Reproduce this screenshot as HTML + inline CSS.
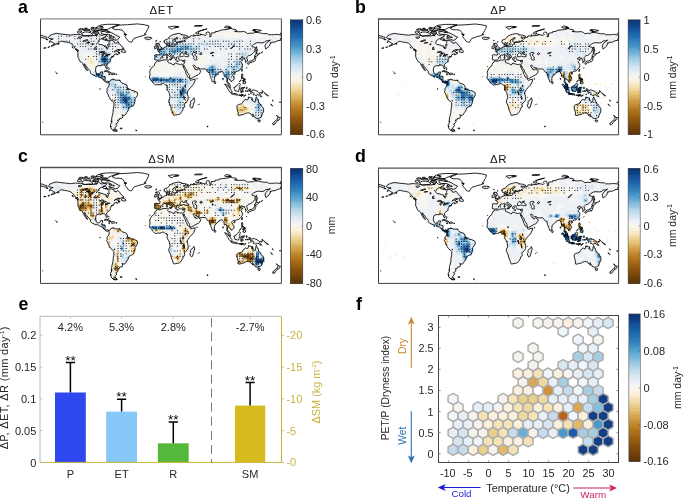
<!DOCTYPE html><html><head><meta charset="utf-8"><title>Figure</title><style>html,body{margin:0;padding:0;background:#fff}svg{display:block;will-change:transform}</style></head><body><svg width="685" height="498" viewBox="0 0 685 498" font-family='"Liberation Sans", Arial, sans-serif'>
<rect width="685" height="498" fill="#fff"/>
<g>
<path fill="#b47a1f" d="M239.9 108.5h1.5v1.7h-1.5z"/>
<path fill="#c0882d" d="M243.9 107.0h1.5v1.7h-1.5z"/>
<path fill="#cc983d" d="M171.7 111.6h1.5v1.7h-1.5z"/>
<path fill="#d6aa54" d="M245.3 107.0h1.5v1.7h-1.5zM238.6 108.5h1.5v1.7h-1.5zM241.2 108.5h1.5v1.7h-1.5zM243.9 108.5h2.8v1.7h-2.8zM239.9 110.1h1.5v1.7h-1.5zM173.0 111.6h1.5v1.7h-1.5z"/>
<path fill="#e1bd6f" d="M241.2 105.4h2.8v1.7h-2.8zM242.6 107.0h1.5v1.7h-1.5zM237.2 108.5h1.5v1.7h-1.5zM246.6 108.5h1.5v1.7h-1.5zM238.6 110.1h1.5v1.7h-1.5zM241.2 110.1h1.5v1.7h-1.5zM243.9 110.1h1.5v1.7h-1.5zM173.0 113.2h1.5v1.7h-1.5z"/>
<path fill="#eacd8b" d="M237.2 107.0h5.5v1.7h-5.5zM242.6 108.5h1.5v1.7h-1.5zM171.7 110.1h2.8v1.7h-2.8zM237.2 110.1h1.5v1.7h-1.5zM242.6 110.1h1.5v1.7h-1.5zM174.3 111.6h1.5v1.7h-1.5z"/>
<path fill="#f2dca8" d="M88.7 57.5h1.5v1.7h-1.5zM90.0 59.1h1.5v1.7h-1.5zM90.0 60.6h2.8v1.7h-2.8zM91.4 62.2h1.5v1.7h-1.5zM132.8 90.0h2.8v1.7h-2.8zM135.5 91.5h1.5v1.7h-1.5zM185.0 100.8h1.5v1.7h-1.5zM185.0 102.3h1.5v1.7h-1.5zM241.2 103.9h2.8v1.7h-2.8zM237.2 105.4h1.5v1.7h-1.5zM239.9 105.4h1.5v1.7h-1.5zM243.9 105.4h1.5v1.7h-1.5zM246.6 107.0h1.5v1.7h-1.5zM170.3 108.5h1.5v1.7h-1.5zM245.3 110.1h1.5v1.7h-1.5zM238.6 111.6h6.8v1.7h-6.8zM174.3 113.2h1.5v1.7h-1.5zM238.6 113.2h1.5v1.7h-1.5z"/>
<path fill="#f7e8c6" d="M88.7 56.0h1.5v1.7h-1.5zM87.3 57.5h1.5v1.7h-1.5zM90.0 57.5h1.5v1.7h-1.5zM87.3 59.1h2.8v1.7h-2.8zM91.4 59.1h1.5v1.7h-1.5zM90.0 62.2h1.5v1.7h-1.5zM92.7 62.2h1.5v1.7h-1.5zM134.2 91.5h1.5v1.7h-1.5zM135.5 93.1h1.5v1.7h-1.5zM185.0 99.3h2.8v1.7h-2.8zM186.4 100.8h1.5v1.7h-1.5zM239.9 103.9h1.5v1.7h-1.5zM238.6 105.4h1.5v1.7h-1.5zM245.3 105.4h1.5v1.7h-1.5zM170.3 107.0h1.5v1.7h-1.5zM247.9 107.0h1.5v1.7h-1.5zM171.7 108.5h1.5v1.7h-1.5zM247.9 108.5h1.5v1.7h-1.5zM246.6 110.1h4.2v1.7h-4.2zM237.2 111.6h1.5v1.7h-1.5zM237.2 113.2h1.5v1.7h-1.5zM239.9 113.2h4.2v1.7h-4.2zM238.6 114.7h1.5v1.7h-1.5z"/>
<path fill="#faf1e1" d="M227.9 29.7h1.5v1.7h-1.5zM207.8 31.3h1.5v1.7h-1.5zM214.5 31.3h5.5v1.7h-5.5zM221.2 31.3h9.5v1.7h-9.5zM233.2 31.3h4.2v1.7h-4.2zM214.5 32.8h5.5v1.7h-5.5zM222.5 32.8h5.5v1.7h-5.5zM229.2 32.8h1.5v1.7h-1.5zM233.2 32.8h5.5v1.7h-5.5zM249.3 32.8h2.8v1.7h-2.8zM86.0 56.0h2.8v1.7h-2.8zM90.0 56.0h2.8v1.7h-2.8zM86.0 57.5h1.5v1.7h-1.5zM91.4 57.5h2.8v1.7h-2.8zM202.4 57.5h1.5v1.7h-1.5zM86.0 59.1h1.5v1.7h-1.5zM92.7 59.1h1.5v1.7h-1.5zM86.0 60.6h4.2v1.7h-4.2zM92.7 60.6h1.5v1.7h-1.5zM87.3 62.2h2.8v1.7h-2.8zM94.0 62.2h1.5v1.7h-1.5zM87.3 63.7h8.2v1.7h-8.2zM87.3 65.3h6.8v1.7h-6.8zM88.7 66.8h2.8v1.7h-2.8zM156.9 66.8h1.5v1.7h-1.5zM187.7 66.8h1.5v1.7h-1.5zM191.7 66.8h1.5v1.7h-1.5zM156.9 68.4h1.5v1.7h-1.5zM187.7 68.4h6.8v1.7h-6.8zM190.4 69.9h2.8v1.7h-2.8zM191.7 71.4h1.5v1.7h-1.5zM191.7 73.0h1.5v1.7h-1.5zM190.4 74.5h2.8v1.7h-2.8zM194.4 74.5h1.5v1.7h-1.5zM131.5 90.0h1.5v1.7h-1.5zM131.5 91.5h2.8v1.7h-2.8zM136.9 91.5h1.5v1.7h-1.5zM134.2 94.6h2.8v1.7h-2.8zM111.4 96.2h2.8v1.7h-2.8zM111.4 97.7h2.8v1.7h-2.8zM185.0 97.7h2.8v1.7h-2.8zM183.7 100.8h1.5v1.7h-1.5zM183.7 102.3h1.5v1.7h-1.5zM241.2 102.3h2.8v1.7h-2.8zM237.2 103.9h2.8v1.7h-2.8zM170.3 105.4h1.5v1.7h-1.5zM235.9 105.4h1.5v1.7h-1.5zM246.6 105.4h1.5v1.7h-1.5zM171.7 107.0h1.5v1.7h-1.5zM235.9 107.0h1.5v1.7h-1.5zM249.3 107.0h1.5v1.7h-1.5zM173.0 108.5h1.5v1.7h-1.5zM249.3 108.5h2.8v1.7h-2.8zM174.3 110.1h1.5v1.7h-1.5zM250.6 110.1h1.5v1.7h-1.5zM118.1 111.6h1.5v1.7h-1.5zM175.7 111.6h1.5v1.7h-1.5zM245.3 111.6h1.5v1.7h-1.5zM249.3 111.6h2.8v1.7h-2.8zM118.1 113.2h1.5v1.7h-1.5zM175.7 113.2h1.5v1.7h-1.5zM243.9 113.2h1.5v1.7h-1.5zM173.0 114.7h1.5v1.7h-1.5zM237.2 114.7h1.5v1.7h-1.5zM239.9 114.7h1.5v1.7h-1.5z"/>
<path fill="#f8f6f1" d="M218.5 29.7h9.5v1.7h-9.5zM229.2 29.7h8.2v1.7h-8.2zM253.3 29.7h8.2v1.7h-8.2zM219.8 31.3h1.5v1.7h-1.5zM230.5 31.3h2.8v1.7h-2.8zM237.2 31.3h9.5v1.7h-9.5zM253.3 31.3h2.8v1.7h-2.8zM257.3 31.3h2.8v1.7h-2.8zM177.0 32.8h4.2v1.7h-4.2zM207.8 32.8h6.8v1.7h-6.8zM219.8 32.8h2.8v1.7h-2.8zM227.9 32.8h1.5v1.7h-1.5zM230.5 32.8h2.8v1.7h-2.8zM238.6 32.8h10.9v1.7h-10.9zM252.0 32.8h12.2v1.7h-12.2zM265.3 32.8h1.5v1.7h-1.5zM72.6 34.4h2.8v1.7h-2.8zM185.0 34.4h2.8v1.7h-2.8zM190.4 34.4h1.5v1.7h-1.5zM193.1 34.4h4.2v1.7h-4.2zM198.4 34.4h4.2v1.7h-4.2zM203.8 34.4h16.2v1.7h-16.2zM221.2 34.4h51.0v1.7h-51.0zM277.4 34.4h1.5v1.7h-1.5zM51.2 35.9h2.8v1.7h-2.8zM74.0 35.9h1.5v1.7h-1.5zM185.0 35.9h2.8v1.7h-2.8zM190.4 35.9h4.2v1.7h-4.2zM198.4 35.9h4.2v1.7h-4.2zM207.8 35.9h8.2v1.7h-8.2zM223.9 35.9h16.2v1.7h-16.2zM242.6 35.9h6.8v1.7h-6.8zM250.6 35.9h12.2v1.7h-12.2zM265.3 35.9h6.8v1.7h-6.8zM277.4 35.9h2.8v1.7h-2.8zM51.2 37.4h2.8v1.7h-2.8zM186.4 37.4h1.5v1.7h-1.5zM229.2 37.4h2.8v1.7h-2.8zM242.6 37.4h5.5v1.7h-5.5zM256.0 37.4h5.5v1.7h-5.5zM266.7 37.4h4.2v1.7h-4.2zM277.4 37.4h2.8v1.7h-2.8zM45.9 39.0h1.5v1.7h-1.5zM51.2 39.0h4.2v1.7h-4.2zM256.0 39.0h4.2v1.7h-4.2zM268.0 39.0h1.5v1.7h-1.5zM51.2 40.5h4.2v1.7h-4.2zM53.9 42.1h1.5v1.7h-1.5zM57.9 42.1h1.5v1.7h-1.5zM253.3 46.7h4.2v1.7h-4.2zM118.1 48.3h2.8v1.7h-2.8zM256.0 48.3h1.5v1.7h-1.5zM111.4 49.8h1.5v1.7h-1.5zM118.1 49.8h2.8v1.7h-2.8zM86.0 52.9h5.5v1.7h-5.5zM201.1 52.9h4.2v1.7h-4.2zM207.8 52.9h4.2v1.7h-4.2zM217.2 52.9h2.8v1.7h-2.8zM227.9 52.9h4.2v1.7h-4.2zM79.3 54.4h2.8v1.7h-2.8zM83.3 54.4h9.5v1.7h-9.5zM197.1 54.4h13.5v1.7h-13.5zM215.8 54.4h4.2v1.7h-4.2zM221.2 54.4h1.5v1.7h-1.5zM83.3 56.0h2.8v1.7h-2.8zM92.7 56.0h1.5v1.7h-1.5zM169.0 56.0h4.2v1.7h-4.2zM195.7 56.0h14.9v1.7h-14.9zM215.8 56.0h5.5v1.7h-5.5zM84.7 57.5h1.5v1.7h-1.5zM94.0 57.5h1.5v1.7h-1.5zM166.3 57.5h1.5v1.7h-1.5zM170.3 57.5h2.8v1.7h-2.8zM189.1 57.5h1.5v1.7h-1.5zM195.7 57.5h6.8v1.7h-6.8zM203.8 57.5h6.8v1.7h-6.8zM217.2 57.5h2.8v1.7h-2.8zM253.3 57.5h2.8v1.7h-2.8zM84.7 59.1h1.5v1.7h-1.5zM94.0 59.1h2.8v1.7h-2.8zM165.0 59.1h6.8v1.7h-6.8zM174.3 59.1h1.5v1.7h-1.5zM179.7 59.1h1.5v1.7h-1.5zM187.7 59.1h4.2v1.7h-4.2zM195.7 59.1h10.9v1.7h-10.9zM207.8 59.1h1.5v1.7h-1.5zM253.3 59.1h2.8v1.7h-2.8zM83.3 60.6h2.8v1.7h-2.8zM94.0 60.6h2.8v1.7h-2.8zM155.6 60.6h8.2v1.7h-8.2zM165.0 60.6h4.2v1.7h-4.2zM177.0 60.6h2.8v1.7h-2.8zM187.7 60.6h4.2v1.7h-4.2zM195.7 60.6h10.9v1.7h-10.9zM207.8 60.6h1.5v1.7h-1.5zM82.0 62.2h1.5v1.7h-1.5zM86.0 62.2h1.5v1.7h-1.5zM95.4 62.2h1.5v1.7h-1.5zM154.3 62.2h9.5v1.7h-9.5zM166.3 62.2h4.2v1.7h-4.2zM186.4 62.2h5.5v1.7h-5.5zM195.7 62.2h12.2v1.7h-12.2zM86.0 63.7h1.5v1.7h-1.5zM95.4 63.7h1.5v1.7h-1.5zM154.3 63.7h16.2v1.7h-16.2zM177.0 63.7h4.2v1.7h-4.2zM185.0 63.7h8.2v1.7h-8.2zM194.4 63.7h9.5v1.7h-9.5zM84.7 65.3h2.8v1.7h-2.8zM94.0 65.3h2.8v1.7h-2.8zM148.9 65.3h1.5v1.7h-1.5zM152.9 65.3h20.2v1.7h-20.2zM177.0 65.3h4.2v1.7h-4.2zM182.4 65.3h21.6v1.7h-21.6zM86.0 66.8h2.8v1.7h-2.8zM91.4 66.8h5.5v1.7h-5.5zM151.6 66.8h5.5v1.7h-5.5zM158.3 66.8h16.2v1.7h-16.2zM177.0 66.8h10.9v1.7h-10.9zM189.1 66.8h2.8v1.7h-2.8zM193.1 66.8h1.5v1.7h-1.5zM195.7 66.8h6.8v1.7h-6.8zM84.7 68.4h12.2v1.7h-12.2zM150.2 68.4h6.8v1.7h-6.8zM158.3 68.4h4.2v1.7h-4.2zM163.6 68.4h24.2v1.7h-24.2zM194.4 68.4h1.5v1.7h-1.5zM201.1 68.4h1.5v1.7h-1.5zM88.7 69.9h4.2v1.7h-4.2zM104.7 69.9h4.2v1.7h-4.2zM148.9 69.9h41.6v1.7h-41.6zM193.1 69.9h1.5v1.7h-1.5zM106.1 71.4h5.5v1.7h-5.5zM148.9 71.4h25.6v1.7h-25.6zM175.7 71.4h4.2v1.7h-4.2zM181.0 71.4h10.9v1.7h-10.9zM193.1 71.4h1.5v1.7h-1.5zM195.7 71.4h5.5v1.7h-5.5zM148.9 73.0h25.6v1.7h-25.6zM182.4 73.0h4.2v1.7h-4.2zM187.7 73.0h4.2v1.7h-4.2zM193.1 73.0h6.8v1.7h-6.8zM151.6 74.5h5.5v1.7h-5.5zM158.3 74.5h16.2v1.7h-16.2zM182.4 74.5h2.8v1.7h-2.8zM186.4 74.5h1.5v1.7h-1.5zM189.1 74.5h1.5v1.7h-1.5zM193.1 74.5h1.5v1.7h-1.5zM195.7 74.5h2.8v1.7h-2.8zM189.1 76.1h6.8v1.7h-6.8zM241.2 76.1h1.5v1.7h-1.5zM195.7 77.6h2.8v1.7h-2.8zM241.2 77.6h2.8v1.7h-2.8zM239.9 79.2h1.5v1.7h-1.5zM242.6 79.2h1.5v1.7h-1.5zM211.8 80.7h1.5v1.7h-1.5zM238.6 80.7h2.8v1.7h-2.8zM242.6 80.7h1.5v1.7h-1.5zM242.6 82.3h1.5v1.7h-1.5zM160.9 83.8h1.5v1.7h-1.5zM229.2 85.3h1.5v1.7h-1.5zM237.2 85.3h2.8v1.7h-2.8zM226.5 86.9h1.5v1.7h-1.5zM229.2 86.9h2.8v1.7h-2.8zM237.2 86.9h1.5v1.7h-1.5zM245.3 86.9h1.5v1.7h-1.5zM229.2 88.4h2.8v1.7h-2.8zM247.9 88.4h2.8v1.7h-2.8zM239.9 90.0h2.8v1.7h-2.8zM249.3 90.0h1.5v1.7h-1.5zM239.9 91.5h4.2v1.7h-4.2zM110.1 93.1h4.2v1.7h-4.2zM134.2 93.1h1.5v1.7h-1.5zM136.9 93.1h1.5v1.7h-1.5zM110.1 94.6h4.2v1.7h-4.2zM136.9 94.6h1.5v1.7h-1.5zM110.1 96.2h1.5v1.7h-1.5zM186.4 96.2h1.5v1.7h-1.5zM110.1 97.7h1.5v1.7h-1.5zM110.1 99.3h4.2v1.7h-4.2zM183.7 99.3h1.5v1.7h-1.5zM187.7 99.3h1.5v1.7h-1.5zM111.4 100.8h2.8v1.7h-2.8zM242.6 100.8h2.8v1.7h-2.8zM112.8 102.3h1.5v1.7h-1.5zM243.9 102.3h4.2v1.7h-4.2zM112.8 103.9h2.8v1.7h-2.8zM170.3 103.9h2.8v1.7h-2.8zM183.7 103.9h1.5v1.7h-1.5zM243.9 103.9h5.5v1.7h-5.5zM270.7 103.9h1.5v1.7h-1.5zM112.8 105.4h1.5v1.7h-1.5zM171.7 105.4h2.8v1.7h-2.8zM183.7 105.4h1.5v1.7h-1.5zM247.9 105.4h4.2v1.7h-4.2zM112.8 107.0h1.5v1.7h-1.5zM173.0 107.0h1.5v1.7h-1.5zM183.7 107.0h1.5v1.7h-1.5zM250.6 107.0h1.5v1.7h-1.5zM112.8 108.5h1.5v1.7h-1.5zM116.8 108.5h2.8v1.7h-2.8zM252.0 108.5h1.5v1.7h-1.5zM116.8 110.1h5.5v1.7h-5.5zM252.0 110.1h1.5v1.7h-1.5zM115.4 111.6h2.8v1.7h-2.8zM119.5 111.6h2.8v1.7h-2.8zM246.6 111.6h2.8v1.7h-2.8zM252.0 111.6h1.5v1.7h-1.5zM114.1 113.2h4.2v1.7h-4.2zM119.5 113.2h5.5v1.7h-5.5zM177.0 113.2h1.5v1.7h-1.5zM249.3 113.2h4.2v1.7h-4.2zM114.1 114.7h10.9v1.7h-10.9zM174.3 114.7h2.8v1.7h-2.8zM250.6 114.7h2.8v1.7h-2.8zM276.0 114.7h1.5v1.7h-1.5zM114.1 116.3h9.5v1.7h-9.5zM112.8 117.8h9.5v1.7h-9.5zM276.0 117.8h1.5v1.7h-1.5zM112.8 119.3h6.8v1.7h-6.8zM274.7 119.3h2.8v1.7h-2.8zM112.8 120.9h4.2v1.7h-4.2zM118.1 120.9h1.5v1.7h-1.5zM274.7 120.9h2.8v1.7h-2.8zM274.7 122.4h1.5v1.7h-1.5zM110.1 125.5h4.2v1.7h-4.2zM111.4 127.1h4.2v1.7h-4.2zM112.8 128.6h1.5v1.7h-1.5zM112.8 130.2h1.5v1.7h-1.5z"/>
<path fill="#edf1f5" d="M252.0 29.7h1.5v1.7h-1.5zM256.0 31.3h1.5v1.7h-1.5zM52.5 32.8h10.9v1.7h-10.9zM174.3 32.8h2.8v1.7h-2.8zM264.0 32.8h1.5v1.7h-1.5zM266.7 32.8h1.5v1.7h-1.5zM280.1 32.8h1.5v1.7h-1.5zM40.5 34.4h2.8v1.7h-2.8zM49.9 34.4h22.9v1.7h-22.9zM75.3 34.4h32.3v1.7h-32.3zM108.8 34.4h8.2v1.7h-8.2zM123.5 34.4h1.5v1.7h-1.5zM170.3 34.4h14.9v1.7h-14.9zM197.1 34.4h1.5v1.7h-1.5zM202.4 34.4h1.5v1.7h-1.5zM219.8 34.4h1.5v1.7h-1.5zM272.0 34.4h5.5v1.7h-5.5zM278.7 34.4h2.8v1.7h-2.8zM40.5 35.9h6.8v1.7h-6.8zM48.5 35.9h2.8v1.7h-2.8zM53.9 35.9h20.2v1.7h-20.2zM75.3 35.9h32.3v1.7h-32.3zM108.8 35.9h12.2v1.7h-12.2zM146.2 35.9h4.2v1.7h-4.2zM169.0 35.9h4.2v1.7h-4.2zM174.3 35.9h10.9v1.7h-10.9zM187.7 35.9h2.8v1.7h-2.8zM194.4 35.9h4.2v1.7h-4.2zM202.4 35.9h5.5v1.7h-5.5zM215.8 35.9h8.2v1.7h-8.2zM239.9 35.9h2.8v1.7h-2.8zM249.3 35.9h1.5v1.7h-1.5zM262.7 35.9h2.8v1.7h-2.8zM272.0 35.9h5.5v1.7h-5.5zM280.1 35.9h1.5v1.7h-1.5zM40.5 37.4h6.8v1.7h-6.8zM48.5 37.4h2.8v1.7h-2.8zM53.9 37.4h53.7v1.7h-53.7zM108.8 37.4h10.9v1.7h-10.9zM143.6 37.4h9.5v1.7h-9.5zM167.6 37.4h4.2v1.7h-4.2zM177.0 37.4h2.8v1.7h-2.8zM181.0 37.4h4.2v1.7h-4.2zM187.7 37.4h41.6v1.7h-41.6zM231.9 37.4h10.9v1.7h-10.9zM247.9 37.4h8.2v1.7h-8.2zM261.3 37.4h5.5v1.7h-5.5zM270.7 37.4h6.8v1.7h-6.8zM280.1 37.4h1.5v1.7h-1.5zM47.2 39.0h1.5v1.7h-1.5zM49.9 39.0h1.5v1.7h-1.5zM55.2 39.0h45.7v1.7h-45.7zM102.1 39.0h1.5v1.7h-1.5zM104.7 39.0h9.5v1.7h-9.5zM115.4 39.0h2.8v1.7h-2.8zM146.2 39.0h4.2v1.7h-4.2zM155.6 39.0h1.5v1.7h-1.5zM163.6 39.0h8.2v1.7h-8.2zM181.0 39.0h1.5v1.7h-1.5zM185.0 39.0h28.3v1.7h-28.3zM223.9 39.0h14.9v1.7h-14.9zM241.2 39.0h14.9v1.7h-14.9zM260.0 39.0h8.2v1.7h-8.2zM269.4 39.0h12.2v1.7h-12.2zM48.5 40.5h2.8v1.7h-2.8zM55.2 40.5h25.6v1.7h-25.6zM83.3 40.5h5.5v1.7h-5.5zM90.0 40.5h1.5v1.7h-1.5zM95.4 40.5h4.2v1.7h-4.2zM106.1 40.5h8.2v1.7h-8.2zM116.8 40.5h1.5v1.7h-1.5zM155.6 40.5h1.5v1.7h-1.5zM159.6 40.5h1.5v1.7h-1.5zM163.6 40.5h8.2v1.7h-8.2zM186.4 40.5h4.2v1.7h-4.2zM194.4 40.5h4.2v1.7h-4.2zM210.5 40.5h1.5v1.7h-1.5zM225.2 40.5h2.8v1.7h-2.8zM234.6 40.5h1.5v1.7h-1.5zM242.6 40.5h36.3v1.7h-36.3zM52.5 42.1h1.5v1.7h-1.5zM55.2 42.1h2.8v1.7h-2.8zM67.3 42.1h13.5v1.7h-13.5zM83.3 42.1h4.2v1.7h-4.2zM90.0 42.1h1.5v1.7h-1.5zM94.0 42.1h4.2v1.7h-4.2zM111.4 42.1h8.2v1.7h-8.2zM155.6 42.1h4.2v1.7h-4.2zM163.6 42.1h6.8v1.7h-6.8zM186.4 42.1h1.5v1.7h-1.5zM194.4 42.1h2.8v1.7h-2.8zM219.8 42.1h4.2v1.7h-4.2zM225.2 42.1h2.8v1.7h-2.8zM241.2 42.1h4.2v1.7h-4.2zM246.6 42.1h26.9v1.7h-26.9zM52.5 43.6h6.8v1.7h-6.8zM71.3 43.6h9.5v1.7h-9.5zM82.0 43.6h5.5v1.7h-5.5zM90.0 43.6h6.8v1.7h-6.8zM99.4 43.6h4.2v1.7h-4.2zM107.4 43.6h1.5v1.7h-1.5zM112.8 43.6h8.2v1.7h-8.2zM155.6 43.6h4.2v1.7h-4.2zM166.3 43.6h2.8v1.7h-2.8zM195.7 43.6h1.5v1.7h-1.5zM199.8 43.6h2.8v1.7h-2.8zM215.8 43.6h1.5v1.7h-1.5zM219.8 43.6h4.2v1.7h-4.2zM239.9 43.6h4.2v1.7h-4.2zM247.9 43.6h6.8v1.7h-6.8zM265.3 43.6h5.5v1.7h-5.5zM49.9 45.2h4.2v1.7h-4.2zM72.6 45.2h14.9v1.7h-14.9zM90.0 45.2h6.8v1.7h-6.8zM107.4 45.2h2.8v1.7h-2.8zM112.8 45.2h9.5v1.7h-9.5zM156.9 45.2h2.8v1.7h-2.8zM199.8 45.2h2.8v1.7h-2.8zM209.1 45.2h4.2v1.7h-4.2zM214.5 45.2h2.8v1.7h-2.8zM219.8 45.2h2.8v1.7h-2.8zM234.6 45.2h2.8v1.7h-2.8zM238.6 45.2h6.8v1.7h-6.8zM247.9 45.2h5.5v1.7h-5.5zM264.0 45.2h5.5v1.7h-5.5zM43.2 46.7h2.8v1.7h-2.8zM47.2 46.7h2.8v1.7h-2.8zM71.3 46.7h12.2v1.7h-12.2zM86.0 46.7h1.5v1.7h-1.5zM90.0 46.7h5.5v1.7h-5.5zM107.4 46.7h16.2v1.7h-16.2zM199.8 46.7h2.8v1.7h-2.8zM206.5 46.7h12.2v1.7h-12.2zM219.8 46.7h4.2v1.7h-4.2zM227.9 46.7h4.2v1.7h-4.2zM234.6 46.7h5.5v1.7h-5.5zM241.2 46.7h5.5v1.7h-5.5zM247.9 46.7h5.5v1.7h-5.5zM265.3 46.7h4.2v1.7h-4.2zM75.3 48.3h21.6v1.7h-21.6zM107.4 48.3h10.9v1.7h-10.9zM120.8 48.3h4.2v1.7h-4.2zM202.4 48.3h1.5v1.7h-1.5zM206.5 48.3h32.3v1.7h-32.3zM241.2 48.3h5.5v1.7h-5.5zM250.6 48.3h5.5v1.7h-5.5zM265.3 48.3h1.5v1.7h-1.5zM75.3 49.8h17.5v1.7h-17.5zM94.0 49.8h1.5v1.7h-1.5zM98.0 49.8h1.5v1.7h-1.5zM108.8 49.8h2.8v1.7h-2.8zM112.8 49.8h5.5v1.7h-5.5zM120.8 49.8h5.5v1.7h-5.5zM197.1 49.8h1.5v1.7h-1.5zM201.1 49.8h36.3v1.7h-36.3zM250.6 49.8h8.2v1.7h-8.2zM76.6 51.4h16.2v1.7h-16.2zM110.1 51.4h9.5v1.7h-9.5zM120.8 51.4h5.5v1.7h-5.5zM183.7 51.4h1.5v1.7h-1.5zM197.1 51.4h40.3v1.7h-40.3zM249.3 51.4h5.5v1.7h-5.5zM256.0 51.4h1.5v1.7h-1.5zM261.3 51.4h1.5v1.7h-1.5zM78.0 52.9h8.2v1.7h-8.2zM91.4 52.9h2.8v1.7h-2.8zM111.4 52.9h9.5v1.7h-9.5zM195.7 52.9h5.5v1.7h-5.5zM205.1 52.9h2.8v1.7h-2.8zM211.8 52.9h5.5v1.7h-5.5zM219.8 52.9h8.2v1.7h-8.2zM231.9 52.9h5.5v1.7h-5.5zM249.3 52.9h4.2v1.7h-4.2zM254.6 52.9h6.8v1.7h-6.8zM76.6 54.4h2.8v1.7h-2.8zM82.0 54.4h1.5v1.7h-1.5zM92.7 54.4h2.8v1.7h-2.8zM112.8 54.4h1.5v1.7h-1.5zM116.8 54.4h1.5v1.7h-1.5zM167.6 54.4h5.5v1.7h-5.5zM175.7 54.4h1.5v1.7h-1.5zM178.3 54.4h1.5v1.7h-1.5zM190.4 54.4h2.8v1.7h-2.8zM194.4 54.4h2.8v1.7h-2.8zM210.5 54.4h5.5v1.7h-5.5zM219.8 54.4h1.5v1.7h-1.5zM222.5 54.4h14.9v1.7h-14.9zM249.3 54.4h2.8v1.7h-2.8zM254.6 54.4h4.2v1.7h-4.2zM78.0 56.0h5.5v1.7h-5.5zM94.0 56.0h5.5v1.7h-5.5zM108.8 56.0h1.5v1.7h-1.5zM112.8 56.0h1.5v1.7h-1.5zM166.3 56.0h1.5v1.7h-1.5zM173.0 56.0h21.6v1.7h-21.6zM210.5 56.0h5.5v1.7h-5.5zM221.2 56.0h16.2v1.7h-16.2zM254.6 56.0h2.8v1.7h-2.8zM78.0 57.5h6.8v1.7h-6.8zM95.4 57.5h1.5v1.7h-1.5zM162.3 57.5h1.5v1.7h-1.5zM174.3 57.5h2.8v1.7h-2.8zM178.3 57.5h10.9v1.7h-10.9zM190.4 57.5h4.2v1.7h-4.2zM210.5 57.5h6.8v1.7h-6.8zM219.8 57.5h13.5v1.7h-13.5zM78.0 59.1h6.8v1.7h-6.8zM154.3 59.1h10.9v1.7h-10.9zM175.7 59.1h1.5v1.7h-1.5zM178.3 59.1h1.5v1.7h-1.5zM181.0 59.1h6.8v1.7h-6.8zM191.7 59.1h4.2v1.7h-4.2zM206.5 59.1h1.5v1.7h-1.5zM209.1 59.1h24.2v1.7h-24.2zM241.2 59.1h1.5v1.7h-1.5zM246.6 59.1h1.5v1.7h-1.5zM252.0 59.1h1.5v1.7h-1.5zM79.3 60.6h4.2v1.7h-4.2zM96.7 60.6h1.5v1.7h-1.5zM163.6 60.6h1.5v1.7h-1.5zM175.7 60.6h1.5v1.7h-1.5zM182.4 60.6h5.5v1.7h-5.5zM191.7 60.6h4.2v1.7h-4.2zM206.5 60.6h1.5v1.7h-1.5zM209.1 60.6h24.2v1.7h-24.2zM245.3 60.6h10.9v1.7h-10.9zM83.3 62.2h2.8v1.7h-2.8zM96.7 62.2h1.5v1.7h-1.5zM163.6 62.2h2.8v1.7h-2.8zM170.3 62.2h1.5v1.7h-1.5zM174.3 62.2h2.8v1.7h-2.8zM183.7 62.2h2.8v1.7h-2.8zM191.7 62.2h4.2v1.7h-4.2zM207.8 62.2h25.6v1.7h-25.6zM245.3 62.2h6.8v1.7h-6.8zM82.0 63.7h4.2v1.7h-4.2zM96.7 63.7h2.8v1.7h-2.8zM170.3 63.7h6.8v1.7h-6.8zM181.0 63.7h4.2v1.7h-4.2zM193.1 63.7h1.5v1.7h-1.5zM203.8 63.7h6.8v1.7h-6.8zM217.2 63.7h9.5v1.7h-9.5zM230.5 63.7h2.8v1.7h-2.8zM247.9 63.7h1.5v1.7h-1.5zM83.3 65.3h1.5v1.7h-1.5zM96.7 65.3h2.8v1.7h-2.8zM173.0 65.3h4.2v1.7h-4.2zM181.0 65.3h1.5v1.7h-1.5zM203.8 65.3h1.5v1.7h-1.5zM221.2 65.3h4.2v1.7h-4.2zM84.7 66.8h1.5v1.7h-1.5zM106.1 66.8h4.2v1.7h-4.2zM174.3 66.8h2.8v1.7h-2.8zM202.4 66.8h2.8v1.7h-2.8zM221.2 66.8h2.8v1.7h-2.8zM246.6 66.8h1.5v1.7h-1.5zM106.1 68.4h1.5v1.7h-1.5zM162.3 68.4h1.5v1.7h-1.5zM195.7 68.4h5.5v1.7h-5.5zM202.4 68.4h2.8v1.7h-2.8zM229.2 68.4h1.5v1.7h-1.5zM86.0 69.9h2.8v1.7h-2.8zM92.7 69.9h2.8v1.7h-2.8zM194.4 69.9h6.8v1.7h-6.8zM55.2 71.4h1.5v1.7h-1.5zM90.0 71.4h2.8v1.7h-2.8zM174.3 71.4h1.5v1.7h-1.5zM179.7 71.4h1.5v1.7h-1.5zM194.4 71.4h1.5v1.7h-1.5zM56.6 73.0h1.5v1.7h-1.5zM90.0 73.0h2.8v1.7h-2.8zM108.8 73.0h8.2v1.7h-8.2zM174.3 73.0h8.2v1.7h-8.2zM241.2 73.0h1.5v1.7h-1.5zM108.8 74.5h1.5v1.7h-1.5zM148.9 74.5h2.8v1.7h-2.8zM156.9 74.5h1.5v1.7h-1.5zM174.3 74.5h8.2v1.7h-8.2zM185.0 74.5h1.5v1.7h-1.5zM241.2 74.5h2.8v1.7h-2.8zM144.9 76.1h1.5v1.7h-1.5zM148.9 76.1h2.8v1.7h-2.8zM159.6 76.1h9.5v1.7h-9.5zM179.7 76.1h9.5v1.7h-9.5zM210.5 76.1h1.5v1.7h-1.5zM233.2 76.1h1.5v1.7h-1.5zM189.1 77.6h4.2v1.7h-4.2zM210.5 77.6h2.8v1.7h-2.8zM231.9 77.6h2.8v1.7h-2.8zM243.9 77.6h1.5v1.7h-1.5zM116.8 79.2h4.2v1.7h-4.2zM190.4 79.2h5.5v1.7h-5.5zM211.8 79.2h2.8v1.7h-2.8zM230.5 79.2h4.2v1.7h-4.2zM243.9 79.2h1.5v1.7h-1.5zM103.4 80.7h4.2v1.7h-4.2zM116.8 80.7h4.2v1.7h-4.2zM190.4 80.7h5.5v1.7h-5.5zM213.1 80.7h2.8v1.7h-2.8zM230.5 80.7h2.8v1.7h-2.8zM243.9 80.7h2.8v1.7h-2.8zM116.8 82.3h2.8v1.7h-2.8zM120.8 82.3h2.8v1.7h-2.8zM152.9 82.3h1.5v1.7h-1.5zM158.3 82.3h8.2v1.7h-8.2zM190.4 82.3h4.2v1.7h-4.2zM214.5 82.3h1.5v1.7h-1.5zM226.5 82.3h1.5v1.7h-1.5zM238.6 82.3h1.5v1.7h-1.5zM243.9 82.3h2.8v1.7h-2.8zM118.1 83.8h1.5v1.7h-1.5zM120.8 83.8h2.8v1.7h-2.8zM124.8 83.8h2.8v1.7h-2.8zM154.3 83.8h6.8v1.7h-6.8zM163.6 83.8h4.2v1.7h-4.2zM179.7 83.8h1.5v1.7h-1.5zM190.4 83.8h4.2v1.7h-4.2zM223.9 83.8h2.8v1.7h-2.8zM227.9 83.8h2.8v1.7h-2.8zM237.2 83.8h4.2v1.7h-4.2zM243.9 83.8h1.5v1.7h-1.5zM166.3 85.3h1.5v1.7h-1.5zM169.0 85.3h1.5v1.7h-1.5zM189.1 85.3h4.2v1.7h-4.2zM225.2 85.3h4.2v1.7h-4.2zM234.6 85.3h2.8v1.7h-2.8zM166.3 86.9h5.5v1.7h-5.5zM187.7 86.9h4.2v1.7h-4.2zM227.9 86.9h1.5v1.7h-1.5zM233.2 86.9h4.2v1.7h-4.2zM238.6 86.9h1.5v1.7h-1.5zM241.2 86.9h4.2v1.7h-4.2zM246.6 86.9h1.5v1.7h-1.5zM99.4 88.4h1.5v1.7h-1.5zM128.8 88.4h2.8v1.7h-2.8zM166.3 88.4h8.2v1.7h-8.2zM187.7 88.4h2.8v1.7h-2.8zM227.9 88.4h1.5v1.7h-1.5zM233.2 88.4h10.9v1.7h-10.9zM252.0 88.4h1.5v1.7h-1.5zM106.1 90.0h1.5v1.7h-1.5zM130.2 90.0h1.5v1.7h-1.5zM167.6 90.0h6.8v1.7h-6.8zM187.7 90.0h1.5v1.7h-1.5zM227.9 90.0h4.2v1.7h-4.2zM234.6 90.0h5.5v1.7h-5.5zM242.6 90.0h1.5v1.7h-1.5zM245.3 90.0h4.2v1.7h-4.2zM250.6 90.0h6.8v1.7h-6.8zM261.3 90.0h1.5v1.7h-1.5zM106.1 91.5h8.2v1.7h-8.2zM167.6 91.5h5.5v1.7h-5.5zM229.2 91.5h2.8v1.7h-2.8zM250.6 91.5h14.9v1.7h-14.9zM107.4 93.1h2.8v1.7h-2.8zM131.5 93.1h2.8v1.7h-2.8zM169.0 93.1h4.2v1.7h-4.2zM230.5 93.1h6.8v1.7h-6.8zM247.9 93.1h1.5v1.7h-1.5zM250.6 93.1h1.5v1.7h-1.5zM253.3 93.1h9.5v1.7h-9.5zM264.0 93.1h2.8v1.7h-2.8zM107.4 94.6h2.8v1.7h-2.8zM114.1 94.6h1.5v1.7h-1.5zM132.8 94.6h1.5v1.7h-1.5zM169.0 94.6h2.8v1.7h-2.8zM186.4 94.6h1.5v1.7h-1.5zM234.6 94.6h12.2v1.7h-12.2zM253.3 94.6h8.2v1.7h-8.2zM265.3 94.6h4.2v1.7h-4.2zM108.8 96.2h1.5v1.7h-1.5zM114.1 96.2h1.5v1.7h-1.5zM134.2 96.2h2.8v1.7h-2.8zM169.0 96.2h2.8v1.7h-2.8zM185.0 96.2h1.5v1.7h-1.5zM187.7 96.2h2.8v1.7h-2.8zM242.6 96.2h1.5v1.7h-1.5zM247.9 96.2h2.8v1.7h-2.8zM260.0 96.2h2.8v1.7h-2.8zM108.8 97.7h1.5v1.7h-1.5zM114.1 97.7h1.5v1.7h-1.5zM169.0 97.7h2.8v1.7h-2.8zM183.7 97.7h1.5v1.7h-1.5zM187.7 97.7h1.5v1.7h-1.5zM193.1 97.7h1.5v1.7h-1.5zM247.9 97.7h2.8v1.7h-2.8zM114.1 99.3h1.5v1.7h-1.5zM169.0 99.3h5.5v1.7h-5.5zM190.4 99.3h5.5v1.7h-5.5zM243.9 99.3h5.5v1.7h-5.5zM272.0 99.3h1.5v1.7h-1.5zM114.1 100.8h1.5v1.7h-1.5zM167.6 100.8h6.8v1.7h-6.8zM190.4 100.8h4.2v1.7h-4.2zM245.3 100.8h4.2v1.7h-4.2zM272.0 100.8h1.5v1.7h-1.5zM278.7 100.8h2.8v1.7h-2.8zM114.1 102.3h2.8v1.7h-2.8zM169.0 102.3h6.8v1.7h-6.8zM190.4 102.3h4.2v1.7h-4.2zM247.9 102.3h6.8v1.7h-6.8zM115.4 103.9h2.8v1.7h-2.8zM169.0 103.9h1.5v1.7h-1.5zM173.0 103.9h2.8v1.7h-2.8zM189.1 103.9h5.5v1.7h-5.5zM197.1 103.9h2.8v1.7h-2.8zM249.3 103.9h5.5v1.7h-5.5zM114.1 105.4h5.5v1.7h-5.5zM189.1 105.4h4.2v1.7h-4.2zM252.0 105.4h2.8v1.7h-2.8zM272.0 105.4h1.5v1.7h-1.5zM114.1 107.0h5.5v1.7h-5.5zM174.3 107.0h1.5v1.7h-1.5zM182.4 107.0h1.5v1.7h-1.5zM190.4 107.0h2.8v1.7h-2.8zM252.0 107.0h1.5v1.7h-1.5zM261.3 107.0h1.5v1.7h-1.5zM114.1 108.5h2.8v1.7h-2.8zM119.5 108.5h1.5v1.7h-1.5zM174.3 108.5h1.5v1.7h-1.5zM182.4 108.5h1.5v1.7h-1.5zM112.8 110.1h4.2v1.7h-4.2zM122.1 110.1h1.5v1.7h-1.5zM175.7 110.1h1.5v1.7h-1.5zM181.0 110.1h1.5v1.7h-1.5zM253.3 110.1h1.5v1.7h-1.5zM112.8 111.6h2.8v1.7h-2.8zM122.1 111.6h4.2v1.7h-4.2zM177.0 111.6h5.5v1.7h-5.5zM253.3 111.6h1.5v1.7h-1.5zM112.8 113.2h1.5v1.7h-1.5zM124.8 113.2h1.5v1.7h-1.5zM178.3 113.2h2.8v1.7h-2.8zM253.3 113.2h1.5v1.7h-1.5zM111.4 114.7h2.8v1.7h-2.8zM253.3 114.7h2.8v1.7h-2.8zM111.4 116.3h2.8v1.7h-2.8zM277.4 116.3h2.8v1.7h-2.8zM111.4 117.8h1.5v1.7h-1.5zM254.6 117.8h1.5v1.7h-1.5zM277.4 117.8h2.8v1.7h-2.8zM111.4 119.3h1.5v1.7h-1.5zM257.3 119.3h4.2v1.7h-4.2zM277.4 119.3h2.8v1.7h-2.8zM41.8 120.9h1.5v1.7h-1.5zM110.1 120.9h2.8v1.7h-2.8zM116.8 120.9h1.5v1.7h-1.5zM257.3 120.9h2.8v1.7h-2.8zM273.4 120.9h1.5v1.7h-1.5zM110.1 122.4h8.2v1.7h-8.2zM272.0 122.4h2.8v1.7h-2.8zM110.1 124.0h6.8v1.7h-6.8zM272.0 124.0h2.8v1.7h-2.8zM114.1 125.5h2.8v1.7h-2.8zM206.5 125.5h2.8v1.7h-2.8zM110.1 127.1h1.5v1.7h-1.5zM119.5 127.1h2.8v1.7h-2.8zM111.4 128.6h1.5v1.7h-1.5zM114.1 128.6h2.8v1.7h-2.8zM120.8 128.6h1.5v1.7h-1.5zM114.1 130.2h4.2v1.7h-4.2zM135.5 130.2h1.5v1.7h-1.5z"/>
<path fill="#e0eaf3" d="M173.0 35.9h1.5v1.7h-1.5zM171.7 37.4h5.5v1.7h-5.5zM179.7 37.4h1.5v1.7h-1.5zM103.4 39.0h1.5v1.7h-1.5zM114.1 39.0h1.5v1.7h-1.5zM171.7 39.0h9.5v1.7h-9.5zM182.4 39.0h2.8v1.7h-2.8zM213.1 39.0h10.9v1.7h-10.9zM238.6 39.0h2.8v1.7h-2.8zM80.7 40.5h2.8v1.7h-2.8zM88.7 40.5h1.5v1.7h-1.5zM91.4 40.5h4.2v1.7h-4.2zM171.7 40.5h1.5v1.7h-1.5zM174.3 40.5h12.2v1.7h-12.2zM190.4 40.5h4.2v1.7h-4.2zM198.4 40.5h12.2v1.7h-12.2zM211.8 40.5h2.8v1.7h-2.8zM215.8 40.5h9.5v1.7h-9.5zM227.9 40.5h6.8v1.7h-6.8zM235.9 40.5h6.8v1.7h-6.8zM80.7 42.1h2.8v1.7h-2.8zM87.3 42.1h2.8v1.7h-2.8zM91.4 42.1h2.8v1.7h-2.8zM108.8 42.1h2.8v1.7h-2.8zM170.3 42.1h2.8v1.7h-2.8zM175.7 42.1h6.8v1.7h-6.8zM183.7 42.1h2.8v1.7h-2.8zM187.7 42.1h6.8v1.7h-6.8zM197.1 42.1h5.5v1.7h-5.5zM205.1 42.1h8.2v1.7h-8.2zM214.5 42.1h5.5v1.7h-5.5zM223.9 42.1h1.5v1.7h-1.5zM227.9 42.1h4.2v1.7h-4.2zM233.2 42.1h8.2v1.7h-8.2zM245.3 42.1h1.5v1.7h-1.5zM80.7 43.6h1.5v1.7h-1.5zM87.3 43.6h2.8v1.7h-2.8zM96.7 43.6h2.8v1.7h-2.8zM108.8 43.6h4.2v1.7h-4.2zM169.0 43.6h1.5v1.7h-1.5zM186.4 43.6h2.8v1.7h-2.8zM190.4 43.6h5.5v1.7h-5.5zM197.1 43.6h2.8v1.7h-2.8zM206.5 43.6h9.5v1.7h-9.5zM217.2 43.6h2.8v1.7h-2.8zM223.9 43.6h8.2v1.7h-8.2zM233.2 43.6h6.8v1.7h-6.8zM243.9 43.6h4.2v1.7h-4.2zM87.3 45.2h2.8v1.7h-2.8zM96.7 45.2h9.5v1.7h-9.5zM110.1 45.2h2.8v1.7h-2.8zM154.3 45.2h2.8v1.7h-2.8zM159.6 45.2h1.5v1.7h-1.5zM166.3 45.2h4.2v1.7h-4.2zM198.4 45.2h1.5v1.7h-1.5zM202.4 45.2h1.5v1.7h-1.5zM205.1 45.2h4.2v1.7h-4.2zM213.1 45.2h1.5v1.7h-1.5zM217.2 45.2h2.8v1.7h-2.8zM222.5 45.2h9.5v1.7h-9.5zM233.2 45.2h1.5v1.7h-1.5zM237.2 45.2h1.5v1.7h-1.5zM245.3 45.2h2.8v1.7h-2.8zM83.3 46.7h2.8v1.7h-2.8zM87.3 46.7h2.8v1.7h-2.8zM95.4 46.7h12.2v1.7h-12.2zM155.6 46.7h4.2v1.7h-4.2zM202.4 46.7h4.2v1.7h-4.2zM218.5 46.7h1.5v1.7h-1.5zM223.9 46.7h4.2v1.7h-4.2zM231.9 46.7h2.8v1.7h-2.8zM239.9 46.7h1.5v1.7h-1.5zM246.6 46.7h1.5v1.7h-1.5zM96.7 48.3h10.9v1.7h-10.9zM197.1 48.3h5.5v1.7h-5.5zM203.8 48.3h2.8v1.7h-2.8zM238.6 48.3h2.8v1.7h-2.8zM246.6 48.3h4.2v1.7h-4.2zM92.7 49.8h1.5v1.7h-1.5zM95.4 49.8h2.8v1.7h-2.8zM99.4 49.8h2.8v1.7h-2.8zM107.4 49.8h1.5v1.7h-1.5zM198.4 49.8h2.8v1.7h-2.8zM237.2 49.8h13.5v1.7h-13.5zM92.7 51.4h6.8v1.7h-6.8zM104.7 51.4h1.5v1.7h-1.5zM108.8 51.4h1.5v1.7h-1.5zM182.4 51.4h1.5v1.7h-1.5zM237.2 51.4h2.8v1.7h-2.8zM241.2 51.4h2.8v1.7h-2.8zM247.9 51.4h1.5v1.7h-1.5zM94.0 52.9h4.2v1.7h-4.2zM108.8 52.9h2.8v1.7h-2.8zM169.0 52.9h2.8v1.7h-2.8zM182.4 52.9h2.8v1.7h-2.8zM190.4 52.9h2.8v1.7h-2.8zM194.4 52.9h1.5v1.7h-1.5zM237.2 52.9h5.5v1.7h-5.5zM247.9 52.9h1.5v1.7h-1.5zM95.4 54.4h2.8v1.7h-2.8zM108.8 54.4h4.2v1.7h-4.2zM166.3 54.4h1.5v1.7h-1.5zM173.0 54.4h2.8v1.7h-2.8zM177.0 54.4h1.5v1.7h-1.5zM179.7 54.4h1.5v1.7h-1.5zM187.7 54.4h2.8v1.7h-2.8zM237.2 54.4h4.2v1.7h-4.2zM247.9 54.4h1.5v1.7h-1.5zM110.1 56.0h2.8v1.7h-2.8zM237.2 56.0h1.5v1.7h-1.5zM96.7 57.5h2.8v1.7h-2.8zM154.3 57.5h1.5v1.7h-1.5zM159.6 57.5h1.5v1.7h-1.5zM233.2 57.5h6.8v1.7h-6.8zM245.3 57.5h2.8v1.7h-2.8zM96.7 59.1h2.8v1.7h-2.8zM233.2 59.1h4.2v1.7h-4.2zM238.6 59.1h2.8v1.7h-2.8zM245.3 59.1h1.5v1.7h-1.5zM98.0 60.6h1.5v1.7h-1.5zM110.1 60.6h1.5v1.7h-1.5zM233.2 60.6h1.5v1.7h-1.5zM239.9 60.6h1.5v1.7h-1.5zM98.0 62.2h1.5v1.7h-1.5zM233.2 62.2h1.5v1.7h-1.5zM241.2 62.2h1.5v1.7h-1.5zM99.4 63.7h4.2v1.7h-4.2zM210.5 63.7h1.5v1.7h-1.5zM215.8 63.7h1.5v1.7h-1.5zM226.5 63.7h4.2v1.7h-4.2zM233.2 63.7h1.5v1.7h-1.5zM99.4 65.3h2.8v1.7h-2.8zM106.1 65.3h1.5v1.7h-1.5zM205.1 65.3h2.8v1.7h-2.8zM215.8 65.3h1.5v1.7h-1.5zM218.5 65.3h2.8v1.7h-2.8zM225.2 65.3h1.5v1.7h-1.5zM104.7 66.8h1.5v1.7h-1.5zM205.1 66.8h1.5v1.7h-1.5zM218.5 66.8h2.8v1.7h-2.8zM223.9 66.8h1.5v1.7h-1.5zM229.2 66.8h1.5v1.7h-1.5zM205.1 68.4h1.5v1.7h-1.5zM219.8 68.4h5.5v1.7h-5.5zM95.4 69.9h1.5v1.7h-1.5zM219.8 69.9h2.8v1.7h-2.8zM229.2 69.9h1.5v1.7h-1.5zM241.2 69.9h1.5v1.7h-1.5zM92.7 71.4h1.5v1.7h-1.5zM103.4 71.4h1.5v1.7h-1.5zM218.5 71.4h2.8v1.7h-2.8zM230.5 71.4h1.5v1.7h-1.5zM92.7 73.0h1.5v1.7h-1.5zM209.1 73.0h1.5v1.7h-1.5zM222.5 73.0h1.5v1.7h-1.5zM233.2 73.0h2.8v1.7h-2.8zM209.1 74.5h1.5v1.7h-1.5zM231.9 74.5h1.5v1.7h-1.5zM151.6 76.1h1.5v1.7h-1.5zM155.6 76.1h4.2v1.7h-4.2zM169.0 76.1h10.9v1.7h-10.9zM211.8 76.1h1.5v1.7h-1.5zM231.9 76.1h1.5v1.7h-1.5zM112.8 77.6h1.5v1.7h-1.5zM187.7 77.6h1.5v1.7h-1.5zM213.1 77.6h1.5v1.7h-1.5zM222.5 77.6h1.5v1.7h-1.5zM230.5 77.6h1.5v1.7h-1.5zM104.7 79.2h1.5v1.7h-1.5zM114.1 79.2h2.8v1.7h-2.8zM189.1 79.2h1.5v1.7h-1.5zM222.5 79.2h1.5v1.7h-1.5zM107.4 80.7h1.5v1.7h-1.5zM115.4 80.7h1.5v1.7h-1.5zM189.1 80.7h1.5v1.7h-1.5zM226.5 80.7h1.5v1.7h-1.5zM106.1 82.3h1.5v1.7h-1.5zM115.4 82.3h1.5v1.7h-1.5zM119.5 82.3h1.5v1.7h-1.5zM154.3 82.3h4.2v1.7h-4.2zM166.3 82.3h2.8v1.7h-2.8zM178.3 82.3h4.2v1.7h-4.2zM189.1 82.3h1.5v1.7h-1.5zM227.9 82.3h1.5v1.7h-1.5zM116.8 83.8h1.5v1.7h-1.5zM119.5 83.8h1.5v1.7h-1.5zM123.5 83.8h1.5v1.7h-1.5zM167.6 83.8h5.5v1.7h-5.5zM178.3 83.8h1.5v1.7h-1.5zM181.0 83.8h1.5v1.7h-1.5zM187.7 83.8h2.8v1.7h-2.8zM108.8 85.3h1.5v1.7h-1.5zM120.8 85.3h6.8v1.7h-6.8zM167.6 85.3h1.5v1.7h-1.5zM170.3 85.3h2.8v1.7h-2.8zM178.3 85.3h2.8v1.7h-2.8zM186.4 85.3h2.8v1.7h-2.8zM107.4 86.9h5.5v1.7h-5.5zM122.1 86.9h4.2v1.7h-4.2zM171.7 86.9h8.2v1.7h-8.2zM185.0 86.9h2.8v1.7h-2.8zM106.1 88.4h6.8v1.7h-6.8zM123.5 88.4h1.5v1.7h-1.5zM127.5 88.4h1.5v1.7h-1.5zM174.3 88.4h2.8v1.7h-2.8zM178.3 88.4h1.5v1.7h-1.5zM186.4 88.4h1.5v1.7h-1.5zM107.4 90.0h5.5v1.7h-5.5zM123.5 90.0h1.5v1.7h-1.5zM128.8 90.0h1.5v1.7h-1.5zM174.3 90.0h2.8v1.7h-2.8zM114.1 91.5h1.5v1.7h-1.5zM130.2 91.5h1.5v1.7h-1.5zM173.0 91.5h4.2v1.7h-4.2zM186.4 91.5h1.5v1.7h-1.5zM114.1 93.1h1.5v1.7h-1.5zM173.0 93.1h1.5v1.7h-1.5zM186.4 93.1h1.5v1.7h-1.5zM115.4 94.6h1.5v1.7h-1.5zM131.5 94.6h1.5v1.7h-1.5zM171.7 94.6h2.8v1.7h-2.8zM115.4 96.2h2.8v1.7h-2.8zM132.8 96.2h1.5v1.7h-1.5zM171.7 96.2h1.5v1.7h-1.5zM183.7 96.2h1.5v1.7h-1.5zM256.0 96.2h1.5v1.7h-1.5zM115.4 97.7h1.5v1.7h-1.5zM171.7 97.7h5.5v1.7h-5.5zM250.6 97.7h2.8v1.7h-2.8zM254.6 97.7h2.8v1.7h-2.8zM115.4 99.3h1.5v1.7h-1.5zM174.3 99.3h2.8v1.7h-2.8zM249.3 99.3h2.8v1.7h-2.8zM254.6 99.3h1.5v1.7h-1.5zM115.4 100.8h1.5v1.7h-1.5zM134.2 100.8h1.5v1.7h-1.5zM174.3 100.8h1.5v1.7h-1.5zM182.4 100.8h1.5v1.7h-1.5zM249.3 100.8h6.8v1.7h-6.8zM116.8 102.3h1.5v1.7h-1.5zM134.2 102.3h1.5v1.7h-1.5zM175.7 102.3h1.5v1.7h-1.5zM182.4 102.3h1.5v1.7h-1.5zM254.6 102.3h2.8v1.7h-2.8zM118.1 103.9h2.8v1.7h-2.8zM175.7 103.9h1.5v1.7h-1.5zM254.6 103.9h1.5v1.7h-1.5zM119.5 105.4h1.5v1.7h-1.5zM174.3 105.4h1.5v1.7h-1.5zM182.4 105.4h1.5v1.7h-1.5zM254.6 105.4h1.5v1.7h-1.5zM119.5 107.0h1.5v1.7h-1.5zM181.0 107.0h1.5v1.7h-1.5zM253.3 107.0h2.8v1.7h-2.8zM262.7 107.0h1.5v1.7h-1.5zM120.8 108.5h1.5v1.7h-1.5zM175.7 108.5h1.5v1.7h-1.5zM181.0 108.5h1.5v1.7h-1.5zM253.3 108.5h1.5v1.7h-1.5zM262.7 108.5h1.5v1.7h-1.5zM123.5 110.1h2.8v1.7h-2.8zM127.5 110.1h1.5v1.7h-1.5zM177.0 110.1h4.2v1.7h-4.2zM262.7 110.1h1.5v1.7h-1.5zM126.2 111.6h1.5v1.7h-1.5zM254.6 111.6h1.5v1.7h-1.5zM261.3 111.6h2.8v1.7h-2.8zM254.6 113.2h5.5v1.7h-5.5zM261.3 113.2h1.5v1.7h-1.5zM256.0 114.7h6.8v1.7h-6.8zM254.6 116.3h6.8v1.7h-6.8zM256.0 117.8h4.2v1.7h-4.2z"/>
<path fill="#d0e2ef" d="M214.5 40.5h1.5v1.7h-1.5zM182.4 42.1h1.5v1.7h-1.5zM202.4 42.1h2.8v1.7h-2.8zM213.1 42.1h1.5v1.7h-1.5zM231.9 42.1h1.5v1.7h-1.5zM170.3 43.6h5.5v1.7h-5.5zM177.0 43.6h5.5v1.7h-5.5zM189.1 43.6h1.5v1.7h-1.5zM202.4 43.6h1.5v1.7h-1.5zM205.1 43.6h1.5v1.7h-1.5zM231.9 43.6h1.5v1.7h-1.5zM170.3 45.2h1.5v1.7h-1.5zM191.7 45.2h6.8v1.7h-6.8zM203.8 45.2h1.5v1.7h-1.5zM231.9 45.2h1.5v1.7h-1.5zM154.3 46.7h1.5v1.7h-1.5zM165.0 46.7h1.5v1.7h-1.5zM167.6 46.7h4.2v1.7h-4.2zM198.4 46.7h1.5v1.7h-1.5zM154.3 48.3h1.5v1.7h-1.5zM156.9 48.3h1.5v1.7h-1.5zM102.1 49.8h5.5v1.7h-5.5zM99.4 51.4h2.8v1.7h-2.8zM106.1 51.4h2.8v1.7h-2.8zM167.6 51.4h1.5v1.7h-1.5zM185.0 51.4h2.8v1.7h-2.8zM190.4 51.4h2.8v1.7h-2.8zM195.7 51.4h1.5v1.7h-1.5zM239.9 51.4h1.5v1.7h-1.5zM243.9 51.4h1.5v1.7h-1.5zM246.6 51.4h1.5v1.7h-1.5zM98.0 52.9h1.5v1.7h-1.5zM103.4 52.9h2.8v1.7h-2.8zM166.3 52.9h2.8v1.7h-2.8zM175.7 52.9h5.5v1.7h-5.5zM185.0 52.9h2.8v1.7h-2.8zM189.1 52.9h1.5v1.7h-1.5zM242.6 52.9h1.5v1.7h-1.5zM246.6 52.9h1.5v1.7h-1.5zM98.0 54.4h1.5v1.7h-1.5zM104.7 54.4h1.5v1.7h-1.5zM165.0 54.4h1.5v1.7h-1.5zM241.2 54.4h1.5v1.7h-1.5zM246.6 54.4h1.5v1.7h-1.5zM99.4 56.0h1.5v1.7h-1.5zM107.4 56.0h1.5v1.7h-1.5zM159.6 56.0h4.2v1.7h-4.2zM238.6 56.0h2.8v1.7h-2.8zM243.9 56.0h4.2v1.7h-4.2zM108.8 57.5h2.8v1.7h-2.8zM156.9 57.5h2.8v1.7h-2.8zM239.9 57.5h1.5v1.7h-1.5zM242.6 57.5h2.8v1.7h-2.8zM110.1 59.1h1.5v1.7h-1.5zM237.2 59.1h1.5v1.7h-1.5zM242.6 59.1h2.8v1.7h-2.8zM108.8 60.6h1.5v1.7h-1.5zM234.6 60.6h2.8v1.7h-2.8zM238.6 60.6h1.5v1.7h-1.5zM99.4 62.2h2.8v1.7h-2.8zM239.9 62.2h1.5v1.7h-1.5zM211.8 63.7h4.2v1.7h-4.2zM239.9 63.7h2.8v1.7h-2.8zM104.7 65.3h1.5v1.7h-1.5zM207.8 65.3h1.5v1.7h-1.5zM217.2 65.3h1.5v1.7h-1.5zM226.5 65.3h2.8v1.7h-2.8zM230.5 65.3h1.5v1.7h-1.5zM206.5 66.8h1.5v1.7h-1.5zM215.8 66.8h2.8v1.7h-2.8zM225.2 66.8h1.5v1.7h-1.5zM227.9 66.8h1.5v1.7h-1.5zM215.8 68.4h1.5v1.7h-1.5zM218.5 68.4h1.5v1.7h-1.5zM227.9 68.4h1.5v1.7h-1.5zM241.2 68.4h1.5v1.7h-1.5zM214.5 69.9h2.8v1.7h-2.8zM222.5 69.9h2.8v1.7h-2.8zM230.5 69.9h1.5v1.7h-1.5zM237.2 69.9h2.8v1.7h-2.8zM94.0 71.4h2.8v1.7h-2.8zM99.4 71.4h1.5v1.7h-1.5zM102.1 71.4h1.5v1.7h-1.5zM217.2 71.4h1.5v1.7h-1.5zM222.5 71.4h1.5v1.7h-1.5zM229.2 71.4h1.5v1.7h-1.5zM234.6 71.4h1.5v1.7h-1.5zM217.2 73.0h1.5v1.7h-1.5zM230.5 73.0h1.5v1.7h-1.5zM92.7 74.5h1.5v1.7h-1.5zM210.5 74.5h1.5v1.7h-1.5zM230.5 74.5h1.5v1.7h-1.5zM104.7 76.1h1.5v1.7h-1.5zM152.9 76.1h2.8v1.7h-2.8zM230.5 76.1h1.5v1.7h-1.5zM104.7 77.6h1.5v1.7h-1.5zM182.4 77.6h2.8v1.7h-2.8zM229.2 77.6h1.5v1.7h-1.5zM103.4 79.2h1.5v1.7h-1.5zM110.1 79.2h4.2v1.7h-4.2zM226.5 79.2h1.5v1.7h-1.5zM229.2 79.2h1.5v1.7h-1.5zM108.8 80.7h6.8v1.7h-6.8zM107.4 82.3h1.5v1.7h-1.5zM112.8 82.3h2.8v1.7h-2.8zM169.0 82.3h4.2v1.7h-4.2zM182.4 82.3h2.8v1.7h-2.8zM187.7 82.3h1.5v1.7h-1.5zM115.4 83.8h1.5v1.7h-1.5zM173.0 83.8h1.5v1.7h-1.5zM175.7 83.8h2.8v1.7h-2.8zM182.4 83.8h2.8v1.7h-2.8zM116.8 85.3h4.2v1.7h-4.2zM173.0 85.3h5.5v1.7h-5.5zM181.0 85.3h1.5v1.7h-1.5zM185.0 85.3h1.5v1.7h-1.5zM116.8 86.9h1.5v1.7h-1.5zM120.8 86.9h1.5v1.7h-1.5zM126.2 86.9h1.5v1.7h-1.5zM179.7 86.9h1.5v1.7h-1.5zM112.8 88.4h1.5v1.7h-1.5zM122.1 88.4h1.5v1.7h-1.5zM124.8 88.4h2.8v1.7h-2.8zM177.0 88.4h1.5v1.7h-1.5zM185.0 88.4h1.5v1.7h-1.5zM112.8 90.0h2.8v1.7h-2.8zM124.8 90.0h1.5v1.7h-1.5zM127.5 90.0h1.5v1.7h-1.5zM177.0 90.0h1.5v1.7h-1.5zM186.4 90.0h1.5v1.7h-1.5zM123.5 91.5h2.8v1.7h-2.8zM177.0 91.5h1.5v1.7h-1.5zM130.2 93.1h1.5v1.7h-1.5zM174.3 93.1h4.2v1.7h-4.2zM116.8 94.6h1.5v1.7h-1.5zM174.3 94.6h4.2v1.7h-4.2zM185.0 94.6h1.5v1.7h-1.5zM131.5 96.2h1.5v1.7h-1.5zM173.0 96.2h5.5v1.7h-5.5zM116.8 97.7h1.5v1.7h-1.5zM131.5 97.7h1.5v1.7h-1.5zM134.2 97.7h1.5v1.7h-1.5zM177.0 97.7h1.5v1.7h-1.5zM182.4 97.7h1.5v1.7h-1.5zM116.8 99.3h1.5v1.7h-1.5zM177.0 99.3h1.5v1.7h-1.5zM179.7 99.3h4.2v1.7h-4.2zM252.0 99.3h1.5v1.7h-1.5zM256.0 99.3h1.5v1.7h-1.5zM116.8 100.8h1.5v1.7h-1.5zM128.8 100.8h1.5v1.7h-1.5zM175.7 100.8h2.8v1.7h-2.8zM181.0 100.8h1.5v1.7h-1.5zM256.0 100.8h1.5v1.7h-1.5zM118.1 102.3h1.5v1.7h-1.5zM132.8 102.3h1.5v1.7h-1.5zM177.0 102.3h2.8v1.7h-2.8zM181.0 102.3h1.5v1.7h-1.5zM120.8 103.9h1.5v1.7h-1.5zM132.8 103.9h1.5v1.7h-1.5zM182.4 103.9h1.5v1.7h-1.5zM120.8 105.4h1.5v1.7h-1.5zM132.8 105.4h1.5v1.7h-1.5zM175.7 105.4h1.5v1.7h-1.5zM181.0 105.4h1.5v1.7h-1.5zM261.3 105.4h1.5v1.7h-1.5zM120.8 107.0h1.5v1.7h-1.5zM175.7 107.0h1.5v1.7h-1.5zM179.7 107.0h1.5v1.7h-1.5zM260.0 107.0h1.5v1.7h-1.5zM122.1 108.5h4.2v1.7h-4.2zM177.0 108.5h1.5v1.7h-1.5zM179.7 108.5h1.5v1.7h-1.5zM254.6 108.5h1.5v1.7h-1.5zM261.3 108.5h1.5v1.7h-1.5zM126.2 110.1h1.5v1.7h-1.5zM254.6 110.1h1.5v1.7h-1.5zM261.3 110.1h1.5v1.7h-1.5zM257.3 111.6h2.8v1.7h-2.8zM260.0 113.2h1.5v1.7h-1.5z"/>
<path fill="#bad7ea" d="M175.7 43.6h1.5v1.7h-1.5zM182.4 43.6h4.2v1.7h-4.2zM203.8 43.6h1.5v1.7h-1.5zM178.3 45.2h1.5v1.7h-1.5zM189.1 45.2h2.8v1.7h-2.8zM159.6 46.7h1.5v1.7h-1.5zM163.6 46.7h1.5v1.7h-1.5zM166.3 46.7h1.5v1.7h-1.5zM174.3 46.7h1.5v1.7h-1.5zM178.3 46.7h1.5v1.7h-1.5zM191.7 46.7h4.2v1.7h-4.2zM197.1 46.7h1.5v1.7h-1.5zM158.3 48.3h1.5v1.7h-1.5zM165.0 48.3h1.5v1.7h-1.5zM167.6 48.3h2.8v1.7h-2.8zM193.1 48.3h1.5v1.7h-1.5zM195.7 48.3h1.5v1.7h-1.5zM156.9 49.8h1.5v1.7h-1.5zM167.6 49.8h1.5v1.7h-1.5zM182.4 49.8h2.8v1.7h-2.8zM186.4 49.8h4.2v1.7h-4.2zM195.7 49.8h1.5v1.7h-1.5zM103.4 51.4h1.5v1.7h-1.5zM158.3 51.4h1.5v1.7h-1.5zM166.3 51.4h1.5v1.7h-1.5zM181.0 51.4h1.5v1.7h-1.5zM187.7 51.4h2.8v1.7h-2.8zM193.1 51.4h1.5v1.7h-1.5zM245.3 51.4h1.5v1.7h-1.5zM102.1 52.9h1.5v1.7h-1.5zM106.1 52.9h2.8v1.7h-2.8zM187.7 52.9h1.5v1.7h-1.5zM243.9 52.9h2.8v1.7h-2.8zM99.4 54.4h5.5v1.7h-5.5zM106.1 54.4h2.8v1.7h-2.8zM158.3 54.4h1.5v1.7h-1.5zM242.6 54.4h4.2v1.7h-4.2zM158.3 56.0h1.5v1.7h-1.5zM241.2 56.0h2.8v1.7h-2.8zM155.6 57.5h1.5v1.7h-1.5zM108.8 59.1h1.5v1.7h-1.5zM237.2 60.6h1.5v1.7h-1.5zM234.6 62.2h1.5v1.7h-1.5zM234.6 63.7h1.5v1.7h-1.5zM209.1 65.3h1.5v1.7h-1.5zM213.1 65.3h2.8v1.7h-2.8zM229.2 65.3h1.5v1.7h-1.5zM231.9 65.3h1.5v1.7h-1.5zM234.6 65.3h1.5v1.7h-1.5zM237.2 65.3h5.5v1.7h-5.5zM207.8 66.8h1.5v1.7h-1.5zM226.5 66.8h1.5v1.7h-1.5zM230.5 66.8h1.5v1.7h-1.5zM237.2 66.8h5.5v1.7h-5.5zM217.2 68.4h1.5v1.7h-1.5zM225.2 68.4h1.5v1.7h-1.5zM230.5 68.4h1.5v1.7h-1.5zM234.6 68.4h1.5v1.7h-1.5zM237.2 68.4h4.2v1.7h-4.2zM217.2 69.9h2.8v1.7h-2.8zM225.2 69.9h1.5v1.7h-1.5zM235.9 69.9h1.5v1.7h-1.5zM100.7 71.4h1.5v1.7h-1.5zM209.1 71.4h1.5v1.7h-1.5zM223.9 71.4h1.5v1.7h-1.5zM231.9 71.4h2.8v1.7h-2.8zM94.0 73.0h1.5v1.7h-1.5zM223.9 73.0h1.5v1.7h-1.5zM94.0 74.5h1.5v1.7h-1.5zM211.8 74.5h1.5v1.7h-1.5zM223.9 74.5h1.5v1.7h-1.5zM95.4 76.1h1.5v1.7h-1.5zM213.1 76.1h2.8v1.7h-2.8zM229.2 76.1h1.5v1.7h-1.5zM148.9 77.6h1.5v1.7h-1.5zM185.0 77.6h2.8v1.7h-2.8zM227.9 77.6h1.5v1.7h-1.5zM182.4 79.2h2.8v1.7h-2.8zM187.7 79.2h1.5v1.7h-1.5zM151.6 80.7h1.5v1.7h-1.5zM155.6 80.7h2.8v1.7h-2.8zM175.7 80.7h1.5v1.7h-1.5zM183.7 80.7h1.5v1.7h-1.5zM108.8 82.3h4.2v1.7h-4.2zM173.0 82.3h5.5v1.7h-5.5zM185.0 82.3h1.5v1.7h-1.5zM108.8 83.8h1.5v1.7h-1.5zM111.4 83.8h2.8v1.7h-2.8zM174.3 83.8h1.5v1.7h-1.5zM185.0 83.8h2.8v1.7h-2.8zM110.1 85.3h4.2v1.7h-4.2zM115.4 85.3h1.5v1.7h-1.5zM112.8 86.9h1.5v1.7h-1.5zM115.4 86.9h1.5v1.7h-1.5zM118.1 86.9h2.8v1.7h-2.8zM114.1 88.4h4.2v1.7h-4.2zM120.8 88.4h1.5v1.7h-1.5zM179.7 88.4h1.5v1.7h-1.5zM115.4 90.0h1.5v1.7h-1.5zM122.1 90.0h1.5v1.7h-1.5zM126.2 90.0h1.5v1.7h-1.5zM178.3 90.0h1.5v1.7h-1.5zM115.4 91.5h1.5v1.7h-1.5zM128.8 91.5h1.5v1.7h-1.5zM178.3 91.5h1.5v1.7h-1.5zM115.4 93.1h1.5v1.7h-1.5zM123.5 93.1h2.8v1.7h-2.8zM128.8 93.1h1.5v1.7h-1.5zM178.3 93.1h1.5v1.7h-1.5zM185.0 93.1h1.5v1.7h-1.5zM118.1 94.6h1.5v1.7h-1.5zM127.5 94.6h4.2v1.7h-4.2zM178.3 94.6h1.5v1.7h-1.5zM183.7 94.6h1.5v1.7h-1.5zM118.1 96.2h1.5v1.7h-1.5zM178.3 96.2h1.5v1.7h-1.5zM182.4 96.2h1.5v1.7h-1.5zM132.8 97.7h1.5v1.7h-1.5zM178.3 97.7h4.2v1.7h-4.2zM118.1 99.3h1.5v1.7h-1.5zM134.2 99.3h1.5v1.7h-1.5zM257.3 99.3h1.5v1.7h-1.5zM118.1 100.8h1.5v1.7h-1.5zM132.8 100.8h1.5v1.7h-1.5zM257.3 100.8h1.5v1.7h-1.5zM119.5 102.3h1.5v1.7h-1.5zM179.7 102.3h1.5v1.7h-1.5zM257.3 102.3h1.5v1.7h-1.5zM123.5 103.9h1.5v1.7h-1.5zM177.0 103.9h5.5v1.7h-5.5zM260.0 103.9h1.5v1.7h-1.5zM178.3 105.4h2.8v1.7h-2.8zM256.0 105.4h1.5v1.7h-1.5zM260.0 105.4h1.5v1.7h-1.5zM122.1 107.0h4.2v1.7h-4.2zM177.0 107.0h2.8v1.7h-2.8zM256.0 107.0h1.5v1.7h-1.5zM126.2 108.5h2.8v1.7h-2.8zM178.3 108.5h1.5v1.7h-1.5zM256.0 108.5h1.5v1.7h-1.5zM260.0 108.5h1.5v1.7h-1.5zM257.3 110.1h4.2v1.7h-4.2zM256.0 111.6h1.5v1.7h-1.5zM260.0 111.6h1.5v1.7h-1.5z"/>
<path fill="#a3cce4" d="M171.7 45.2h4.2v1.7h-4.2zM179.7 45.2h2.8v1.7h-2.8zM187.7 45.2h1.5v1.7h-1.5zM160.9 46.7h1.5v1.7h-1.5zM173.0 46.7h1.5v1.7h-1.5zM189.1 46.7h2.8v1.7h-2.8zM195.7 46.7h1.5v1.7h-1.5zM163.6 48.3h1.5v1.7h-1.5zM173.0 48.3h2.8v1.7h-2.8zM187.7 48.3h2.8v1.7h-2.8zM191.7 48.3h1.5v1.7h-1.5zM194.4 48.3h1.5v1.7h-1.5zM158.3 49.8h4.2v1.7h-4.2zM163.6 49.8h1.5v1.7h-1.5zM166.3 49.8h1.5v1.7h-1.5zM181.0 49.8h1.5v1.7h-1.5zM185.0 49.8h1.5v1.7h-1.5zM190.4 49.8h4.2v1.7h-4.2zM102.1 51.4h1.5v1.7h-1.5zM159.6 51.4h1.5v1.7h-1.5zM169.0 51.4h2.8v1.7h-2.8zM177.0 51.4h1.5v1.7h-1.5zM179.7 51.4h1.5v1.7h-1.5zM194.4 51.4h1.5v1.7h-1.5zM99.4 52.9h2.8v1.7h-2.8zM165.0 52.9h1.5v1.7h-1.5zM171.7 52.9h1.5v1.7h-1.5zM174.3 52.9h1.5v1.7h-1.5zM154.3 54.4h1.5v1.7h-1.5zM156.9 54.4h1.5v1.7h-1.5zM163.6 54.4h1.5v1.7h-1.5zM100.7 56.0h1.5v1.7h-1.5zM106.1 56.0h1.5v1.7h-1.5zM154.3 56.0h1.5v1.7h-1.5zM99.4 57.5h1.5v1.7h-1.5zM107.4 57.5h1.5v1.7h-1.5zM99.4 59.1h1.5v1.7h-1.5zM99.4 60.6h1.5v1.7h-1.5zM102.1 62.2h1.5v1.7h-1.5zM235.9 62.2h1.5v1.7h-1.5zM238.6 62.2h1.5v1.7h-1.5zM103.4 63.7h1.5v1.7h-1.5zM237.2 63.7h2.8v1.7h-2.8zM233.2 65.3h1.5v1.7h-1.5zM235.9 65.3h1.5v1.7h-1.5zM234.6 66.8h2.8v1.7h-2.8zM206.5 68.4h1.5v1.7h-1.5zM214.5 68.4h1.5v1.7h-1.5zM226.5 68.4h1.5v1.7h-1.5zM235.9 68.4h1.5v1.7h-1.5zM227.9 69.9h1.5v1.7h-1.5zM231.9 69.9h1.5v1.7h-1.5zM234.6 69.9h1.5v1.7h-1.5zM207.8 71.4h1.5v1.7h-1.5zM225.2 71.4h1.5v1.7h-1.5zM100.7 73.0h1.5v1.7h-1.5zM229.2 73.0h1.5v1.7h-1.5zM229.2 74.5h1.5v1.7h-1.5zM223.9 76.1h1.5v1.7h-1.5zM227.9 76.1h1.5v1.7h-1.5zM103.4 77.6h1.5v1.7h-1.5zM166.3 77.6h2.8v1.7h-2.8zM177.0 77.6h1.5v1.7h-1.5zM226.5 77.6h1.5v1.7h-1.5zM177.0 79.2h1.5v1.7h-1.5zM186.4 79.2h1.5v1.7h-1.5zM152.9 80.7h2.8v1.7h-2.8zM158.3 80.7h1.5v1.7h-1.5zM162.3 80.7h2.8v1.7h-2.8zM185.0 80.7h4.2v1.7h-4.2zM186.4 82.3h1.5v1.7h-1.5zM110.1 83.8h1.5v1.7h-1.5zM114.1 83.8h1.5v1.7h-1.5zM182.4 85.3h2.8v1.7h-2.8zM114.1 86.9h1.5v1.7h-1.5zM181.0 86.9h1.5v1.7h-1.5zM118.1 88.4h1.5v1.7h-1.5zM116.8 90.0h5.5v1.7h-5.5zM118.1 91.5h2.8v1.7h-2.8zM122.1 91.5h1.5v1.7h-1.5zM185.0 91.5h1.5v1.7h-1.5zM116.8 93.1h2.8v1.7h-2.8zM182.4 94.6h1.5v1.7h-1.5zM118.1 97.7h1.5v1.7h-1.5zM131.5 99.3h1.5v1.7h-1.5zM178.3 99.3h1.5v1.7h-1.5zM119.5 100.8h1.5v1.7h-1.5zM127.5 100.8h1.5v1.7h-1.5zM178.3 100.8h2.8v1.7h-2.8zM131.5 102.3h1.5v1.7h-1.5zM258.6 102.3h1.5v1.7h-1.5zM122.1 103.9h1.5v1.7h-1.5zM131.5 103.9h1.5v1.7h-1.5zM256.0 103.9h1.5v1.7h-1.5zM131.5 105.4h1.5v1.7h-1.5zM177.0 105.4h1.5v1.7h-1.5zM256.0 110.1h1.5v1.7h-1.5z"/>
<path fill="#88bedd" d="M177.0 45.2h1.5v1.7h-1.5zM182.4 45.2h2.8v1.7h-2.8zM186.4 45.2h1.5v1.7h-1.5zM171.7 46.7h1.5v1.7h-1.5zM179.7 46.7h1.5v1.7h-1.5zM159.6 48.3h1.5v1.7h-1.5zM166.3 48.3h1.5v1.7h-1.5zM170.3 48.3h1.5v1.7h-1.5zM183.7 48.3h1.5v1.7h-1.5zM162.3 49.8h1.5v1.7h-1.5zM165.0 49.8h1.5v1.7h-1.5zM194.4 49.8h1.5v1.7h-1.5zM165.0 51.4h1.5v1.7h-1.5zM175.7 51.4h1.5v1.7h-1.5zM178.3 51.4h1.5v1.7h-1.5zM159.6 52.9h1.5v1.7h-1.5zM173.0 52.9h1.5v1.7h-1.5zM159.6 54.4h1.5v1.7h-1.5zM162.3 54.4h1.5v1.7h-1.5zM156.9 56.0h1.5v1.7h-1.5zM237.2 62.2h1.5v1.7h-1.5zM104.7 63.7h2.8v1.7h-2.8zM235.9 63.7h1.5v1.7h-1.5zM210.5 65.3h2.8v1.7h-2.8zM213.1 66.8h2.8v1.7h-2.8zM231.9 66.8h1.5v1.7h-1.5zM231.9 68.4h2.8v1.7h-2.8zM206.5 69.9h1.5v1.7h-1.5zM226.5 69.9h1.5v1.7h-1.5zM233.2 69.9h1.5v1.7h-1.5zM214.5 71.4h1.5v1.7h-1.5zM95.4 73.0h1.5v1.7h-1.5zM102.1 73.0h1.5v1.7h-1.5zM210.5 73.0h1.5v1.7h-1.5zM95.4 74.5h1.5v1.7h-1.5zM213.1 74.5h1.5v1.7h-1.5zM215.8 74.5h1.5v1.7h-1.5zM225.2 74.5h1.5v1.7h-1.5zM99.4 76.1h1.5v1.7h-1.5zM103.4 76.1h1.5v1.7h-1.5zM225.2 76.1h1.5v1.7h-1.5zM100.7 77.6h2.8v1.7h-2.8zM150.2 77.6h1.5v1.7h-1.5zM163.6 77.6h2.8v1.7h-2.8zM178.3 77.6h1.5v1.7h-1.5zM181.0 77.6h1.5v1.7h-1.5zM175.7 79.2h1.5v1.7h-1.5zM185.0 79.2h1.5v1.7h-1.5zM174.3 80.7h1.5v1.7h-1.5zM182.4 80.7h1.5v1.7h-1.5zM114.1 85.3h1.5v1.7h-1.5zM183.7 86.9h1.5v1.7h-1.5zM119.5 88.4h1.5v1.7h-1.5zM183.7 88.4h1.5v1.7h-1.5zM185.0 90.0h1.5v1.7h-1.5zM116.8 91.5h1.5v1.7h-1.5zM120.8 91.5h1.5v1.7h-1.5zM126.2 91.5h2.8v1.7h-2.8zM127.5 93.1h1.5v1.7h-1.5zM126.2 94.6h1.5v1.7h-1.5zM130.2 96.2h1.5v1.7h-1.5zM119.5 99.3h1.5v1.7h-1.5zM128.8 99.3h1.5v1.7h-1.5zM132.8 99.3h1.5v1.7h-1.5zM131.5 100.8h1.5v1.7h-1.5zM120.8 102.3h1.5v1.7h-1.5zM124.8 103.9h1.5v1.7h-1.5zM130.2 103.9h1.5v1.7h-1.5zM122.1 105.4h4.2v1.7h-4.2zM130.2 105.4h1.5v1.7h-1.5zM126.2 107.0h1.5v1.7h-1.5zM128.8 107.0h1.5v1.7h-1.5zM257.3 108.5h2.8v1.7h-2.8z"/>
<path fill="#6dafd6" d="M175.7 45.2h1.5v1.7h-1.5zM185.0 45.2h1.5v1.7h-1.5zM175.7 46.7h2.8v1.7h-2.8zM182.4 46.7h2.8v1.7h-2.8zM187.7 46.7h1.5v1.7h-1.5zM160.9 48.3h1.5v1.7h-1.5zM171.7 48.3h1.5v1.7h-1.5zM175.7 48.3h1.5v1.7h-1.5zM190.4 48.3h1.5v1.7h-1.5zM169.0 49.8h1.5v1.7h-1.5zM179.7 49.8h1.5v1.7h-1.5zM160.9 51.4h1.5v1.7h-1.5zM163.6 51.4h1.5v1.7h-1.5zM163.6 52.9h1.5v1.7h-1.5zM160.9 54.4h1.5v1.7h-1.5zM104.7 56.0h1.5v1.7h-1.5zM100.7 60.6h1.5v1.7h-1.5zM107.4 60.6h1.5v1.7h-1.5zM107.4 62.2h1.5v1.7h-1.5zM233.2 66.8h1.5v1.7h-1.5zM215.8 71.4h1.5v1.7h-1.5zM99.4 73.0h1.5v1.7h-1.5zM211.8 73.0h1.5v1.7h-1.5zM225.2 73.0h1.5v1.7h-1.5zM100.7 74.5h1.5v1.7h-1.5zM98.0 76.1h1.5v1.7h-1.5zM226.5 76.1h1.5v1.7h-1.5zM158.3 77.6h1.5v1.7h-1.5zM169.0 77.6h8.2v1.7h-8.2zM179.7 77.6h1.5v1.7h-1.5zM150.2 79.2h1.5v1.7h-1.5zM159.6 80.7h2.8v1.7h-2.8zM167.6 80.7h1.5v1.7h-1.5zM182.4 86.9h1.5v1.7h-1.5zM181.0 88.4h1.5v1.7h-1.5zM119.5 93.1h1.5v1.7h-1.5zM179.7 93.1h1.5v1.7h-1.5zM183.7 93.1h1.5v1.7h-1.5zM119.5 94.6h1.5v1.7h-1.5zM119.5 97.7h2.8v1.7h-2.8zM127.5 99.3h1.5v1.7h-1.5zM122.1 102.3h2.8v1.7h-2.8zM130.2 102.3h1.5v1.7h-1.5zM257.3 103.9h2.8v1.7h-2.8zM257.3 105.4h2.8v1.7h-2.8zM127.5 107.0h1.5v1.7h-1.5zM257.3 107.0h2.8v1.7h-2.8z"/>
<path fill="#559fcd" d="M162.3 48.3h1.5v1.7h-1.5zM182.4 48.3h1.5v1.7h-1.5zM185.0 48.3h2.8v1.7h-2.8zM171.7 49.8h2.8v1.7h-2.8zM175.7 49.8h1.5v1.7h-1.5zM162.3 51.4h1.5v1.7h-1.5zM171.7 51.4h1.5v1.7h-1.5zM160.9 52.9h1.5v1.7h-1.5zM107.4 59.1h1.5v1.7h-1.5zM106.1 62.2h1.5v1.7h-1.5zM209.1 66.8h1.5v1.7h-1.5zM211.8 66.8h1.5v1.7h-1.5zM207.8 68.4h1.5v1.7h-1.5zM210.5 71.4h1.5v1.7h-1.5zM226.5 71.4h1.5v1.7h-1.5zM213.1 73.0h1.5v1.7h-1.5zM215.8 73.0h1.5v1.7h-1.5zM214.5 74.5h1.5v1.7h-1.5zM226.5 74.5h2.8v1.7h-2.8zM100.7 76.1h2.8v1.7h-2.8zM159.6 77.6h1.5v1.7h-1.5zM162.3 77.6h1.5v1.7h-1.5zM170.3 79.2h1.5v1.7h-1.5zM165.0 80.7h2.8v1.7h-2.8zM169.0 80.7h2.8v1.7h-2.8zM177.0 80.7h1.5v1.7h-1.5zM181.0 80.7h1.5v1.7h-1.5zM179.7 90.0h1.5v1.7h-1.5zM126.2 93.1h1.5v1.7h-1.5zM123.5 94.6h1.5v1.7h-1.5zM179.7 94.6h1.5v1.7h-1.5zM119.5 96.2h2.8v1.7h-2.8zM127.5 96.2h2.8v1.7h-2.8zM179.7 96.2h2.8v1.7h-2.8zM130.2 99.3h1.5v1.7h-1.5zM120.8 100.8h1.5v1.7h-1.5zM130.2 100.8h1.5v1.7h-1.5zM128.8 102.3h1.5v1.7h-1.5zM128.8 105.4h1.5v1.7h-1.5z"/>
<path fill="#3f8fc4" d="M181.0 46.7h1.5v1.7h-1.5zM178.3 48.3h1.5v1.7h-1.5zM170.3 49.8h1.5v1.7h-1.5zM177.0 49.8h1.5v1.7h-1.5zM162.3 52.9h1.5v1.7h-1.5zM155.6 54.4h1.5v1.7h-1.5zM102.1 56.0h1.5v1.7h-1.5zM155.6 56.0h1.5v1.7h-1.5zM106.1 60.6h1.5v1.7h-1.5zM210.5 66.8h1.5v1.7h-1.5zM210.5 68.4h1.5v1.7h-1.5zM213.1 71.4h1.5v1.7h-1.5zM227.9 71.4h1.5v1.7h-1.5zM214.5 73.0h1.5v1.7h-1.5zM226.5 73.0h1.5v1.7h-1.5zM151.6 77.6h1.5v1.7h-1.5zM158.3 79.2h1.5v1.7h-1.5zM169.0 79.2h1.5v1.7h-1.5zM171.7 80.7h1.5v1.7h-1.5zM179.7 91.5h1.5v1.7h-1.5zM122.1 93.1h1.5v1.7h-1.5zM124.8 94.6h1.5v1.7h-1.5zM181.0 94.6h1.5v1.7h-1.5zM122.1 96.2h1.5v1.7h-1.5zM130.2 97.7h1.5v1.7h-1.5zM120.8 99.3h1.5v1.7h-1.5zM126.2 105.4h2.8v1.7h-2.8z"/>
<path fill="#3281bd" d="M185.0 46.7h1.5v1.7h-1.5zM177.0 48.3h1.5v1.7h-1.5zM179.7 48.3h2.8v1.7h-2.8zM178.3 49.8h1.5v1.7h-1.5zM173.0 51.4h2.8v1.7h-2.8zM103.4 56.0h1.5v1.7h-1.5zM100.7 57.5h1.5v1.7h-1.5zM100.7 59.1h1.5v1.7h-1.5zM103.4 62.2h1.5v1.7h-1.5zM209.1 68.4h1.5v1.7h-1.5zM207.8 69.9h2.8v1.7h-2.8zM96.7 73.0h1.5v1.7h-1.5zM227.9 73.0h1.5v1.7h-1.5zM99.4 74.5h1.5v1.7h-1.5zM160.9 77.6h1.5v1.7h-1.5zM151.6 79.2h1.5v1.7h-1.5zM163.6 79.2h1.5v1.7h-1.5zM174.3 79.2h1.5v1.7h-1.5zM181.0 79.2h1.5v1.7h-1.5zM173.0 80.7h1.5v1.7h-1.5zM178.3 80.7h1.5v1.7h-1.5zM183.7 90.0h1.5v1.7h-1.5zM183.7 91.5h1.5v1.7h-1.5zM120.8 93.1h1.5v1.7h-1.5zM182.4 93.1h1.5v1.7h-1.5zM126.2 96.2h1.5v1.7h-1.5zM122.1 100.8h1.5v1.7h-1.5zM127.5 102.3h1.5v1.7h-1.5zM128.8 103.9h1.5v1.7h-1.5z"/>
<path fill="#2673b6" d="M186.4 46.7h1.5v1.7h-1.5zM174.3 49.8h1.5v1.7h-1.5zM104.7 62.2h1.5v1.7h-1.5zM213.1 68.4h1.5v1.7h-1.5zM210.5 69.9h1.5v1.7h-1.5zM213.1 69.9h1.5v1.7h-1.5zM211.8 71.4h1.5v1.7h-1.5zM98.0 73.0h1.5v1.7h-1.5zM179.7 80.7h1.5v1.7h-1.5zM181.0 90.0h2.8v1.7h-2.8zM181.0 93.1h1.5v1.7h-1.5zM122.1 94.6h1.5v1.7h-1.5zM124.8 102.3h1.5v1.7h-1.5zM126.2 103.9h1.5v1.7h-1.5z"/>
<path fill="#1e65ab" d="M106.1 57.5h1.5v1.7h-1.5zM96.7 74.5h1.5v1.7h-1.5zM171.7 79.2h1.5v1.7h-1.5zM178.3 79.2h1.5v1.7h-1.5zM120.8 94.6h1.5v1.7h-1.5zM123.5 96.2h1.5v1.7h-1.5zM122.1 97.7h1.5v1.7h-1.5zM127.5 97.7h2.8v1.7h-2.8zM122.1 99.3h1.5v1.7h-1.5zM123.5 100.8h1.5v1.7h-1.5zM127.5 103.9h1.5v1.7h-1.5z"/>
<path fill="#1858a0" d="M106.1 59.1h1.5v1.7h-1.5zM211.8 68.4h1.5v1.7h-1.5zM152.9 77.6h5.5v1.7h-5.5zM156.9 79.2h1.5v1.7h-1.5zM165.0 79.2h1.5v1.7h-1.5zM124.8 96.2h1.5v1.7h-1.5zM126.2 102.3h1.5v1.7h-1.5z"/>
<path fill="#124b92" d="M102.1 60.6h1.5v1.7h-1.5zM166.3 79.2h2.8v1.7h-2.8zM179.7 79.2h1.5v1.7h-1.5zM181.0 91.5h2.8v1.7h-2.8zM124.8 97.7h1.5v1.7h-1.5z"/>
<path fill="#0d3d7f" d="M104.7 60.6h1.5v1.7h-1.5zM98.0 74.5h1.5v1.7h-1.5zM154.3 79.2h1.5v1.7h-1.5zM162.3 79.2h1.5v1.7h-1.5zM126.2 97.7h1.5v1.7h-1.5zM123.5 99.3h4.2v1.7h-4.2z"/>
<path fill="#08306b" d="M102.1 57.5h4.2v1.7h-4.2zM102.1 59.1h4.2v1.7h-4.2zM103.4 60.6h1.5v1.7h-1.5zM211.8 69.9h1.5v1.7h-1.5zM152.9 79.2h1.5v1.7h-1.5zM155.6 79.2h1.5v1.7h-1.5zM159.6 79.2h2.8v1.7h-2.8zM173.0 79.2h1.5v1.7h-1.5zM123.5 97.7h1.5v1.7h-1.5zM124.8 100.8h2.8v1.7h-2.8z"/>
</g>
<path d="M48.5 37.8L49.9 35.5L52.5 34.4L56.2 33.3L60.6 34.0L66.6 34.6L70.6 35.1L75.3 34.4L77.3 34.7L80.7 34.7L84.0 35.9L88.7 35.9L92.0 35.9L95.4 35.5L97.4 35.1L98.0 32.8L100.1 34.7L102.1 35.5L104.1 34.7L106.1 34.7L106.7 35.9L104.1 37.4L102.7 38.2L100.7 39.0L98.7 40.5L97.7 42.9L99.1 44.4L102.1 44.8L104.1 45.7L105.9 45.9L106.1 47.9L107.4 48.9L108.1 48.3L108.1 46.3L109.4 45.2L108.8 43.2L109.1 41.7L108.8 40.3L111.4 40.3L114.1 41.3L114.4 42.9L116.8 43.2L117.8 41.8L119.5 43.6L120.8 45.6L122.8 47.1L123.7 48.3L122.1 49.0L120.8 49.7L117.5 49.7L116.1 50.6L114.1 52.1L115.4 51.0L117.5 51.0L117.8 52.1L120.1 52.9L118.8 53.9L116.8 54.8L116.8 53.7L116.1 53.7L114.1 54.7L113.6 56.0L114.1 56.2L112.1 56.8L111.4 57.1L110.8 58.7L110.1 59.9L110.4 61.2L109.1 62.2L107.4 63.5L106.5 64.9L107.3 67.6L107.2 68.9L106.4 68.7L105.6 66.8L104.7 65.3L103.4 65.0L101.4 65.1L101.1 65.9L99.7 65.6L98.0 65.6L96.0 66.8L95.7 68.7L95.5 71.1L96.7 73.8L97.7 74.4L99.4 74.1L100.3 73.4L100.5 72.2L102.7 71.8L102.4 73.8L101.9 74.9L101.5 76.2L103.4 76.2L105.1 76.6L105.1 78.8L104.9 80.1L105.7 81.3L106.7 81.6L107.8 81.1L109.1 81.9L110.1 81.3L110.8 80.1L112.4 79.3L113.1 78.9L113.1 80.1L114.1 79.3L115.2 80.2L116.8 80.2L118.1 80.3L119.5 80.2L120.1 81.1L120.8 81.9L122.1 83.2L124.1 83.8L126.2 84.6L126.8 85.3L127.5 87.3L127.5 88.4L128.8 89.0L130.8 89.6L131.5 90.5L133.5 90.7L135.2 91.4L137.3 92.5L137.6 94.2L137.2 95.8L136.2 97.3L135.0 98.9L134.9 101.2L134.4 103.1L133.5 105.4L132.2 106.2L130.5 106.8L128.8 108.1L128.4 109.7L127.8 111.1L126.8 112.4L125.8 113.9L124.8 115.3L123.1 115.4L121.9 114.7L122.8 116.5L122.3 118.0L119.5 118.6L119.3 120.0L117.5 120.1L118.3 121.4L117.3 123.2L115.8 124.0L116.9 125.4L115.4 127.1L114.8 128.6L115.2 129.0L117.3 130.8L115.4 131.3L113.4 130.6L111.8 129.4L110.8 127.5L110.4 124.8L111.8 122.4L111.6 120.5L111.8 117.8L112.4 115.5L113.1 112.4L113.2 109.7L113.9 106.6L114.0 102.7L112.8 101.6L110.4 99.6L109.4 97.7L108.2 95.0L107.4 93.1L106.5 91.9L107.4 90.8L106.9 89.2L107.4 88.1L108.2 87.3L109.1 85.5L109.1 83.2L108.6 82.1L107.4 82.8L106.4 82.5L105.4 82.0L104.1 80.9L103.5 79.9L102.4 78.4L100.7 77.8L99.3 77.2L97.7 75.9L96.0 76.2L94.0 75.3L91.7 74.3L90.4 72.8L90.5 71.6L89.7 70.3L88.0 68.5L87.0 67.2L85.7 65.6L85.2 64.3L84.1 63.9L84.3 65.3L85.7 67.2L86.7 69.1L87.7 70.5L87.1 70.7L86.0 69.3L84.5 67.2L83.5 65.3L82.6 63.3L81.7 62.2L80.3 61.8L79.4 60.2L79.0 59.2L78.1 57.5L77.8 56.0L78.0 52.9L77.5 51.0L78.6 50.6L77.3 49.4L75.4 48.6L73.8 46.3L72.6 44.8L70.6 43.2L68.6 42.5L66.6 42.1L64.6 41.9L62.6 41.3L60.6 41.3L59.2 42.5L57.9 43.2L55.6 44.4L53.2 45.6L50.9 46.2L52.5 45.2L54.9 43.6L53.2 43.0L52.5 42.1L50.5 41.5L49.9 40.5L50.9 39.6L53.2 39.0L51.5 38.6L49.5 38.4L48.5 37.8ZM112.1 28.0L115.4 26.6L119.5 25.1L127.5 24.7L137.5 23.9L144.2 24.7L148.9 25.9L148.2 28.2L146.9 30.5L146.2 32.4L144.2 34.0L146.2 34.4L142.9 35.7L138.9 36.7L136.2 37.7L134.2 38.2L132.8 40.1L131.8 42.1L130.5 42.1L128.5 41.3L127.2 39.4L125.8 37.8L124.9 36.3L126.5 34.7L124.5 34.0L124.1 32.4L122.1 30.1L118.8 29.6L115.4 29.7L113.4 28.8L112.1 28.0ZM154.9 59.9L154.6 58.5L155.1 56.8L154.7 55.2L155.6 54.7L158.3 54.9L159.7 54.9L160.1 53.3L159.3 51.9L157.8 51.1L159.9 50.8L159.7 50.0L161.1 50.2L162.0 49.2L163.3 48.7L164.1 47.5L165.6 47.0L166.8 46.7L166.5 45.6L166.4 44.4L168.0 43.9L167.8 45.2L167.5 45.9L168.3 46.7L169.3 46.4L170.5 46.8L172.0 46.3L173.3 46.2L174.2 46.4L175.0 45.7L175.0 44.4L176.0 43.9L177.2 44.2L176.7 42.7L178.3 42.5L179.7 42.4L181.0 42.1L179.7 41.7L177.7 41.9L176.0 42.1L175.2 41.3L175.2 39.8L177.3 38.4L177.9 37.8L176.0 37.6L175.3 38.6L173.0 40.1L172.5 41.3L173.5 42.1L172.1 43.1L172.0 44.8L170.7 45.2L169.6 45.6L169.5 44.8L168.4 42.9L168.0 42.5L166.3 43.5L164.8 43.2L164.3 41.7L164.3 40.5L165.6 39.8L167.6 39.0L169.0 37.8L169.6 36.7L171.3 35.5L173.0 34.7L175.0 34.2L178.1 33.5L180.0 33.7L181.7 34.4L181.0 34.7L183.0 34.9L185.0 35.1L187.7 36.1L188.4 36.8L186.4 37.3L183.4 36.9L184.0 38.2L185.7 39.0L187.5 38.4L188.1 37.4L190.1 37.2L190.4 35.9L191.7 35.7L193.4 36.1L196.4 35.5L199.8 35.3L201.4 34.5L203.8 34.9L205.8 35.4L206.8 34.4L205.8 33.2L207.1 32.0L209.1 32.2L209.5 33.6L210.1 35.5L209.5 36.9L211.1 36.3L211.1 33.2L213.1 32.8L215.2 32.7L215.2 31.6L218.8 31.3L219.2 30.5L222.5 29.9L227.2 29.5L230.7 28.4L232.6 29.1L235.9 29.5L236.9 31.3L234.6 31.3L236.6 31.6L239.9 31.8L243.9 31.5L245.9 32.4L247.6 33.6L249.9 33.2L253.3 33.2L254.6 32.4L258.6 32.6L261.3 33.2L263.3 33.6L267.3 33.7L268.4 34.7L271.4 34.7L274.7 34.6L275.4 34.4L278.7 34.6L281.4 35.1L281.4 38.1L280.4 38.6L281.1 40.1L277.7 40.7L275.0 42.1L272.0 42.2L270.2 43.6L269.7 45.2L269.2 46.2L268.0 47.3L266.9 48.0L265.8 49.0L265.3 47.5L265.1 45.2L266.0 43.8L268.0 41.7L270.4 40.1L268.0 40.8L265.8 40.9L264.3 42.4L262.0 42.9L258.6 42.6L256.3 42.9L253.6 44.4L251.6 46.2L253.0 46.9L255.3 47.5L255.0 49.0L254.8 51.0L253.6 52.5L252.0 54.2L249.9 55.4L248.6 55.6L247.7 56.4L246.6 57.7L247.5 59.9L247.5 61.0L246.3 61.6L245.5 61.6L245.6 59.9L244.6 59.3L244.6 57.9L242.6 58.3L242.1 56.9L240.6 58.2L239.9 58.9L241.6 59.3L242.9 59.9L241.6 60.6L240.8 61.4L241.7 63.3L242.5 64.5L242.3 65.6L242.3 66.8L241.1 68.5L239.9 69.7L238.6 70.8L236.9 71.2L235.2 72.0L234.6 72.8L234.4 71.8L233.2 71.8L232.2 73.0L231.7 73.9L232.8 75.7L233.9 77.2L234.1 79.2L232.8 80.3L232.2 81.1L231.2 81.7L231.1 80.5L229.9 79.9L229.4 79.0L228.5 78.5L228.0 78.0L227.7 79.2L227.4 80.7L228.1 82.3L228.5 83.3L229.4 83.6L230.1 85.0L230.2 86.3L230.7 87.4L230.1 87.4L228.9 86.4L228.2 85.0L228.1 83.8L227.2 82.5L226.7 81.9L226.9 79.9L227.0 78.0L226.3 76.5L226.0 75.5L224.9 76.2L224.1 76.1L224.1 74.1L223.5 73.1L222.5 71.8L222.2 71.0L221.5 71.3L220.5 71.6L219.2 72.0L219.0 72.8L217.8 73.4L216.0 75.5L214.7 76.5L214.5 78.2L214.3 80.5L213.8 81.3L213.1 82.0L212.8 82.3L212.1 81.5L211.7 79.6L211.0 78.4L210.7 76.8L210.0 75.3L209.7 73.5L209.6 72.2L208.1 72.4L207.1 71.2L206.0 69.5L205.3 68.8L202.4 69.0L200.4 68.9L199.2 68.5L198.8 67.6L197.4 67.9L196.1 67.2L194.9 66.0L194.4 65.1L193.6 65.0L193.1 65.6L193.6 66.8L194.5 68.0L194.7 68.9L195.4 68.5L195.5 69.6L197.1 69.9L198.4 68.6L198.8 69.5L200.2 70.3L201.0 71.1L200.1 72.6L199.6 73.8L198.4 74.7L195.9 75.8L193.7 77.2L191.1 78.5L190.1 78.6L189.6 77.0L189.5 75.7L188.4 73.8L187.0 71.8L186.7 70.1L185.7 68.7L184.4 66.8L184.2 65.6L183.9 66.8L183.4 66.7L182.8 65.3L183.4 67.2L184.7 69.9L185.7 71.8L186.0 73.9L186.7 74.5L187.5 76.7L188.5 77.2L189.9 78.8L189.9 79.6L190.7 80.3L192.4 79.8L195.2 79.2L194.9 81.1L193.7 83.8L192.7 85.3L190.4 87.7L189.1 89.2L188.1 90.6L187.2 92.1L187.0 93.5L187.5 94.6L188.1 96.6L188.1 99.6L187.0 101.6L185.4 103.1L184.2 103.9L184.7 105.8L184.7 107.0L183.0 108.1L182.9 109.7L182.0 111.2L181.0 112.8L179.4 114.3L177.7 114.7L175.7 114.9L174.3 115.3L173.3 114.9L173.0 113.6L172.3 111.6L171.3 109.3L170.7 106.2L169.6 103.9L168.8 102.0L169.0 100.0L170.0 98.1L170.0 96.2L169.3 93.5L169.0 92.3L167.6 90.4L167.0 89.1L167.3 87.7L167.4 86.1L166.8 85.0L165.6 85.0L164.6 84.4L163.8 83.6L162.6 83.6L161.6 83.9L159.9 84.6L158.9 84.5L157.6 84.5L155.9 85.0L154.9 84.6L153.6 83.3L152.4 82.3L151.9 80.9L150.9 79.9L149.8 78.8L149.7 78.0L149.2 77.1L149.9 75.7L150.1 73.8L149.6 72.2L150.2 70.3L151.0 68.7L152.3 67.0L153.6 66.2L154.4 65.4L154.5 64.1L155.3 62.7L156.4 62.2L157.0 60.8L157.4 60.7L158.9 61.2L159.6 61.3L160.9 60.8L163.0 60.0L165.0 59.9L166.6 59.9L167.6 59.6L168.3 59.9L168.0 61.0L167.6 62.0L168.3 62.6L169.6 63.0L171.2 63.5L172.7 64.5L174.0 64.9L174.3 63.7L175.7 63.1L177.7 63.9L179.4 64.3L180.7 64.6L181.7 64.1L182.6 64.3L183.8 64.3L184.2 63.3L184.8 61.8L185.0 60.6L185.0 60.0L183.7 60.4L182.4 60.5L181.4 60.2L180.4 60.2L179.2 59.9L178.7 58.7L178.9 57.9L178.5 57.4L178.3 56.9L177.0 56.8L176.5 57.3L176.2 57.1L176.3 58.1L177.0 58.9L176.3 59.5L176.2 60.2L175.5 60.0L175.1 58.8L174.3 57.8L173.9 56.5L173.7 55.8L172.3 55.1L171.2 54.1L170.2 53.2L169.2 53.4L169.2 54.3L170.1 54.8L170.7 55.8L171.7 56.1L173.3 57.4L173.2 57.7L172.3 57.1L172.0 57.8L172.4 58.3L171.8 59.1L171.4 59.1L171.7 58.3L171.2 57.5L170.3 56.9L169.3 56.4L168.3 55.6L167.8 54.8L167.0 54.2L166.0 54.6L165.0 55.1L163.6 54.8L163.0 55.2L163.1 56.1L161.5 56.8L160.7 57.9L160.9 58.5L160.5 59.2L159.6 60.0L157.9 60.1L157.3 60.5L156.7 60.0L156.1 59.7L154.9 59.9ZM40.5 35.1L42.5 35.7L45.2 36.7L47.2 37.4L45.5 38.7L43.2 37.8L41.2 37.6L40.5 38.1ZM119.8 37.1L117.5 39.8L115.4 40.3L112.8 39.1L109.4 38.8L108.8 37.8L111.4 37.4L112.1 35.9L108.8 34.4L104.1 34.4L101.4 33.6L101.1 31.6L104.1 31.5L107.4 32.3L110.1 32.4L113.4 33.6L115.8 35.1L118.1 36.3ZM82.7 35.1L84.7 35.9L88.7 35.4L91.4 35.4L93.0 34.6L90.7 32.8L88.0 32.0L84.7 32.0L81.7 33.2ZM77.3 32.8L79.0 33.3L81.7 32.0L81.3 31.1L78.0 31.0ZM100.7 29.3L107.4 29.5L108.8 28.6L111.4 27.4L115.4 25.9L119.5 24.7L114.1 24.3L107.4 24.3L100.7 25.1L99.4 25.9L103.4 27.4ZM97.4 30.5L102.1 30.8L107.4 30.6L107.4 29.9L100.7 29.3ZM83.3 30.5L87.3 30.6L90.0 30.3L90.0 29.5L86.0 29.3L82.7 29.7ZM92.7 32.8L96.0 33.2L98.7 32.8L98.0 31.3L94.0 31.5ZM96.7 28.2L100.7 28.0L102.7 26.6L98.7 25.9L96.7 27.0ZM91.4 30.1L95.4 30.5L96.0 29.3L92.7 28.9L91.4 29.5ZM94.7 35.1L96.7 35.5L97.0 34.7L95.4 34.4ZM102.7 39.4L105.4 40.1L107.1 39.4L105.4 37.8L103.4 37.8ZM121.3 51.6L123.5 52.3L125.5 52.4L125.7 51.6L124.9 50.2L123.5 49.8L123.7 48.6L122.6 49.4L121.8 50.6ZM75.3 49.4L77.3 50.8L78.3 51.0L77.3 49.7ZM72.0 46.7L73.0 47.5L73.3 48.3L72.3 47.3ZM57.6 44.0L58.9 44.2L59.0 43.6L58.2 43.6ZM47.9 47.5L49.5 47.0L49.5 46.7L48.2 47.1ZM43.8 48.3L45.9 48.0L45.9 47.8L43.8 48.0ZM104.1 71.4L106.1 70.5L108.1 71.1L110.1 72.2L111.3 72.8L109.0 73.1L108.4 72.2L106.1 71.2L104.4 71.7ZM111.1 74.2L112.2 73.1L114.1 73.1L115.2 74.1L113.8 74.4L113.0 74.8ZM108.6 74.2L109.9 74.3L109.8 74.6L108.8 74.7ZM116.0 74.1L117.0 74.2L116.9 74.5L116.0 74.5ZM119.6 80.2L120.1 80.1L120.1 80.6L119.6 80.6ZM144.6 37.8L146.2 37.1L148.9 37.3L151.2 37.4L151.9 38.2L150.9 38.8L148.6 39.5L145.9 39.1L144.9 38.4ZM157.3 49.7L158.6 49.6L160.3 49.3L161.8 48.9L161.5 48.6L162.1 47.7L161.2 47.5L160.8 46.7L159.9 45.9L159.6 45.2L159.3 44.0L158.6 43.2L157.6 43.2L156.9 44.0L157.3 45.2L157.7 45.9L158.7 46.1L158.9 47.1L157.9 47.3L158.1 48.1L157.5 48.4L158.6 48.6L157.9 49.0ZM154.3 48.3L154.6 48.6L156.7 48.1L156.9 47.1L157.3 46.3L156.6 45.8L155.5 45.8L154.3 46.6L154.6 47.3ZM168.3 27.0L170.3 28.6L172.3 29.2L173.7 27.8L175.7 27.9L177.7 26.6L174.3 26.2L170.3 26.6ZM175.0 27.4L178.3 27.6L179.0 26.6L175.7 26.6ZM195.4 33.2L196.4 33.8L199.1 33.9L198.4 32.0L201.1 30.5L205.1 29.3L207.1 28.9L204.4 29.7L199.8 30.9L197.1 32.0ZM224.5 27.4L227.9 28.2L231.2 27.8L229.9 26.6L225.9 25.9ZM252.6 30.5L256.6 31.6L261.3 30.5L258.0 29.7L253.3 29.7ZM194.4 26.2L201.1 26.2L202.4 25.5L195.7 25.5ZM280.4 33.6L281.4 33.7L281.4 33.2L280.4 33.2ZM256.0 52.9L257.0 52.3L256.6 50.6L257.6 50.4L256.8 48.3L256.6 46.7L256.0 47.1L256.0 49.8ZM254.6 56.4L255.4 56.5L256.8 56.0L258.3 55.0L258.0 54.2L256.0 53.3L255.6 54.8L254.8 55.2ZM247.9 64.3L248.6 64.3L249.3 62.9L249.9 62.8L251.0 62.3L251.8 62.6L252.6 61.7L254.0 61.6L254.6 61.2L255.2 60.6L255.3 59.1L256.0 57.9L255.6 56.5L254.6 56.9L254.5 58.3L253.6 59.6L252.6 59.9L252.0 60.9L249.9 61.0L248.6 61.8L247.9 62.6L247.6 63.1ZM241.4 70.7L241.8 71.4L242.3 70.3L242.5 69.1L241.9 69.1ZM233.7 73.6L234.2 74.4L234.9 73.9L235.2 73.2L234.6 72.9ZM214.3 82.3L214.5 83.6L215.2 83.8L215.8 82.8L215.2 81.6L214.5 80.9ZM241.5 76.1L241.6 74.2L242.6 74.1L242.8 75.7L242.4 77.5L243.9 78.4L243.9 78.8L242.9 78.0L241.9 77.9L241.5 77.1ZM242.6 83.0L243.6 82.6L243.9 81.9L244.9 80.9L245.6 81.9L245.5 83.4L244.9 84.0L244.1 83.6ZM242.6 80.3L243.3 79.6L244.3 79.7L244.9 78.9L245.1 79.9L244.6 80.7L243.6 81.3L242.9 80.9ZM239.4 81.9L240.9 80.3L241.0 79.8L240.2 80.7ZM233.9 87.3L234.2 88.4L234.6 89.6L234.9 90.8L236.6 91.0L237.6 91.5L238.6 91.4L238.9 90.0L239.6 88.1L239.9 86.7L239.7 85.2L240.6 84.4L239.2 83.0L238.6 83.6L237.6 84.7L236.6 86.0L235.4 86.5L235.2 87.3ZM224.7 84.1L226.2 84.4L227.2 85.6L228.2 86.7L229.2 87.7L230.2 88.4L230.9 89.8L231.9 90.8L231.9 92.9L231.0 92.9L229.9 92.1L228.9 90.8L228.1 89.2L227.2 88.1L226.9 86.9L225.9 85.9ZM231.4 93.7L232.2 93.1L233.6 93.5L235.1 93.5L236.4 93.8L237.6 94.5L237.6 95.1L236.2 94.9L234.6 94.6L233.2 94.4L232.2 94.2ZM238.6 94.9L239.6 94.9L240.6 95.0L241.9 95.0L243.3 94.9L243.3 95.2L241.2 95.5L239.2 95.4L238.6 95.3ZM243.6 96.4L244.6 95.2L245.9 94.9L245.6 95.4L244.3 96.3ZM240.9 92.7L240.9 91.1L240.6 89.2L241.2 87.8L242.6 87.7L244.6 87.2L244.3 88.1L242.3 88.1L241.4 88.4L241.9 89.2L243.5 89.1L242.5 89.9L242.9 91.1L243.3 91.9L242.8 92.3L242.3 92.0L241.9 90.6L241.6 90.8L241.5 92.8ZM246.3 87.7L246.6 86.9L247.1 87.7L246.6 89.1L246.4 88.4ZM246.6 90.9L248.5 90.8L248.3 91.2L246.8 91.1ZM248.6 89.1L249.6 88.7L250.6 89.1L250.8 90.4L251.6 91.0L253.0 89.7L254.3 90.1L255.6 90.5L257.6 91.4L258.6 92.5L259.7 93.1L259.5 93.8L260.7 95.4L261.7 96.6L260.0 96.3L259.0 95.2L257.6 94.4L257.0 95.2L255.6 95.5L254.3 94.6L253.3 94.9L253.3 93.8L253.8 93.5L253.0 92.5L251.3 91.8L249.9 91.5L249.8 90.9L248.9 90.5L250.3 90.3L249.3 90.0ZM260.3 92.8L261.7 92.7L262.7 91.7L262.9 92.3L261.9 93.2L260.7 93.2ZM261.9 90.5L263.0 91.4L263.3 92.0L262.9 91.5ZM265.3 93.8L266.7 94.6L268.4 95.8L268.0 96.0L266.3 94.9ZM272.4 100.0L272.9 100.4L273.2 101.2L272.7 100.8ZM270.7 104.0L271.7 104.7L272.7 105.7L272.2 105.7L271.0 104.7ZM279.6 102.0L280.5 102.0L280.4 102.5L279.6 102.4ZM236.9 105.8L237.1 108.9L237.9 111.6L238.4 113.2L237.9 114.9L239.9 115.5L241.2 114.7L243.6 114.6L245.3 113.4L247.3 112.9L248.7 112.8L250.6 113.7L251.6 115.3L252.0 114.7L253.0 113.9L253.2 115.9L254.3 116.2L255.0 117.8L257.0 118.4L258.8 118.6L260.0 117.6L261.3 117.3L261.7 115.5L262.3 113.9L263.3 112.0L263.7 110.1L263.3 108.1L262.0 106.8L261.0 105.6L260.2 103.9L258.8 103.1L258.6 102.0L258.2 100.0L257.2 99.5L256.8 97.7L256.3 96.8L255.8 98.5L255.6 100.4L255.2 102.0L254.3 102.0L253.0 100.8L251.6 100.0L252.4 97.9L251.3 97.9L249.6 97.3L248.6 97.9L247.7 99.9L246.8 99.9L245.9 99.3L244.9 99.6L243.9 101.0L242.8 101.7L242.7 102.7L241.6 103.7L239.9 104.2L238.6 104.7L237.4 105.3ZM257.8 119.9L259.0 120.2L260.2 120.0L260.0 121.7L259.0 122.1L258.2 121.3ZM276.5 115.1L277.6 116.3L278.4 116.8L278.7 117.5L280.3 117.6L279.9 118.7L279.3 119.6L278.3 120.6L277.9 120.3L278.1 119.3L277.3 118.8L277.9 117.8L277.7 116.9L276.7 115.6ZM276.5 119.8L277.6 120.5L276.7 121.9L275.6 122.7L275.2 123.9L274.0 124.4L273.0 124.1L272.4 123.8L273.6 122.4L275.0 121.5L276.0 120.1ZM193.9 97.7L194.7 100.4L194.1 102.0L193.4 104.7L192.4 107.8L191.3 108.1L190.2 106.6L189.9 105.1L190.7 103.7L190.4 102.0L191.1 100.8L192.4 100.0L193.1 98.9ZM120.1 128.2L122.1 128.2L121.8 128.8L120.5 128.8ZM135.5 130.2L136.9 130.4L136.9 130.8L135.9 130.5ZM207.0 126.3L208.0 126.3L208.0 126.8L207.1 126.8ZM56.6 72.8L57.2 73.1L56.9 73.8L56.6 73.4ZM55.1 71.8L55.4 72.0L55.2 72.1ZM99.7 88.7L100.2 88.8L100.1 89.2L99.7 89.1ZM169.3 59.1L171.4 58.9L171.1 60.1L169.3 59.4ZM166.4 58.3L167.4 58.2L167.4 56.8L166.5 56.9ZM166.8 56.4L167.3 56.0L167.2 55.2L166.8 55.6ZM176.7 61.0L178.5 61.2L178.3 61.4L176.7 61.2ZM182.6 61.4L184.0 60.9L183.4 61.6ZM196.6 78.7L197.4 78.8L197.1 78.9ZM168.3 45.4L169.4 45.2L169.2 45.9L168.4 45.8ZM173.1 44.4L173.7 43.7L173.5 44.2ZM258.6 54.1L260.3 53.3L260.0 53.1L258.6 53.7ZM261.3 52.9L262.7 52.0L262.5 51.8L261.3 52.6ZM189.9 97.3L190.1 97.5L189.9 97.7ZM198.0 104.7L198.3 104.7L198.1 105.0ZM199.4 103.9L199.6 104.0L199.4 104.3ZM149.7 66.5L150.1 66.4L149.9 66.8ZM145.1 76.7L145.3 76.8L145.2 76.9ZM166.6 85.6L166.9 85.7L166.8 86.0ZM223.0 78.0L223.2 79.2L223.0 79.6L222.8 78.8ZM113.8 129.2L115.1 129.2L117.1 130.6L116.1 131.1L114.1 130.8L113.1 130.2ZM111.3 120.9L111.8 120.9L111.7 122.0L111.2 121.8ZM111.4 57.1L112.8 56.8L112.8 56.9ZM118.1 52.3L119.5 52.6L119.1 52.9L118.1 52.7ZM117.8 49.9L119.6 50.4L119.1 50.5ZM108.4 67.8L109.1 68.0L109.3 68.4L108.8 68.0ZM108.8 69.4L109.0 69.9L108.8 70.1ZM78.6 29.7L81.3 29.9L83.3 28.9L81.3 28.6L79.3 28.9ZM90.7 28.2L94.0 28.3L94.7 27.6L92.0 27.2ZM95.4 28.3L97.0 28.3L97.0 27.6L95.7 27.6ZM96.4 30.6L98.4 30.7L98.4 30.1L96.7 30.0ZM106.7 32.0L109.4 32.2L109.8 31.6L107.4 31.4ZM109.1 36.4L110.4 36.4L110.4 35.7L109.2 35.7ZM105.1 40.1L106.4 40.3L107.4 39.9L105.7 39.7ZM107.1 40.8L107.9 40.8L107.8 40.2L107.2 40.2ZM106.1 47.5L107.1 47.6L107.1 47.3L106.2 47.3ZM92.7 32.7L95.4 33.2L96.4 32.2L94.7 31.3L92.7 31.9ZM84.7 28.7L87.3 28.7L87.3 28.2L84.7 28.2ZM89.7 31.9L91.0 32.0L91.0 31.4L90.0 31.4ZM107.4 45.2L108.1 45.3L108.1 44.7L107.4 44.7ZM193.3 35.1L194.3 35.4L194.4 34.9L193.6 34.7ZM200.1 34.4L201.4 34.6L201.1 34.0L200.3 34.0ZM227.9 28.0L230.9 28.3L231.2 27.6L228.5 27.2ZM253.0 30.3L255.3 30.6L255.3 29.7L253.3 29.7ZM254.6 31.8L256.6 31.9L256.6 31.4L255.0 31.4ZM270.2 43.2L271.0 42.9L270.7 42.6L270.2 42.9ZM46.0 39.5L47.9 39.8L48.0 39.5L46.2 39.1ZM49.0 42.1L50.1 42.2L50.1 41.8L49.2 41.8ZM124.1 34.7L126.2 34.9L126.2 34.1L124.5 34.1ZM155.9 40.7L156.6 40.7L156.6 40.3L156.1 40.3ZM159.9 42.1L160.3 42.1L160.3 41.5L159.9 41.6ZM155.9 44.4L156.7 44.0L156.8 43.3L156.1 43.5ZM162.6 58.0L163.2 58.0L163.2 57.6L162.6 57.7ZM245.4 62.7L245.9 62.7L245.9 62.5L245.4 62.6ZM246.3 68.3L246.8 67.8L246.6 67.7ZM241.5 78.1L242.3 78.2L242.1 78.9L241.7 78.8ZM244.1 78.8L244.9 78.8L245.1 79.8L244.5 79.7ZM242.9 80.7L243.5 80.0L243.5 81.3L243.0 81.3ZM241.1 94.9L243.1 94.7L243.1 95.2L241.1 95.2ZM240.6 95.7L241.8 95.9L241.6 96.3L240.7 96.0ZM245.3 90.8L246.1 90.9L245.9 91.4L245.3 91.3ZM250.8 92.7L251.2 92.8L251.1 93.7L250.8 93.5ZM248.6 94.1L249.1 94.0L249.0 94.6L248.7 94.5ZM264.4 92.7L265.3 93.3L265.1 93.7L264.5 93.1ZM252.4 116.0L253.3 116.0L253.3 116.3L252.4 116.3ZM248.1 97.2L248.9 97.2L248.9 97.6L248.2 97.6ZM252.2 99.1L252.6 99.1L252.6 99.5L252.2 99.5ZM187.2 92.9L187.4 92.9L187.4 93.4L187.2 93.4ZM273.0 124.6L273.5 124.6L273.4 124.9L273.1 124.9ZM42.6 122.3L43.0 122.3L43.0 122.5ZM127.0 88.6L128.5 88.7L128.4 89.5L127.2 89.6ZM110.6 126.1L111.1 126.1L111.1 126.9L110.6 126.8ZM179.7 56.4L180.2 54.4L180.8 53.5L181.4 52.7L182.4 52.5L183.0 52.9L183.4 54.1L184.4 53.9L185.4 53.4L184.6 52.7L186.0 52.1L187.0 52.0L186.6 52.7L186.0 53.9L187.4 54.6L188.7 55.4L188.7 56.4L187.4 56.7L185.7 56.6L184.5 56.0L183.4 56.0L181.7 56.6L180.4 56.6ZM192.4 53.3L193.7 52.5L195.4 52.3L196.4 52.7L196.4 53.7L195.1 54.1L194.7 55.2L196.1 56.4L197.0 56.9L196.4 58.3L197.1 59.5L195.7 60.1L194.4 59.6L193.7 58.7L194.1 57.3L193.1 56.0L192.6 54.8ZM99.4 52.4L101.4 51.4L103.4 51.4L104.3 52.4L102.7 52.5L100.7 52.4ZM102.2 56.0L103.2 56.0L103.4 54.1L104.2 53.1L103.1 53.2L102.3 54.4ZM104.4 53.0L106.4 53.1L107.4 53.9L106.3 55.0L105.7 55.2L105.1 54.4ZM105.2 56.2L108.1 55.4L107.8 55.2L105.7 55.8ZM107.6 55.0L109.9 54.8L109.8 54.4L107.9 54.6ZM94.7 49.4L96.4 49.4L95.7 46.9L94.7 47.5ZM82.7 41.3L85.3 41.3L88.0 40.0L86.7 39.8L84.3 40.5ZM78.6 38.2L80.7 38.2L82.0 37.1L80.3 36.7L78.0 37.4ZM86.3 43.1L90.0 42.6L89.7 42.4L86.7 42.7ZM182.4 88.7L183.7 88.3L183.8 90.4L182.4 90.5L182.2 89.6ZM180.5 91.1L181.6 95.1L181.2 95.1L180.4 92.3ZM183.7 95.9L184.4 97.7L184.4 99.5L184.0 99.3L183.9 97.3ZM230.5 48.6L231.9 48.3L234.2 45.9L234.4 45.3L233.6 45.9L231.5 47.7ZM200.1 54.4L201.4 54.6L202.1 53.3L201.1 52.4L200.2 53.1ZM210.1 53.3L211.8 52.5L213.8 52.3L213.5 52.7L211.1 53.7ZM181.4 42.1L182.9 41.8L182.7 40.9L181.4 41.1ZM184.0 41.3L185.0 41.3L184.7 40.1L184.0 40.3ZM169.3 43.2L170.3 43.1L170.2 42.6L169.5 42.7ZM170.0 78.6L170.8 78.6L170.8 77.9L170.1 77.9ZM114.1 100.3L114.8 100.6L114.8 101.1L114.1 100.8ZM103.4 79.8L104.1 79.7L104.1 79.2L103.5 79.2ZM184.9 86.5L185.4 86.5L185.3 85.0L185.0 85.0ZM212.0 55.8L213.3 55.8L213.3 55.4L212.1 55.4ZM92.0 44.8L93.0 44.8L93.0 43.6L92.2 43.6ZM112.8 37.4L114.4 37.4L114.1 36.7L112.8 36.8Z" fill="none" stroke="#000" stroke-width="0.85" stroke-linejoin="round"/>
<path d="M58.2 35.7h1v1h-1zM60.9 35.7h1v1h-1zM66.3 35.7h1v1h-1zM69.0 35.7h1v1h-1zM74.4 35.7h1v1h-1zM82.5 35.7h1v1h-1zM87.9 35.7h1v1h-1zM96.0 35.7h1v1h-1zM98.7 35.7h1v1h-1zM106.8 35.7h1v1h-1zM58.2 38.2h1v1h-1zM74.4 38.2h1v1h-1zM77.1 38.2h1v1h-1zM79.8 38.2h1v1h-1zM90.6 38.2h1v1h-1zM96.0 38.2h1v1h-1zM98.7 38.2h1v1h-1zM101.4 38.2h1v1h-1zM112.2 38.2h1v1h-1zM114.9 38.2h1v1h-1zM168.9 38.2h1v1h-1zM171.6 38.2h1v1h-1zM174.3 38.2h1v1h-1zM177.0 38.2h1v1h-1zM179.7 38.2h1v1h-1zM182.4 38.2h1v1h-1zM193.2 38.2h1v1h-1zM198.6 38.2h1v1h-1zM58.2 40.8h1v1h-1zM63.6 40.8h1v1h-1zM66.3 40.8h1v1h-1zM69.0 40.8h1v1h-1zM79.8 40.8h1v1h-1zM87.9 40.8h1v1h-1zM90.6 40.8h1v1h-1zM93.3 40.8h1v1h-1zM98.7 40.8h1v1h-1zM109.5 40.8h1v1h-1zM117.6 40.8h1v1h-1zM155.4 40.8h1v1h-1zM163.5 40.8h1v1h-1zM166.2 40.8h1v1h-1zM168.9 40.8h1v1h-1zM174.3 40.8h1v1h-1zM179.7 40.8h1v1h-1zM182.4 40.8h1v1h-1zM185.1 40.8h1v1h-1zM193.2 40.8h1v1h-1zM204.0 40.8h1v1h-1zM209.4 40.8h1v1h-1zM212.1 40.8h1v1h-1zM214.8 40.8h1v1h-1zM217.5 40.8h1v1h-1zM222.9 40.8h1v1h-1zM225.6 40.8h1v1h-1zM228.3 40.8h1v1h-1zM233.7 40.8h1v1h-1zM236.4 40.8h1v1h-1zM239.1 40.8h1v1h-1zM241.8 40.8h1v1h-1zM249.9 40.8h1v1h-1zM55.5 43.4h1v1h-1zM58.2 43.4h1v1h-1zM71.7 43.4h1v1h-1zM77.1 43.4h1v1h-1zM79.8 43.4h1v1h-1zM82.5 43.4h1v1h-1zM85.2 43.4h1v1h-1zM87.9 43.4h1v1h-1zM90.6 43.4h1v1h-1zM93.3 43.4h1v1h-1zM96.0 43.4h1v1h-1zM109.5 43.4h1v1h-1zM112.2 43.4h1v1h-1zM117.6 43.4h1v1h-1zM155.4 43.4h1v1h-1zM158.1 43.4h1v1h-1zM166.2 43.4h1v1h-1zM168.9 43.4h1v1h-1zM171.6 43.4h1v1h-1zM174.3 43.4h1v1h-1zM177.0 43.4h1v1h-1zM179.7 43.4h1v1h-1zM182.4 43.4h1v1h-1zM185.1 43.4h1v1h-1zM187.8 43.4h1v1h-1zM190.5 43.4h1v1h-1zM193.2 43.4h1v1h-1zM198.6 43.4h1v1h-1zM201.3 43.4h1v1h-1zM206.7 43.4h1v1h-1zM209.4 43.4h1v1h-1zM212.1 43.4h1v1h-1zM214.8 43.4h1v1h-1zM217.5 43.4h1v1h-1zM220.2 43.4h1v1h-1zM228.3 43.4h1v1h-1zM231.0 43.4h1v1h-1zM233.7 43.4h1v1h-1zM239.1 43.4h1v1h-1zM249.9 43.4h1v1h-1zM74.4 45.9h1v1h-1zM79.8 45.9h1v1h-1zM82.5 45.9h1v1h-1zM85.2 45.9h1v1h-1zM90.6 45.9h1v1h-1zM96.0 45.9h1v1h-1zM104.1 45.9h1v1h-1zM109.5 45.9h1v1h-1zM112.2 45.9h1v1h-1zM114.9 45.9h1v1h-1zM155.4 45.9h1v1h-1zM168.9 45.9h1v1h-1zM171.6 45.9h1v1h-1zM174.3 45.9h1v1h-1zM177.0 45.9h1v1h-1zM179.7 45.9h1v1h-1zM182.4 45.9h1v1h-1zM185.1 45.9h1v1h-1zM187.8 45.9h1v1h-1zM190.5 45.9h1v1h-1zM195.9 45.9h1v1h-1zM198.6 45.9h1v1h-1zM209.4 45.9h1v1h-1zM214.8 45.9h1v1h-1zM217.5 45.9h1v1h-1zM220.2 45.9h1v1h-1zM222.9 45.9h1v1h-1zM228.3 45.9h1v1h-1zM233.7 45.9h1v1h-1zM236.4 45.9h1v1h-1zM239.1 45.9h1v1h-1zM241.8 45.9h1v1h-1zM247.2 45.9h1v1h-1zM87.9 48.5h1v1h-1zM90.6 48.5h1v1h-1zM93.3 48.5h1v1h-1zM96.0 48.5h1v1h-1zM98.7 48.5h1v1h-1zM101.4 48.5h1v1h-1zM106.8 48.5h1v1h-1zM112.2 48.5h1v1h-1zM158.1 48.5h1v1h-1zM160.8 48.5h1v1h-1zM163.5 48.5h1v1h-1zM166.2 48.5h1v1h-1zM168.9 48.5h1v1h-1zM171.6 48.5h1v1h-1zM174.3 48.5h1v1h-1zM177.0 48.5h1v1h-1zM179.7 48.5h1v1h-1zM182.4 48.5h1v1h-1zM185.1 48.5h1v1h-1zM187.8 48.5h1v1h-1zM190.5 48.5h1v1h-1zM193.2 48.5h1v1h-1zM195.9 48.5h1v1h-1zM198.6 48.5h1v1h-1zM204.0 48.5h1v1h-1zM206.7 48.5h1v1h-1zM220.2 48.5h1v1h-1zM225.6 48.5h1v1h-1zM239.1 48.5h1v1h-1zM244.5 48.5h1v1h-1zM247.2 48.5h1v1h-1zM249.9 48.5h1v1h-1zM96.0 51.0h1v1h-1zM98.7 51.0h1v1h-1zM101.4 51.0h1v1h-1zM104.1 51.0h1v1h-1zM112.2 51.0h1v1h-1zM158.1 51.0h1v1h-1zM160.8 51.0h1v1h-1zM163.5 51.0h1v1h-1zM168.9 51.0h1v1h-1zM171.6 51.0h1v1h-1zM174.3 51.0h1v1h-1zM177.0 51.0h1v1h-1zM179.7 51.0h1v1h-1zM182.4 51.0h1v1h-1zM185.1 51.0h1v1h-1zM190.5 51.0h1v1h-1zM193.2 51.0h1v1h-1zM195.9 51.0h1v1h-1zM198.6 51.0h1v1h-1zM96.0 53.6h1v1h-1zM98.7 53.6h1v1h-1zM101.4 53.6h1v1h-1zM109.5 53.6h1v1h-1zM160.8 53.6h1v1h-1zM163.5 53.6h1v1h-1zM166.2 53.6h1v1h-1zM168.9 53.6h1v1h-1zM174.3 53.6h1v1h-1zM177.0 53.6h1v1h-1zM179.7 53.6h1v1h-1zM185.1 53.6h1v1h-1zM187.8 53.6h1v1h-1zM190.5 53.6h1v1h-1zM198.6 53.6h1v1h-1zM228.3 53.6h1v1h-1zM231.0 53.6h1v1h-1zM236.4 53.6h1v1h-1zM239.1 53.6h1v1h-1zM241.8 53.6h1v1h-1zM87.9 56.1h1v1h-1zM93.3 56.1h1v1h-1zM96.0 56.1h1v1h-1zM101.4 56.1h1v1h-1zM104.1 56.1h1v1h-1zM106.8 56.1h1v1h-1zM112.2 56.1h1v1h-1zM155.4 56.1h1v1h-1zM231.0 56.1h1v1h-1zM236.4 56.1h1v1h-1zM241.8 56.1h1v1h-1zM85.2 58.7h1v1h-1zM96.0 58.7h1v1h-1zM101.4 58.7h1v1h-1zM104.1 58.7h1v1h-1zM106.8 58.7h1v1h-1zM109.5 58.7h1v1h-1zM228.3 58.7h1v1h-1zM231.0 58.7h1v1h-1zM236.4 58.7h1v1h-1zM239.1 58.7h1v1h-1zM98.7 61.2h1v1h-1zM101.4 61.2h1v1h-1zM104.1 61.2h1v1h-1zM106.8 61.2h1v1h-1zM109.5 61.2h1v1h-1zM228.3 61.2h1v1h-1zM233.7 61.2h1v1h-1zM236.4 61.2h1v1h-1zM239.1 61.2h1v1h-1zM101.4 63.8h1v1h-1zM104.1 63.8h1v1h-1zM106.8 63.8h1v1h-1zM228.3 63.8h1v1h-1zM231.0 63.8h1v1h-1zM236.4 63.8h1v1h-1zM239.1 63.8h1v1h-1zM241.8 63.8h1v1h-1zM212.1 66.3h1v1h-1zM228.3 66.3h1v1h-1zM231.0 66.3h1v1h-1zM233.7 66.3h1v1h-1zM236.4 66.3h1v1h-1zM241.8 66.3h1v1h-1zM206.7 68.9h1v1h-1zM209.4 68.9h1v1h-1zM212.1 68.9h1v1h-1zM214.8 68.9h1v1h-1zM217.5 68.9h1v1h-1zM220.2 68.9h1v1h-1zM225.6 68.9h1v1h-1zM233.7 68.9h1v1h-1zM209.4 71.4h1v1h-1zM212.1 71.4h1v1h-1zM214.8 71.4h1v1h-1zM217.5 71.4h1v1h-1zM220.2 71.4h1v1h-1zM225.6 71.4h1v1h-1zM228.3 71.4h1v1h-1zM231.0 71.4h1v1h-1zM96.0 74.0h1v1h-1zM98.7 74.0h1v1h-1zM212.1 74.0h1v1h-1zM214.8 74.0h1v1h-1zM217.5 74.0h1v1h-1zM225.6 74.0h1v1h-1zM228.3 74.0h1v1h-1zM233.7 74.0h1v1h-1zM98.7 76.5h1v1h-1zM101.4 76.5h1v1h-1zM104.1 76.5h1v1h-1zM212.1 76.5h1v1h-1zM225.6 76.5h1v1h-1zM228.3 76.5h1v1h-1zM231.0 76.5h1v1h-1zM233.7 76.5h1v1h-1zM150.0 79.1h1v1h-1zM152.7 79.1h1v1h-1zM155.4 79.1h1v1h-1zM158.1 79.1h1v1h-1zM160.8 79.1h1v1h-1zM163.5 79.1h1v1h-1zM166.2 79.1h1v1h-1zM168.9 79.1h1v1h-1zM171.6 79.1h1v1h-1zM174.3 79.1h1v1h-1zM177.0 79.1h1v1h-1zM179.7 79.1h1v1h-1zM182.4 79.1h1v1h-1zM185.1 79.1h1v1h-1zM152.7 81.6h1v1h-1zM155.4 81.6h1v1h-1zM158.1 81.6h1v1h-1zM160.8 81.6h1v1h-1zM163.5 81.6h1v1h-1zM166.2 81.6h1v1h-1zM168.9 81.6h1v1h-1zM171.6 81.6h1v1h-1zM174.3 81.6h1v1h-1zM177.0 81.6h1v1h-1zM179.7 81.6h1v1h-1zM182.4 81.6h1v1h-1zM185.1 81.6h1v1h-1zM114.9 84.2h1v1h-1zM125.7 84.2h1v1h-1zM158.1 84.2h1v1h-1zM160.8 84.2h1v1h-1zM168.9 84.2h1v1h-1zM171.6 84.2h1v1h-1zM174.3 84.2h1v1h-1zM177.0 84.2h1v1h-1zM179.7 84.2h1v1h-1zM185.1 84.2h1v1h-1zM114.9 86.7h1v1h-1zM117.6 86.7h1v1h-1zM120.3 86.7h1v1h-1zM123.0 86.7h1v1h-1zM125.7 86.7h1v1h-1zM166.2 86.7h1v1h-1zM168.9 86.7h1v1h-1zM177.0 86.7h1v1h-1zM179.7 86.7h1v1h-1zM182.4 86.7h1v1h-1zM185.1 86.7h1v1h-1zM112.2 89.3h1v1h-1zM117.6 89.3h1v1h-1zM123.0 89.3h1v1h-1zM125.7 89.3h1v1h-1zM128.4 89.3h1v1h-1zM166.2 89.3h1v1h-1zM168.9 89.3h1v1h-1zM171.6 89.3h1v1h-1zM177.0 89.3h1v1h-1zM179.7 89.3h1v1h-1zM185.1 89.3h1v1h-1zM117.6 91.8h1v1h-1zM120.3 91.8h1v1h-1zM123.0 91.8h1v1h-1zM125.7 91.8h1v1h-1zM128.4 91.8h1v1h-1zM133.8 91.8h1v1h-1zM171.6 91.8h1v1h-1zM174.3 91.8h1v1h-1zM179.7 91.8h1v1h-1zM182.4 91.8h1v1h-1zM185.1 91.8h1v1h-1zM112.2 94.4h1v1h-1zM114.9 94.4h1v1h-1zM117.6 94.4h1v1h-1zM120.3 94.4h1v1h-1zM123.0 94.4h1v1h-1zM125.7 94.4h1v1h-1zM174.3 94.4h1v1h-1zM177.0 94.4h1v1h-1zM179.7 94.4h1v1h-1zM182.4 94.4h1v1h-1zM114.9 96.9h1v1h-1zM117.6 96.9h1v1h-1zM120.3 96.9h1v1h-1zM123.0 96.9h1v1h-1zM125.7 96.9h1v1h-1zM128.4 96.9h1v1h-1zM133.8 96.9h1v1h-1zM171.6 96.9h1v1h-1zM174.3 96.9h1v1h-1zM177.0 96.9h1v1h-1zM179.7 96.9h1v1h-1zM182.4 96.9h1v1h-1zM185.1 96.9h1v1h-1zM112.2 99.5h1v1h-1zM114.9 99.5h1v1h-1zM117.6 99.5h1v1h-1zM120.3 99.5h1v1h-1zM123.0 99.5h1v1h-1zM125.7 99.5h1v1h-1zM128.4 99.5h1v1h-1zM168.9 99.5h1v1h-1zM185.1 99.5h1v1h-1zM255.3 99.5h1v1h-1zM258.0 99.5h1v1h-1zM114.9 102.0h1v1h-1zM117.6 102.0h1v1h-1zM120.3 102.0h1v1h-1zM123.0 102.0h1v1h-1zM125.7 102.0h1v1h-1zM128.4 102.0h1v1h-1zM131.1 102.0h1v1h-1zM133.8 102.0h1v1h-1zM168.9 102.0h1v1h-1zM179.7 102.0h1v1h-1zM182.4 102.0h1v1h-1zM185.1 102.0h1v1h-1zM258.0 102.0h1v1h-1zM114.9 104.6h1v1h-1zM117.6 104.6h1v1h-1zM125.7 104.6h1v1h-1zM128.4 104.6h1v1h-1zM131.1 104.6h1v1h-1zM168.9 104.6h1v1h-1zM171.6 104.6h1v1h-1zM174.3 104.6h1v1h-1zM177.0 104.6h1v1h-1zM179.7 104.6h1v1h-1zM182.4 104.6h1v1h-1zM258.0 104.6h1v1h-1zM260.7 104.6h1v1h-1zM114.9 107.1h1v1h-1zM117.6 107.1h1v1h-1zM123.0 107.1h1v1h-1zM125.7 107.1h1v1h-1zM128.4 107.1h1v1h-1zM171.6 107.1h1v1h-1zM174.3 107.1h1v1h-1zM179.7 107.1h1v1h-1zM182.4 107.1h1v1h-1zM244.5 107.1h1v1h-1zM255.3 107.1h1v1h-1zM258.0 107.1h1v1h-1zM241.8 109.7h1v1h-1zM258.0 109.7h1v1h-1zM260.7 109.7h1v1h-1zM171.6 112.2h1v1h-1zM255.3 112.2h1v1h-1zM258.0 112.2h1v1h-1zM260.7 112.2h1v1h-1zM255.3 114.8h1v1h-1zM258.0 114.8h1v1h-1zM260.7 114.8h1v1h-1z" fill="#1a1a1a"/>
<path d="M40.5 18.9V134.8H281.4V18.9" fill="none" stroke="#2a2a2a" stroke-width="0.9"/>
<path d="M40.0 18.9H281.9" fill="none" stroke="#8f8f8f" stroke-width="1.4"/>
<g>
<path fill="#5a3306" d="M569.2 76.1h1.5v1.7h-1.5zM579.9 79.2h1.5v1.7h-1.5z"/>
<path fill="#673c08" d="M569.2 77.7h1.5v1.7h-1.5z"/>
<path fill="#75440a" d="M569.2 74.6h1.5v1.7h-1.5zM579.9 77.7h1.5v1.7h-1.5zM569.2 79.2h1.5v1.7h-1.5z"/>
<path fill="#8e570e" d="M562.6 74.6h1.5v1.7h-1.5zM505.2 86.9h1.5v1.7h-1.5zM505.2 88.5h1.5v1.7h-1.5z"/>
<path fill="#9a6011" d="M562.6 73.0h1.5v1.7h-1.5zM503.9 86.9h1.5v1.7h-1.5zM503.9 88.5h1.5v1.7h-1.5zM506.6 88.5h1.5v1.7h-1.5z"/>
<path fill="#a76d18" d="M562.6 76.1h1.5v1.7h-1.5zM567.9 76.1h1.5v1.7h-1.5z"/>
<path fill="#b47a1f" d="M563.9 73.0h1.5v1.7h-1.5zM567.9 77.7h1.5v1.7h-1.5zM578.6 77.7h1.5v1.7h-1.5zM570.6 79.2h1.5v1.7h-1.5zM505.2 85.4h1.5v1.7h-1.5zM506.6 86.9h1.5v1.7h-1.5z"/>
<path fill="#c0882d" d="M570.6 76.1h1.5v1.7h-1.5zM503.9 85.4h1.5v1.7h-1.5zM506.6 85.4h1.5v1.7h-1.5z"/>
<path fill="#cc983d" d="M570.6 73.0h1.5v1.7h-1.5zM561.2 74.6h1.5v1.7h-1.5zM563.9 74.6h1.5v1.7h-1.5zM567.9 74.6h1.5v1.7h-1.5zM567.9 79.2h1.5v1.7h-1.5zM581.3 79.2h1.5v1.7h-1.5zM569.2 80.8h1.5v1.7h-1.5zM505.2 83.8h2.8v1.7h-2.8zM446.5 94.7h1.5v1.7h-1.5zM446.5 96.2h1.5v1.7h-1.5zM582.6 105.5h1.5v1.7h-1.5zM582.6 107.0h1.5v1.7h-1.5z"/>
<path fill="#d6aa54" d="M562.6 71.5h2.8v1.7h-2.8zM570.6 77.7h1.5v1.7h-1.5zM579.9 80.8h1.5v1.7h-1.5zM593.3 93.1h1.5v1.7h-1.5zM581.3 105.5h1.5v1.7h-1.5zM575.9 110.1h1.5v1.7h-1.5z"/>
<path fill="#e1bd6f" d="M561.2 76.1h1.5v1.7h-1.5zM563.9 76.1h1.5v1.7h-1.5zM507.9 85.4h1.5v1.7h-1.5zM507.9 86.9h1.5v1.7h-1.5zM446.5 93.1h1.5v1.7h-1.5zM594.6 93.1h1.5v1.7h-1.5zM577.2 103.9h1.5v1.7h-1.5zM577.2 105.5h1.5v1.7h-1.5zM581.3 107.0h1.5v1.7h-1.5zM582.6 108.6h1.5v1.7h-1.5zM577.2 110.1h1.5v1.7h-1.5zM578.6 111.6h1.5v1.7h-1.5z"/>
<path fill="#eacd8b" d="M578.6 70.0h1.5v1.7h-1.5zM569.2 71.5h2.8v1.7h-2.8zM561.2 73.0h1.5v1.7h-1.5zM581.3 77.7h1.5v1.7h-1.5zM507.9 83.8h1.5v1.7h-1.5zM507.9 88.5h1.5v1.7h-1.5zM446.5 97.7h1.5v1.7h-1.5zM581.3 103.9h2.8v1.7h-2.8zM575.9 105.5h1.5v1.7h-1.5zM583.9 105.5h2.8v1.7h-2.8zM585.3 107.0h2.8v1.7h-2.8zM575.9 108.6h1.5v1.7h-1.5zM581.3 108.6h1.5v1.7h-1.5zM574.6 110.1h1.5v1.7h-1.5zM582.6 110.1h1.5v1.7h-1.5zM577.2 111.6h1.5v1.7h-1.5zM578.6 113.2h1.5v1.7h-1.5z"/>
<path fill="#f2dca8" d="M507.9 39.1h2.8v1.7h-2.8zM511.9 39.1h1.5v1.7h-1.5zM507.9 40.6h1.5v1.7h-1.5zM529.2 40.6h1.5v1.7h-1.5zM563.9 70.0h1.5v1.7h-1.5zM578.6 76.1h1.5v1.7h-1.5zM579.9 82.3h1.5v1.7h-1.5zM505.2 90.0h2.8v1.7h-2.8zM447.9 94.7h1.5v1.7h-1.5zM447.9 96.2h1.5v1.7h-1.5zM511.9 103.9h1.5v1.7h-1.5zM575.9 103.9h1.5v1.7h-1.5zM578.6 103.9h1.5v1.7h-1.5zM507.9 105.5h1.5v1.7h-1.5zM511.9 105.5h1.5v1.7h-1.5zM586.6 105.5h1.5v1.7h-1.5zM507.9 107.0h2.8v1.7h-2.8zM583.9 107.0h1.5v1.7h-1.5zM507.9 108.6h2.8v1.7h-2.8zM574.6 108.6h1.5v1.7h-1.5zM577.2 108.6h1.5v1.7h-1.5zM586.6 108.6h2.8v1.7h-2.8zM509.2 110.1h1.5v1.7h-1.5zM578.6 110.1h4.2v1.7h-4.2zM587.9 110.1h1.5v1.7h-1.5zM579.9 111.6h1.5v1.7h-1.5zM585.3 111.6h2.8v1.7h-2.8zM577.2 113.2h1.5v1.7h-1.5zM579.9 113.2h1.5v1.7h-1.5z"/>
<path fill="#f7e8c6" d="M510.6 37.5h2.8v1.7h-2.8zM510.6 39.1h1.5v1.7h-1.5zM513.2 39.1h1.5v1.7h-1.5zM529.2 39.1h2.8v1.7h-2.8zM509.2 40.6h1.5v1.7h-1.5zM511.9 40.6h1.5v1.7h-1.5zM530.6 40.6h1.5v1.7h-1.5zM541.2 40.6h2.8v1.7h-2.8zM529.2 42.2h5.5v1.7h-5.5zM535.9 42.2h1.5v1.7h-1.5zM541.2 42.2h2.8v1.7h-2.8zM542.6 43.7h1.5v1.7h-1.5zM429.2 57.6h1.5v1.7h-1.5zM562.6 70.0h1.5v1.7h-1.5zM571.9 73.0h1.5v1.7h-1.5zM578.6 73.0h1.5v1.7h-1.5zM578.6 74.6h1.5v1.7h-1.5zM454.5 80.8h2.8v1.7h-2.8zM567.9 80.8h1.5v1.7h-1.5zM503.9 83.8h1.5v1.7h-1.5zM446.5 91.6h1.5v1.7h-1.5zM593.3 91.6h2.8v1.7h-2.8zM447.9 93.1h1.5v1.7h-1.5zM595.9 93.1h1.5v1.7h-1.5zM447.9 97.7h1.5v1.7h-1.5zM513.2 100.8h1.5v1.7h-1.5zM511.9 102.4h2.8v1.7h-2.8zM578.6 102.4h2.8v1.7h-2.8zM507.9 103.9h4.2v1.7h-4.2zM513.2 103.9h1.5v1.7h-1.5zM579.9 103.9h1.5v1.7h-1.5zM509.2 105.5h2.8v1.7h-2.8zM513.2 105.5h1.5v1.7h-1.5zM515.9 105.5h2.8v1.7h-2.8zM578.6 105.5h1.5v1.7h-1.5zM510.6 107.0h2.8v1.7h-2.8zM517.2 107.0h1.5v1.7h-1.5zM573.2 107.0h1.5v1.7h-1.5zM587.9 107.0h1.5v1.7h-1.5zM579.9 108.6h1.5v1.7h-1.5zM589.3 108.6h1.5v1.7h-1.5zM583.9 110.1h1.5v1.7h-1.5zM586.6 110.1h1.5v1.7h-1.5zM589.3 110.1h1.5v1.7h-1.5zM575.9 111.6h1.5v1.7h-1.5zM582.6 111.6h2.8v1.7h-2.8zM587.9 111.6h2.8v1.7h-2.8zM586.6 113.2h1.5v1.7h-1.5z"/>
<path fill="#faf1e1" d="M506.6 36.0h5.5v1.7h-5.5zM518.6 36.0h2.8v1.7h-2.8zM505.2 37.5h5.5v1.7h-5.5zM513.2 37.5h1.5v1.7h-1.5zM515.9 37.5h5.5v1.7h-5.5zM543.9 37.5h1.5v1.7h-1.5zM501.2 39.1h4.2v1.7h-4.2zM506.6 39.1h1.5v1.7h-1.5zM514.6 39.1h1.5v1.7h-1.5zM517.2 39.1h6.8v1.7h-6.8zM531.9 39.1h5.5v1.7h-5.5zM541.2 39.1h6.8v1.7h-6.8zM503.9 40.6h1.5v1.7h-1.5zM506.6 40.6h1.5v1.7h-1.5zM513.2 40.6h1.5v1.7h-1.5zM522.6 40.6h2.8v1.7h-2.8zM527.9 40.6h1.5v1.7h-1.5zM531.9 40.6h9.5v1.7h-9.5zM543.9 40.6h2.8v1.7h-2.8zM414.5 42.2h2.8v1.7h-2.8zM418.5 42.2h1.5v1.7h-1.5zM507.9 42.2h2.8v1.7h-2.8zM513.2 42.2h1.5v1.7h-1.5zM522.6 42.2h6.8v1.7h-6.8zM534.6 42.2h1.5v1.7h-1.5zM537.2 42.2h4.2v1.7h-4.2zM543.9 42.2h8.2v1.7h-8.2zM414.5 43.7h1.5v1.7h-1.5zM418.5 43.7h4.2v1.7h-4.2zM527.9 43.7h2.8v1.7h-2.8zM531.9 43.7h5.5v1.7h-5.5zM539.9 43.7h2.8v1.7h-2.8zM543.9 43.7h1.5v1.7h-1.5zM547.9 43.7h4.2v1.7h-4.2zM553.2 43.7h1.5v1.7h-1.5zM419.9 45.2h1.5v1.7h-1.5zM418.5 46.8h2.8v1.7h-2.8zM429.2 46.8h1.5v1.7h-1.5zM417.2 48.3h2.8v1.7h-2.8zM429.2 48.3h1.5v1.7h-1.5zM418.5 49.9h1.5v1.7h-1.5zM426.5 49.9h4.2v1.7h-4.2zM426.5 51.4h4.2v1.7h-4.2zM427.9 53.0h2.8v1.7h-2.8zM427.9 54.5h5.5v1.7h-5.5zM429.2 56.1h5.5v1.7h-5.5zM426.5 57.6h2.8v1.7h-2.8zM430.5 57.6h4.2v1.7h-4.2zM425.2 59.1h6.8v1.7h-6.8zM433.2 59.1h1.5v1.7h-1.5zM426.5 60.7h2.8v1.7h-2.8zM499.9 68.4h1.5v1.7h-1.5zM578.6 68.4h1.5v1.7h-1.5zM569.2 70.0h1.5v1.7h-1.5zM567.9 73.0h1.5v1.7h-1.5zM579.9 74.6h1.5v1.7h-1.5zM563.9 77.7h1.5v1.7h-1.5zM577.2 79.2h1.5v1.7h-1.5zM451.9 80.8h2.8v1.7h-2.8zM457.2 80.8h1.5v1.7h-1.5zM502.6 83.8h1.5v1.7h-1.5zM509.2 83.8h1.5v1.7h-1.5zM509.2 85.4h1.5v1.7h-1.5zM509.2 86.9h1.5v1.7h-1.5zM445.2 91.6h1.5v1.7h-1.5zM445.2 93.1h1.5v1.7h-1.5zM591.9 93.1h1.5v1.7h-1.5zM445.2 94.7h1.5v1.7h-1.5zM593.3 94.7h2.8v1.7h-2.8zM447.9 99.3h1.5v1.7h-1.5zM513.2 99.3h4.2v1.7h-4.2zM510.6 100.8h2.8v1.7h-2.8zM514.6 100.8h2.8v1.7h-2.8zM507.9 102.4h4.2v1.7h-4.2zM514.6 102.4h1.5v1.7h-1.5zM581.3 102.4h2.8v1.7h-2.8zM506.6 103.9h1.5v1.7h-1.5zM514.6 103.9h4.2v1.7h-4.2zM574.6 103.9h1.5v1.7h-1.5zM583.9 103.9h4.2v1.7h-4.2zM514.6 105.5h1.5v1.7h-1.5zM518.6 105.5h1.5v1.7h-1.5zM573.2 105.5h2.8v1.7h-2.8zM579.9 105.5h1.5v1.7h-1.5zM515.9 107.0h1.5v1.7h-1.5zM518.6 107.0h1.5v1.7h-1.5zM574.6 107.0h4.2v1.7h-4.2zM589.3 107.0h1.5v1.7h-1.5zM510.6 108.6h2.8v1.7h-2.8zM578.6 108.6h1.5v1.7h-1.5zM510.6 110.1h1.5v1.7h-1.5zM585.3 110.1h1.5v1.7h-1.5zM457.2 111.6h2.8v1.7h-2.8zM509.2 111.6h1.5v1.7h-1.5zM515.9 111.6h1.5v1.7h-1.5zM574.6 111.6h1.5v1.7h-1.5zM581.3 111.6h1.5v1.7h-1.5zM587.9 113.2h1.5v1.7h-1.5zM575.9 114.7h2.8v1.7h-2.8z"/>
<path fill="#f8f6f1" d="M566.6 29.8h6.8v1.7h-6.8zM591.9 29.8h4.2v1.7h-4.2zM545.2 31.4h1.5v1.7h-1.5zM551.9 31.4h1.5v1.7h-1.5zM567.9 31.4h5.5v1.7h-5.5zM582.6 31.4h1.5v1.7h-1.5zM591.9 31.4h4.2v1.7h-4.2zM398.5 32.9h2.8v1.7h-2.8zM511.9 32.9h5.5v1.7h-5.5zM545.2 32.9h8.2v1.7h-8.2zM569.2 32.9h4.2v1.7h-4.2zM583.9 32.9h1.5v1.7h-1.5zM593.3 32.9h2.8v1.7h-2.8zM398.5 34.4h5.5v1.7h-5.5zM414.5 34.4h5.5v1.7h-5.5zM422.5 34.4h5.5v1.7h-5.5zM507.9 34.4h17.5v1.7h-17.5zM527.9 34.4h1.5v1.7h-1.5zM534.6 34.4h4.2v1.7h-4.2zM543.9 34.4h9.5v1.7h-9.5zM561.2 34.4h4.2v1.7h-4.2zM569.2 34.4h2.8v1.7h-2.8zM583.9 34.4h5.5v1.7h-5.5zM591.9 34.4h5.5v1.7h-5.5zM609.3 34.4h6.8v1.7h-6.8zM398.5 36.0h4.2v1.7h-4.2zM415.8 36.0h5.5v1.7h-5.5zM422.5 36.0h5.5v1.7h-5.5zM437.2 36.0h2.8v1.7h-2.8zM453.2 36.0h1.5v1.7h-1.5zM483.9 36.0h2.8v1.7h-2.8zM511.9 36.0h1.5v1.7h-1.5zM514.6 36.0h4.2v1.7h-4.2zM521.2 36.0h12.2v1.7h-12.2zM535.9 36.0h20.2v1.7h-20.2zM559.9 36.0h5.5v1.7h-5.5zM567.9 36.0h5.5v1.7h-5.5zM583.9 36.0h6.8v1.7h-6.8zM591.9 36.0h5.5v1.7h-5.5zM598.6 36.0h6.8v1.7h-6.8zM607.9 36.0h6.8v1.7h-6.8zM617.3 36.0h1.5v1.7h-1.5zM398.5 37.5h4.2v1.7h-4.2zM415.8 37.5h12.2v1.7h-12.2zM435.9 37.5h4.2v1.7h-4.2zM453.2 37.5h2.8v1.7h-2.8zM482.5 37.5h4.2v1.7h-4.2zM514.6 37.5h1.5v1.7h-1.5zM521.2 37.5h1.5v1.7h-1.5zM523.9 37.5h20.2v1.7h-20.2zM545.2 37.5h10.8v1.7h-10.8zM558.6 37.5h16.2v1.7h-16.2zM583.9 37.5h5.5v1.7h-5.5zM591.9 37.5h4.2v1.7h-4.2zM599.9 37.5h8.2v1.7h-8.2zM615.9 37.5h2.8v1.7h-2.8zM398.5 39.1h4.2v1.7h-4.2zM410.5 39.1h2.8v1.7h-2.8zM415.8 39.1h13.5v1.7h-13.5zM437.2 39.1h1.5v1.7h-1.5zM454.5 39.1h1.5v1.7h-1.5zM483.9 39.1h2.8v1.7h-2.8zM493.2 39.1h1.5v1.7h-1.5zM505.2 39.1h1.5v1.7h-1.5zM515.9 39.1h1.5v1.7h-1.5zM523.9 39.1h1.5v1.7h-1.5zM526.6 39.1h2.8v1.7h-2.8zM537.2 39.1h4.2v1.7h-4.2zM547.9 39.1h9.5v1.7h-9.5zM558.6 39.1h14.8v1.7h-14.8zM575.9 39.1h1.5v1.7h-1.5zM583.9 39.1h1.5v1.7h-1.5zM593.3 39.1h4.2v1.7h-4.2zM599.9 39.1h4.2v1.7h-4.2zM606.6 39.1h1.5v1.7h-1.5zM614.6 39.1h4.2v1.7h-4.2zM390.5 40.6h1.5v1.7h-1.5zM398.5 40.6h4.2v1.7h-4.2zM411.8 40.6h17.5v1.7h-17.5zM493.2 40.6h1.5v1.7h-1.5zM497.2 40.6h1.5v1.7h-1.5zM501.2 40.6h2.8v1.7h-2.8zM505.2 40.6h1.5v1.7h-1.5zM514.6 40.6h8.2v1.7h-8.2zM525.2 40.6h2.8v1.7h-2.8zM546.6 40.6h9.5v1.7h-9.5zM558.6 40.6h9.5v1.7h-9.5zM570.6 40.6h1.5v1.7h-1.5zM593.3 40.6h5.5v1.7h-5.5zM394.5 42.2h2.8v1.7h-2.8zM411.8 42.2h2.8v1.7h-2.8zM417.2 42.2h1.5v1.7h-1.5zM419.9 42.2h9.5v1.7h-9.5zM430.5 42.2h1.5v1.7h-1.5zM446.5 42.2h1.5v1.7h-1.5zM501.2 42.2h6.8v1.7h-6.8zM514.6 42.2h8.2v1.7h-8.2zM551.9 42.2h6.8v1.7h-6.8zM559.9 42.2h8.2v1.7h-8.2zM590.6 42.2h6.8v1.7h-6.8zM607.9 42.2h1.5v1.7h-1.5zM393.2 43.7h4.2v1.7h-4.2zM410.5 43.7h4.2v1.7h-4.2zM415.8 43.7h2.8v1.7h-2.8zM422.5 43.7h10.8v1.7h-10.8zM438.5 43.7h1.5v1.7h-1.5zM445.2 43.7h2.8v1.7h-2.8zM506.6 43.7h2.8v1.7h-2.8zM522.6 43.7h5.5v1.7h-5.5zM530.6 43.7h1.5v1.7h-1.5zM537.2 43.7h2.8v1.7h-2.8zM545.2 43.7h2.8v1.7h-2.8zM551.9 43.7h1.5v1.7h-1.5zM554.6 43.7h13.5v1.7h-13.5zM590.6 43.7h1.5v1.7h-1.5zM606.6 43.7h1.5v1.7h-1.5zM410.5 45.2h9.5v1.7h-9.5zM421.2 45.2h17.5v1.7h-17.5zM527.9 45.2h4.2v1.7h-4.2zM533.2 45.2h22.8v1.7h-22.8zM559.9 45.2h5.5v1.7h-5.5zM605.3 45.2h1.5v1.7h-1.5zM409.2 46.8h9.5v1.7h-9.5zM421.2 46.8h8.2v1.7h-8.2zM430.5 46.8h8.2v1.7h-8.2zM453.2 46.8h1.5v1.7h-1.5zM535.9 46.8h4.2v1.7h-4.2zM550.6 46.8h4.2v1.7h-4.2zM605.3 46.8h1.5v1.7h-1.5zM413.2 48.3h4.2v1.7h-4.2zM419.9 48.3h9.5v1.7h-9.5zM430.5 48.3h8.2v1.7h-8.2zM445.2 48.3h2.8v1.7h-2.8zM453.2 48.3h2.8v1.7h-2.8zM459.9 48.3h2.8v1.7h-2.8zM551.9 48.3h2.8v1.7h-2.8zM589.3 48.3h1.5v1.7h-1.5zM413.2 49.9h5.5v1.7h-5.5zM419.9 49.9h6.8v1.7h-6.8zM430.5 49.9h5.5v1.7h-5.5zM445.2 49.9h4.2v1.7h-4.2zM454.5 49.9h9.5v1.7h-9.5zM590.6 49.9h5.5v1.7h-5.5zM414.5 51.4h12.2v1.7h-12.2zM430.5 51.4h4.2v1.7h-4.2zM446.5 51.4h4.2v1.7h-4.2zM459.9 51.4h2.8v1.7h-2.8zM598.6 51.4h1.5v1.7h-1.5zM415.8 53.0h4.2v1.7h-4.2zM421.2 53.0h6.8v1.7h-6.8zM430.5 53.0h6.8v1.7h-6.8zM449.2 53.0h2.8v1.7h-2.8zM595.9 53.0h2.8v1.7h-2.8zM414.5 54.5h13.5v1.7h-13.5zM433.2 54.5h4.2v1.7h-4.2zM450.5 54.5h1.5v1.7h-1.5zM494.5 54.5h1.5v1.7h-1.5zM546.6 54.5h2.8v1.7h-2.8zM591.9 54.5h1.5v1.7h-1.5zM417.2 56.1h1.5v1.7h-1.5zM421.2 56.1h8.2v1.7h-8.2zM434.5 56.1h1.5v1.7h-1.5zM493.2 56.1h2.8v1.7h-2.8zM534.6 56.1h1.5v1.7h-1.5zM559.9 56.1h2.8v1.7h-2.8zM591.9 56.1h2.8v1.7h-2.8zM422.5 57.6h4.2v1.7h-4.2zM434.5 57.6h1.5v1.7h-1.5zM491.9 57.6h4.2v1.7h-4.2zM511.9 57.6h2.8v1.7h-2.8zM521.2 57.6h1.5v1.7h-1.5zM529.2 57.6h1.5v1.7h-1.5zM534.6 57.6h1.5v1.7h-1.5zM537.2 57.6h2.8v1.7h-2.8zM546.6 57.6h1.5v1.7h-1.5zM559.9 57.6h4.2v1.7h-4.2zM569.2 57.6h1.5v1.7h-1.5zM574.6 57.6h2.8v1.7h-2.8zM590.6 57.6h2.8v1.7h-2.8zM422.5 59.1h2.8v1.7h-2.8zM431.9 59.1h1.5v1.7h-1.5zM511.9 59.1h2.8v1.7h-2.8zM521.2 59.1h4.2v1.7h-4.2zM527.9 59.1h2.8v1.7h-2.8zM537.2 59.1h4.2v1.7h-4.2zM545.2 59.1h2.8v1.7h-2.8zM562.6 59.1h1.5v1.7h-1.5zM575.9 59.1h5.5v1.7h-5.5zM589.3 59.1h4.2v1.7h-4.2zM423.9 60.7h2.8v1.7h-2.8zM429.2 60.7h5.5v1.7h-5.5zM493.2 60.7h4.2v1.7h-4.2zM502.6 60.7h1.5v1.7h-1.5zM513.2 60.7h2.8v1.7h-2.8zM521.2 60.7h2.8v1.7h-2.8zM526.6 60.7h4.2v1.7h-4.2zM534.6 60.7h6.8v1.7h-6.8zM545.2 60.7h2.8v1.7h-2.8zM587.9 60.7h4.2v1.7h-4.2zM423.9 62.2h10.8v1.7h-10.8zM491.9 62.2h6.8v1.7h-6.8zM506.6 62.2h2.8v1.7h-2.8zM521.2 62.2h1.5v1.7h-1.5zM527.9 62.2h4.2v1.7h-4.2zM534.6 62.2h6.8v1.7h-6.8zM545.2 62.2h1.5v1.7h-1.5zM550.6 62.2h1.5v1.7h-1.5zM425.2 63.8h9.5v1.7h-9.5zM491.9 63.8h8.2v1.7h-8.2zM506.6 63.8h5.5v1.7h-5.5zM517.2 63.8h4.2v1.7h-4.2zM522.6 63.8h1.5v1.7h-1.5zM530.6 63.8h1.5v1.7h-1.5zM535.9 63.8h1.5v1.7h-1.5zM543.9 63.8h1.5v1.7h-1.5zM429.2 65.3h5.5v1.7h-5.5zM486.5 65.3h1.5v1.7h-1.5zM490.5 65.3h21.5v1.7h-21.5zM514.6 65.3h12.2v1.7h-12.2zM530.6 65.3h1.5v1.7h-1.5zM541.2 65.3h4.2v1.7h-4.2zM575.9 65.3h2.8v1.7h-2.8zM429.2 66.9h5.5v1.7h-5.5zM489.2 66.9h21.5v1.7h-21.5zM511.9 66.9h6.8v1.7h-6.8zM519.9 66.9h8.2v1.7h-8.2zM530.6 66.9h1.5v1.7h-1.5zM539.9 66.9h4.2v1.7h-4.2zM429.2 68.4h5.5v1.7h-5.5zM487.9 68.4h12.2v1.7h-12.2zM501.2 68.4h6.8v1.7h-6.8zM509.2 68.4h1.5v1.7h-1.5zM511.9 68.4h5.5v1.7h-5.5zM519.9 68.4h13.5v1.7h-13.5zM538.6 68.4h2.8v1.7h-2.8zM426.5 70.0h4.2v1.7h-4.2zM486.5 70.0h20.2v1.7h-20.2zM513.2 70.0h22.8v1.7h-22.8zM570.6 70.0h1.5v1.7h-1.5zM427.9 71.5h1.5v1.7h-1.5zM489.2 71.5h5.5v1.7h-5.5zM497.2 71.5h8.2v1.7h-8.2zM514.6 71.5h22.8v1.7h-22.8zM567.9 71.5h1.5v1.7h-1.5zM571.9 71.5h1.5v1.7h-1.5zM486.5 73.0h2.8v1.7h-2.8zM490.5 73.0h5.5v1.7h-5.5zM498.6 73.0h5.5v1.7h-5.5zM506.6 73.0h1.5v1.7h-1.5zM515.9 73.0h1.5v1.7h-1.5zM518.6 73.0h5.5v1.7h-5.5zM525.2 73.0h12.2v1.7h-12.2zM446.5 74.6h1.5v1.7h-1.5zM486.5 74.6h10.8v1.7h-10.8zM501.2 74.6h2.8v1.7h-2.8zM510.6 74.6h1.5v1.7h-1.5zM518.6 74.6h6.8v1.7h-6.8zM526.6 74.6h1.5v1.7h-1.5zM530.6 74.6h5.5v1.7h-5.5zM482.5 76.1h1.5v1.7h-1.5zM518.6 76.1h6.8v1.7h-6.8zM526.6 76.1h1.5v1.7h-1.5zM529.2 76.1h4.2v1.7h-4.2zM526.6 77.7h4.2v1.7h-4.2zM559.9 77.7h1.5v1.7h-1.5zM450.5 79.2h8.2v1.7h-8.2zM526.6 79.2h6.8v1.7h-6.8zM559.9 79.2h1.5v1.7h-1.5zM563.9 79.2h1.5v1.7h-1.5zM450.5 80.8h1.5v1.7h-1.5zM525.2 80.8h8.2v1.7h-8.2zM550.6 80.8h2.8v1.7h-2.8zM577.2 80.8h1.5v1.7h-1.5zM453.2 82.3h5.5v1.7h-5.5zM502.6 82.3h5.5v1.7h-5.5zM525.2 82.3h1.5v1.7h-1.5zM529.2 82.3h2.8v1.7h-2.8zM551.9 82.3h1.5v1.7h-1.5zM501.2 83.8h1.5v1.7h-1.5zM525.2 83.8h1.5v1.7h-1.5zM530.6 83.8h1.5v1.7h-1.5zM581.3 83.8h1.5v1.7h-1.5zM589.3 88.5h1.5v1.7h-1.5zM443.9 90.0h4.2v1.7h-4.2zM507.9 90.0h1.5v1.7h-1.5zM598.6 90.0h1.5v1.7h-1.5zM443.9 91.6h1.5v1.7h-1.5zM447.9 91.6h1.5v1.7h-1.5zM505.2 91.6h1.5v1.7h-1.5zM595.9 91.6h4.2v1.7h-4.2zM597.3 93.1h2.8v1.7h-2.8zM591.9 94.7h1.5v1.7h-1.5zM595.9 94.7h2.8v1.7h-2.8zM449.2 96.2h1.5v1.7h-1.5zM506.6 96.2h2.8v1.7h-2.8zM526.6 96.2h1.5v1.7h-1.5zM449.2 97.7h1.5v1.7h-1.5zM506.6 97.7h4.2v1.7h-4.2zM513.2 97.7h5.5v1.7h-5.5zM525.2 97.7h1.5v1.7h-1.5zM449.2 99.3h1.5v1.7h-1.5zM506.6 99.3h6.8v1.7h-6.8zM517.2 99.3h1.5v1.7h-1.5zM525.2 99.3h1.5v1.7h-1.5zM449.2 100.8h1.5v1.7h-1.5zM505.2 100.8h5.5v1.7h-5.5zM517.2 100.8h2.8v1.7h-2.8zM530.6 100.8h1.5v1.7h-1.5zM579.9 100.8h1.5v1.7h-1.5zM450.5 102.4h1.5v1.7h-1.5zM466.5 102.4h1.5v1.7h-1.5zM506.6 102.4h1.5v1.7h-1.5zM515.9 102.4h4.2v1.7h-4.2zM530.6 102.4h1.5v1.7h-1.5zM583.9 102.4h1.5v1.7h-1.5zM450.5 103.9h1.5v1.7h-1.5zM518.6 103.9h1.5v1.7h-1.5zM526.6 103.9h1.5v1.7h-1.5zM534.6 103.9h2.8v1.7h-2.8zM587.9 103.9h2.8v1.7h-2.8zM450.5 105.5h1.5v1.7h-1.5zM519.9 105.5h1.5v1.7h-1.5zM526.6 105.5h2.8v1.7h-2.8zM587.9 105.5h4.2v1.7h-4.2zM451.9 107.0h1.5v1.7h-1.5zM513.2 107.0h2.8v1.7h-2.8zM519.9 107.0h1.5v1.7h-1.5zM527.9 107.0h1.5v1.7h-1.5zM578.6 107.0h2.8v1.7h-2.8zM590.6 107.0h1.5v1.7h-1.5zM453.2 108.6h2.8v1.7h-2.8zM457.2 108.6h4.2v1.7h-4.2zM513.2 108.6h8.2v1.7h-8.2zM583.9 108.6h2.8v1.7h-2.8zM590.6 108.6h1.5v1.7h-1.5zM451.9 110.1h12.2v1.7h-12.2zM511.9 110.1h8.2v1.7h-8.2zM590.6 110.1h1.5v1.7h-1.5zM450.5 111.6h6.8v1.7h-6.8zM459.9 111.6h2.8v1.7h-2.8zM510.6 111.6h5.5v1.7h-5.5zM517.2 111.6h2.8v1.7h-2.8zM590.6 111.6h1.5v1.7h-1.5zM450.5 113.2h13.5v1.7h-13.5zM510.6 113.2h8.2v1.7h-8.2zM574.6 113.2h2.8v1.7h-2.8zM581.3 113.2h1.5v1.7h-1.5zM589.3 113.2h2.8v1.7h-2.8zM450.5 114.7h12.2v1.7h-12.2zM510.6 114.7h2.8v1.7h-2.8zM574.6 114.7h1.5v1.7h-1.5zM587.9 114.7h4.2v1.7h-4.2zM613.3 114.7h1.5v1.7h-1.5zM451.9 116.3h9.5v1.7h-9.5zM453.2 117.8h1.5v1.7h-1.5zM455.9 117.8h4.2v1.7h-4.2zM613.3 117.8h4.2v1.7h-4.2zM453.2 119.4h4.2v1.7h-4.2zM613.3 119.4h4.2v1.7h-4.2zM451.9 120.9h5.5v1.7h-5.5zM610.6 120.9h1.5v1.7h-1.5zM613.3 120.9h1.5v1.7h-1.5zM451.9 122.4h4.2v1.7h-4.2zM611.9 122.4h1.5v1.7h-1.5zM453.2 124.0h1.5v1.7h-1.5zM447.9 125.5h5.5v1.7h-5.5zM447.9 127.1h5.5v1.7h-5.5zM449.2 128.6h4.2v1.7h-4.2z"/>
<path fill="#edf1f5" d="M555.9 29.8h10.8v1.7h-10.8zM573.2 29.8h1.5v1.7h-1.5zM589.3 29.8h2.8v1.7h-2.8zM595.9 29.8h2.8v1.7h-2.8zM553.2 31.4h14.8v1.7h-14.8zM573.2 31.4h9.5v1.7h-9.5zM590.6 31.4h1.5v1.7h-1.5zM595.9 31.4h1.5v1.7h-1.5zM390.5 32.9h8.2v1.7h-8.2zM517.2 32.9h1.5v1.7h-1.5zM553.2 32.9h16.2v1.7h-16.2zM573.2 32.9h10.8v1.7h-10.8zM585.3 32.9h8.2v1.7h-8.2zM595.9 32.9h9.5v1.7h-9.5zM617.3 32.9h1.5v1.7h-1.5zM378.5 34.4h2.8v1.7h-2.8zM387.8 34.4h10.8v1.7h-10.8zM403.8 34.4h10.8v1.7h-10.8zM419.9 34.4h2.8v1.7h-2.8zM427.9 34.4h17.5v1.7h-17.5zM446.5 34.4h8.2v1.7h-8.2zM461.2 34.4h1.5v1.7h-1.5zM530.6 34.4h4.2v1.7h-4.2zM538.6 34.4h5.5v1.7h-5.5zM553.2 34.4h8.2v1.7h-8.2zM565.2 34.4h4.2v1.7h-4.2zM571.9 34.4h12.2v1.7h-12.2zM589.3 34.4h2.8v1.7h-2.8zM597.3 34.4h12.2v1.7h-12.2zM615.9 34.4h2.8v1.7h-2.8zM378.5 36.0h6.8v1.7h-6.8zM386.5 36.0h12.2v1.7h-12.2zM402.5 36.0h13.5v1.7h-13.5zM421.2 36.0h1.5v1.7h-1.5zM427.9 36.0h9.5v1.7h-9.5zM439.9 36.0h5.5v1.7h-5.5zM446.5 36.0h6.8v1.7h-6.8zM454.5 36.0h4.2v1.7h-4.2zM486.5 36.0h1.5v1.7h-1.5zM513.2 36.0h1.5v1.7h-1.5zM533.2 36.0h2.8v1.7h-2.8zM555.9 36.0h4.2v1.7h-4.2zM565.2 36.0h2.8v1.7h-2.8zM573.2 36.0h10.8v1.7h-10.8zM590.6 36.0h1.5v1.7h-1.5zM597.3 36.0h1.5v1.7h-1.5zM605.3 36.0h2.8v1.7h-2.8zM614.6 36.0h2.8v1.7h-2.8zM378.5 37.5h6.8v1.7h-6.8zM386.5 37.5h12.2v1.7h-12.2zM402.5 37.5h13.5v1.7h-13.5zM427.9 37.5h8.2v1.7h-8.2zM439.9 37.5h5.5v1.7h-5.5zM446.5 37.5h6.8v1.7h-6.8zM455.9 37.5h1.5v1.7h-1.5zM481.2 37.5h1.5v1.7h-1.5zM486.5 37.5h4.2v1.7h-4.2zM555.9 37.5h2.8v1.7h-2.8zM574.6 37.5h9.5v1.7h-9.5zM589.3 37.5h2.8v1.7h-2.8zM595.9 37.5h4.2v1.7h-4.2zM607.9 37.5h8.2v1.7h-8.2zM383.8 39.1h2.8v1.7h-2.8zM387.8 39.1h10.8v1.7h-10.8zM402.5 39.1h8.2v1.7h-8.2zM413.2 39.1h2.8v1.7h-2.8zM429.2 39.1h8.2v1.7h-8.2zM439.9 39.1h14.8v1.7h-14.8zM486.5 39.1h1.5v1.7h-1.5zM525.2 39.1h1.5v1.7h-1.5zM557.2 39.1h1.5v1.7h-1.5zM573.2 39.1h2.8v1.7h-2.8zM577.2 39.1h6.8v1.7h-6.8zM585.3 39.1h8.2v1.7h-8.2zM597.3 39.1h2.8v1.7h-2.8zM603.9 39.1h2.8v1.7h-2.8zM607.9 39.1h6.8v1.7h-6.8zM386.5 40.6h4.2v1.7h-4.2zM391.8 40.6h6.8v1.7h-6.8zM402.5 40.6h9.5v1.7h-9.5zM429.2 40.6h8.2v1.7h-8.2zM443.9 40.6h8.2v1.7h-8.2zM454.5 40.6h1.5v1.7h-1.5zM555.9 40.6h2.8v1.7h-2.8zM567.9 40.6h2.8v1.7h-2.8zM571.9 40.6h21.5v1.7h-21.5zM598.6 40.6h17.5v1.7h-17.5zM390.5 42.2h4.2v1.7h-4.2zM405.2 42.2h6.8v1.7h-6.8zM429.2 42.2h1.5v1.7h-1.5zM431.9 42.2h4.2v1.7h-4.2zM447.9 42.2h9.5v1.7h-9.5zM493.2 42.2h4.2v1.7h-4.2zM558.6 42.2h1.5v1.7h-1.5zM567.9 42.2h22.8v1.7h-22.8zM597.3 42.2h10.8v1.7h-10.8zM609.3 42.2h1.5v1.7h-1.5zM390.5 43.7h2.8v1.7h-2.8zM409.2 43.7h1.5v1.7h-1.5zM433.2 43.7h5.5v1.7h-5.5zM439.9 43.7h1.5v1.7h-1.5zM447.9 43.7h10.8v1.7h-10.8zM493.2 43.7h4.2v1.7h-4.2zM503.9 43.7h2.8v1.7h-2.8zM509.2 43.7h13.5v1.7h-13.5zM567.9 43.7h5.5v1.7h-5.5zM581.3 43.7h2.8v1.7h-2.8zM586.6 43.7h4.2v1.7h-4.2zM602.6 43.7h4.2v1.7h-4.2zM387.8 45.2h4.2v1.7h-4.2zM438.5 45.2h5.5v1.7h-5.5zM445.2 45.2h14.8v1.7h-14.8zM505.2 45.2h1.5v1.7h-1.5zM515.9 45.2h5.5v1.7h-5.5zM525.2 45.2h2.8v1.7h-2.8zM531.9 45.2h1.5v1.7h-1.5zM555.9 45.2h4.2v1.7h-4.2zM565.2 45.2h6.8v1.7h-6.8zM578.6 45.2h5.5v1.7h-5.5zM586.6 45.2h4.2v1.7h-4.2zM601.3 45.2h4.2v1.7h-4.2zM381.2 46.8h2.8v1.7h-2.8zM385.2 46.8h2.8v1.7h-2.8zM438.5 46.8h14.8v1.7h-14.8zM454.5 46.8h6.8v1.7h-6.8zM515.9 46.8h2.8v1.7h-2.8zM529.2 46.8h2.8v1.7h-2.8zM534.6 46.8h1.5v1.7h-1.5zM539.9 46.8h10.8v1.7h-10.8zM554.6 46.8h13.5v1.7h-13.5zM570.6 46.8h1.5v1.7h-1.5zM578.6 46.8h5.5v1.7h-5.5zM585.3 46.8h9.5v1.7h-9.5zM602.6 46.8h2.8v1.7h-2.8zM438.5 48.3h6.8v1.7h-6.8zM447.9 48.3h5.5v1.7h-5.5zM455.9 48.3h4.2v1.7h-4.2zM491.9 48.3h1.5v1.7h-1.5zM535.9 48.3h16.2v1.7h-16.2zM554.6 48.3h13.5v1.7h-13.5zM570.6 48.3h1.5v1.7h-1.5zM579.9 48.3h2.8v1.7h-2.8zM585.3 48.3h4.2v1.7h-4.2zM590.6 48.3h4.2v1.7h-4.2zM602.6 48.3h1.5v1.7h-1.5zM435.9 49.9h9.5v1.7h-9.5zM449.2 49.9h5.5v1.7h-5.5zM534.6 49.9h36.2v1.7h-36.2zM573.2 49.9h1.5v1.7h-1.5zM578.6 49.9h1.5v1.7h-1.5zM581.3 49.9h1.5v1.7h-1.5zM586.6 49.9h4.2v1.7h-4.2zM434.5 51.4h12.2v1.7h-12.2zM450.5 51.4h6.8v1.7h-6.8zM458.5 51.4h1.5v1.7h-1.5zM462.5 51.4h1.5v1.7h-1.5zM533.2 51.4h38.8v1.7h-38.8zM578.6 51.4h4.2v1.7h-4.2zM586.6 51.4h5.5v1.7h-5.5zM593.3 51.4h1.5v1.7h-1.5zM419.9 53.0h1.5v1.7h-1.5zM437.2 53.0h4.2v1.7h-4.2zM443.9 53.0h5.5v1.7h-5.5zM451.9 53.0h6.8v1.7h-6.8zM514.6 53.0h1.5v1.7h-1.5zM517.2 53.0h1.5v1.7h-1.5zM522.6 53.0h5.5v1.7h-5.5zM531.9 53.0h42.8v1.7h-42.8zM579.9 53.0h1.5v1.7h-1.5zM586.6 53.0h4.2v1.7h-4.2zM591.9 53.0h4.2v1.7h-4.2zM437.2 54.5h5.5v1.7h-5.5zM447.9 54.5h2.8v1.7h-2.8zM454.5 54.5h1.5v1.7h-1.5zM491.9 54.5h2.8v1.7h-2.8zM495.9 54.5h5.5v1.7h-5.5zM511.9 54.5h6.8v1.7h-6.8zM525.2 54.5h5.5v1.7h-5.5zM531.9 54.5h14.8v1.7h-14.8zM549.2 54.5h25.5v1.7h-25.5zM578.6 54.5h4.2v1.7h-4.2zM585.3 54.5h4.2v1.7h-4.2zM593.3 54.5h2.8v1.7h-2.8zM415.8 56.1h1.5v1.7h-1.5zM418.5 56.1h2.8v1.7h-2.8zM435.9 56.1h2.8v1.7h-2.8zM447.9 56.1h4.2v1.7h-4.2zM491.9 56.1h1.5v1.7h-1.5zM495.9 56.1h5.5v1.7h-5.5zM503.9 56.1h1.5v1.7h-1.5zM506.6 56.1h25.5v1.7h-25.5zM533.2 56.1h1.5v1.7h-1.5zM535.9 56.1h24.2v1.7h-24.2zM562.6 56.1h22.8v1.7h-22.8zM415.8 57.6h6.8v1.7h-6.8zM435.9 57.6h1.5v1.7h-1.5zM495.9 57.6h2.8v1.7h-2.8zM499.9 57.6h1.5v1.7h-1.5zM503.9 57.6h1.5v1.7h-1.5zM507.9 57.6h2.8v1.7h-2.8zM515.9 57.6h5.5v1.7h-5.5zM522.6 57.6h6.8v1.7h-6.8zM530.6 57.6h1.5v1.7h-1.5zM533.2 57.6h1.5v1.7h-1.5zM535.9 57.6h1.5v1.7h-1.5zM539.9 57.6h6.8v1.7h-6.8zM547.9 57.6h12.2v1.7h-12.2zM563.9 57.6h5.5v1.7h-5.5zM570.6 57.6h4.2v1.7h-4.2zM577.2 57.6h1.5v1.7h-1.5zM579.9 57.6h5.5v1.7h-5.5zM415.8 59.1h6.8v1.7h-6.8zM434.5 59.1h1.5v1.7h-1.5zM491.9 59.1h17.5v1.7h-17.5zM515.9 59.1h5.5v1.7h-5.5zM525.2 59.1h2.8v1.7h-2.8zM530.6 59.1h6.8v1.7h-6.8zM541.2 59.1h4.2v1.7h-4.2zM547.9 59.1h14.8v1.7h-14.8zM563.9 59.1h12.2v1.7h-12.2zM581.3 59.1h4.2v1.7h-4.2zM417.2 60.7h6.8v1.7h-6.8zM434.5 60.7h1.5v1.7h-1.5zM497.2 60.7h5.5v1.7h-5.5zM503.9 60.7h2.8v1.7h-2.8zM515.9 60.7h1.5v1.7h-1.5zM519.9 60.7h1.5v1.7h-1.5zM523.9 60.7h2.8v1.7h-2.8zM530.6 60.7h4.2v1.7h-4.2zM541.2 60.7h4.2v1.7h-4.2zM547.9 60.7h24.2v1.7h-24.2zM573.2 60.7h5.5v1.7h-5.5zM582.6 60.7h5.5v1.7h-5.5zM591.9 60.7h1.5v1.7h-1.5zM419.9 62.2h4.2v1.7h-4.2zM434.5 62.2h1.5v1.7h-1.5zM445.2 62.2h1.5v1.7h-1.5zM498.6 62.2h8.2v1.7h-8.2zM511.9 62.2h2.8v1.7h-2.8zM522.6 62.2h5.5v1.7h-5.5zM531.9 62.2h2.8v1.7h-2.8zM541.2 62.2h4.2v1.7h-4.2zM546.6 62.2h4.2v1.7h-4.2zM551.9 62.2h18.8v1.7h-18.8zM574.6 62.2h5.5v1.7h-5.5zM582.6 62.2h6.8v1.7h-6.8zM419.9 63.8h5.5v1.7h-5.5zM434.5 63.8h1.5v1.7h-1.5zM499.9 63.8h6.8v1.7h-6.8zM511.9 63.8h5.5v1.7h-5.5zM521.2 63.8h1.5v1.7h-1.5zM523.9 63.8h6.8v1.7h-6.8zM531.9 63.8h4.2v1.7h-4.2zM537.2 63.8h6.8v1.7h-6.8zM545.2 63.8h21.5v1.7h-21.5zM575.9 63.8h1.5v1.7h-1.5zM578.6 63.8h1.5v1.7h-1.5zM585.3 63.8h1.5v1.7h-1.5zM421.2 65.3h8.2v1.7h-8.2zM434.5 65.3h2.8v1.7h-2.8zM443.9 65.3h1.5v1.7h-1.5zM511.9 65.3h2.8v1.7h-2.8zM526.6 65.3h4.2v1.7h-4.2zM531.9 65.3h9.5v1.7h-9.5zM545.2 65.3h2.8v1.7h-2.8zM550.6 65.3h6.8v1.7h-6.8zM562.6 65.3h2.8v1.7h-2.8zM569.2 65.3h1.5v1.7h-1.5zM578.6 65.3h1.5v1.7h-1.5zM422.5 66.9h6.8v1.7h-6.8zM442.5 66.9h5.5v1.7h-5.5zM510.6 66.9h1.5v1.7h-1.5zM518.6 66.9h1.5v1.7h-1.5zM527.9 66.9h2.8v1.7h-2.8zM533.2 66.9h6.8v1.7h-6.8zM543.9 66.9h1.5v1.7h-1.5zM563.9 66.9h1.5v1.7h-1.5zM577.2 66.9h2.8v1.7h-2.8zM583.9 66.9h1.5v1.7h-1.5zM422.5 68.4h6.8v1.7h-6.8zM443.9 68.4h1.5v1.7h-1.5zM507.9 68.4h1.5v1.7h-1.5zM510.6 68.4h1.5v1.7h-1.5zM517.2 68.4h2.8v1.7h-2.8zM533.2 68.4h5.5v1.7h-5.5zM541.2 68.4h2.8v1.7h-2.8zM563.9 68.4h1.5v1.7h-1.5zM566.6 68.4h1.5v1.7h-1.5zM577.2 68.4h1.5v1.7h-1.5zM423.9 70.0h2.8v1.7h-2.8zM430.5 70.0h4.2v1.7h-4.2zM442.5 70.0h4.2v1.7h-4.2zM506.6 70.0h6.8v1.7h-6.8zM535.9 70.0h2.8v1.7h-2.8zM567.9 70.0h1.5v1.7h-1.5zM393.2 71.5h1.5v1.7h-1.5zM429.2 71.5h2.8v1.7h-2.8zM437.2 71.5h5.5v1.7h-5.5zM443.9 71.5h5.5v1.7h-5.5zM486.5 71.5h2.8v1.7h-2.8zM494.5 71.5h2.8v1.7h-2.8zM505.2 71.5h9.5v1.7h-9.5zM537.2 71.5h1.5v1.7h-1.5zM561.2 71.5h1.5v1.7h-1.5zM394.5 73.0h1.5v1.7h-1.5zM427.9 73.0h1.5v1.7h-1.5zM446.5 73.0h8.2v1.7h-8.2zM489.2 73.0h1.5v1.7h-1.5zM495.9 73.0h2.8v1.7h-2.8zM503.9 73.0h2.8v1.7h-2.8zM507.9 73.0h8.2v1.7h-8.2zM517.2 73.0h1.5v1.7h-1.5zM497.2 74.6h4.2v1.7h-4.2zM503.9 74.6h6.8v1.7h-6.8zM511.9 74.6h6.8v1.7h-6.8zM527.9 74.6h2.8v1.7h-2.8zM486.5 76.1h5.5v1.7h-5.5zM501.2 76.1h5.5v1.7h-5.5zM509.2 76.1h9.5v1.7h-9.5zM525.2 76.1h1.5v1.7h-1.5zM527.9 76.1h1.5v1.7h-1.5zM450.5 77.7h1.5v1.7h-1.5zM486.5 77.7h1.5v1.7h-1.5zM517.2 77.7h9.5v1.7h-9.5zM533.2 77.7h2.8v1.7h-2.8zM521.2 79.2h1.5v1.7h-1.5zM523.9 79.2h2.8v1.7h-2.8zM550.6 79.2h1.5v1.7h-1.5zM523.9 80.8h1.5v1.7h-1.5zM549.2 80.8h1.5v1.7h-1.5zM575.9 80.8h1.5v1.7h-1.5zM581.3 80.8h1.5v1.7h-1.5zM450.5 82.3h2.8v1.7h-2.8zM458.5 82.3h2.8v1.7h-2.8zM490.5 82.3h1.5v1.7h-1.5zM507.9 82.3h1.5v1.7h-1.5zM523.9 82.3h1.5v1.7h-1.5zM526.6 82.3h2.8v1.7h-2.8zM454.5 83.8h2.8v1.7h-2.8zM462.5 83.8h2.8v1.7h-2.8zM510.6 83.8h1.5v1.7h-1.5zM522.6 83.8h2.8v1.7h-2.8zM526.6 83.8h4.2v1.7h-4.2zM561.2 83.8h1.5v1.7h-1.5zM454.5 85.4h1.5v1.7h-1.5zM463.9 85.4h1.5v1.7h-1.5zM510.6 85.4h1.5v1.7h-1.5zM514.6 85.4h1.5v1.7h-1.5zM523.9 85.4h6.8v1.7h-6.8zM463.9 86.9h1.5v1.7h-1.5zM514.6 86.9h1.5v1.7h-1.5zM525.2 86.9h4.2v1.7h-4.2zM582.6 86.9h2.8v1.7h-2.8zM437.2 88.5h1.5v1.7h-1.5zM443.9 88.5h1.5v1.7h-1.5zM451.9 88.5h1.5v1.7h-1.5zM525.2 88.5h2.8v1.7h-2.8zM585.3 88.5h2.8v1.7h-2.8zM447.9 90.0h1.5v1.7h-1.5zM470.5 90.0h2.8v1.7h-2.8zM525.2 90.0h1.5v1.7h-1.5zM574.6 90.0h1.5v1.7h-1.5zM582.6 90.0h4.2v1.7h-4.2zM593.3 90.0h1.5v1.7h-1.5zM470.5 91.6h2.8v1.7h-2.8zM506.6 91.6h1.5v1.7h-1.5zM599.9 91.6h2.8v1.7h-2.8zM449.2 93.1h1.5v1.7h-1.5zM506.6 93.1h1.5v1.7h-1.5zM585.3 93.1h1.5v1.7h-1.5zM601.3 93.1h2.8v1.7h-2.8zM449.2 94.7h1.5v1.7h-1.5zM506.6 94.7h4.2v1.7h-4.2zM523.9 94.7h1.5v1.7h-1.5zM571.9 94.7h6.8v1.7h-6.8zM581.3 94.7h2.8v1.7h-2.8zM590.6 94.7h1.5v1.7h-1.5zM602.6 94.7h4.2v1.7h-4.2zM450.5 96.2h1.5v1.7h-1.5zM509.2 96.2h17.5v1.7h-17.5zM579.9 96.2h1.5v1.7h-1.5zM593.3 96.2h1.5v1.7h-1.5zM597.3 96.2h2.8v1.7h-2.8zM450.5 97.7h1.5v1.7h-1.5zM510.6 97.7h2.8v1.7h-2.8zM518.6 97.7h6.8v1.7h-6.8zM530.6 97.7h1.5v1.7h-1.5zM589.3 97.7h1.5v1.7h-1.5zM450.5 99.3h4.2v1.7h-4.2zM518.6 99.3h2.8v1.7h-2.8zM522.6 99.3h2.8v1.7h-2.8zM527.9 99.3h5.5v1.7h-5.5zM581.3 99.3h1.5v1.7h-1.5zM589.3 99.3h1.5v1.7h-1.5zM609.3 99.3h1.5v1.7h-1.5zM450.5 100.8h5.5v1.7h-5.5zM519.9 100.8h1.5v1.7h-1.5zM523.9 100.8h1.5v1.7h-1.5zM527.9 100.8h2.8v1.7h-2.8zM581.3 100.8h2.8v1.7h-2.8zM609.3 100.8h1.5v1.7h-1.5zM615.9 100.8h2.8v1.7h-2.8zM451.9 102.4h4.2v1.7h-4.2zM465.2 102.4h1.5v1.7h-1.5zM519.9 102.4h1.5v1.7h-1.5zM527.9 102.4h2.8v1.7h-2.8zM585.3 102.4h5.5v1.7h-5.5zM591.9 102.4h2.8v1.7h-2.8zM451.9 103.9h8.2v1.7h-8.2zM519.9 103.9h2.8v1.7h-2.8zM527.9 103.9h4.2v1.7h-4.2zM590.6 103.9h2.8v1.7h-2.8zM607.9 103.9h1.5v1.7h-1.5zM451.9 105.5h9.5v1.7h-9.5zM521.2 105.5h1.5v1.7h-1.5zM529.2 105.5h1.5v1.7h-1.5zM609.3 105.5h1.5v1.7h-1.5zM450.5 107.0h1.5v1.7h-1.5zM453.2 107.0h9.5v1.7h-9.5zM521.2 107.0h1.5v1.7h-1.5zM529.2 107.0h1.5v1.7h-1.5zM450.5 108.6h2.8v1.7h-2.8zM455.9 108.6h1.5v1.7h-1.5zM461.2 108.6h4.2v1.7h-4.2zM450.5 110.1h1.5v1.7h-1.5zM463.9 110.1h2.8v1.7h-2.8zM462.5 111.6h2.8v1.7h-2.8zM591.9 111.6h1.5v1.7h-1.5zM591.9 113.2h1.5v1.7h-1.5zM449.2 114.7h1.5v1.7h-1.5zM513.2 114.7h1.5v1.7h-1.5zM591.9 114.7h1.5v1.7h-1.5zM598.6 114.7h1.5v1.7h-1.5zM449.2 116.3h2.8v1.7h-2.8zM591.9 116.3h2.8v1.7h-2.8zM614.6 116.3h2.8v1.7h-2.8zM449.2 117.8h4.2v1.7h-4.2zM454.5 117.8h1.5v1.7h-1.5zM591.9 117.8h5.5v1.7h-5.5zM449.2 119.4h4.2v1.7h-4.2zM594.6 119.4h4.2v1.7h-4.2zM611.9 119.4h1.5v1.7h-1.5zM379.8 120.9h1.5v1.7h-1.5zM447.9 120.9h4.2v1.7h-4.2zM594.6 120.9h2.8v1.7h-2.8zM611.9 120.9h1.5v1.7h-1.5zM447.9 122.4h4.2v1.7h-4.2zM609.3 122.4h2.8v1.7h-2.8zM447.9 124.0h5.5v1.7h-5.5zM609.3 124.0h2.8v1.7h-2.8zM453.2 125.5h1.5v1.7h-1.5zM543.9 125.5h2.8v1.7h-2.8zM457.2 127.1h2.8v1.7h-2.8zM453.2 128.6h1.5v1.7h-1.5zM458.5 128.6h1.5v1.7h-1.5zM450.5 130.2h5.5v1.7h-5.5zM473.2 130.2h1.5v1.7h-1.5z"/>
<path fill="#e0eaf3" d="M573.2 43.7h8.2v1.7h-8.2zM583.9 43.7h2.8v1.7h-2.8zM491.9 45.2h6.8v1.7h-6.8zM503.9 45.2h1.5v1.7h-1.5zM506.6 45.2h5.5v1.7h-5.5zM514.6 45.2h1.5v1.7h-1.5zM521.2 45.2h4.2v1.7h-4.2zM571.9 45.2h6.8v1.7h-6.8zM583.9 45.2h2.8v1.7h-2.8zM494.5 46.8h5.5v1.7h-5.5zM505.2 46.8h1.5v1.7h-1.5zM518.6 46.8h1.5v1.7h-1.5zM526.6 46.8h2.8v1.7h-2.8zM531.9 46.8h2.8v1.7h-2.8zM567.9 46.8h2.8v1.7h-2.8zM571.9 46.8h2.8v1.7h-2.8zM575.9 46.8h2.8v1.7h-2.8zM583.9 46.8h1.5v1.7h-1.5zM494.5 48.3h2.8v1.7h-2.8zM515.9 48.3h1.5v1.7h-1.5zM529.2 48.3h2.8v1.7h-2.8zM534.6 48.3h1.5v1.7h-1.5zM567.9 48.3h2.8v1.7h-2.8zM571.9 48.3h2.8v1.7h-2.8zM578.6 48.3h1.5v1.7h-1.5zM582.6 48.3h2.8v1.7h-2.8zM529.2 49.9h2.8v1.7h-2.8zM533.2 49.9h1.5v1.7h-1.5zM570.6 49.9h2.8v1.7h-2.8zM574.6 49.9h1.5v1.7h-1.5zM577.2 49.9h1.5v1.7h-1.5zM579.9 49.9h1.5v1.7h-1.5zM582.6 49.9h4.2v1.7h-4.2zM514.6 51.4h1.5v1.7h-1.5zM519.9 51.4h1.5v1.7h-1.5zM526.6 51.4h6.8v1.7h-6.8zM571.9 51.4h4.2v1.7h-4.2zM577.2 51.4h1.5v1.7h-1.5zM582.6 51.4h1.5v1.7h-1.5zM585.3 51.4h1.5v1.7h-1.5zM441.2 53.0h2.8v1.7h-2.8zM497.2 53.0h1.5v1.7h-1.5zM499.9 53.0h2.8v1.7h-2.8zM511.9 53.0h2.8v1.7h-2.8zM515.9 53.0h1.5v1.7h-1.5zM519.9 53.0h2.8v1.7h-2.8zM527.9 53.0h2.8v1.7h-2.8zM574.6 53.0h5.5v1.7h-5.5zM581.3 53.0h1.5v1.7h-1.5zM585.3 53.0h1.5v1.7h-1.5zM442.5 54.5h5.5v1.7h-5.5zM501.2 54.5h10.8v1.7h-10.8zM574.6 54.5h4.2v1.7h-4.2zM582.6 54.5h2.8v1.7h-2.8zM438.5 56.1h1.5v1.7h-1.5zM441.2 56.1h1.5v1.7h-1.5zM446.5 56.1h1.5v1.7h-1.5zM437.2 57.6h1.5v1.7h-1.5zM442.5 57.6h1.5v1.7h-1.5zM447.9 57.6h1.5v1.7h-1.5zM435.9 59.1h2.8v1.7h-2.8zM447.9 59.1h1.5v1.7h-1.5zM435.9 60.7h1.5v1.7h-1.5zM445.2 60.7h4.2v1.7h-4.2zM571.9 60.7h1.5v1.7h-1.5zM435.9 62.2h1.5v1.7h-1.5zM570.6 62.2h1.5v1.7h-1.5zM573.2 62.2h1.5v1.7h-1.5zM435.9 63.8h2.8v1.7h-2.8zM443.9 63.8h1.5v1.7h-1.5zM566.6 63.8h4.2v1.7h-4.2zM577.2 63.8h1.5v1.7h-1.5zM437.2 65.3h2.8v1.7h-2.8zM442.5 65.3h1.5v1.7h-1.5zM547.9 65.3h2.8v1.7h-2.8zM557.2 65.3h1.5v1.7h-1.5zM561.2 65.3h1.5v1.7h-1.5zM565.2 65.3h4.2v1.7h-4.2zM545.2 66.9h1.5v1.7h-1.5zM553.2 66.9h2.8v1.7h-2.8zM562.6 66.9h1.5v1.7h-1.5zM565.2 66.9h2.8v1.7h-2.8zM569.2 66.9h1.5v1.7h-1.5zM543.9 68.4h1.5v1.7h-1.5zM565.2 68.4h1.5v1.7h-1.5zM567.9 68.4h1.5v1.7h-1.5zM543.9 70.0h1.5v1.7h-1.5zM565.2 70.0h2.8v1.7h-2.8zM571.9 70.0h1.5v1.7h-1.5zM575.9 70.0h1.5v1.7h-1.5zM431.9 71.5h2.8v1.7h-2.8zM554.6 71.5h1.5v1.7h-1.5zM429.2 73.0h1.5v1.7h-1.5zM439.9 73.0h1.5v1.7h-1.5zM491.9 76.1h6.8v1.7h-6.8zM499.9 76.1h1.5v1.7h-1.5zM506.6 76.1h2.8v1.7h-2.8zM442.5 77.7h1.5v1.7h-1.5zM550.6 77.7h1.5v1.7h-1.5zM566.6 77.7h1.5v1.7h-1.5zM449.2 79.2h1.5v1.7h-1.5zM519.9 79.2h1.5v1.7h-1.5zM522.6 79.2h1.5v1.7h-1.5zM549.2 79.2h1.5v1.7h-1.5zM563.9 80.8h1.5v1.7h-1.5zM582.6 80.8h1.5v1.7h-1.5zM501.2 82.3h1.5v1.7h-1.5zM522.6 82.3h1.5v1.7h-1.5zM575.9 82.3h1.5v1.7h-1.5zM450.5 83.8h1.5v1.7h-1.5zM453.2 83.8h1.5v1.7h-1.5zM457.2 83.8h2.8v1.7h-2.8zM461.2 83.8h1.5v1.7h-1.5zM491.9 83.8h1.5v1.7h-1.5zM495.9 83.8h4.2v1.7h-4.2zM511.9 83.8h4.2v1.7h-4.2zM518.6 83.8h4.2v1.7h-4.2zM455.9 85.4h1.5v1.7h-1.5zM511.9 85.4h2.8v1.7h-2.8zM518.6 85.4h5.5v1.7h-5.5zM449.2 86.9h2.8v1.7h-2.8zM515.9 86.9h2.8v1.7h-2.8zM523.9 86.9h1.5v1.7h-1.5zM581.3 86.9h1.5v1.7h-1.5zM445.2 88.5h2.8v1.7h-2.8zM463.9 88.5h1.5v1.7h-1.5zM509.2 88.5h1.5v1.7h-1.5zM523.9 88.5h1.5v1.7h-1.5zM451.9 90.0h1.5v1.7h-1.5zM586.6 90.0h4.2v1.7h-4.2zM591.9 90.0h1.5v1.7h-1.5zM449.2 91.6h1.5v1.7h-1.5zM473.2 91.6h2.8v1.7h-2.8zM507.9 91.6h2.8v1.7h-2.8zM523.9 91.6h1.5v1.7h-1.5zM591.9 91.6h1.5v1.7h-1.5zM454.5 93.1h1.5v1.7h-1.5zM473.2 93.1h2.8v1.7h-2.8zM507.9 93.1h2.8v1.7h-2.8zM523.9 93.1h1.5v1.7h-1.5zM587.9 93.1h1.5v1.7h-1.5zM590.6 93.1h1.5v1.7h-1.5zM450.5 94.7h1.5v1.7h-1.5zM454.5 94.7h1.5v1.7h-1.5zM474.5 94.7h1.5v1.7h-1.5zM510.6 94.7h1.5v1.7h-1.5zM515.9 94.7h8.2v1.7h-8.2zM578.6 94.7h2.8v1.7h-2.8zM585.3 96.2h2.8v1.7h-2.8zM451.9 97.7h2.8v1.7h-2.8zM587.9 97.7h1.5v1.7h-1.5zM591.9 97.7h1.5v1.7h-1.5zM454.5 99.3h1.5v1.7h-1.5zM521.2 99.3h1.5v1.7h-1.5zM582.6 99.3h1.5v1.7h-1.5zM586.6 99.3h2.8v1.7h-2.8zM455.9 100.8h1.5v1.7h-1.5zM459.9 100.8h1.5v1.7h-1.5zM521.2 100.8h2.8v1.7h-2.8zM583.9 100.8h12.2v1.7h-12.2zM455.9 102.4h1.5v1.7h-1.5zM458.5 102.4h2.8v1.7h-2.8zM521.2 102.4h2.8v1.7h-2.8zM590.6 102.4h1.5v1.7h-1.5zM459.9 103.9h1.5v1.7h-1.5zM593.3 103.9h1.5v1.7h-1.5zM461.2 105.5h1.5v1.7h-1.5zM591.9 105.5h2.8v1.7h-2.8zM462.5 107.0h2.8v1.7h-2.8zM591.9 107.0h1.5v1.7h-1.5zM599.9 107.0h1.5v1.7h-1.5zM465.2 108.6h1.5v1.7h-1.5zM591.9 108.6h1.5v1.7h-1.5zM599.9 108.6h1.5v1.7h-1.5zM591.9 110.1h1.5v1.7h-1.5zM599.9 110.1h1.5v1.7h-1.5zM599.9 111.6h1.5v1.7h-1.5zM594.6 113.2h5.5v1.7h-5.5zM593.3 114.7h1.5v1.7h-1.5zM595.9 114.7h2.8v1.7h-2.8zM594.6 116.3h4.2v1.7h-4.2z"/>
<path fill="#d0e2ef" d="M511.9 45.2h2.8v1.7h-2.8zM491.9 46.8h2.8v1.7h-2.8zM501.2 46.8h1.5v1.7h-1.5zM503.9 46.8h1.5v1.7h-1.5zM509.2 46.8h2.8v1.7h-2.8zM514.6 46.8h1.5v1.7h-1.5zM519.9 46.8h2.8v1.7h-2.8zM525.2 46.8h1.5v1.7h-1.5zM574.6 46.8h1.5v1.7h-1.5zM497.2 48.3h2.8v1.7h-2.8zM503.9 48.3h1.5v1.7h-1.5zM514.6 48.3h1.5v1.7h-1.5zM517.2 48.3h4.2v1.7h-4.2zM526.6 48.3h2.8v1.7h-2.8zM531.9 48.3h2.8v1.7h-2.8zM574.6 48.3h4.2v1.7h-4.2zM494.5 49.9h1.5v1.7h-1.5zM519.9 49.9h1.5v1.7h-1.5zM526.6 49.9h2.8v1.7h-2.8zM531.9 49.9h1.5v1.7h-1.5zM575.9 49.9h1.5v1.7h-1.5zM515.9 51.4h4.2v1.7h-4.2zM523.9 51.4h2.8v1.7h-2.8zM575.9 51.4h1.5v1.7h-1.5zM583.9 51.4h1.5v1.7h-1.5zM498.6 53.0h1.5v1.7h-1.5zM502.6 53.0h4.2v1.7h-4.2zM507.9 53.0h4.2v1.7h-4.2zM582.6 53.0h2.8v1.7h-2.8zM439.9 56.1h1.5v1.7h-1.5zM442.5 56.1h4.2v1.7h-4.2zM438.5 57.6h4.2v1.7h-4.2zM446.5 57.6h1.5v1.7h-1.5zM439.9 59.1h1.5v1.7h-1.5zM442.5 59.1h1.5v1.7h-1.5zM446.5 59.1h1.5v1.7h-1.5zM439.9 60.7h1.5v1.7h-1.5zM439.9 62.2h2.8v1.7h-2.8zM443.9 62.2h1.5v1.7h-1.5zM571.9 62.2h1.5v1.7h-1.5zM439.9 63.8h4.2v1.7h-4.2zM570.6 63.8h1.5v1.7h-1.5zM574.6 63.8h1.5v1.7h-1.5zM559.9 65.3h1.5v1.7h-1.5zM574.6 65.3h1.5v1.7h-1.5zM546.6 66.9h1.5v1.7h-1.5zM551.9 66.9h1.5v1.7h-1.5zM555.9 66.9h1.5v1.7h-1.5zM567.9 66.9h1.5v1.7h-1.5zM570.6 66.9h1.5v1.7h-1.5zM575.9 66.9h1.5v1.7h-1.5zM562.6 68.4h1.5v1.7h-1.5zM569.2 68.4h2.8v1.7h-2.8zM575.9 68.4h1.5v1.7h-1.5zM545.2 70.0h1.5v1.7h-1.5zM573.2 70.0h2.8v1.7h-2.8zM545.2 71.5h2.8v1.7h-2.8zM555.9 71.5h1.5v1.7h-1.5zM565.2 71.5h1.5v1.7h-1.5zM430.5 73.0h1.5v1.7h-1.5zM559.9 73.0h1.5v1.7h-1.5zM550.6 74.6h1.5v1.7h-1.5zM566.6 74.6h1.5v1.7h-1.5zM442.5 76.1h1.5v1.7h-1.5zM498.6 76.1h1.5v1.7h-1.5zM550.6 76.1h2.8v1.7h-2.8zM566.6 76.1h1.5v1.7h-1.5zM487.9 77.7h1.5v1.7h-1.5zM511.9 77.7h5.5v1.7h-5.5zM549.2 77.7h1.5v1.7h-1.5zM442.5 79.2h1.5v1.7h-1.5zM566.6 79.2h1.5v1.7h-1.5zM449.2 80.8h1.5v1.7h-1.5zM522.6 80.8h1.5v1.7h-1.5zM449.2 82.3h1.5v1.7h-1.5zM497.2 82.3h1.5v1.7h-1.5zM509.2 82.3h1.5v1.7h-1.5zM521.2 82.3h1.5v1.7h-1.5zM582.6 82.3h1.5v1.7h-1.5zM451.9 83.8h1.5v1.7h-1.5zM459.9 83.8h1.5v1.7h-1.5zM493.2 83.8h2.8v1.7h-2.8zM515.9 83.8h2.8v1.7h-2.8zM562.6 83.8h1.5v1.7h-1.5zM449.2 85.4h2.8v1.7h-2.8zM453.2 85.4h1.5v1.7h-1.5zM462.5 85.4h1.5v1.7h-1.5zM515.9 85.4h2.8v1.7h-2.8zM446.5 86.9h2.8v1.7h-2.8zM451.9 86.9h1.5v1.7h-1.5zM454.5 86.9h1.5v1.7h-1.5zM510.6 86.9h1.5v1.7h-1.5zM518.6 86.9h1.5v1.7h-1.5zM447.9 88.5h4.2v1.7h-4.2zM453.2 88.5h1.5v1.7h-1.5zM462.5 88.5h1.5v1.7h-1.5zM515.9 88.5h4.2v1.7h-4.2zM449.2 90.0h1.5v1.7h-1.5zM469.2 90.0h1.5v1.7h-1.5zM509.2 90.0h1.5v1.7h-1.5zM523.9 90.0h1.5v1.7h-1.5zM566.6 90.0h1.5v1.7h-1.5zM590.6 90.0h1.5v1.7h-1.5zM451.9 91.6h1.5v1.7h-1.5zM587.9 91.6h1.5v1.7h-1.5zM450.5 93.1h1.5v1.7h-1.5zM455.9 93.1h4.2v1.7h-4.2zM471.9 93.1h1.5v1.7h-1.5zM517.2 93.1h1.5v1.7h-1.5zM522.6 93.1h1.5v1.7h-1.5zM458.5 94.7h1.5v1.7h-1.5zM473.2 94.7h1.5v1.7h-1.5zM511.9 94.7h4.2v1.7h-4.2zM451.9 96.2h4.2v1.7h-4.2zM473.2 96.2h1.5v1.7h-1.5zM454.5 97.7h1.5v1.7h-1.5zM585.3 97.7h2.8v1.7h-2.8zM593.3 97.7h1.5v1.7h-1.5zM455.9 99.3h1.5v1.7h-1.5zM583.9 99.3h2.8v1.7h-2.8zM591.9 99.3h4.2v1.7h-4.2zM457.2 100.8h1.5v1.7h-1.5zM466.5 100.8h1.5v1.7h-1.5zM457.2 102.4h1.5v1.7h-1.5zM461.2 102.4h1.5v1.7h-1.5zM467.9 102.4h1.5v1.7h-1.5zM470.5 102.4h2.8v1.7h-2.8zM594.6 102.4h2.8v1.7h-2.8zM465.2 103.9h2.8v1.7h-2.8zM470.5 103.9h1.5v1.7h-1.5zM594.6 103.9h1.5v1.7h-1.5zM462.5 105.5h1.5v1.7h-1.5zM470.5 105.5h1.5v1.7h-1.5zM465.2 107.0h2.8v1.7h-2.8zM593.3 107.0h1.5v1.7h-1.5zM597.3 107.0h2.8v1.7h-2.8zM597.3 108.6h2.8v1.7h-2.8zM598.6 110.1h1.5v1.7h-1.5zM593.3 111.6h1.5v1.7h-1.5zM598.6 111.6h1.5v1.7h-1.5zM593.3 113.2h1.5v1.7h-1.5zM594.6 114.7h1.5v1.7h-1.5z"/>
<path fill="#bad7ea" d="M502.6 46.8h1.5v1.7h-1.5zM506.6 46.8h2.8v1.7h-2.8zM522.6 46.8h2.8v1.7h-2.8zM499.9 48.3h1.5v1.7h-1.5zM505.2 48.3h1.5v1.7h-1.5zM507.9 48.3h4.2v1.7h-4.2zM521.2 48.3h1.5v1.7h-1.5zM525.2 48.3h1.5v1.7h-1.5zM495.9 49.9h2.8v1.7h-2.8zM503.9 49.9h1.5v1.7h-1.5zM514.6 49.9h2.8v1.7h-2.8zM518.6 49.9h1.5v1.7h-1.5zM525.2 49.9h1.5v1.7h-1.5zM495.9 51.4h2.8v1.7h-2.8zM501.2 51.4h5.5v1.7h-5.5zM513.2 51.4h1.5v1.7h-1.5zM521.2 51.4h2.8v1.7h-2.8zM506.6 53.0h1.5v1.7h-1.5zM443.9 57.6h2.8v1.7h-2.8zM438.5 59.1h1.5v1.7h-1.5zM441.2 59.1h1.5v1.7h-1.5zM437.2 60.7h2.8v1.7h-2.8zM441.2 60.7h1.5v1.7h-1.5zM443.9 60.7h1.5v1.7h-1.5zM437.2 62.2h2.8v1.7h-2.8zM438.5 63.8h1.5v1.7h-1.5zM571.9 63.8h2.8v1.7h-2.8zM558.6 65.3h1.5v1.7h-1.5zM570.6 65.3h1.5v1.7h-1.5zM550.6 66.9h1.5v1.7h-1.5zM571.9 66.9h1.5v1.7h-1.5zM545.2 68.4h1.5v1.7h-1.5zM571.9 68.4h1.5v1.7h-1.5zM546.6 70.0h1.5v1.7h-1.5zM554.6 70.0h1.5v1.7h-1.5zM553.2 71.5h1.5v1.7h-1.5zM566.6 71.5h1.5v1.7h-1.5zM433.2 73.0h1.5v1.7h-1.5zM550.6 73.0h2.8v1.7h-2.8zM554.6 73.0h1.5v1.7h-1.5zM565.2 73.0h2.8v1.7h-2.8zM549.2 74.6h1.5v1.7h-1.5zM551.9 74.6h2.8v1.7h-2.8zM565.2 74.6h1.5v1.7h-1.5zM549.2 76.1h1.5v1.7h-1.5zM510.6 77.7h1.5v1.7h-1.5zM565.2 77.7h1.5v1.7h-1.5zM518.6 79.2h1.5v1.7h-1.5zM507.9 80.8h1.5v1.7h-1.5zM519.9 80.8h2.8v1.7h-2.8zM510.6 82.3h1.5v1.7h-1.5zM518.6 82.3h2.8v1.7h-2.8zM563.9 82.3h1.5v1.7h-1.5zM581.3 82.3h1.5v1.7h-1.5zM449.2 83.8h1.5v1.7h-1.5zM574.6 83.8h4.2v1.7h-4.2zM451.9 85.4h1.5v1.7h-1.5zM445.2 86.9h1.5v1.7h-1.5zM453.2 86.9h1.5v1.7h-1.5zM462.5 86.9h1.5v1.7h-1.5zM513.2 86.9h1.5v1.7h-1.5zM519.9 86.9h1.5v1.7h-1.5zM522.6 86.9h1.5v1.7h-1.5zM461.2 88.5h1.5v1.7h-1.5zM465.2 88.5h1.5v1.7h-1.5zM467.9 88.5h1.5v1.7h-1.5zM463.9 90.0h1.5v1.7h-1.5zM567.9 90.0h1.5v1.7h-1.5zM575.9 90.0h1.5v1.7h-1.5zM450.5 91.6h1.5v1.7h-1.5zM454.5 91.6h1.5v1.7h-1.5zM469.2 91.6h1.5v1.7h-1.5zM510.6 91.6h1.5v1.7h-1.5zM517.2 91.6h1.5v1.7h-1.5zM522.6 91.6h1.5v1.7h-1.5zM589.3 91.6h2.8v1.7h-2.8zM451.9 93.1h1.5v1.7h-1.5zM470.5 93.1h1.5v1.7h-1.5zM510.6 93.1h1.5v1.7h-1.5zM515.9 93.1h1.5v1.7h-1.5zM518.6 93.1h1.5v1.7h-1.5zM521.2 93.1h1.5v1.7h-1.5zM451.9 94.7h2.8v1.7h-2.8zM458.5 99.3h2.8v1.7h-2.8zM458.5 100.8h1.5v1.7h-1.5zM471.9 100.8h1.5v1.7h-1.5zM469.2 102.4h1.5v1.7h-1.5zM461.2 103.9h1.5v1.7h-1.5zM467.9 103.9h2.8v1.7h-2.8zM595.9 103.9h2.8v1.7h-2.8zM463.9 105.5h4.2v1.7h-4.2zM469.2 105.5h1.5v1.7h-1.5zM594.6 105.5h5.5v1.7h-5.5zM595.9 107.0h1.5v1.7h-1.5zM593.3 108.6h4.2v1.7h-4.2zM595.9 110.1h2.8v1.7h-2.8zM594.6 111.6h4.2v1.7h-4.2z"/>
<path fill="#a3cce4" d="M511.9 46.8h1.5v1.7h-1.5zM501.2 48.3h2.8v1.7h-2.8zM506.6 48.3h1.5v1.7h-1.5zM511.9 48.3h1.5v1.7h-1.5zM522.6 48.3h1.5v1.7h-1.5zM498.6 49.9h1.5v1.7h-1.5zM502.6 49.9h1.5v1.7h-1.5zM505.2 49.9h1.5v1.7h-1.5zM507.9 49.9h1.5v1.7h-1.5zM513.2 49.9h1.5v1.7h-1.5zM521.2 49.9h4.2v1.7h-4.2zM498.6 51.4h2.8v1.7h-2.8zM506.6 51.4h2.8v1.7h-2.8zM511.9 51.4h1.5v1.7h-1.5zM443.9 59.1h2.8v1.7h-2.8zM442.5 60.7h1.5v1.7h-1.5zM442.5 62.2h1.5v1.7h-1.5zM571.9 65.3h1.5v1.7h-1.5zM547.9 66.9h2.8v1.7h-2.8zM557.2 66.9h1.5v1.7h-1.5zM561.2 66.9h1.5v1.7h-1.5zM573.2 66.9h2.8v1.7h-2.8zM553.2 68.4h2.8v1.7h-2.8zM573.2 68.4h1.5v1.7h-1.5zM547.9 70.0h1.5v1.7h-1.5zM553.2 70.0h1.5v1.7h-1.5zM561.2 70.0h1.5v1.7h-1.5zM547.9 71.5h1.5v1.7h-1.5zM431.9 73.0h1.5v1.7h-1.5zM434.5 73.0h1.5v1.7h-1.5zM549.2 73.0h1.5v1.7h-1.5zM553.2 73.0h1.5v1.7h-1.5zM430.5 74.6h1.5v1.7h-1.5zM503.9 77.7h1.5v1.7h-1.5zM547.9 77.7h1.5v1.7h-1.5zM441.2 79.2h1.5v1.7h-1.5zM441.2 80.8h1.5v1.7h-1.5zM497.2 80.8h1.5v1.7h-1.5zM501.2 80.8h4.2v1.7h-4.2zM506.6 80.8h1.5v1.7h-1.5zM518.6 80.8h1.5v1.7h-1.5zM498.6 82.3h2.8v1.7h-2.8zM511.9 82.3h4.2v1.7h-4.2zM457.2 85.4h1.5v1.7h-1.5zM562.6 85.4h1.5v1.7h-1.5zM455.9 86.9h1.5v1.7h-1.5zM511.9 86.9h1.5v1.7h-1.5zM521.2 86.9h1.5v1.7h-1.5zM514.6 88.5h1.5v1.7h-1.5zM574.6 88.5h1.5v1.7h-1.5zM450.5 90.0h1.5v1.7h-1.5zM453.2 90.0h1.5v1.7h-1.5zM462.5 90.0h1.5v1.7h-1.5zM453.2 91.6h1.5v1.7h-1.5zM579.9 91.6h1.5v1.7h-1.5zM453.2 93.1h1.5v1.7h-1.5zM511.9 93.1h4.2v1.7h-4.2zM519.9 93.1h1.5v1.7h-1.5zM455.9 94.7h1.5v1.7h-1.5zM459.9 94.7h1.5v1.7h-1.5zM455.9 97.7h1.5v1.7h-1.5zM465.2 97.7h2.8v1.7h-2.8zM457.2 99.3h1.5v1.7h-1.5zM462.5 99.3h5.5v1.7h-5.5zM461.2 100.8h1.5v1.7h-1.5zM463.9 100.8h2.8v1.7h-2.8zM467.9 100.8h1.5v1.7h-1.5zM470.5 100.8h1.5v1.7h-1.5zM463.9 102.4h1.5v1.7h-1.5zM462.5 103.9h2.8v1.7h-2.8zM467.9 105.5h1.5v1.7h-1.5zM594.6 107.0h1.5v1.7h-1.5zM593.3 110.1h2.8v1.7h-2.8z"/>
<path fill="#88bedd" d="M513.2 46.8h1.5v1.7h-1.5zM513.2 48.3h1.5v1.7h-1.5zM523.9 48.3h1.5v1.7h-1.5zM499.9 49.9h2.8v1.7h-2.8zM506.6 49.9h1.5v1.7h-1.5zM509.2 49.9h1.5v1.7h-1.5zM511.9 49.9h1.5v1.7h-1.5zM517.2 49.9h1.5v1.7h-1.5zM509.2 51.4h2.8v1.7h-2.8zM573.2 65.3h1.5v1.7h-1.5zM546.6 68.4h1.5v1.7h-1.5zM574.6 68.4h1.5v1.7h-1.5zM551.9 71.5h1.5v1.7h-1.5zM435.9 73.0h1.5v1.7h-1.5zM438.5 73.0h1.5v1.7h-1.5zM546.6 73.0h1.5v1.7h-1.5zM546.6 74.6h1.5v1.7h-1.5zM565.2 76.1h1.5v1.7h-1.5zM441.2 77.7h1.5v1.7h-1.5zM489.2 77.7h2.8v1.7h-2.8zM505.2 77.7h1.5v1.7h-1.5zM509.2 77.7h1.5v1.7h-1.5zM447.9 79.2h1.5v1.7h-1.5zM517.2 79.2h1.5v1.7h-1.5zM505.2 80.8h1.5v1.7h-1.5zM509.2 80.8h1.5v1.7h-1.5zM491.9 82.3h1.5v1.7h-1.5zM495.9 82.3h1.5v1.7h-1.5zM515.9 82.3h2.8v1.7h-2.8zM565.2 82.3h1.5v1.7h-1.5zM447.9 85.4h1.5v1.7h-1.5zM461.2 85.4h1.5v1.7h-1.5zM570.6 86.9h1.5v1.7h-1.5zM579.9 86.9h1.5v1.7h-1.5zM454.5 88.5h1.5v1.7h-1.5zM466.5 88.5h1.5v1.7h-1.5zM510.6 88.5h1.5v1.7h-1.5zM522.6 88.5h1.5v1.7h-1.5zM465.2 90.0h1.5v1.7h-1.5zM467.9 90.0h1.5v1.7h-1.5zM510.6 90.0h1.5v1.7h-1.5zM515.9 90.0h4.2v1.7h-4.2zM522.6 90.0h1.5v1.7h-1.5zM511.9 91.6h1.5v1.7h-1.5zM515.9 91.6h1.5v1.7h-1.5zM518.6 91.6h1.5v1.7h-1.5zM521.2 91.6h1.5v1.7h-1.5zM566.6 91.6h1.5v1.7h-1.5zM577.2 91.6h1.5v1.7h-1.5zM469.2 93.1h1.5v1.7h-1.5zM573.2 93.1h1.5v1.7h-1.5zM457.2 94.7h1.5v1.7h-1.5zM471.9 94.7h1.5v1.7h-1.5zM455.9 96.2h1.5v1.7h-1.5zM459.9 97.7h1.5v1.7h-1.5zM471.9 99.3h1.5v1.7h-1.5zM462.5 100.8h1.5v1.7h-1.5zM469.2 100.8h1.5v1.7h-1.5z"/>
<path fill="#6dafd6" d="M510.6 49.9h1.5v1.7h-1.5zM547.9 68.4h2.8v1.7h-2.8zM555.9 68.4h1.5v1.7h-1.5zM549.2 70.0h1.5v1.7h-1.5zM555.9 70.0h1.5v1.7h-1.5zM549.2 71.5h2.8v1.7h-2.8zM557.2 71.5h1.5v1.7h-1.5zM437.2 73.0h1.5v1.7h-1.5zM431.9 74.6h1.5v1.7h-1.5zM441.2 76.1h1.5v1.7h-1.5zM502.6 77.7h1.5v1.7h-1.5zM506.6 77.7h2.8v1.7h-2.8zM487.9 79.2h1.5v1.7h-1.5zM513.2 79.2h4.2v1.7h-4.2zM490.5 80.8h1.5v1.7h-1.5zM446.5 85.4h1.5v1.7h-1.5zM458.5 85.4h2.8v1.7h-2.8zM461.2 86.9h1.5v1.7h-1.5zM511.9 88.5h2.8v1.7h-2.8zM570.6 88.5h1.5v1.7h-1.5zM511.9 90.0h1.5v1.7h-1.5zM519.9 91.6h1.5v1.7h-1.5zM459.9 93.1h1.5v1.7h-1.5zM458.5 96.2h2.8v1.7h-2.8zM458.5 97.7h1.5v1.7h-1.5zM461.2 99.3h1.5v1.7h-1.5zM462.5 102.4h1.5v1.7h-1.5z"/>
<path fill="#559fcd" d="M550.6 68.4h2.8v1.7h-2.8zM550.6 70.0h2.8v1.7h-2.8zM559.9 71.5h1.5v1.7h-1.5zM433.2 74.6h1.5v1.7h-1.5zM435.9 74.6h1.5v1.7h-1.5zM438.5 77.7h1.5v1.7h-1.5zM491.9 77.7h1.5v1.7h-1.5zM498.6 77.7h1.5v1.7h-1.5zM489.2 79.2h1.5v1.7h-1.5zM503.9 79.2h1.5v1.7h-1.5zM507.9 79.2h1.5v1.7h-1.5zM489.2 80.8h1.5v1.7h-1.5zM498.6 80.8h2.8v1.7h-2.8zM513.2 80.8h1.5v1.7h-1.5zM517.2 80.8h1.5v1.7h-1.5zM571.9 85.4h2.8v1.7h-2.8zM459.9 86.9h1.5v1.7h-1.5zM459.9 88.5h1.5v1.7h-1.5zM521.2 88.5h1.5v1.7h-1.5zM573.2 88.5h1.5v1.7h-1.5zM454.5 90.0h1.5v1.7h-1.5zM513.2 90.0h2.8v1.7h-2.8zM565.2 90.0h1.5v1.7h-1.5zM573.2 90.0h1.5v1.7h-1.5zM455.9 91.6h1.5v1.7h-1.5zM465.2 91.6h4.2v1.7h-4.2zM513.2 91.6h2.8v1.7h-2.8zM466.5 93.1h2.8v1.7h-2.8zM465.2 96.2h2.8v1.7h-2.8zM471.9 96.2h1.5v1.7h-1.5zM457.2 97.7h1.5v1.7h-1.5zM467.9 99.3h1.5v1.7h-1.5z"/>
<path fill="#3f8fc4" d="M561.2 68.4h1.5v1.7h-1.5zM547.9 73.0h1.5v1.7h-1.5zM433.2 76.1h1.5v1.7h-1.5zM435.9 76.1h1.5v1.7h-1.5zM439.9 76.1h1.5v1.7h-1.5zM547.9 76.1h1.5v1.7h-1.5zM497.2 77.7h1.5v1.7h-1.5zM501.2 77.7h1.5v1.7h-1.5zM490.5 79.2h1.5v1.7h-1.5zM498.6 79.2h1.5v1.7h-1.5zM509.2 79.2h1.5v1.7h-1.5zM511.9 79.2h1.5v1.7h-1.5zM514.6 80.8h1.5v1.7h-1.5zM443.9 82.3h1.5v1.7h-1.5zM571.9 88.5h1.5v1.7h-1.5zM575.9 88.5h1.5v1.7h-1.5zM466.5 90.0h1.5v1.7h-1.5zM519.9 90.0h1.5v1.7h-1.5zM457.2 91.6h2.8v1.7h-2.8zM571.9 93.1h1.5v1.7h-1.5zM463.9 94.7h1.5v1.7h-1.5zM466.5 94.7h2.8v1.7h-2.8zM470.5 94.7h1.5v1.7h-1.5zM457.2 96.2h1.5v1.7h-1.5zM467.9 97.7h1.5v1.7h-1.5zM470.5 99.3h1.5v1.7h-1.5z"/>
<path fill="#3281bd" d="M558.6 66.9h2.8v1.7h-2.8zM557.2 68.4h1.5v1.7h-1.5zM434.5 74.6h1.5v1.7h-1.5zM437.2 74.6h1.5v1.7h-1.5zM437.2 76.1h1.5v1.7h-1.5zM439.9 77.7h1.5v1.7h-1.5zM494.5 77.7h2.8v1.7h-2.8zM499.9 77.7h1.5v1.7h-1.5zM499.9 79.2h1.5v1.7h-1.5zM505.2 79.2h2.8v1.7h-2.8zM511.9 80.8h1.5v1.7h-1.5zM515.9 80.8h1.5v1.7h-1.5zM457.2 86.9h1.5v1.7h-1.5zM571.9 86.9h1.5v1.7h-1.5zM455.9 88.5h1.5v1.7h-1.5zM461.2 90.0h1.5v1.7h-1.5zM521.2 90.0h1.5v1.7h-1.5zM579.9 90.0h1.5v1.7h-1.5zM463.9 91.6h1.5v1.7h-1.5zM465.2 94.7h1.5v1.7h-1.5zM469.2 94.7h1.5v1.7h-1.5zM467.9 96.2h1.5v1.7h-1.5zM463.9 97.7h1.5v1.7h-1.5zM471.9 97.7h1.5v1.7h-1.5zM469.2 99.3h1.5v1.7h-1.5z"/>
<path fill="#2673b6" d="M438.5 76.1h1.5v1.7h-1.5zM493.2 77.7h1.5v1.7h-1.5zM501.2 79.2h2.8v1.7h-2.8zM510.6 79.2h1.5v1.7h-1.5zM447.9 80.8h1.5v1.7h-1.5zM510.6 80.8h1.5v1.7h-1.5zM494.5 82.3h1.5v1.7h-1.5zM575.9 85.4h1.5v1.7h-1.5zM458.5 86.9h1.5v1.7h-1.5zM578.6 86.9h1.5v1.7h-1.5zM567.9 91.6h1.5v1.7h-1.5zM578.6 91.6h1.5v1.7h-1.5zM463.9 93.1h1.5v1.7h-1.5zM461.2 94.7h2.8v1.7h-2.8zM463.9 96.2h1.5v1.7h-1.5zM461.2 97.7h2.8v1.7h-2.8z"/>
<path fill="#1e65ab" d="M557.2 70.0h1.5v1.7h-1.5zM438.5 74.6h1.5v1.7h-1.5zM547.9 74.6h1.5v1.7h-1.5zM442.5 80.8h1.5v1.7h-1.5zM574.6 85.4h1.5v1.7h-1.5zM579.9 88.5h1.5v1.7h-1.5zM455.9 90.0h1.5v1.7h-1.5zM458.5 90.0h1.5v1.7h-1.5zM571.9 90.0h1.5v1.7h-1.5zM459.9 91.6h1.5v1.7h-1.5zM462.5 91.6h1.5v1.7h-1.5zM461.2 93.1h2.8v1.7h-2.8zM465.2 93.1h1.5v1.7h-1.5zM469.2 97.7h1.5v1.7h-1.5z"/>
<path fill="#1858a0" d="M559.9 70.0h1.5v1.7h-1.5zM443.9 80.8h2.8v1.7h-2.8zM495.9 80.8h1.5v1.7h-1.5zM445.2 82.3h1.5v1.7h-1.5zM493.2 82.3h1.5v1.7h-1.5zM447.9 83.8h1.5v1.7h-1.5zM567.9 88.5h1.5v1.7h-1.5zM459.9 90.0h1.5v1.7h-1.5z"/>
<path fill="#124b92" d="M559.9 68.4h1.5v1.7h-1.5zM447.9 82.3h1.5v1.7h-1.5zM565.2 83.8h1.5v1.7h-1.5zM575.9 86.9h1.5v1.7h-1.5zM457.2 90.0h1.5v1.7h-1.5zM577.2 90.0h1.5v1.7h-1.5zM462.5 96.2h1.5v1.7h-1.5zM469.2 96.2h2.8v1.7h-2.8zM470.5 97.7h1.5v1.7h-1.5z"/>
<path fill="#0d3d7f" d="M497.2 79.2h1.5v1.7h-1.5zM566.6 83.8h1.5v1.7h-1.5zM567.9 86.9h1.5v1.7h-1.5zM573.2 86.9h1.5v1.7h-1.5zM458.5 88.5h1.5v1.7h-1.5zM461.2 91.6h1.5v1.7h-1.5zM461.2 96.2h1.5v1.7h-1.5z"/>
<path fill="#08306b" d="M558.6 68.4h1.5v1.7h-1.5zM558.6 70.0h1.5v1.7h-1.5zM491.9 79.2h5.5v1.7h-5.5zM446.5 80.8h1.5v1.7h-1.5zM491.9 80.8h4.2v1.7h-4.2zM446.5 82.3h1.5v1.7h-1.5zM446.5 83.8h1.5v1.7h-1.5zM563.9 85.4h4.2v1.7h-4.2zM563.9 86.9h4.2v1.7h-4.2zM574.6 86.9h1.5v1.7h-1.5zM457.2 88.5h1.5v1.7h-1.5zM565.2 88.5h2.8v1.7h-2.8zM577.2 88.5h2.8v1.7h-2.8zM578.6 90.0h1.5v1.7h-1.5zM567.9 93.1h4.2v1.7h-4.2z"/>
</g>
<rect x="607.1" y="92.0" width="1.4" height="1.5" fill="#faf2e3"/>
<rect x="609.2" y="87.5" width="1.4" height="1.5" fill="#faeed6"/>
<rect x="600.2" y="83.0" width="1.4" height="1.5" fill="#f8e9ca"/>
<rect x="603.1" y="96.8" width="1.4" height="1.5" fill="#f7e7c4"/>
<rect x="612.4" y="91.6" width="1.4" height="1.5" fill="#f7e8c5"/>
<rect x="604.3" y="98.8" width="1.4" height="1.5" fill="#fbf1df"/>
<rect x="604.2" y="84.9" width="1.4" height="1.5" fill="#f7e7c2"/>
<rect x="606.1" y="87.3" width="1.4" height="1.5" fill="#fbf1df"/>
<rect x="611.1" y="83.6" width="1.4" height="1.5" fill="#f7e6c1"/>
<rect x="613.5" y="79.4" width="1.4" height="1.5" fill="#d4e3f0"/>
<rect x="599.3" y="97.4" width="1.4" height="1.5" fill="#dce8f2"/>
<rect x="600.8" y="102.0" width="1.4" height="1.5" fill="#dae7f2"/>
<rect x="407.7" y="84.8" width="1.4" height="1.5" fill="#fbf0dd"/>
<rect x="390.0" y="102.8" width="1.4" height="1.5" fill="#faf2e3"/>
<rect x="397.6" y="94.0" width="1.4" height="1.5" fill="#f6e5bf"/>
<rect x="400.0" y="89.4" width="1.4" height="1.5" fill="#fbf0dd"/>
<rect x="401.8" y="85.1" width="1.4" height="1.5" fill="#faedd3"/>
<rect x="386.5" y="86.8" width="1.4" height="1.5" fill="#faeed8"/>
<rect x="595.9" y="83.9" width="1.4" height="1.5" fill="#f7e7c2"/>
<rect x="594.6" y="82.6" width="1.4" height="1.5" fill="#f3deac"/>
<rect x="598.5" y="83.6" width="1.4" height="1.5" fill="#f9ecd1"/>
<rect x="583.2" y="79.5" width="1.4" height="1.5" fill="#f6e4bb"/>
<rect x="586.0" y="75.1" width="1.4" height="1.5" fill="#f7e7c2"/>
<rect x="538.5" y="96.8" width="1.4" height="1.5" fill="#e7eef5"/>
<rect x="532.3" y="100.3" width="1.4" height="1.5" fill="#ecf1f5"/>
<rect x="531.3" y="101.5" width="1.4" height="1.5" fill="#ecf1f5"/>
<rect x="489.6" y="130.9" width="1.4" height="1.5" fill="#e2ebf4"/>
<rect x="472.4" y="123.7" width="1.4" height="1.5" fill="#e5edf5"/>
<path d="M386.5 37.9L387.8 35.6L390.5 34.4L394.2 33.4L398.5 34.1L404.5 34.7L408.5 35.2L413.2 34.4L415.2 34.8L418.5 34.8L421.9 36.0L426.5 36.0L429.9 36.0L433.2 35.6L435.2 35.2L435.9 32.9L437.9 34.8L439.9 35.6L441.9 34.8L443.9 34.8L444.5 36.0L441.9 37.5L440.5 38.3L438.5 39.1L436.5 40.6L435.5 42.9L436.9 44.5L439.9 44.9L441.9 45.8L443.7 46.0L443.9 48.0L445.2 49.0L445.9 48.3L445.9 46.4L447.2 45.2L446.5 43.3L446.9 41.8L446.5 40.4L449.2 40.4L451.9 41.4L452.2 42.9L454.5 43.3L455.5 41.9L457.2 43.7L458.5 45.6L460.5 47.2L461.4 48.3L459.9 49.1L458.5 49.7L455.2 49.7L453.9 50.7L451.9 52.2L453.2 51.0L455.2 51.0L455.5 52.2L457.9 53.0L456.5 54.0L454.5 54.9L454.5 53.7L453.9 53.7L451.9 54.7L451.4 56.1L451.9 56.3L449.9 56.8L449.2 57.2L448.5 58.8L447.9 59.9L448.2 61.2L446.9 62.2L445.2 63.5L444.3 64.9L445.1 67.6L445.0 68.9L444.2 68.8L443.4 66.9L442.5 65.3L441.2 65.1L439.2 65.2L438.9 65.9L437.5 65.7L435.9 65.7L433.9 66.9L433.5 68.8L433.3 71.1L434.5 73.8L435.5 74.4L437.2 74.1L438.1 73.4L438.3 72.3L440.5 71.9L440.2 73.8L439.7 75.0L439.3 76.2L441.2 76.2L442.9 76.7L442.9 78.8L442.7 80.1L443.5 81.3L444.5 81.7L445.5 81.1L446.9 81.9L447.9 81.3L448.5 80.1L450.2 79.4L450.9 78.9L450.9 80.1L451.9 79.4L453.0 80.2L454.5 80.3L455.9 80.4L457.2 80.2L457.9 81.1L458.5 81.9L459.9 83.2L461.9 83.8L463.9 84.6L464.5 85.4L465.2 87.3L465.2 88.5L466.5 89.0L468.5 89.6L469.2 90.6L471.2 90.7L472.9 91.4L475.0 92.6L475.3 94.3L474.9 95.8L473.9 97.4L472.7 98.9L472.5 101.2L472.1 103.1L471.2 105.5L469.9 106.2L468.2 106.9L466.5 108.2L466.1 109.7L465.5 111.1L464.5 112.4L463.5 114.0L462.5 115.3L460.9 115.4L459.7 114.7L460.5 116.5L460.1 118.0L457.2 118.6L457.0 120.0L455.2 120.1L456.0 121.4L455.0 123.2L453.5 124.0L454.7 125.4L453.2 127.1L452.5 128.6L452.9 129.0L455.1 130.8L453.2 131.3L451.2 130.6L449.5 129.4L448.5 127.5L448.2 124.8L449.5 122.4L449.3 120.5L449.5 117.8L450.2 115.5L450.9 112.4L451.0 109.7L451.7 106.6L451.7 102.8L450.5 101.6L448.2 99.7L447.2 97.7L446.0 95.0L445.2 93.1L444.3 92.0L445.2 90.8L444.7 89.3L445.2 88.1L446.0 87.3L446.9 85.5L446.9 83.2L446.3 82.1L445.2 82.8L444.2 82.5L443.2 82.1L441.9 80.9L441.3 80.0L440.2 78.4L438.5 77.8L437.1 77.3L435.5 76.0L433.9 76.3L431.9 75.4L429.5 74.4L428.2 72.8L428.3 71.7L427.5 70.3L425.9 68.6L424.9 67.2L423.5 65.7L423.1 64.4L422.0 64.0L422.2 65.3L423.5 67.2L424.5 69.2L425.5 70.6L425.0 70.7L423.9 69.3L422.4 67.2L421.3 65.3L420.5 63.4L419.5 62.2L418.2 61.8L417.3 60.3L416.8 59.3L416.0 57.6L415.6 56.1L415.8 53.0L415.4 51.1L416.5 50.7L415.2 49.5L413.3 48.7L411.6 46.4L410.5 44.9L408.5 43.3L406.5 42.5L404.5 42.2L402.5 42.0L400.5 41.4L398.5 41.4L397.2 42.5L395.8 43.3L393.5 44.5L391.2 45.6L388.8 46.3L390.5 45.2L392.8 43.7L391.2 43.1L390.5 42.2L388.5 41.5L387.8 40.6L388.8 39.7L391.2 39.1L389.5 38.7L387.5 38.5L386.5 37.9ZM449.9 28.1L453.2 26.7L457.2 25.2L465.2 24.8L475.2 24.0L481.9 24.8L486.5 25.9L485.9 28.3L484.5 30.6L483.9 32.5L481.9 34.1L483.9 34.4L480.5 35.8L476.5 36.8L473.9 37.8L471.9 38.3L470.5 40.2L469.5 42.2L468.2 42.2L466.2 41.4L464.9 39.5L463.5 37.9L462.7 36.4L464.2 34.8L462.2 34.1L461.9 32.5L459.9 30.2L456.5 29.7L453.2 29.8L451.2 28.9L449.9 28.1ZM492.5 59.9L492.2 58.6L492.7 56.8L492.3 55.3L493.2 54.7L495.9 55.0L497.3 55.0L497.7 53.4L496.9 52.0L495.4 51.2L497.5 50.9L497.3 50.1L498.7 50.3L499.6 49.3L500.9 48.8L501.7 47.6L503.2 47.1L504.4 46.8L504.1 45.6L504.0 44.5L505.6 43.9L505.4 45.2L505.1 46.0L505.9 46.8L506.9 46.5L508.0 46.9L509.6 46.4L510.9 46.3L511.8 46.5L512.6 45.8L512.6 44.5L513.6 43.9L514.8 44.3L514.2 42.8L515.9 42.5L517.2 42.5L518.6 42.2L517.2 41.8L515.2 42.0L513.6 42.2L512.8 41.4L512.8 39.8L514.9 38.5L515.4 37.9L513.6 37.7L512.9 38.7L510.6 40.2L510.1 41.4L511.1 42.2L509.7 43.2L509.6 44.9L508.2 45.2L507.2 45.7L507.1 44.9L506.0 42.9L505.6 42.5L503.9 43.6L502.4 43.2L501.9 41.8L501.9 40.6L503.2 39.8L505.2 39.1L506.6 37.9L507.2 36.8L508.9 35.6L510.6 34.8L512.6 34.3L515.7 33.6L517.6 33.8L519.2 34.4L518.6 34.8L520.6 35.0L522.6 35.2L525.2 36.1L525.9 36.9L523.9 37.4L520.9 37.0L521.6 38.3L523.2 39.1L525.0 38.5L525.6 37.5L527.6 37.3L527.9 36.0L529.2 35.8L530.9 36.2L533.9 35.6L537.2 35.4L538.9 34.6L541.2 35.0L543.2 35.4L544.2 34.4L543.2 33.3L544.6 32.1L546.6 32.3L546.9 33.7L547.6 35.6L546.9 37.0L548.6 36.4L548.6 33.3L550.6 32.9L552.6 32.7L552.6 31.7L556.2 31.4L556.6 30.6L559.9 30.0L564.6 29.6L568.1 28.5L569.9 29.2L573.2 29.6L574.2 31.4L571.9 31.4L573.9 31.7L577.2 31.9L581.3 31.6L583.3 32.5L584.9 33.7L587.3 33.3L590.6 33.3L591.9 32.5L595.9 32.7L598.6 33.3L600.6 33.7L604.6 33.8L605.6 34.7L608.6 34.8L611.9 34.7L612.6 34.4L615.9 34.7L618.6 35.2L618.6 38.1L617.6 38.7L618.3 40.2L614.9 40.8L612.3 42.2L609.3 42.3L607.5 43.7L606.9 45.2L606.5 46.3L605.3 47.4L604.1 48.1L603.1 49.1L602.6 47.6L602.4 45.2L603.3 43.9L605.3 41.8L607.6 40.2L605.3 40.8L603.1 41.0L601.6 42.5L599.3 42.9L595.9 42.7L593.6 42.9L590.9 44.5L588.9 46.3L590.3 46.9L592.6 47.6L592.3 49.1L592.1 51.0L590.9 52.6L589.3 54.3L587.3 55.5L585.9 55.7L585.1 56.4L583.9 57.8L584.8 59.9L584.8 61.1L583.6 61.7L582.8 61.7L582.9 59.9L581.9 59.4L581.9 58.0L579.9 58.4L579.5 57.0L577.9 58.2L577.2 59.0L578.9 59.4L580.3 59.9L578.9 60.7L578.1 61.5L579.1 63.4L579.8 64.5L579.6 65.7L579.6 66.9L578.4 68.6L577.2 69.7L575.9 70.9L574.2 71.3L572.6 72.0L571.9 72.8L571.7 71.9L570.6 71.9L569.6 73.0L569.1 74.0L570.1 75.7L571.2 77.3L571.4 79.2L570.1 80.4L569.6 81.1L568.6 81.8L568.4 80.5L567.2 80.0L566.8 79.1L565.8 78.6L565.4 78.1L565.1 79.2L564.8 80.8L565.4 82.3L565.9 83.3L566.8 83.7L567.5 85.0L567.6 86.3L568.0 87.4L567.4 87.4L566.2 86.4L565.6 85.0L565.4 83.8L564.6 82.5L564.1 81.9L564.3 80.0L564.4 78.1L563.7 76.5L563.4 75.5L562.2 76.3L561.4 76.1L561.4 74.2L560.9 73.2L559.9 71.9L559.6 71.0L558.9 71.3L557.9 71.7L556.6 72.0L556.4 72.9L555.2 73.4L553.4 75.5L552.1 76.5L551.9 78.2L551.8 80.5L551.2 81.3L550.6 82.1L550.2 82.3L549.6 81.5L549.1 79.6L548.4 78.4L548.1 76.9L547.4 75.4L547.1 73.6L547.0 72.3L545.6 72.4L544.6 71.3L543.4 69.6L542.8 68.9L539.9 69.0L537.9 68.9L536.7 68.6L536.3 67.6L534.9 67.9L533.6 67.2L532.4 66.1L531.9 65.2L531.1 65.1L530.6 65.7L531.1 66.9L532.0 68.0L532.2 68.9L532.9 68.6L533.0 69.6L534.6 70.0L535.9 68.6L536.2 69.6L537.7 70.3L538.4 71.1L537.6 72.7L537.0 73.8L535.9 74.7L533.4 75.9L531.2 77.3L528.6 78.6L527.6 78.7L527.1 77.1L527.0 75.7L525.9 73.8L524.6 71.9L524.2 70.1L523.2 68.8L521.9 66.9L521.7 65.7L521.4 66.9L520.9 66.7L520.3 65.4L520.9 67.2L522.2 70.0L523.2 71.9L523.5 74.0L524.2 74.6L525.0 76.7L526.0 77.3L527.4 78.8L527.4 79.6L528.2 80.4L529.9 79.8L532.7 79.3L532.4 81.1L531.2 83.8L530.2 85.4L527.9 87.7L526.6 89.3L525.6 90.6L524.8 92.1L524.6 93.5L525.0 94.7L525.6 96.6L525.6 99.7L524.6 101.6L522.9 103.1L521.8 103.9L522.2 105.9L522.2 107.0L520.6 108.2L520.4 109.7L519.6 111.3L518.6 112.8L516.9 114.3L515.2 114.7L513.2 114.9L511.9 115.3L510.8 114.9L510.6 113.6L509.9 111.6L508.9 109.3L508.2 106.2L507.2 103.9L506.4 102.0L506.6 100.1L507.6 98.1L507.6 96.2L506.9 93.5L506.6 92.3L505.2 90.4L504.6 89.1L504.9 87.7L505.0 86.2L504.4 85.0L503.2 85.1L502.2 84.5L501.4 83.6L500.2 83.6L499.2 83.9L497.5 84.6L496.5 84.5L495.2 84.5L493.5 85.1L492.5 84.6L491.2 83.3L490.0 82.3L489.5 80.9L488.5 80.0L487.4 78.8L487.3 78.1L486.9 77.1L487.5 75.7L487.7 73.8L487.2 72.3L487.9 70.3L488.7 68.8L489.9 67.1L491.2 66.2L492.0 65.5L492.1 64.2L492.9 62.8L494.0 62.2L494.6 60.8L495.0 60.8L496.5 61.2L497.2 61.4L498.6 60.8L500.6 60.1L502.6 60.0L504.2 60.0L505.2 59.7L505.9 59.9L505.6 61.1L505.2 62.1L505.9 62.6L507.2 63.1L508.8 63.5L510.2 64.5L511.6 64.9L511.9 63.8L513.2 63.2L515.2 63.9L516.9 64.4L518.2 64.6L519.2 64.2L520.1 64.4L521.4 64.3L521.8 63.4L522.3 61.8L522.5 60.7L522.6 60.1L521.2 60.5L519.9 60.5L518.9 60.3L517.9 60.2L516.8 59.9L516.2 58.8L516.4 58.0L516.0 57.4L515.9 57.0L514.6 56.8L514.1 57.4L513.8 57.2L513.9 58.1L514.6 59.0L513.9 59.5L513.8 60.3L513.0 60.1L512.7 58.9L511.9 57.8L511.5 56.6L511.2 55.8L509.9 55.1L508.8 54.1L507.8 53.3L506.8 53.5L506.8 54.4L507.7 54.9L508.2 55.8L509.2 56.2L510.9 57.4L510.8 57.8L509.9 57.2L509.6 57.8L510.0 58.4L509.4 59.1L509.0 59.1L509.2 58.4L508.8 57.5L507.9 57.0L506.9 56.4L505.9 55.7L505.4 54.9L504.6 54.3L503.6 54.7L502.6 55.2L501.2 54.9L500.6 55.3L500.7 56.2L499.1 56.8L498.3 58.0L498.6 58.6L498.1 59.3L497.2 60.1L495.5 60.1L494.9 60.6L494.3 60.1L493.7 59.8L492.5 59.9ZM378.5 35.2L380.5 35.8L383.2 36.8L385.2 37.5L383.5 38.8L381.2 37.9L379.2 37.7L378.5 38.1ZM457.5 37.1L455.2 39.8L453.2 40.4L450.5 39.2L447.2 38.8L446.5 37.9L449.2 37.5L449.9 36.0L446.5 34.4L441.9 34.4L439.2 33.7L438.9 31.7L441.9 31.6L445.2 32.4L447.9 32.5L451.2 33.7L453.5 35.2L455.9 36.4ZM420.5 35.2L422.5 36.0L426.5 35.4L429.2 35.4L430.9 34.7L428.5 32.9L425.9 32.1L422.5 32.1L419.5 33.3ZM415.2 32.9L416.8 33.4L419.5 32.1L419.2 31.2L415.8 31.1ZM438.5 29.4L445.2 29.6L446.5 28.6L449.2 27.5L453.2 25.9L457.2 24.8L451.9 24.4L445.2 24.4L438.5 25.2L437.2 25.9L441.2 27.5ZM435.2 30.6L439.9 30.9L445.2 30.7L445.2 30.0L438.5 29.4ZM421.2 30.6L425.2 30.7L427.9 30.4L427.9 29.6L423.9 29.4L420.5 29.8ZM430.5 32.9L433.9 33.3L436.5 32.9L435.9 31.4L431.9 31.6ZM434.5 28.3L438.5 28.1L440.5 26.7L436.5 25.9L434.5 27.1ZM429.2 30.2L433.2 30.6L433.9 29.4L430.5 29.0L429.2 29.6ZM432.5 35.2L434.5 35.6L434.9 34.8L433.2 34.4ZM440.5 39.5L443.2 40.2L444.9 39.5L443.2 37.9L441.2 37.9ZM459.0 51.7L461.2 52.4L463.2 52.4L463.4 51.7L462.7 50.3L461.2 49.9L461.5 48.7L460.3 49.5L459.5 50.7ZM413.2 49.5L415.2 50.9L416.2 51.1L415.2 49.7ZM409.8 46.8L410.8 47.6L411.2 48.3L410.2 47.4ZM395.5 44.1L396.8 44.2L397.0 43.7L396.2 43.7ZM385.8 47.6L387.5 47.1L387.5 46.8L386.2 47.2ZM381.8 48.3L383.8 48.1L383.8 47.9L381.8 48.1ZM441.9 71.5L443.9 70.6L445.9 71.1L447.9 72.3L449.1 72.9L446.7 73.2L446.2 72.3L443.9 71.3L442.2 71.7ZM448.9 74.3L450.0 73.1L451.9 73.2L452.9 74.1L451.5 74.4L450.7 74.8ZM446.3 74.3L447.7 74.4L447.5 74.7L446.5 74.7ZM453.7 74.2L454.7 74.3L454.7 74.6L453.7 74.6ZM457.3 80.2L457.9 80.1L457.9 80.7L457.3 80.7ZM482.2 37.9L483.9 37.2L486.5 37.4L488.9 37.5L489.5 38.3L488.5 38.8L486.2 39.5L483.5 39.1L482.5 38.5ZM494.9 49.8L496.2 49.6L497.9 49.3L499.4 49.0L499.1 48.7L499.7 47.8L498.8 47.6L498.4 46.8L497.5 46.0L497.2 45.2L496.9 44.1L496.2 43.2L495.2 43.2L494.5 44.1L494.9 45.2L495.3 46.0L496.3 46.2L496.5 47.2L495.5 47.4L495.7 48.2L495.1 48.5L496.2 48.7L495.5 49.1ZM491.9 48.3L492.2 48.7L494.3 48.2L494.5 47.2L494.9 46.4L494.2 45.9L493.1 45.9L491.9 46.6L492.2 47.4ZM505.9 27.1L507.9 28.6L509.9 29.3L511.2 27.9L513.2 28.0L515.2 26.7L511.9 26.3L507.9 26.7ZM512.6 27.5L515.9 27.6L516.6 26.7L513.2 26.7ZM532.9 33.3L533.9 33.9L536.6 34.0L535.9 32.1L538.6 30.6L542.6 29.4L544.6 29.0L541.9 29.8L537.2 31.0L534.6 32.1ZM561.9 27.5L565.2 28.3L568.6 27.9L567.2 26.7L563.2 25.9ZM589.9 30.6L593.9 31.7L598.6 30.6L595.3 29.8L590.6 29.8ZM531.9 26.3L538.6 26.3L539.9 25.6L533.2 25.6ZM617.6 33.7L618.6 33.8L618.6 33.3L617.6 33.3ZM593.3 53.0L594.3 52.4L593.9 50.7L594.9 50.5L594.1 48.3L593.9 46.8L593.3 47.2L593.3 49.9ZM591.9 56.4L592.7 56.5L594.1 56.1L595.6 55.1L595.3 54.3L593.3 53.4L592.9 54.9L592.1 55.3ZM585.3 64.4L585.9 64.3L586.6 63.0L587.3 62.8L588.3 62.4L589.1 62.6L589.9 61.8L591.3 61.7L591.9 61.3L592.5 60.7L592.6 59.1L593.3 58.0L592.9 56.6L591.9 57.0L591.8 58.4L590.9 59.7L589.9 59.9L589.3 60.9L587.3 61.1L585.9 61.8L585.3 62.6L584.9 63.2ZM578.7 70.7L579.1 71.5L579.6 70.3L579.8 69.2L579.3 69.2ZM571.0 73.7L571.6 74.4L572.2 74.0L572.6 73.3L571.9 73.0ZM551.8 82.3L551.9 83.7L552.6 83.8L553.2 82.8L552.6 81.7L551.9 81.0ZM578.8 76.1L578.9 74.3L579.9 74.2L580.1 75.7L579.7 77.5L581.3 78.4L581.3 78.8L580.3 78.1L579.3 77.9L578.8 77.1ZM579.9 83.1L580.9 82.7L581.3 81.9L582.3 81.0L582.9 81.9L582.8 83.5L582.3 84.1L581.4 83.7ZM579.9 80.4L580.6 79.6L581.6 79.8L582.3 78.9L582.4 80.0L581.9 80.8L580.9 81.3L580.3 81.0ZM576.8 81.9L578.2 80.4L578.4 79.8L577.6 80.8ZM571.2 87.3L571.6 88.5L571.9 89.6L572.2 90.8L573.9 91.0L574.9 91.6L575.9 91.4L576.2 90.0L576.9 88.1L577.2 86.8L577.0 85.2L577.9 84.5L576.6 83.1L575.9 83.6L574.9 84.8L573.9 86.0L572.8 86.5L572.6 87.3ZM562.1 84.2L563.6 84.5L564.6 85.6L565.6 86.8L566.6 87.7L567.6 88.5L568.2 89.9L569.2 90.8L569.2 93.0L568.4 93.0L567.2 92.2L566.2 90.8L565.4 89.3L564.6 88.1L564.2 86.9L563.2 85.9ZM568.8 93.7L569.6 93.1L570.9 93.6L572.4 93.5L573.7 93.9L574.9 94.5L574.9 95.1L573.6 94.9L571.9 94.7L570.6 94.4L569.6 94.2ZM575.9 95.0L576.9 94.9L577.9 95.0L579.3 95.0L580.6 94.9L580.6 95.3L578.6 95.6L576.6 95.4L575.9 95.4ZM580.9 96.4L581.9 95.2L583.3 95.0L582.9 95.4L581.6 96.4ZM578.2 92.7L578.2 91.2L577.9 89.3L578.6 87.9L579.9 87.7L581.9 87.2L581.6 88.2L579.6 88.1L578.7 88.5L579.3 89.3L580.8 89.2L579.8 89.9L580.3 91.2L580.6 92.0L580.1 92.3L579.6 92.0L579.3 90.6L578.9 90.8L578.9 92.8ZM583.6 87.7L583.9 86.9L584.4 87.7L583.9 89.1L583.7 88.5ZM583.9 91.0L585.8 90.8L585.6 91.3L584.1 91.2ZM585.9 89.1L586.9 88.8L587.9 89.1L588.1 90.4L588.9 91.0L590.3 89.7L591.6 90.2L592.9 90.6L594.9 91.4L595.9 92.6L596.9 93.1L596.8 93.9L597.9 95.4L598.9 96.6L597.3 96.4L596.3 95.3L594.9 94.4L594.3 95.3L592.9 95.6L591.6 94.7L590.6 94.9L590.6 93.9L591.1 93.5L590.3 92.5L588.6 91.9L587.3 91.6L587.1 91.0L586.3 90.6L587.6 90.3L586.6 90.0ZM597.6 92.9L598.9 92.7L599.9 91.7L600.1 92.3L599.1 93.3L597.9 93.3ZM599.1 90.6L600.3 91.4L600.6 92.0L600.1 91.5ZM602.6 93.9L603.9 94.7L605.6 95.8L605.3 96.0L603.6 94.9ZM609.6 100.1L610.1 100.4L610.5 101.2L609.9 100.8ZM607.9 104.1L608.9 104.7L609.9 105.7L609.4 105.7L608.3 104.7ZM616.8 102.0L617.7 102.1L617.6 102.5L616.8 102.5ZM574.2 105.9L574.4 108.9L575.2 111.6L575.7 113.2L575.2 115.0L577.2 115.5L578.6 114.7L580.9 114.7L582.6 113.4L584.6 112.9L586.1 112.8L587.9 113.7L588.9 115.3L589.3 114.7L590.3 114.0L590.5 115.9L591.6 116.2L592.3 117.8L594.3 118.4L596.1 118.6L597.3 117.7L598.6 117.3L598.9 115.5L599.6 114.0L600.6 112.0L600.9 110.1L600.6 108.2L599.3 106.9L598.3 105.6L597.5 103.9L596.1 103.1L595.9 102.0L595.5 100.1L594.5 99.5L594.1 97.7L593.6 96.8L593.1 98.5L592.9 100.4L592.5 102.0L591.6 102.0L590.3 100.8L588.9 100.1L589.7 98.0L588.6 97.9L586.9 97.4L585.9 98.0L585.1 99.9L584.1 99.9L583.3 99.3L582.3 99.7L581.3 101.1L580.1 101.8L580.1 102.8L578.9 103.8L577.2 104.2L575.9 104.7L574.8 105.3ZM595.1 119.9L596.3 120.2L597.5 120.1L597.3 121.7L596.3 122.1L595.5 121.3ZM613.7 115.1L614.8 116.3L615.6 116.8L615.9 117.5L617.5 117.6L617.1 118.7L616.5 119.6L615.5 120.6L615.1 120.3L615.3 119.4L614.5 118.8L615.1 117.8L614.9 116.9L613.9 115.7ZM613.7 119.8L614.8 120.5L613.9 121.9L612.8 122.7L612.4 123.9L611.3 124.5L610.3 124.1L609.6 123.8L610.8 122.4L612.3 121.5L613.3 120.1ZM531.4 97.7L532.2 100.4L531.6 102.0L530.9 104.7L529.9 107.8L528.8 108.2L527.7 106.6L527.4 105.1L528.2 103.8L527.9 102.0L528.6 100.8L529.9 100.1L530.6 98.9ZM457.9 128.2L459.9 128.2L459.5 128.8L458.2 128.8ZM473.2 130.2L474.5 130.4L474.5 130.8L473.5 130.5ZM544.4 126.3L545.4 126.3L545.4 126.8L544.6 126.8ZM394.5 72.9L395.2 73.2L394.8 73.8L394.5 73.4ZM393.0 71.8L393.4 72.0L393.2 72.1ZM437.5 88.7L438.0 88.9L437.9 89.3L437.5 89.2ZM506.9 59.1L509.0 59.0L508.6 60.1L506.9 59.5ZM504.0 58.4L505.0 58.2L505.0 56.8L504.1 57.0ZM504.4 56.4L504.9 56.1L504.8 55.3L504.4 55.7ZM514.3 61.1L516.0 61.2L515.9 61.5L514.3 61.3ZM520.1 61.5L521.6 61.0L520.9 61.7ZM534.1 78.8L534.9 78.8L534.6 79.0ZM505.9 45.5L507.0 45.2L506.8 46.0L506.0 45.9ZM510.7 44.5L511.2 43.8L511.1 44.3ZM595.9 54.1L597.6 53.4L597.3 53.1L595.9 53.7ZM598.6 53.0L599.9 52.0L599.7 51.9L598.6 52.7ZM527.4 97.4L527.6 97.5L527.4 97.7ZM535.4 104.7L535.8 104.8L535.6 105.0ZM536.8 103.9L537.1 104.1L536.9 104.3ZM487.3 66.6L487.7 66.5L487.5 66.9ZM482.7 76.7L482.9 76.9L482.8 77.0ZM504.2 85.6L504.5 85.7L504.4 86.0ZM560.4 78.1L560.6 79.2L560.4 79.6L560.2 78.8ZM451.5 129.2L452.9 129.2L454.9 130.6L453.9 131.1L451.9 130.8L450.9 130.2ZM449.1 120.9L449.5 120.9L449.5 122.0L449.0 121.8ZM449.2 57.1L450.5 56.8L450.5 57.0ZM455.9 52.4L457.2 52.7L456.9 53.0L455.9 52.7ZM455.5 50.0L457.3 50.5L456.9 50.6ZM446.2 67.9L446.9 68.0L447.1 68.4L446.5 68.1ZM446.5 69.4L446.7 70.0L446.5 70.1ZM416.5 29.8L419.2 30.0L421.2 29.0L419.2 28.6L417.2 29.0ZM428.5 28.3L431.9 28.4L432.5 27.6L429.9 27.3ZM433.2 28.4L434.9 28.4L434.9 27.7L433.5 27.7ZM434.2 30.7L436.2 30.8L436.2 30.2L434.5 30.1ZM444.5 32.1L447.2 32.3L447.5 31.7L445.2 31.5ZM446.9 36.5L448.2 36.5L448.2 35.8L447.0 35.8ZM442.9 40.2L444.2 40.4L445.2 40.0L443.5 39.8ZM444.9 40.8L445.7 40.8L445.5 40.3L445.0 40.3ZM443.9 47.6L444.9 47.7L444.9 47.4L444.0 47.3ZM430.5 32.7L433.2 33.3L434.2 32.3L432.5 31.4L430.5 32.0ZM422.5 28.8L425.2 28.8L425.2 28.3L422.5 28.3ZM427.5 32.0L428.9 32.1L428.9 31.5L427.9 31.5ZM445.2 45.2L445.9 45.4L445.9 44.8L445.2 44.8ZM530.8 35.2L531.8 35.4L531.9 35.0L531.1 34.8ZM537.6 34.4L538.9 34.7L538.6 34.1L537.8 34.1ZM565.2 28.1L568.2 28.4L568.6 27.6L565.9 27.3ZM590.3 30.3L592.6 30.7L592.6 29.8L590.6 29.8ZM591.9 31.9L593.9 32.0L593.9 31.5L592.3 31.5ZM607.5 43.3L608.3 42.9L607.9 42.7L607.5 42.9ZM384.0 39.6L385.8 39.8L386.0 39.5L384.2 39.2ZM387.0 42.2L388.0 42.3L388.0 41.9L387.2 41.9ZM461.9 34.8L463.9 35.0L463.9 34.2L462.2 34.2ZM493.5 40.8L494.2 40.8L494.2 40.4L493.7 40.4ZM497.5 42.2L497.9 42.2L497.9 41.5L497.5 41.7ZM493.5 44.5L494.3 44.1L494.4 43.4L493.7 43.5ZM500.2 58.1L500.8 58.1L500.8 57.7L500.2 57.8ZM582.7 62.8L583.2 62.8L583.2 62.5L582.7 62.6ZM583.7 68.3L584.1 67.9L583.9 67.7ZM578.9 78.1L579.6 78.2L579.5 79.0L579.1 78.8ZM581.5 78.8L582.3 78.8L582.4 79.8L581.8 79.8ZM580.2 80.8L580.8 80.1L580.8 81.4L580.3 81.3ZM578.4 94.9L580.5 94.7L580.5 95.3L578.4 95.3ZM577.9 95.7L579.1 96.0L578.9 96.4L578.0 96.0ZM582.6 90.9L583.4 91.0L583.3 91.4L582.7 91.3ZM588.1 92.7L588.5 92.8L588.4 93.7L588.1 93.6ZM585.9 94.1L586.4 94.0L586.3 94.7L586.0 94.6ZM601.7 92.7L602.5 93.3L602.4 93.7L601.8 93.1ZM589.7 116.0L590.6 116.0L590.6 116.3L589.7 116.3ZM585.5 97.3L586.3 97.2L586.3 97.6L585.5 97.6ZM589.5 99.1L589.9 99.1L589.9 99.5L589.5 99.5ZM524.7 93.0L524.9 93.0L524.9 93.4L524.7 93.4ZM610.3 124.6L610.7 124.6L610.7 124.9L610.3 124.9ZM380.6 122.3L381.0 122.3L381.0 122.5ZM464.7 88.6L466.2 88.7L466.1 89.6L464.9 89.6ZM448.3 126.2L448.9 126.1L448.9 126.9L448.3 126.8ZM517.2 56.4L517.7 54.5L518.4 53.6L518.9 52.8L519.9 52.6L520.6 53.0L520.9 54.1L521.9 54.0L522.9 53.5L522.1 52.7L523.6 52.2L524.6 52.0L524.1 52.8L523.6 54.0L524.9 54.7L526.2 55.5L526.2 56.4L524.9 56.8L523.2 56.7L522.0 56.1L520.9 56.1L519.2 56.7L517.9 56.7ZM529.9 53.4L531.2 52.6L532.9 52.4L533.9 52.7L533.9 53.7L532.6 54.1L532.2 55.3L533.6 56.4L534.4 57.0L533.9 58.4L534.6 59.5L533.2 60.1L531.9 59.7L531.2 58.8L531.6 57.4L530.6 56.1L530.1 54.9ZM437.2 52.4L439.2 51.4L441.2 51.4L442.1 52.4L440.5 52.6L438.5 52.4ZM440.0 56.1L441.0 56.1L441.2 54.1L442.0 53.1L440.9 53.3L440.1 54.5ZM442.2 53.0L444.2 53.1L445.2 54.0L444.1 55.1L443.5 55.3L442.9 54.5ZM443.0 56.3L445.9 55.5L445.5 55.3L443.5 55.8ZM445.4 55.1L447.7 54.9L447.5 54.4L445.7 54.7ZM432.5 49.5L434.2 49.5L433.5 46.9L432.5 47.6ZM420.5 41.4L423.2 41.4L425.9 40.1L424.5 39.9L422.2 40.6ZM416.5 38.3L418.5 38.3L419.9 37.1L418.2 36.8L415.8 37.5ZM424.2 43.2L427.9 42.7L427.5 42.5L424.5 42.8ZM519.9 88.7L521.2 88.3L521.4 90.4L519.9 90.6L519.7 89.6ZM518.0 91.2L519.1 95.1L518.8 95.1L517.9 92.3ZM521.2 95.9L521.9 97.7L521.9 99.5L521.6 99.3L521.4 97.4ZM567.9 48.7L569.2 48.3L571.6 46.0L571.8 45.4L570.9 46.0L568.9 47.8ZM537.6 54.5L538.9 54.7L539.6 53.4L538.6 52.4L537.7 53.2ZM547.6 53.4L549.2 52.6L551.2 52.4L550.9 52.8L548.6 53.7ZM518.9 42.2L520.4 41.9L520.2 41.0L518.9 41.2ZM521.6 41.4L522.6 41.4L522.2 40.2L521.6 40.4ZM506.9 43.3L507.9 43.2L507.8 42.7L507.1 42.8ZM507.6 78.7L508.4 78.7L508.4 77.9L507.7 77.9ZM451.9 100.3L452.5 100.6L452.5 101.1L451.9 100.8ZM441.2 79.8L441.9 79.8L441.9 79.2L441.3 79.2ZM522.4 86.5L523.0 86.5L522.8 85.0L522.5 85.0ZM549.4 55.8L550.8 55.9L550.8 55.4L549.6 55.5ZM429.9 44.9L430.9 44.9L430.9 43.7L430.0 43.7ZM450.5 37.5L452.2 37.5L451.9 36.8L450.5 36.9Z" fill="none" stroke="#000" stroke-width="0.85" stroke-linejoin="round"/>
<path d="M431.3 40.9h1v1h-1zM520.4 40.9h1v1h-1zM523.1 40.9h1v1h-1zM525.8 40.9h1v1h-1zM536.6 40.9h1v1h-1zM544.7 40.9h1v1h-1zM550.1 40.9h1v1h-1zM560.9 40.9h1v1h-1zM520.4 43.5h1v1h-1zM523.1 43.5h1v1h-1zM528.5 43.5h1v1h-1zM533.9 43.5h1v1h-1zM542.0 43.5h1v1h-1zM544.7 43.5h1v1h-1zM560.9 43.5h1v1h-1zM563.6 43.5h1v1h-1zM569.0 43.5h1v1h-1zM574.4 43.5h1v1h-1zM577.1 43.5h1v1h-1zM579.8 43.5h1v1h-1zM585.2 43.5h1v1h-1zM587.9 43.5h1v1h-1zM496.1 46.0h1v1h-1zM504.2 46.0h1v1h-1zM506.9 46.0h1v1h-1zM509.6 46.0h1v1h-1zM515.0 46.0h1v1h-1zM517.7 46.0h1v1h-1zM523.1 46.0h1v1h-1zM569.0 46.0h1v1h-1zM571.7 46.0h1v1h-1zM574.4 46.0h1v1h-1zM577.1 46.0h1v1h-1zM579.8 46.0h1v1h-1zM582.5 46.0h1v1h-1zM585.2 46.0h1v1h-1zM587.9 46.0h1v1h-1zM496.1 48.6h1v1h-1zM498.8 48.6h1v1h-1zM501.5 48.6h1v1h-1zM504.2 48.6h1v1h-1zM506.9 48.6h1v1h-1zM509.6 48.6h1v1h-1zM512.3 48.6h1v1h-1zM515.0 48.6h1v1h-1zM517.7 48.6h1v1h-1zM520.4 48.6h1v1h-1zM523.1 48.6h1v1h-1zM525.8 48.6h1v1h-1zM569.0 48.6h1v1h-1zM571.7 48.6h1v1h-1zM574.4 48.6h1v1h-1zM579.8 48.6h1v1h-1zM585.2 48.6h1v1h-1zM587.9 48.6h1v1h-1zM496.1 51.1h1v1h-1zM501.5 51.1h1v1h-1zM504.2 51.1h1v1h-1zM506.9 51.1h1v1h-1zM509.6 51.1h1v1h-1zM512.3 51.1h1v1h-1zM515.0 51.1h1v1h-1zM517.7 51.1h1v1h-1zM520.4 51.1h1v1h-1zM523.1 51.1h1v1h-1zM525.8 51.1h1v1h-1zM569.0 51.1h1v1h-1zM571.7 51.1h1v1h-1zM579.8 51.1h1v1h-1zM582.5 51.1h1v1h-1zM585.2 51.1h1v1h-1zM498.8 53.7h1v1h-1zM504.2 53.7h1v1h-1zM506.9 53.7h1v1h-1zM509.6 53.7h1v1h-1zM512.3 53.7h1v1h-1zM515.0 53.7h1v1h-1zM523.1 53.7h1v1h-1zM525.8 53.7h1v1h-1zM436.7 56.2h1v1h-1zM439.4 56.2h1v1h-1zM444.8 56.2h1v1h-1zM447.5 56.2h1v1h-1zM428.6 58.8h1v1h-1zM436.7 58.8h1v1h-1zM439.4 58.8h1v1h-1zM442.1 58.8h1v1h-1zM444.8 58.8h1v1h-1zM447.5 58.8h1v1h-1zM428.6 61.3h1v1h-1zM431.3 61.3h1v1h-1zM436.7 61.3h1v1h-1zM439.4 61.3h1v1h-1zM442.1 61.3h1v1h-1zM447.5 61.3h1v1h-1zM428.6 63.9h1v1h-1zM439.4 63.9h1v1h-1zM552.8 66.4h1v1h-1zM558.2 66.4h1v1h-1zM560.9 66.4h1v1h-1zM574.4 66.4h1v1h-1zM547.4 69.0h1v1h-1zM550.1 69.0h1v1h-1zM552.8 69.0h1v1h-1zM555.5 69.0h1v1h-1zM558.2 69.0h1v1h-1zM560.9 69.0h1v1h-1zM574.4 69.0h1v1h-1zM547.4 71.5h1v1h-1zM550.1 71.5h1v1h-1zM555.5 71.5h1v1h-1zM563.6 71.5h1v1h-1zM436.7 74.1h1v1h-1zM490.7 74.1h1v1h-1zM493.4 74.1h1v1h-1zM498.8 74.1h1v1h-1zM501.5 74.1h1v1h-1zM504.2 74.1h1v1h-1zM506.9 74.1h1v1h-1zM509.6 74.1h1v1h-1zM512.3 74.1h1v1h-1zM517.7 74.1h1v1h-1zM520.4 74.1h1v1h-1zM547.4 74.1h1v1h-1zM552.8 74.1h1v1h-1zM563.6 74.1h1v1h-1zM434.0 76.6h1v1h-1zM436.7 76.6h1v1h-1zM439.4 76.6h1v1h-1zM490.7 76.6h1v1h-1zM498.8 76.6h1v1h-1zM506.9 76.6h1v1h-1zM515.0 76.6h1v1h-1zM517.7 76.6h1v1h-1zM520.4 76.6h1v1h-1zM563.6 76.6h1v1h-1zM569.0 76.6h1v1h-1zM447.5 79.2h1v1h-1zM488.0 79.2h1v1h-1zM490.7 79.2h1v1h-1zM493.4 79.2h1v1h-1zM496.1 79.2h1v1h-1zM498.8 79.2h1v1h-1zM501.5 79.2h1v1h-1zM504.2 79.2h1v1h-1zM506.9 79.2h1v1h-1zM509.6 79.2h1v1h-1zM512.3 79.2h1v1h-1zM515.0 79.2h1v1h-1zM517.7 79.2h1v1h-1zM569.0 79.2h1v1h-1zM579.8 79.2h1v1h-1zM442.1 81.7h1v1h-1zM444.8 81.7h1v1h-1zM447.5 81.7h1v1h-1zM490.7 81.7h1v1h-1zM493.4 81.7h1v1h-1zM496.1 81.7h1v1h-1zM498.8 81.7h1v1h-1zM504.2 81.7h1v1h-1zM506.9 81.7h1v1h-1zM509.6 81.7h1v1h-1zM512.3 81.7h1v1h-1zM515.0 81.7h1v1h-1zM517.7 81.7h1v1h-1zM520.4 81.7h1v1h-1zM569.0 81.7h1v1h-1zM579.8 81.7h1v1h-1zM447.5 84.3h1v1h-1zM506.9 84.3h1v1h-1zM509.6 84.3h1v1h-1zM517.7 84.3h1v1h-1zM566.3 84.3h1v1h-1zM458.3 86.8h1v1h-1zM461.0 86.8h1v1h-1zM504.2 86.8h1v1h-1zM506.9 86.8h1v1h-1zM509.6 86.8h1v1h-1zM512.3 86.8h1v1h-1zM515.0 86.8h1v1h-1zM517.7 86.8h1v1h-1zM520.4 86.8h1v1h-1zM563.6 86.8h1v1h-1zM566.3 86.8h1v1h-1zM571.7 86.8h1v1h-1zM574.4 86.8h1v1h-1zM579.8 86.8h1v1h-1zM455.6 89.4h1v1h-1zM458.3 89.4h1v1h-1zM463.7 89.4h1v1h-1zM466.4 89.4h1v1h-1zM504.2 89.4h1v1h-1zM506.9 89.4h1v1h-1zM512.3 89.4h1v1h-1zM517.7 89.4h1v1h-1zM523.1 89.4h1v1h-1zM566.3 89.4h1v1h-1zM571.7 89.4h1v1h-1zM574.4 89.4h1v1h-1zM577.1 89.4h1v1h-1zM579.8 89.4h1v1h-1zM452.9 91.9h1v1h-1zM455.6 91.9h1v1h-1zM458.3 91.9h1v1h-1zM461.0 91.9h1v1h-1zM463.7 91.9h1v1h-1zM466.4 91.9h1v1h-1zM469.1 91.9h1v1h-1zM512.3 91.9h1v1h-1zM515.0 91.9h1v1h-1zM517.7 91.9h1v1h-1zM520.4 91.9h1v1h-1zM566.3 91.9h1v1h-1zM577.1 91.9h1v1h-1zM579.8 91.9h1v1h-1zM455.6 94.5h1v1h-1zM458.3 94.5h1v1h-1zM461.0 94.5h1v1h-1zM463.7 94.5h1v1h-1zM466.4 94.5h1v1h-1zM469.1 94.5h1v1h-1zM471.8 94.5h1v1h-1zM509.6 94.5h1v1h-1zM520.4 94.5h1v1h-1zM455.6 97.0h1v1h-1zM458.3 97.0h1v1h-1zM461.0 97.0h1v1h-1zM463.7 97.0h1v1h-1zM466.4 97.0h1v1h-1zM469.1 97.0h1v1h-1zM471.8 97.0h1v1h-1zM509.6 97.0h1v1h-1zM512.3 97.0h1v1h-1zM515.0 97.0h1v1h-1zM517.7 97.0h1v1h-1zM520.4 97.0h1v1h-1zM455.6 99.6h1v1h-1zM458.3 99.6h1v1h-1zM461.0 99.6h1v1h-1zM463.7 99.6h1v1h-1zM469.1 99.6h1v1h-1zM471.8 99.6h1v1h-1zM512.3 99.6h1v1h-1zM517.7 99.6h1v1h-1zM455.6 102.1h1v1h-1zM461.0 102.1h1v1h-1zM463.7 102.1h1v1h-1zM466.4 102.1h1v1h-1zM469.1 102.1h1v1h-1zM509.6 102.1h1v1h-1zM512.3 102.1h1v1h-1zM515.0 102.1h1v1h-1zM520.4 102.1h1v1h-1zM579.8 102.1h1v1h-1zM585.2 102.1h1v1h-1zM590.6 102.1h1v1h-1zM593.3 102.1h1v1h-1zM596.0 102.1h1v1h-1zM455.6 104.7h1v1h-1zM458.3 104.7h1v1h-1zM461.0 104.7h1v1h-1zM463.7 104.7h1v1h-1zM466.4 104.7h1v1h-1zM469.1 104.7h1v1h-1zM512.3 104.7h1v1h-1zM517.7 104.7h1v1h-1zM577.1 104.7h1v1h-1zM579.8 104.7h1v1h-1zM582.5 104.7h1v1h-1zM585.2 104.7h1v1h-1zM587.9 104.7h1v1h-1zM590.6 104.7h1v1h-1zM593.3 104.7h1v1h-1zM596.0 104.7h1v1h-1zM515.0 107.2h1v1h-1zM517.7 107.2h1v1h-1zM577.1 107.2h1v1h-1zM582.5 107.2h1v1h-1zM585.2 107.2h1v1h-1zM593.3 107.2h1v1h-1zM596.0 107.2h1v1h-1zM577.1 109.8h1v1h-1zM582.5 109.8h1v1h-1zM585.2 109.8h1v1h-1zM587.9 109.8h1v1h-1zM593.3 109.8h1v1h-1zM577.1 112.3h1v1h-1zM579.8 112.3h1v1h-1zM582.5 112.3h1v1h-1zM585.2 112.3h1v1h-1zM587.9 112.3h1v1h-1zM590.6 112.3h1v1h-1zM577.1 114.9h1v1h-1zM587.9 114.9h1v1h-1zM596.0 114.9h1v1h-1z" fill="#1a1a1a"/>
<path d="M378.5 19.0V134.8H618.6V19.0" fill="none" stroke="#2a2a2a" stroke-width="0.9"/>
<path d="M378.0 19.0H619.1" fill="none" stroke="#505050" stroke-width="1.4"/>
<g>
<path fill="#5a3306" d="M237.2 187.6h4.2v1.7h-4.2zM82.0 189.1h1.5v1.7h-1.5zM87.3 189.1h1.5v1.7h-1.5zM80.7 190.7h1.5v1.7h-1.5zM87.3 190.7h2.8v1.7h-2.8zM87.3 192.2h5.5v1.7h-5.5zM80.7 193.8h1.5v1.7h-1.5zM88.7 193.8h2.8v1.7h-2.8zM84.7 195.3h1.5v1.7h-1.5zM88.7 195.3h2.8v1.7h-2.8zM226.5 198.4h1.5v1.7h-1.5zM225.2 200.0h9.5v1.7h-9.5zM237.2 200.0h1.5v1.7h-1.5zM233.2 201.5h1.5v1.7h-1.5zM82.0 203.0h2.8v1.7h-2.8zM100.7 203.0h1.5v1.7h-1.5zM79.3 204.6h4.2v1.7h-4.2zM90.0 204.6h1.5v1.7h-1.5zM100.7 204.6h1.5v1.7h-1.5zM154.3 204.6h1.5v1.7h-1.5zM79.3 206.1h2.8v1.7h-2.8zM100.7 206.1h1.5v1.7h-1.5zM238.6 206.1h1.5v1.7h-1.5zM79.3 207.7h1.5v1.7h-1.5zM100.7 207.7h1.5v1.7h-1.5zM238.6 207.7h1.5v1.7h-1.5zM100.7 209.2h1.5v1.7h-1.5zM197.1 212.3h2.8v1.7h-2.8zM225.2 218.5h1.5v1.7h-1.5zM210.5 220.0h4.2v1.7h-4.2zM225.2 220.0h1.5v1.7h-1.5zM210.5 221.6h4.2v1.7h-4.2zM131.5 243.2h2.8v1.7h-2.8zM131.5 244.8h2.8v1.7h-2.8zM182.4 244.8h1.5v1.7h-1.5zM182.4 246.3h1.5v1.7h-1.5zM241.2 254.0h1.5v1.7h-1.5zM245.3 254.0h1.5v1.7h-1.5zM247.9 254.0h1.5v1.7h-1.5zM252.0 254.0h1.5v1.7h-1.5zM242.6 255.6h6.8v1.7h-6.8zM245.3 257.1h1.5v1.7h-1.5zM247.9 257.1h5.5v1.7h-5.5zM249.3 258.7h4.2v1.7h-4.2zM115.4 266.4h1.5v1.7h-1.5zM114.1 267.9h2.8v1.7h-2.8z"/>
<path fill="#673c08" d="M80.7 189.1h1.5v1.7h-1.5zM94.0 190.7h1.5v1.7h-1.5zM96.7 195.3h1.5v1.7h-1.5zM231.9 201.5h1.5v1.7h-1.5zM83.3 204.6h1.5v1.7h-1.5zM190.4 209.2h1.5v1.7h-1.5zM100.7 210.8h1.5v1.7h-1.5zM186.4 230.9h1.5v1.7h-1.5zM242.6 254.0h2.8v1.7h-2.8zM246.6 254.0h1.5v1.7h-1.5zM249.3 254.0h1.5v1.7h-1.5zM243.9 257.1h1.5v1.7h-1.5zM246.6 257.1h1.5v1.7h-1.5zM115.4 269.5h1.5v1.7h-1.5z"/>
<path fill="#75440a" d="M241.2 187.6h1.5v1.7h-1.5zM88.7 189.1h1.5v1.7h-1.5zM230.5 201.5h1.5v1.7h-1.5zM90.0 206.1h1.5v1.7h-1.5zM80.7 207.7h1.5v1.7h-1.5zM198.4 210.8h1.5v1.7h-1.5zM223.9 218.5h1.5v1.7h-1.5zM209.1 221.6h1.5v1.7h-1.5zM185.0 229.3h1.5v1.7h-1.5zM239.9 254.0h1.5v1.7h-1.5zM249.3 255.6h1.5v1.7h-1.5z"/>
<path fill="#824e0c" d="M90.0 190.7h1.5v1.7h-1.5zM190.4 192.2h1.5v1.7h-1.5zM91.4 193.8h1.5v1.7h-1.5zM86.0 195.3h1.5v1.7h-1.5zM227.9 198.4h1.5v1.7h-1.5zM235.9 200.0h1.5v1.7h-1.5zM229.2 201.5h1.5v1.7h-1.5zM167.6 203.0h1.5v1.7h-1.5zM82.0 206.1h2.8v1.7h-2.8zM158.3 206.1h1.5v1.7h-1.5zM239.9 206.1h1.5v1.7h-1.5zM189.1 209.2h1.5v1.7h-1.5zM197.1 210.8h1.5v1.7h-1.5zM195.7 212.3h1.5v1.7h-1.5zM211.8 218.5h1.5v1.7h-1.5zM223.9 220.0h1.5v1.7h-1.5zM183.7 249.4h1.5v1.7h-1.5zM250.6 254.0h1.5v1.7h-1.5zM241.2 255.6h1.5v1.7h-1.5zM252.0 255.6h2.8v1.7h-2.8zM177.0 257.1h1.5v1.7h-1.5z"/>
<path fill="#8e570e" d="M86.0 189.1h1.5v1.7h-1.5zM83.3 195.3h1.5v1.7h-1.5zM235.9 198.4h2.8v1.7h-2.8zM169.0 201.5h1.5v1.7h-1.5zM154.3 203.0h1.5v1.7h-1.5zM91.4 204.6h1.5v1.7h-1.5zM155.6 204.6h2.8v1.7h-2.8zM83.3 207.7h1.5v1.7h-1.5zM195.7 210.8h1.5v1.7h-1.5zM199.8 212.3h1.5v1.7h-1.5zM209.1 220.0h1.5v1.7h-1.5zM131.5 238.6h1.5v1.7h-1.5zM182.4 243.2h1.5v1.7h-1.5zM183.7 246.3h1.5v1.7h-1.5zM183.7 250.9h1.5v1.7h-1.5zM252.0 252.5h1.5v1.7h-1.5zM247.9 258.7h1.5v1.7h-1.5zM249.3 260.2h1.5v1.7h-1.5zM238.6 261.8h1.5v1.7h-1.5zM116.8 266.4h1.5v1.7h-1.5z"/>
<path fill="#9a6011" d="M191.7 192.2h1.5v1.7h-1.5zM189.1 193.8h2.8v1.7h-2.8zM80.7 195.3h1.5v1.7h-1.5zM98.0 195.3h1.5v1.7h-1.5zM90.0 198.4h1.5v1.7h-1.5zM238.6 200.0h1.5v1.7h-1.5zM83.3 201.5h1.5v1.7h-1.5zM167.6 201.5h1.5v1.7h-1.5zM80.7 203.0h1.5v1.7h-1.5zM169.0 203.0h1.5v1.7h-1.5zM87.3 204.6h2.8v1.7h-2.8zM91.4 206.1h1.5v1.7h-1.5zM154.3 206.1h1.5v1.7h-1.5zM82.0 207.7h1.5v1.7h-1.5zM84.7 207.7h1.5v1.7h-1.5zM99.4 210.8h1.5v1.7h-1.5zM102.1 210.8h1.5v1.7h-1.5zM190.4 210.8h1.5v1.7h-1.5zM91.4 213.9h1.5v1.7h-1.5zM91.4 215.4h1.5v1.7h-1.5zM185.0 230.9h1.5v1.7h-1.5zM130.2 244.8h1.5v1.7h-1.5zM182.4 247.9h1.5v1.7h-1.5zM132.8 249.4h1.5v1.7h-1.5zM247.9 252.5h1.5v1.7h-1.5zM177.0 255.6h1.5v1.7h-1.5zM116.8 257.1h1.5v1.7h-1.5zM253.3 257.1h1.5v1.7h-1.5zM250.6 260.2h1.5v1.7h-1.5z"/>
<path fill="#a76d18" d="M94.0 189.1h1.5v1.7h-1.5zM189.1 192.2h1.5v1.7h-1.5zM82.0 193.8h1.5v1.7h-1.5zM83.3 196.9h1.5v1.7h-1.5zM96.7 196.9h1.5v1.7h-1.5zM179.7 196.9h1.5v1.7h-1.5zM80.7 198.4h1.5v1.7h-1.5zM179.7 198.4h1.5v1.7h-1.5zM238.6 198.4h1.5v1.7h-1.5zM82.0 201.5h1.5v1.7h-1.5zM155.6 203.0h1.5v1.7h-1.5zM170.3 203.0h1.5v1.7h-1.5zM158.3 204.6h1.5v1.7h-1.5zM159.6 206.1h1.5v1.7h-1.5zM175.7 206.1h1.5v1.7h-1.5zM189.1 206.1h1.5v1.7h-1.5zM86.0 207.7h1.5v1.7h-1.5zM189.1 207.7h1.5v1.7h-1.5zM237.2 207.7h1.5v1.7h-1.5zM79.3 209.2h1.5v1.7h-1.5zM210.5 218.5h1.5v1.7h-1.5zM213.1 218.5h1.5v1.7h-1.5zM214.5 220.0h1.5v1.7h-1.5zM186.4 232.4h1.5v1.7h-1.5zM134.2 243.2h1.5v1.7h-1.5zM183.7 244.8h1.5v1.7h-1.5zM238.6 254.0h1.5v1.7h-1.5zM239.9 255.6h1.5v1.7h-1.5zM175.7 257.1h1.5v1.7h-1.5zM242.6 257.1h1.5v1.7h-1.5zM116.8 258.7h1.5v1.7h-1.5zM246.6 258.7h1.5v1.7h-1.5zM247.9 260.2h1.5v1.7h-1.5z"/>
<path fill="#b47a1f" d="M234.6 187.6h1.5v1.7h-1.5zM84.7 189.1h1.5v1.7h-1.5zM86.0 190.7h1.5v1.7h-1.5zM84.7 193.8h1.5v1.7h-1.5zM90.0 196.9h1.5v1.7h-1.5zM217.2 198.4h1.5v1.7h-1.5zM225.2 198.4h1.5v1.7h-1.5zM222.5 200.0h1.5v1.7h-1.5zM100.7 201.5h1.5v1.7h-1.5zM237.2 201.5h1.5v1.7h-1.5zM90.0 203.0h1.5v1.7h-1.5zM99.4 203.0h1.5v1.7h-1.5zM102.1 203.0h1.5v1.7h-1.5zM166.3 203.0h1.5v1.7h-1.5zM86.0 204.6h1.5v1.7h-1.5zM181.0 204.6h1.5v1.7h-1.5zM86.0 206.1h1.5v1.7h-1.5zM88.7 206.1h1.5v1.7h-1.5zM104.7 206.1h1.5v1.7h-1.5zM155.6 206.1h2.8v1.7h-2.8zM90.0 207.7h1.5v1.7h-1.5zM239.9 207.7h1.5v1.7h-1.5zM99.4 209.2h1.5v1.7h-1.5zM206.5 210.8h1.5v1.7h-1.5zM90.0 212.3h2.8v1.7h-2.8zM197.1 213.9h1.5v1.7h-1.5zM92.7 215.4h1.5v1.7h-1.5zM225.2 217.0h1.5v1.7h-1.5zM226.5 220.0h1.5v1.7h-1.5zM214.5 221.6h1.5v1.7h-1.5zM118.1 229.3h1.5v1.7h-1.5zM118.1 230.9h1.5v1.7h-1.5zM187.7 230.9h1.5v1.7h-1.5zM127.5 238.6h1.5v1.7h-1.5zM131.5 240.1h1.5v1.7h-1.5zM132.8 241.7h1.5v1.7h-1.5zM183.7 243.2h1.5v1.7h-1.5zM246.6 260.2h1.5v1.7h-1.5zM239.9 261.8h1.5v1.7h-1.5zM114.1 266.4h1.5v1.7h-1.5zM114.1 269.5h1.5v1.7h-1.5z"/>
<path fill="#c0882d" d="M88.7 187.6h1.5v1.7h-1.5zM235.9 187.6h1.5v1.7h-1.5zM245.3 187.6h2.8v1.7h-2.8zM79.3 189.1h1.5v1.7h-1.5zM92.7 190.7h1.5v1.7h-1.5zM95.4 190.7h1.5v1.7h-1.5zM80.7 192.2h1.5v1.7h-1.5zM98.0 193.8h1.5v1.7h-1.5zM185.0 193.8h1.5v1.7h-1.5zM185.0 195.3h1.5v1.7h-1.5zM189.1 195.3h1.5v1.7h-1.5zM95.4 196.9h1.5v1.7h-1.5zM217.2 196.9h1.5v1.7h-1.5zM80.7 200.0h1.5v1.7h-1.5zM170.3 201.5h1.5v1.7h-1.5zM173.0 201.5h1.5v1.7h-1.5zM87.3 203.0h1.5v1.7h-1.5zM156.9 203.0h1.5v1.7h-1.5zM171.7 203.0h1.5v1.7h-1.5zM104.7 204.6h1.5v1.7h-1.5zM177.0 204.6h1.5v1.7h-1.5zM186.4 204.6h1.5v1.7h-1.5zM84.7 206.1h1.5v1.7h-1.5zM187.7 206.1h1.5v1.7h-1.5zM182.4 207.7h1.5v1.7h-1.5zM187.7 209.2h1.5v1.7h-1.5zM206.5 209.2h1.5v1.7h-1.5zM237.2 209.2h2.8v1.7h-2.8zM206.5 212.3h1.5v1.7h-1.5zM90.0 213.9h1.5v1.7h-1.5zM195.7 213.9h1.5v1.7h-1.5zM198.4 213.9h1.5v1.7h-1.5zM223.9 217.0h1.5v1.7h-1.5zM209.1 218.5h1.5v1.7h-1.5zM214.5 218.5h1.5v1.7h-1.5zM209.1 223.1h1.5v1.7h-1.5zM226.5 224.7h2.8v1.7h-2.8zM183.7 229.3h1.5v1.7h-1.5zM186.4 229.3h1.5v1.7h-1.5zM116.8 230.9h1.5v1.7h-1.5zM130.2 238.6h1.5v1.7h-1.5zM132.8 238.6h1.5v1.7h-1.5zM134.2 244.8h1.5v1.7h-1.5zM250.6 246.3h2.8v1.7h-2.8zM183.7 247.9h1.5v1.7h-1.5zM239.9 252.5h1.5v1.7h-1.5zM246.6 252.5h1.5v1.7h-1.5zM250.6 252.5h1.5v1.7h-1.5zM116.8 255.6h1.5v1.7h-1.5zM175.7 255.6h1.5v1.7h-1.5zM250.6 255.6h1.5v1.7h-1.5zM178.3 257.1h1.5v1.7h-1.5zM253.3 258.7h1.5v1.7h-1.5zM238.6 260.2h1.5v1.7h-1.5zM242.6 260.2h1.5v1.7h-1.5zM252.0 260.2h1.5v1.7h-1.5zM115.4 264.9h1.5v1.7h-1.5zM116.8 267.9h1.5v1.7h-1.5z"/>
<path fill="#cc983d" d="M82.0 187.6h1.5v1.7h-1.5zM90.0 187.6h2.8v1.7h-2.8zM83.3 189.1h1.5v1.7h-1.5zM92.7 189.1h1.5v1.7h-1.5zM239.9 189.1h1.5v1.7h-1.5zM79.3 190.7h1.5v1.7h-1.5zM79.3 193.8h1.5v1.7h-1.5zM183.7 193.8h1.5v1.7h-1.5zM191.7 193.8h1.5v1.7h-1.5zM186.4 195.3h2.8v1.7h-2.8zM84.7 196.9h1.5v1.7h-1.5zM218.5 198.4h1.5v1.7h-1.5zM222.5 198.4h1.5v1.7h-1.5zM210.5 200.0h1.5v1.7h-1.5zM223.9 200.0h1.5v1.7h-1.5zM171.7 201.5h1.5v1.7h-1.5zM174.3 201.5h1.5v1.7h-1.5zM225.2 201.5h2.8v1.7h-2.8zM234.6 201.5h2.8v1.7h-2.8zM165.0 203.0h1.5v1.7h-1.5zM99.4 204.6h1.5v1.7h-1.5zM159.6 204.6h1.5v1.7h-1.5zM170.3 204.6h1.5v1.7h-1.5zM175.7 204.6h1.5v1.7h-1.5zM187.7 204.6h1.5v1.7h-1.5zM78.0 206.1h1.5v1.7h-1.5zM87.3 206.1h1.5v1.7h-1.5zM237.2 206.1h1.5v1.7h-1.5zM102.1 207.7h1.5v1.7h-1.5zM155.6 207.7h1.5v1.7h-1.5zM183.7 207.7h1.5v1.7h-1.5zM187.7 207.7h1.5v1.7h-1.5zM80.7 209.2h1.5v1.7h-1.5zM84.7 209.2h1.5v1.7h-1.5zM90.0 209.2h1.5v1.7h-1.5zM102.1 209.2h1.5v1.7h-1.5zM90.0 210.8h1.5v1.7h-1.5zM189.1 210.8h1.5v1.7h-1.5zM194.4 210.8h1.5v1.7h-1.5zM199.8 210.8h1.5v1.7h-1.5zM210.5 217.0h1.5v1.7h-1.5zM226.5 218.5h1.5v1.7h-1.5zM225.2 221.6h1.5v1.7h-1.5zM210.5 223.1h1.5v1.7h-1.5zM185.0 227.8h1.5v1.7h-1.5zM119.5 229.3h1.5v1.7h-1.5zM183.7 230.9h1.5v1.7h-1.5zM185.0 232.4h1.5v1.7h-1.5zM187.7 232.4h1.5v1.7h-1.5zM185.0 233.9h1.5v1.7h-1.5zM126.2 238.6h1.5v1.7h-1.5zM128.8 238.6h1.5v1.7h-1.5zM126.2 240.1h1.5v1.7h-1.5zM108.8 241.7h1.5v1.7h-1.5zM134.2 241.7h1.5v1.7h-1.5zM108.8 246.3h1.5v1.7h-1.5zM252.0 247.9h1.5v1.7h-1.5zM182.4 249.4h1.5v1.7h-1.5zM132.8 250.9h1.5v1.7h-1.5zM238.6 252.5h1.5v1.7h-1.5zM249.3 252.5h1.5v1.7h-1.5zM178.3 255.6h1.5v1.7h-1.5zM174.3 257.1h1.5v1.7h-1.5z"/>
<path fill="#d6aa54" d="M237.2 186.0h2.8v1.7h-2.8zM87.3 187.6h1.5v1.7h-1.5zM82.0 190.7h1.5v1.7h-1.5zM183.7 192.2h2.8v1.7h-2.8zM193.1 192.2h1.5v1.7h-1.5zM99.4 193.8h1.5v1.7h-1.5zM187.7 193.8h1.5v1.7h-1.5zM190.4 195.3h1.5v1.7h-1.5zM98.0 196.9h1.5v1.7h-1.5zM178.3 196.9h1.5v1.7h-1.5zM186.4 196.9h5.5v1.7h-5.5zM218.5 196.9h1.5v1.7h-1.5zM82.0 198.4h1.5v1.7h-1.5zM88.7 198.4h1.5v1.7h-1.5zM174.3 198.4h1.5v1.7h-1.5zM178.3 198.4h1.5v1.7h-1.5zM239.9 198.4h1.5v1.7h-1.5zM88.7 200.0h1.5v1.7h-1.5zM167.6 200.0h2.8v1.7h-2.8zM209.1 200.0h1.5v1.7h-1.5zM211.8 200.0h1.5v1.7h-1.5zM221.2 200.0h1.5v1.7h-1.5zM165.0 201.5h2.8v1.7h-2.8zM227.9 201.5h1.5v1.7h-1.5zM79.3 203.0h1.5v1.7h-1.5zM86.0 203.0h1.5v1.7h-1.5zM88.7 203.0h1.5v1.7h-1.5zM173.0 203.0h1.5v1.7h-1.5zM78.0 204.6h1.5v1.7h-1.5zM174.3 204.6h1.5v1.7h-1.5zM178.3 204.6h2.8v1.7h-2.8zM183.7 204.6h1.5v1.7h-1.5zM106.1 206.1h1.5v1.7h-1.5zM91.4 207.7h1.5v1.7h-1.5zM158.3 207.7h1.5v1.7h-1.5zM82.0 209.2h2.8v1.7h-2.8zM194.4 209.2h1.5v1.7h-1.5zM91.4 210.8h1.5v1.7h-1.5zM191.7 210.8h1.5v1.7h-1.5zM99.4 212.3h1.5v1.7h-1.5zM194.4 212.3h1.5v1.7h-1.5zM92.7 213.9h1.5v1.7h-1.5zM211.8 217.0h1.5v1.7h-1.5zM116.8 229.3h1.5v1.7h-1.5zM155.6 229.3h2.8v1.7h-2.8zM179.7 237.0h1.5v1.7h-1.5zM131.5 241.7h1.5v1.7h-1.5zM130.2 246.3h1.5v1.7h-1.5zM252.0 249.4h1.5v1.7h-1.5zM253.3 254.0h1.5v1.7h-1.5zM235.9 255.6h1.5v1.7h-1.5zM242.6 258.7h1.5v1.7h-1.5zM245.3 258.7h1.5v1.7h-1.5zM116.8 260.2h1.5v1.7h-1.5zM239.9 260.2h1.5v1.7h-1.5zM237.2 261.8h1.5v1.7h-1.5zM115.4 263.3h1.5v1.7h-1.5zM116.8 264.9h1.5v1.7h-1.5z"/>
<path fill="#e1bd6f" d="M83.3 187.6h4.2v1.7h-4.2zM95.4 189.1h1.5v1.7h-1.5zM238.6 189.1h1.5v1.7h-1.5zM91.4 190.7h1.5v1.7h-1.5zM92.7 192.2h1.5v1.7h-1.5zM186.4 193.8h1.5v1.7h-1.5zM87.3 195.3h1.5v1.7h-1.5zM183.7 195.3h1.5v1.7h-1.5zM86.0 196.9h1.5v1.7h-1.5zM88.7 196.9h1.5v1.7h-1.5zM94.0 196.9h1.5v1.7h-1.5zM181.0 196.9h1.5v1.7h-1.5zM175.7 198.4h1.5v1.7h-1.5zM181.0 198.4h1.5v1.7h-1.5zM187.7 198.4h1.5v1.7h-1.5zM214.5 198.4h2.8v1.7h-2.8zM221.2 198.4h1.5v1.7h-1.5zM174.3 200.0h1.5v1.7h-1.5zM179.7 200.0h1.5v1.7h-1.5zM87.3 201.5h1.5v1.7h-1.5zM99.4 201.5h1.5v1.7h-1.5zM162.3 201.5h2.8v1.7h-2.8zM174.3 203.0h1.5v1.7h-1.5zM177.0 203.0h1.5v1.7h-1.5zM84.7 204.6h1.5v1.7h-1.5zM92.7 204.6h1.5v1.7h-1.5zM106.1 204.6h1.5v1.7h-1.5zM169.0 204.6h1.5v1.7h-1.5zM173.0 204.6h1.5v1.7h-1.5zM185.0 204.6h1.5v1.7h-1.5zM238.6 204.6h1.5v1.7h-1.5zM174.3 206.1h1.5v1.7h-1.5zM186.4 206.1h1.5v1.7h-1.5zM190.4 206.1h1.5v1.7h-1.5zM78.0 207.7h1.5v1.7h-1.5zM87.3 207.7h2.8v1.7h-2.8zM159.6 207.7h1.5v1.7h-1.5zM190.4 207.7h1.5v1.7h-1.5zM86.0 209.2h1.5v1.7h-1.5zM106.1 209.2h1.5v1.7h-1.5zM191.7 209.2h1.5v1.7h-1.5zM195.7 209.2h1.5v1.7h-1.5zM207.8 210.8h1.5v1.7h-1.5zM102.1 212.3h1.5v1.7h-1.5zM237.2 212.3h1.5v1.7h-1.5zM233.2 213.9h1.5v1.7h-1.5zM90.0 215.4h1.5v1.7h-1.5zM91.4 218.5h1.5v1.7h-1.5zM227.9 223.1h2.8v1.7h-2.8zM226.5 226.2h2.8v1.7h-2.8zM154.3 229.3h1.5v1.7h-1.5zM186.4 233.9h1.5v1.7h-1.5zM127.5 240.1h1.5v1.7h-1.5zM130.2 240.1h1.5v1.7h-1.5zM132.8 240.1h1.5v1.7h-1.5zM182.4 241.7h1.5v1.7h-1.5zM130.2 243.2h1.5v1.7h-1.5zM132.8 247.9h1.5v1.7h-1.5zM185.0 247.9h1.5v1.7h-1.5zM131.5 250.9h1.5v1.7h-1.5zM182.4 250.9h1.5v1.7h-1.5zM252.0 250.9h1.5v1.7h-1.5zM116.8 252.5h1.5v1.7h-1.5zM115.4 254.0h2.8v1.7h-2.8zM235.9 254.0h2.8v1.7h-2.8zM238.6 255.6h1.5v1.7h-1.5zM177.0 258.7h2.8v1.7h-2.8zM178.3 260.2h1.5v1.7h-1.5zM241.2 260.2h1.5v1.7h-1.5zM243.9 260.2h1.5v1.7h-1.5zM114.1 263.3h1.5v1.7h-1.5zM114.1 264.9h1.5v1.7h-1.5zM112.8 267.9h1.5v1.7h-1.5zM112.8 277.2h1.5v1.7h-1.5z"/>
<path fill="#eacd8b" d="M235.9 186.0h1.5v1.7h-1.5zM80.7 187.6h1.5v1.7h-1.5zM243.9 187.6h1.5v1.7h-1.5zM247.9 187.6h1.5v1.7h-1.5zM90.0 189.1h1.5v1.7h-1.5zM241.2 189.1h1.5v1.7h-1.5zM182.4 193.8h1.5v1.7h-1.5zM193.1 193.8h1.5v1.7h-1.5zM179.7 195.3h1.5v1.7h-1.5zM175.7 196.9h1.5v1.7h-1.5zM79.3 198.4h1.5v1.7h-1.5zM211.8 198.4h1.5v1.7h-1.5zM231.9 198.4h1.5v1.7h-1.5zM79.3 200.0h1.5v1.7h-1.5zM86.0 200.0h2.8v1.7h-2.8zM166.3 200.0h1.5v1.7h-1.5zM170.3 200.0h1.5v1.7h-1.5zM173.0 200.0h1.5v1.7h-1.5zM178.3 200.0h1.5v1.7h-1.5zM207.8 200.0h1.5v1.7h-1.5zM214.5 200.0h1.5v1.7h-1.5zM239.9 200.0h1.5v1.7h-1.5zM86.0 201.5h1.5v1.7h-1.5zM88.7 201.5h1.5v1.7h-1.5zM222.5 201.5h1.5v1.7h-1.5zM84.7 203.0h1.5v1.7h-1.5zM91.4 203.0h1.5v1.7h-1.5zM102.1 204.6h1.5v1.7h-1.5zM171.7 204.6h1.5v1.7h-1.5zM189.1 204.6h1.5v1.7h-1.5zM239.9 204.6h1.5v1.7h-1.5zM92.7 206.1h1.5v1.7h-1.5zM171.7 206.1h1.5v1.7h-1.5zM183.7 206.1h1.5v1.7h-1.5zM106.1 207.7h1.5v1.7h-1.5zM154.3 207.7h1.5v1.7h-1.5zM156.9 207.7h1.5v1.7h-1.5zM186.4 207.7h1.5v1.7h-1.5zM235.9 207.7h1.5v1.7h-1.5zM88.7 209.2h1.5v1.7h-1.5zM198.4 209.2h1.5v1.7h-1.5zM235.9 209.2h1.5v1.7h-1.5zM205.1 210.8h1.5v1.7h-1.5zM237.2 210.8h2.8v1.7h-2.8zM103.4 212.3h1.5v1.7h-1.5zM205.1 212.3h1.5v1.7h-1.5zM233.2 212.3h1.5v1.7h-1.5zM238.6 212.3h1.5v1.7h-1.5zM194.4 213.9h1.5v1.7h-1.5zM195.7 215.4h1.5v1.7h-1.5zM233.2 215.4h1.5v1.7h-1.5zM91.4 217.0h1.5v1.7h-1.5zM209.1 217.0h1.5v1.7h-1.5zM213.1 217.0h2.8v1.7h-2.8zM226.5 217.0h1.5v1.7h-1.5zM90.0 218.5h1.5v1.7h-1.5zM223.9 221.6h1.5v1.7h-1.5zM226.5 221.6h1.5v1.7h-1.5zM211.8 223.1h1.5v1.7h-1.5zM226.5 223.1h1.5v1.7h-1.5zM230.5 223.1h2.8v1.7h-2.8zM186.4 224.7h1.5v1.7h-1.5zM229.2 224.7h1.5v1.7h-1.5zM179.7 226.2h1.5v1.7h-1.5zM229.2 226.2h1.5v1.7h-1.5zM183.7 227.8h1.5v1.7h-1.5zM115.4 229.3h1.5v1.7h-1.5zM182.4 229.3h1.5v1.7h-1.5zM108.8 235.5h1.5v1.7h-1.5zM111.4 235.5h2.8v1.7h-2.8zM108.8 237.0h4.2v1.7h-4.2zM127.5 237.0h1.5v1.7h-1.5zM108.8 238.6h1.5v1.7h-1.5zM179.7 238.6h1.5v1.7h-1.5zM135.5 240.1h1.5v1.7h-1.5zM130.2 241.7h1.5v1.7h-1.5zM135.5 241.7h1.5v1.7h-1.5zM183.7 241.7h1.5v1.7h-1.5zM108.8 243.2h1.5v1.7h-1.5zM135.5 244.8h1.5v1.7h-1.5zM130.2 247.9h2.8v1.7h-2.8zM134.2 247.9h1.5v1.7h-1.5zM134.2 249.4h1.5v1.7h-1.5zM241.2 250.9h1.5v1.7h-1.5zM247.9 250.9h1.5v1.7h-1.5zM115.4 252.5h1.5v1.7h-1.5zM237.2 252.5h1.5v1.7h-1.5zM241.2 252.5h1.5v1.7h-1.5zM115.4 255.6h1.5v1.7h-1.5zM118.1 258.7h1.5v1.7h-1.5zM243.9 258.7h1.5v1.7h-1.5zM177.0 260.2h1.5v1.7h-1.5zM116.8 269.5h1.5v1.7h-1.5zM112.8 275.7h1.5v1.7h-1.5z"/>
<path fill="#f2dca8" d="M88.7 186.0h2.8v1.7h-2.8zM239.9 186.0h2.8v1.7h-2.8zM92.7 187.6h1.5v1.7h-1.5zM177.0 187.6h2.8v1.7h-2.8zM194.4 187.6h1.5v1.7h-1.5zM230.5 187.6h1.5v1.7h-1.5zM233.2 187.6h1.5v1.7h-1.5zM91.4 189.1h1.5v1.7h-1.5zM179.7 189.1h1.5v1.7h-1.5zM245.3 189.1h2.8v1.7h-2.8zM190.4 190.7h1.5v1.7h-1.5zM76.6 192.2h1.5v1.7h-1.5zM186.4 192.2h2.8v1.7h-2.8zM75.3 193.8h2.8v1.7h-2.8zM96.7 193.8h1.5v1.7h-1.5zM178.3 193.8h1.5v1.7h-1.5zM76.6 195.3h1.5v1.7h-1.5zM79.3 195.3h1.5v1.7h-1.5zM99.4 195.3h1.5v1.7h-1.5zM178.3 195.3h1.5v1.7h-1.5zM181.0 195.3h2.8v1.7h-2.8zM191.7 195.3h1.5v1.7h-1.5zM194.4 195.3h1.5v1.7h-1.5zM80.7 196.9h1.5v1.7h-1.5zM167.6 196.9h2.8v1.7h-2.8zM174.3 196.9h1.5v1.7h-1.5zM185.0 196.9h1.5v1.7h-1.5zM215.8 196.9h1.5v1.7h-1.5zM226.5 196.9h1.5v1.7h-1.5zM78.0 198.4h1.5v1.7h-1.5zM167.6 198.4h2.8v1.7h-2.8zM186.4 198.4h1.5v1.7h-1.5zM78.0 200.0h1.5v1.7h-1.5zM82.0 200.0h1.5v1.7h-1.5zM90.0 200.0h1.5v1.7h-1.5zM158.3 200.0h1.5v1.7h-1.5zM162.3 200.0h4.2v1.7h-4.2zM171.7 200.0h1.5v1.7h-1.5zM181.0 200.0h1.5v1.7h-1.5zM213.1 200.0h1.5v1.7h-1.5zM215.8 200.0h2.8v1.7h-2.8zM80.7 201.5h1.5v1.7h-1.5zM104.7 201.5h1.5v1.7h-1.5zM199.8 201.5h1.5v1.7h-1.5zM202.4 201.5h1.5v1.7h-1.5zM209.1 201.5h1.5v1.7h-1.5zM238.6 201.5h1.5v1.7h-1.5zM78.0 203.0h1.5v1.7h-1.5zM158.3 203.0h1.5v1.7h-1.5zM175.7 203.0h1.5v1.7h-1.5zM237.2 203.0h1.5v1.7h-1.5zM166.3 204.6h1.5v1.7h-1.5zM182.4 206.1h1.5v1.7h-1.5zM242.6 206.1h1.5v1.7h-1.5zM99.4 207.7h1.5v1.7h-1.5zM104.7 207.7h1.5v1.7h-1.5zM160.9 207.7h1.5v1.7h-1.5zM175.7 207.7h1.5v1.7h-1.5zM185.0 207.7h1.5v1.7h-1.5zM87.3 209.2h1.5v1.7h-1.5zM98.0 209.2h1.5v1.7h-1.5zM155.6 209.2h1.5v1.7h-1.5zM197.1 209.2h1.5v1.7h-1.5zM205.1 209.2h1.5v1.7h-1.5zM207.8 209.2h1.5v1.7h-1.5zM83.3 210.8h2.8v1.7h-2.8zM88.7 210.8h1.5v1.7h-1.5zM98.0 210.8h1.5v1.7h-1.5zM106.1 210.8h1.5v1.7h-1.5zM193.1 210.8h1.5v1.7h-1.5zM233.2 210.8h1.5v1.7h-1.5zM190.4 212.3h4.2v1.7h-4.2zM201.1 212.3h1.5v1.7h-1.5zM207.8 212.3h1.5v1.7h-1.5zM231.9 212.3h1.5v1.7h-1.5zM98.0 213.9h2.8v1.7h-2.8zM231.9 213.9h1.5v1.7h-1.5zM237.2 213.9h2.8v1.7h-2.8zM197.1 215.4h1.5v1.7h-1.5zM92.7 217.0h1.5v1.7h-1.5zM207.8 218.5h1.5v1.7h-1.5zM215.8 218.5h1.5v1.7h-1.5zM90.0 220.0h1.5v1.7h-1.5zM230.5 221.6h1.5v1.7h-1.5zM186.4 223.1h1.5v1.7h-1.5zM213.1 223.1h1.5v1.7h-1.5zM179.7 224.7h1.5v1.7h-1.5zM231.9 224.7h1.5v1.7h-1.5zM186.4 227.8h1.5v1.7h-1.5zM112.8 229.3h2.8v1.7h-2.8zM151.6 229.3h1.5v1.7h-1.5zM158.3 229.3h1.5v1.7h-1.5zM115.4 230.9h1.5v1.7h-1.5zM119.5 230.9h1.5v1.7h-1.5zM182.4 230.9h1.5v1.7h-1.5zM183.7 232.4h1.5v1.7h-1.5zM179.7 235.5h1.5v1.7h-1.5zM185.0 235.5h2.8v1.7h-2.8zM112.8 237.0h1.5v1.7h-1.5zM128.8 237.0h1.5v1.7h-1.5zM110.1 238.6h1.5v1.7h-1.5zM107.4 240.1h1.5v1.7h-1.5zM124.8 240.1h1.5v1.7h-1.5zM128.8 240.1h1.5v1.7h-1.5zM134.2 240.1h1.5v1.7h-1.5zM107.4 241.7h1.5v1.7h-1.5zM135.5 243.2h1.5v1.7h-1.5zM181.0 246.3h1.5v1.7h-1.5zM181.0 247.9h1.5v1.7h-1.5zM243.9 247.9h1.5v1.7h-1.5zM250.6 247.9h1.5v1.7h-1.5zM131.5 249.4h1.5v1.7h-1.5zM242.6 249.4h1.5v1.7h-1.5zM116.8 250.9h1.5v1.7h-1.5zM249.3 250.9h2.8v1.7h-2.8zM118.1 252.5h1.5v1.7h-1.5zM131.5 252.5h2.8v1.7h-2.8zM183.7 252.5h1.5v1.7h-1.5zM115.4 257.1h1.5v1.7h-1.5zM118.1 257.1h1.5v1.7h-1.5zM173.0 257.1h1.5v1.7h-1.5zM237.2 258.7h1.5v1.7h-1.5zM237.2 260.2h1.5v1.7h-1.5zM245.3 260.2h1.5v1.7h-1.5zM115.4 261.8h2.8v1.7h-2.8zM241.2 261.8h1.5v1.7h-1.5zM116.8 263.3h1.5v1.7h-1.5zM112.8 266.4h1.5v1.7h-1.5zM115.4 271.0h1.5v1.7h-1.5z"/>
<path fill="#f7e8c6" d="M177.0 186.0h1.5v1.7h-1.5zM194.4 186.0h4.2v1.7h-4.2zM202.4 186.0h2.8v1.7h-2.8zM234.6 186.0h1.5v1.7h-1.5zM94.0 187.6h2.8v1.7h-2.8zM173.0 187.6h1.5v1.7h-1.5zM175.7 187.6h1.5v1.7h-1.5zM181.0 187.6h2.8v1.7h-2.8zM186.4 187.6h1.5v1.7h-1.5zM191.7 187.6h2.8v1.7h-2.8zM195.7 187.6h1.5v1.7h-1.5zM231.9 187.6h1.5v1.7h-1.5zM242.6 187.6h1.5v1.7h-1.5zM249.3 187.6h2.8v1.7h-2.8zM96.7 189.1h1.5v1.7h-1.5zM174.3 189.1h5.5v1.7h-5.5zM181.0 189.1h1.5v1.7h-1.5zM190.4 189.1h1.5v1.7h-1.5zM197.1 189.1h2.8v1.7h-2.8zM230.5 189.1h4.2v1.7h-4.2zM183.7 190.7h2.8v1.7h-2.8zM197.1 190.7h2.8v1.7h-2.8zM75.3 192.2h1.5v1.7h-1.5zM79.3 192.2h1.5v1.7h-1.5zM74.0 193.8h1.5v1.7h-1.5zM78.0 193.8h1.5v1.7h-1.5zM87.3 193.8h1.5v1.7h-1.5zM174.3 193.8h1.5v1.7h-1.5zM194.4 193.8h4.2v1.7h-4.2zM75.3 195.3h1.5v1.7h-1.5zM171.7 195.3h5.5v1.7h-5.5zM197.1 195.3h1.5v1.7h-1.5zM104.7 196.9h6.8v1.7h-6.8zM165.0 196.9h2.8v1.7h-2.8zM171.7 196.9h2.8v1.7h-2.8zM177.0 196.9h1.5v1.7h-1.5zM183.7 196.9h1.5v1.7h-1.5zM191.7 196.9h1.5v1.7h-1.5zM194.4 196.9h1.5v1.7h-1.5zM210.5 196.9h2.8v1.7h-2.8zM222.5 196.9h1.5v1.7h-1.5zM225.2 196.9h1.5v1.7h-1.5zM227.9 196.9h1.5v1.7h-1.5zM234.6 196.9h2.8v1.7h-2.8zM100.7 198.4h1.5v1.7h-1.5zM107.4 198.4h4.2v1.7h-4.2zM114.1 198.4h1.5v1.7h-1.5zM170.3 198.4h1.5v1.7h-1.5zM173.0 198.4h1.5v1.7h-1.5zM177.0 198.4h1.5v1.7h-1.5zM194.4 198.4h1.5v1.7h-1.5zM207.8 198.4h1.5v1.7h-1.5zM213.1 198.4h1.5v1.7h-1.5zM229.2 198.4h2.8v1.7h-2.8zM233.2 198.4h2.8v1.7h-2.8zM241.2 198.4h1.5v1.7h-1.5zM100.7 200.0h1.5v1.7h-1.5zM175.7 200.0h1.5v1.7h-1.5zM202.4 200.0h1.5v1.7h-1.5zM234.6 200.0h1.5v1.7h-1.5zM78.0 201.5h2.8v1.7h-2.8zM84.7 201.5h1.5v1.7h-1.5zM160.9 201.5h1.5v1.7h-1.5zM177.0 201.5h4.2v1.7h-4.2zM182.4 201.5h1.5v1.7h-1.5zM198.4 201.5h1.5v1.7h-1.5zM201.1 201.5h1.5v1.7h-1.5zM203.8 201.5h1.5v1.7h-1.5zM210.5 201.5h1.5v1.7h-1.5zM221.2 201.5h1.5v1.7h-1.5zM223.9 201.5h1.5v1.7h-1.5zM92.7 203.0h1.5v1.7h-1.5zM104.7 203.0h1.5v1.7h-1.5zM159.6 203.0h1.5v1.7h-1.5zM163.6 203.0h1.5v1.7h-1.5zM178.3 203.0h2.8v1.7h-2.8zM238.6 203.0h1.5v1.7h-1.5zM107.4 204.6h1.5v1.7h-1.5zM160.9 204.6h1.5v1.7h-1.5zM190.4 204.6h1.5v1.7h-1.5zM237.2 204.6h1.5v1.7h-1.5zM107.4 206.1h1.5v1.7h-1.5zM170.3 206.1h1.5v1.7h-1.5zM181.0 206.1h1.5v1.7h-1.5zM92.7 207.7h1.5v1.7h-1.5zM98.0 207.7h1.5v1.7h-1.5zM181.0 207.7h1.5v1.7h-1.5zM191.7 207.7h1.5v1.7h-1.5zM195.7 207.7h1.5v1.7h-1.5zM241.2 207.7h2.8v1.7h-2.8zM91.4 209.2h1.5v1.7h-1.5zM104.7 209.2h1.5v1.7h-1.5zM159.6 209.2h2.8v1.7h-2.8zM186.4 209.2h1.5v1.7h-1.5zM193.1 209.2h1.5v1.7h-1.5zM82.0 210.8h1.5v1.7h-1.5zM86.0 210.8h1.5v1.7h-1.5zM103.4 210.8h2.8v1.7h-2.8zM201.1 210.8h1.5v1.7h-1.5zM98.0 212.3h1.5v1.7h-1.5zM189.1 212.3h1.5v1.7h-1.5zM235.9 212.3h1.5v1.7h-1.5zM94.0 213.9h1.5v1.7h-1.5zM94.0 215.4h1.5v1.7h-1.5zM210.5 215.4h1.5v1.7h-1.5zM231.9 215.4h1.5v1.7h-1.5zM215.8 217.0h1.5v1.7h-1.5zM91.4 220.0h1.5v1.7h-1.5zM227.9 220.0h1.5v1.7h-1.5zM222.5 221.6h1.5v1.7h-1.5zM227.9 221.6h1.5v1.7h-1.5zM214.5 223.1h1.5v1.7h-1.5zM178.3 224.7h1.5v1.7h-1.5zM181.0 224.7h1.5v1.7h-1.5zM230.5 224.7h1.5v1.7h-1.5zM178.3 226.2h1.5v1.7h-1.5zM181.0 226.2h1.5v1.7h-1.5zM230.5 226.2h2.8v1.7h-2.8zM182.4 227.8h1.5v1.7h-1.5zM229.2 227.8h2.8v1.7h-2.8zM111.4 229.3h1.5v1.7h-1.5zM152.9 229.3h1.5v1.7h-1.5zM160.9 229.3h2.8v1.7h-2.8zM156.9 230.9h2.8v1.7h-2.8zM189.1 230.9h1.5v1.7h-1.5zM108.8 233.9h1.5v1.7h-1.5zM112.8 233.9h1.5v1.7h-1.5zM179.7 233.9h1.5v1.7h-1.5zM183.7 233.9h1.5v1.7h-1.5zM187.7 233.9h1.5v1.7h-1.5zM107.4 235.5h1.5v1.7h-1.5zM110.1 235.5h1.5v1.7h-1.5zM178.3 235.5h1.5v1.7h-1.5zM183.7 235.5h1.5v1.7h-1.5zM130.2 237.0h1.5v1.7h-1.5zM124.8 238.6h1.5v1.7h-1.5zM108.8 240.1h1.5v1.7h-1.5zM136.9 240.1h1.5v1.7h-1.5zM107.4 243.2h1.5v1.7h-1.5zM181.0 243.2h1.5v1.7h-1.5zM108.8 244.8h1.5v1.7h-1.5zM128.8 244.8h1.5v1.7h-1.5zM181.0 244.8h1.5v1.7h-1.5zM128.8 246.3h1.5v1.7h-1.5zM131.5 246.3h1.5v1.7h-1.5zM186.4 247.9h1.5v1.7h-1.5zM247.9 247.9h1.5v1.7h-1.5zM185.0 249.4h1.5v1.7h-1.5zM243.9 249.4h1.5v1.7h-1.5zM247.9 249.4h1.5v1.7h-1.5zM118.1 250.9h1.5v1.7h-1.5zM130.2 250.9h1.5v1.7h-1.5zM134.2 250.9h1.5v1.7h-1.5zM132.8 254.0h1.5v1.7h-1.5zM177.0 254.0h2.8v1.7h-2.8zM173.0 255.6h2.8v1.7h-2.8zM237.2 255.6h1.5v1.7h-1.5zM171.7 257.1h1.5v1.7h-1.5zM115.4 258.7h1.5v1.7h-1.5zM175.7 258.7h1.5v1.7h-1.5zM115.4 260.2h1.5v1.7h-1.5zM118.1 260.2h1.5v1.7h-1.5zM179.7 260.2h1.5v1.7h-1.5zM253.3 260.2h1.5v1.7h-1.5zM242.6 261.8h2.8v1.7h-2.8zM249.3 261.8h1.5v1.7h-1.5zM252.0 261.8h1.5v1.7h-1.5zM239.9 263.3h1.5v1.7h-1.5zM112.8 264.9h1.5v1.7h-1.5zM111.4 277.2h1.5v1.7h-1.5zM114.1 278.8h1.5v1.7h-1.5z"/>
<path fill="#faf1e1" d="M88.7 184.5h1.5v1.7h-1.5zM171.7 184.5h1.5v1.7h-1.5zM177.0 184.5h1.5v1.7h-1.5zM195.7 184.5h2.8v1.7h-2.8zM201.1 184.5h2.8v1.7h-2.8zM80.7 186.0h2.8v1.7h-2.8zM86.0 186.0h2.8v1.7h-2.8zM91.4 186.0h1.5v1.7h-1.5zM95.4 186.0h1.5v1.7h-1.5zM173.0 186.0h4.2v1.7h-4.2zM178.3 186.0h1.5v1.7h-1.5zM182.4 186.0h1.5v1.7h-1.5zM186.4 186.0h2.8v1.7h-2.8zM193.1 186.0h1.5v1.7h-1.5zM201.1 186.0h1.5v1.7h-1.5zM233.2 186.0h1.5v1.7h-1.5zM242.6 186.0h1.5v1.7h-1.5zM79.3 187.6h1.5v1.7h-1.5zM96.7 187.6h1.5v1.7h-1.5zM169.0 187.6h1.5v1.7h-1.5zM174.3 187.6h1.5v1.7h-1.5zM179.7 187.6h1.5v1.7h-1.5zM183.7 187.6h2.8v1.7h-2.8zM190.4 187.6h1.5v1.7h-1.5zM197.1 187.6h1.5v1.7h-1.5zM201.1 187.6h1.5v1.7h-1.5zM205.1 187.6h2.8v1.7h-2.8zM169.0 189.1h1.5v1.7h-1.5zM182.4 189.1h1.5v1.7h-1.5zM185.0 189.1h2.8v1.7h-2.8zM191.7 189.1h2.8v1.7h-2.8zM195.7 189.1h1.5v1.7h-1.5zM199.8 189.1h2.8v1.7h-2.8zM210.5 189.1h1.5v1.7h-1.5zM214.5 189.1h2.8v1.7h-2.8zM234.6 189.1h1.5v1.7h-1.5zM237.2 189.1h1.5v1.7h-1.5zM247.9 189.1h1.5v1.7h-1.5zM78.0 190.7h1.5v1.7h-1.5zM96.7 190.7h1.5v1.7h-1.5zM170.3 190.7h1.5v1.7h-1.5zM175.7 190.7h1.5v1.7h-1.5zM182.4 190.7h1.5v1.7h-1.5zM189.1 190.7h1.5v1.7h-1.5zM191.7 190.7h1.5v1.7h-1.5zM195.7 190.7h1.5v1.7h-1.5zM199.8 190.7h2.8v1.7h-2.8zM78.0 192.2h1.5v1.7h-1.5zM99.4 192.2h1.5v1.7h-1.5zM170.3 192.2h1.5v1.7h-1.5zM174.3 192.2h5.5v1.7h-5.5zM182.4 192.2h1.5v1.7h-1.5zM195.7 192.2h4.2v1.7h-4.2zM202.4 192.2h4.2v1.7h-4.2zM207.8 192.2h2.8v1.7h-2.8zM72.6 193.8h1.5v1.7h-1.5zM83.3 193.8h1.5v1.7h-1.5zM100.7 193.8h1.5v1.7h-1.5zM110.1 193.8h2.8v1.7h-2.8zM115.4 193.8h1.5v1.7h-1.5zM171.7 193.8h1.5v1.7h-1.5zM175.7 193.8h2.8v1.7h-2.8zM179.7 193.8h1.5v1.7h-1.5zM198.4 193.8h1.5v1.7h-1.5zM72.6 195.3h2.8v1.7h-2.8zM104.7 195.3h8.2v1.7h-8.2zM115.4 195.3h1.5v1.7h-1.5zM119.5 195.3h1.5v1.7h-1.5zM165.0 195.3h4.2v1.7h-4.2zM193.1 195.3h1.5v1.7h-1.5zM195.7 195.3h1.5v1.7h-1.5zM198.4 195.3h1.5v1.7h-1.5zM210.5 195.3h2.8v1.7h-2.8zM76.6 196.9h1.5v1.7h-1.5zM99.4 196.9h1.5v1.7h-1.5zM111.4 196.9h1.5v1.7h-1.5zM114.1 196.9h2.8v1.7h-2.8zM163.6 196.9h1.5v1.7h-1.5zM170.3 196.9h1.5v1.7h-1.5zM182.4 196.9h1.5v1.7h-1.5zM197.1 196.9h4.2v1.7h-4.2zM214.5 196.9h1.5v1.7h-1.5zM223.9 196.9h1.5v1.7h-1.5zM233.2 196.9h1.5v1.7h-1.5zM237.2 196.9h2.8v1.7h-2.8zM76.6 198.4h1.5v1.7h-1.5zM83.3 198.4h1.5v1.7h-1.5zM96.7 198.4h1.5v1.7h-1.5zM104.7 198.4h2.8v1.7h-2.8zM111.4 198.4h2.8v1.7h-2.8zM115.4 198.4h1.5v1.7h-1.5zM160.9 198.4h1.5v1.7h-1.5zM163.6 198.4h4.2v1.7h-4.2zM171.7 198.4h1.5v1.7h-1.5zM189.1 198.4h1.5v1.7h-1.5zM201.1 198.4h2.8v1.7h-2.8zM209.1 198.4h2.8v1.7h-2.8zM223.9 198.4h1.5v1.7h-1.5zM246.6 198.4h1.5v1.7h-1.5zM76.6 200.0h1.5v1.7h-1.5zM99.4 200.0h1.5v1.7h-1.5zM104.7 200.0h1.5v1.7h-1.5zM107.4 200.0h4.2v1.7h-4.2zM114.1 200.0h1.5v1.7h-1.5zM160.9 200.0h1.5v1.7h-1.5zM177.0 200.0h1.5v1.7h-1.5zM182.4 200.0h2.8v1.7h-2.8zM186.4 200.0h2.8v1.7h-2.8zM191.7 200.0h1.5v1.7h-1.5zM218.5 200.0h1.5v1.7h-1.5zM247.9 200.0h1.5v1.7h-1.5zM92.7 201.5h1.5v1.7h-1.5zM112.8 201.5h2.8v1.7h-2.8zM159.6 201.5h1.5v1.7h-1.5zM175.7 201.5h1.5v1.7h-1.5zM183.7 201.5h1.5v1.7h-1.5zM211.8 201.5h1.5v1.7h-1.5zM214.5 201.5h6.8v1.7h-6.8zM76.6 203.0h1.5v1.7h-1.5zM98.0 203.0h1.5v1.7h-1.5zM111.4 203.0h2.8v1.7h-2.8zM160.9 203.0h2.8v1.7h-2.8zM187.7 203.0h1.5v1.7h-1.5zM229.2 203.0h4.2v1.7h-4.2zM108.8 204.6h1.5v1.7h-1.5zM241.2 204.6h2.8v1.7h-2.8zM191.7 206.1h1.5v1.7h-1.5zM195.7 206.1h1.5v1.7h-1.5zM235.9 206.1h1.5v1.7h-1.5zM107.4 207.7h1.5v1.7h-1.5zM170.3 207.7h1.5v1.7h-1.5zM194.4 207.7h1.5v1.7h-1.5zM197.1 207.7h1.5v1.7h-1.5zM201.1 207.7h1.5v1.7h-1.5zM205.1 207.7h2.8v1.7h-2.8zM107.4 209.2h1.5v1.7h-1.5zM156.9 209.2h2.8v1.7h-2.8zM162.3 209.2h1.5v1.7h-1.5zM182.4 209.2h4.2v1.7h-4.2zM199.8 209.2h1.5v1.7h-1.5zM203.8 209.2h1.5v1.7h-1.5zM87.3 210.8h1.5v1.7h-1.5zM107.4 210.8h1.5v1.7h-1.5zM160.9 210.8h1.5v1.7h-1.5zM187.7 210.8h1.5v1.7h-1.5zM202.4 210.8h2.8v1.7h-2.8zM231.9 210.8h1.5v1.7h-1.5zM235.9 210.8h1.5v1.7h-1.5zM239.9 210.8h1.5v1.7h-1.5zM83.3 212.3h4.2v1.7h-4.2zM88.7 212.3h1.5v1.7h-1.5zM92.7 212.3h1.5v1.7h-1.5zM100.7 212.3h1.5v1.7h-1.5zM106.1 212.3h1.5v1.7h-1.5zM202.4 212.3h2.8v1.7h-2.8zM239.9 212.3h1.5v1.7h-1.5zM189.1 213.9h5.5v1.7h-5.5zM199.8 213.9h1.5v1.7h-1.5zM206.5 213.9h1.5v1.7h-1.5zM88.7 215.4h1.5v1.7h-1.5zM158.3 215.4h1.5v1.7h-1.5zM160.9 215.4h1.5v1.7h-1.5zM198.4 215.4h1.5v1.7h-1.5zM209.1 215.4h1.5v1.7h-1.5zM223.9 215.4h2.8v1.7h-2.8zM234.6 215.4h2.8v1.7h-2.8zM238.6 215.4h4.2v1.7h-4.2zM88.7 217.0h2.8v1.7h-2.8zM156.9 217.0h5.5v1.7h-5.5zM167.6 217.0h1.5v1.7h-1.5zM194.4 217.0h4.2v1.7h-4.2zM207.8 217.0h1.5v1.7h-1.5zM235.9 217.0h1.5v1.7h-1.5zM88.7 218.5h1.5v1.7h-1.5zM154.3 218.5h1.5v1.7h-1.5zM160.9 218.5h1.5v1.7h-1.5zM166.3 218.5h2.8v1.7h-2.8zM227.9 218.5h1.5v1.7h-1.5zM165.0 220.0h5.5v1.7h-5.5zM207.8 220.0h1.5v1.7h-1.5zM222.5 220.0h1.5v1.7h-1.5zM151.6 221.6h1.5v1.7h-1.5zM229.2 221.6h1.5v1.7h-1.5zM165.0 223.1h1.5v1.7h-1.5zM185.0 223.1h1.5v1.7h-1.5zM187.7 224.7h1.5v1.7h-1.5zM225.2 224.7h1.5v1.7h-1.5zM182.4 226.2h1.5v1.7h-1.5zM187.7 226.2h1.5v1.7h-1.5zM114.1 227.8h6.8v1.7h-6.8zM226.5 227.8h1.5v1.7h-1.5zM231.9 227.8h1.5v1.7h-1.5zM110.1 229.3h1.5v1.7h-1.5zM159.6 229.3h1.5v1.7h-1.5zM108.8 230.9h2.8v1.7h-2.8zM154.3 230.9h2.8v1.7h-2.8zM108.8 232.4h1.5v1.7h-1.5zM115.4 232.4h2.8v1.7h-2.8zM182.4 232.4h1.5v1.7h-1.5zM189.1 232.4h1.5v1.7h-1.5zM114.1 233.9h1.5v1.7h-1.5zM182.4 233.9h1.5v1.7h-1.5zM182.4 235.5h1.5v1.7h-1.5zM187.7 235.5h1.5v1.7h-1.5zM107.4 237.0h1.5v1.7h-1.5zM114.1 237.0h1.5v1.7h-1.5zM178.3 237.0h1.5v1.7h-1.5zM183.7 237.0h2.8v1.7h-2.8zM111.4 238.6h1.5v1.7h-1.5zM134.2 238.6h1.5v1.7h-1.5zM178.3 238.6h1.5v1.7h-1.5zM126.2 241.7h4.2v1.7h-4.2zM136.9 241.7h1.5v1.7h-1.5zM181.0 241.7h1.5v1.7h-1.5zM136.9 243.2h1.5v1.7h-1.5zM186.4 246.3h1.5v1.7h-1.5zM256.0 246.3h1.5v1.7h-1.5zM128.8 247.9h1.5v1.7h-1.5zM245.3 247.9h1.5v1.7h-1.5zM256.0 247.9h1.5v1.7h-1.5zM116.8 249.4h1.5v1.7h-1.5zM130.2 249.4h1.5v1.7h-1.5zM181.0 249.4h1.5v1.7h-1.5zM253.3 249.4h1.5v1.7h-1.5zM115.4 250.9h1.5v1.7h-1.5zM185.0 250.9h1.5v1.7h-1.5zM242.6 250.9h1.5v1.7h-1.5zM130.2 252.5h1.5v1.7h-1.5zM182.4 252.5h1.5v1.7h-1.5zM245.3 252.5h1.5v1.7h-1.5zM253.3 252.5h1.5v1.7h-1.5zM175.7 254.0h1.5v1.7h-1.5zM179.7 254.0h1.5v1.7h-1.5zM171.7 255.6h1.5v1.7h-1.5zM179.7 255.6h1.5v1.7h-1.5zM171.7 258.7h1.5v1.7h-1.5zM179.7 258.7h1.5v1.7h-1.5zM114.1 261.8h1.5v1.7h-1.5zM118.1 261.8h1.5v1.7h-1.5zM175.7 261.8h4.2v1.7h-4.2zM250.6 261.8h1.5v1.7h-1.5zM112.8 263.3h1.5v1.7h-1.5zM118.1 263.3h1.5v1.7h-1.5zM237.2 263.3h2.8v1.7h-2.8zM118.1 264.9h1.5v1.7h-1.5zM118.1 266.4h1.5v1.7h-1.5zM118.1 267.9h1.5v1.7h-1.5zM112.8 269.5h1.5v1.7h-1.5zM114.1 271.0h1.5v1.7h-1.5zM111.4 275.7h1.5v1.7h-1.5zM114.1 275.7h1.5v1.7h-1.5zM114.1 277.2h2.8v1.7h-2.8zM112.8 278.8h1.5v1.7h-1.5z"/>
<path fill="#f8f6f1" d="M221.2 178.3h1.5v1.7h-1.5zM225.2 178.3h8.2v1.7h-8.2zM252.0 178.3h9.5v1.7h-9.5zM214.5 179.9h2.8v1.7h-2.8zM225.2 179.9h8.2v1.7h-8.2zM235.9 179.9h6.8v1.7h-6.8zM253.3 179.9h6.8v1.7h-6.8zM57.9 181.4h2.8v1.7h-2.8zM174.3 181.4h6.8v1.7h-6.8zM214.5 181.4h6.8v1.7h-6.8zM226.5 181.4h16.2v1.7h-16.2zM247.9 181.4h5.5v1.7h-5.5zM256.0 181.4h12.2v1.7h-12.2zM280.1 181.4h1.5v1.7h-1.5zM40.5 183.0h2.8v1.7h-2.8zM57.9 183.0h2.8v1.7h-2.8zM63.3 183.0h2.8v1.7h-2.8zM68.6 183.0h2.8v1.7h-2.8zM78.0 183.0h4.2v1.7h-4.2zM87.3 183.0h5.5v1.7h-5.5zM99.4 183.0h2.8v1.7h-2.8zM108.8 183.0h8.2v1.7h-8.2zM170.3 183.0h2.8v1.7h-2.8zM175.7 183.0h8.2v1.7h-8.2zM190.4 183.0h1.5v1.7h-1.5zM193.1 183.0h12.2v1.7h-12.2zM213.1 183.0h6.8v1.7h-6.8zM225.2 183.0h8.2v1.7h-8.2zM234.6 183.0h8.2v1.7h-8.2zM247.9 183.0h5.5v1.7h-5.5zM256.0 183.0h5.5v1.7h-5.5zM264.0 183.0h17.5v1.7h-17.5zM40.5 184.5h2.8v1.7h-2.8zM51.2 184.5h1.5v1.7h-1.5zM59.2 184.5h1.5v1.7h-1.5zM63.3 184.5h2.8v1.7h-2.8zM69.9 184.5h1.5v1.7h-1.5zM78.0 184.5h5.5v1.7h-5.5zM84.7 184.5h4.2v1.7h-4.2zM90.0 184.5h2.8v1.7h-2.8zM99.4 184.5h2.8v1.7h-2.8zM108.8 184.5h12.2v1.7h-12.2zM146.2 184.5h4.2v1.7h-4.2zM169.0 184.5h2.8v1.7h-2.8zM173.0 184.5h4.2v1.7h-4.2zM178.3 184.5h5.5v1.7h-5.5zM186.4 184.5h9.5v1.7h-9.5zM198.4 184.5h2.8v1.7h-2.8zM203.8 184.5h14.9v1.7h-14.9zM226.5 184.5h6.8v1.7h-6.8zM235.9 184.5h5.5v1.7h-5.5zM243.9 184.5h2.8v1.7h-2.8zM247.9 184.5h5.5v1.7h-5.5zM256.0 184.5h4.2v1.7h-4.2zM265.3 184.5h16.2v1.7h-16.2zM40.5 186.0h2.8v1.7h-2.8zM83.3 186.0h2.8v1.7h-2.8zM92.7 186.0h2.8v1.7h-2.8zM96.7 186.0h1.5v1.7h-1.5zM108.8 186.0h9.5v1.7h-9.5zM143.6 186.0h6.8v1.7h-6.8zM167.6 186.0h5.5v1.7h-5.5zM181.0 186.0h1.5v1.7h-1.5zM183.7 186.0h1.5v1.7h-1.5zM189.1 186.0h4.2v1.7h-4.2zM198.4 186.0h2.8v1.7h-2.8zM205.1 186.0h13.5v1.7h-13.5zM230.5 186.0h2.8v1.7h-2.8zM246.6 186.0h6.8v1.7h-6.8zM257.3 186.0h2.8v1.7h-2.8zM266.7 186.0h1.5v1.7h-1.5zM270.7 186.0h8.2v1.7h-8.2zM65.9 187.6h6.8v1.7h-6.8zM75.3 187.6h1.5v1.7h-1.5zM78.0 187.6h1.5v1.7h-1.5zM99.4 187.6h1.5v1.7h-1.5zM102.1 187.6h2.8v1.7h-2.8zM108.8 187.6h2.8v1.7h-2.8zM114.1 187.6h1.5v1.7h-1.5zM146.2 187.6h2.8v1.7h-2.8zM163.6 187.6h5.5v1.7h-5.5zM170.3 187.6h1.5v1.7h-1.5zM187.7 187.6h2.8v1.7h-2.8zM198.4 187.6h2.8v1.7h-2.8zM202.4 187.6h2.8v1.7h-2.8zM207.8 187.6h1.5v1.7h-1.5zM210.5 187.6h8.2v1.7h-8.2zM226.5 187.6h4.2v1.7h-4.2zM252.0 187.6h2.8v1.7h-2.8zM257.3 187.6h2.8v1.7h-2.8zM266.7 187.6h1.5v1.7h-1.5zM270.7 187.6h9.5v1.7h-9.5zM48.5 189.1h2.8v1.7h-2.8zM67.3 189.1h9.5v1.7h-9.5zM78.0 189.1h1.5v1.7h-1.5zM106.1 189.1h4.2v1.7h-4.2zM159.6 189.1h1.5v1.7h-1.5zM163.6 189.1h2.8v1.7h-2.8zM170.3 189.1h2.8v1.7h-2.8zM183.7 189.1h1.5v1.7h-1.5zM187.7 189.1h2.8v1.7h-2.8zM194.4 189.1h1.5v1.7h-1.5zM202.4 189.1h8.2v1.7h-8.2zM211.8 189.1h2.8v1.7h-2.8zM217.2 189.1h1.5v1.7h-1.5zM221.2 189.1h9.5v1.7h-9.5zM235.9 189.1h1.5v1.7h-1.5zM243.9 189.1h1.5v1.7h-1.5zM249.3 189.1h4.2v1.7h-4.2zM254.6 189.1h5.5v1.7h-5.5zM266.7 189.1h2.8v1.7h-2.8zM272.0 189.1h6.8v1.7h-6.8zM67.3 190.7h6.8v1.7h-6.8zM83.3 190.7h2.8v1.7h-2.8zM108.8 190.7h5.5v1.7h-5.5zM116.8 190.7h2.8v1.7h-2.8zM156.9 190.7h2.8v1.7h-2.8zM163.6 190.7h2.8v1.7h-2.8zM169.0 190.7h1.5v1.7h-1.5zM171.7 190.7h1.5v1.7h-1.5zM177.0 190.7h5.5v1.7h-5.5zM186.4 190.7h2.8v1.7h-2.8zM193.1 190.7h2.8v1.7h-2.8zM202.4 190.7h10.9v1.7h-10.9zM214.5 190.7h5.5v1.7h-5.5zM221.2 190.7h10.9v1.7h-10.9zM237.2 190.7h5.5v1.7h-5.5zM253.3 190.7h6.8v1.7h-6.8zM71.3 192.2h1.5v1.7h-1.5zM74.0 192.2h1.5v1.7h-1.5zM82.0 192.2h5.5v1.7h-5.5zM94.0 192.2h2.8v1.7h-2.8zM100.7 192.2h2.8v1.7h-2.8zM107.4 192.2h13.5v1.7h-13.5zM166.3 192.2h1.5v1.7h-1.5zM169.0 192.2h1.5v1.7h-1.5zM171.7 192.2h2.8v1.7h-2.8zM179.7 192.2h2.8v1.7h-2.8zM194.4 192.2h1.5v1.7h-1.5zM199.8 192.2h2.8v1.7h-2.8zM206.5 192.2h1.5v1.7h-1.5zM210.5 192.2h8.2v1.7h-8.2zM222.5 192.2h9.5v1.7h-9.5zM235.9 192.2h8.2v1.7h-8.2zM246.6 192.2h2.8v1.7h-2.8zM265.3 192.2h1.5v1.7h-1.5zM49.9 193.8h2.8v1.7h-2.8zM92.7 193.8h2.8v1.7h-2.8zM102.1 193.8h4.2v1.7h-4.2zM107.4 193.8h2.8v1.7h-2.8zM112.8 193.8h2.8v1.7h-2.8zM116.8 193.8h5.5v1.7h-5.5zM156.9 193.8h4.2v1.7h-4.2zM166.3 193.8h5.5v1.7h-5.5zM173.0 193.8h1.5v1.7h-1.5zM181.0 193.8h1.5v1.7h-1.5zM199.8 193.8h16.2v1.7h-16.2zM222.5 193.8h1.5v1.7h-1.5zM225.2 193.8h8.2v1.7h-8.2zM234.6 193.8h9.5v1.7h-9.5zM245.3 193.8h8.2v1.7h-8.2zM264.0 193.8h2.8v1.7h-2.8zM43.2 195.3h1.5v1.7h-1.5zM71.3 195.3h1.5v1.7h-1.5zM78.0 195.3h1.5v1.7h-1.5zM82.0 195.3h1.5v1.7h-1.5zM91.4 195.3h5.5v1.7h-5.5zM100.7 195.3h1.5v1.7h-1.5zM114.1 195.3h1.5v1.7h-1.5zM116.8 195.3h2.8v1.7h-2.8zM120.8 195.3h2.8v1.7h-2.8zM155.6 195.3h6.8v1.7h-6.8zM163.6 195.3h1.5v1.7h-1.5zM169.0 195.3h2.8v1.7h-2.8zM177.0 195.3h1.5v1.7h-1.5zM202.4 195.3h5.5v1.7h-5.5zM209.1 195.3h1.5v1.7h-1.5zM213.1 195.3h29.6v1.7h-29.6zM245.3 195.3h12.2v1.7h-12.2zM75.3 196.9h1.5v1.7h-1.5zM78.0 196.9h2.8v1.7h-2.8zM82.0 196.9h1.5v1.7h-1.5zM87.3 196.9h1.5v1.7h-1.5zM91.4 196.9h2.8v1.7h-2.8zM100.7 196.9h1.5v1.7h-1.5zM112.8 196.9h1.5v1.7h-1.5zM116.8 196.9h8.2v1.7h-8.2zM156.9 196.9h6.8v1.7h-6.8zM195.7 196.9h1.5v1.7h-1.5zM201.1 196.9h2.8v1.7h-2.8zM205.1 196.9h2.8v1.7h-2.8zM209.1 196.9h1.5v1.7h-1.5zM213.1 196.9h1.5v1.7h-1.5zM219.8 196.9h2.8v1.7h-2.8zM229.2 196.9h4.2v1.7h-4.2zM239.9 196.9h2.8v1.7h-2.8zM246.6 196.9h9.5v1.7h-9.5zM75.3 198.4h1.5v1.7h-1.5zM84.7 198.4h1.5v1.7h-1.5zM91.4 198.4h2.8v1.7h-2.8zM98.0 198.4h2.8v1.7h-2.8zM103.4 198.4h1.5v1.7h-1.5zM116.8 198.4h9.5v1.7h-9.5zM156.9 198.4h4.2v1.7h-4.2zM162.3 198.4h1.5v1.7h-1.5zM182.4 198.4h1.5v1.7h-1.5zM190.4 198.4h4.2v1.7h-4.2zM195.7 198.4h1.5v1.7h-1.5zM219.8 198.4h1.5v1.7h-1.5zM245.3 198.4h1.5v1.7h-1.5zM247.9 198.4h6.8v1.7h-6.8zM257.3 198.4h1.5v1.7h-1.5zM83.3 200.0h1.5v1.7h-1.5zM91.4 200.0h2.8v1.7h-2.8zM96.7 200.0h2.8v1.7h-2.8zM102.1 200.0h2.8v1.7h-2.8zM106.1 200.0h1.5v1.7h-1.5zM111.4 200.0h2.8v1.7h-2.8zM115.4 200.0h1.5v1.7h-1.5zM118.1 200.0h1.5v1.7h-1.5zM120.8 200.0h5.5v1.7h-5.5zM159.6 200.0h1.5v1.7h-1.5zM185.0 200.0h1.5v1.7h-1.5zM189.1 200.0h2.8v1.7h-2.8zM193.1 200.0h2.8v1.7h-2.8zM199.8 200.0h2.8v1.7h-2.8zM219.8 200.0h1.5v1.7h-1.5zM241.2 200.0h1.5v1.7h-1.5zM245.3 200.0h2.8v1.7h-2.8zM249.3 200.0h5.5v1.7h-5.5zM261.3 200.0h1.5v1.7h-1.5zM90.0 201.5h2.8v1.7h-2.8zM96.7 201.5h2.8v1.7h-2.8zM102.1 201.5h2.8v1.7h-2.8zM106.1 201.5h6.8v1.7h-6.8zM115.4 201.5h5.5v1.7h-5.5zM185.0 201.5h4.2v1.7h-4.2zM190.4 201.5h2.8v1.7h-2.8zM194.4 201.5h4.2v1.7h-4.2zM207.8 201.5h1.5v1.7h-1.5zM213.1 201.5h1.5v1.7h-1.5zM239.9 201.5h1.5v1.7h-1.5zM247.9 201.5h5.5v1.7h-5.5zM254.6 201.5h1.5v1.7h-1.5zM257.3 201.5h4.2v1.7h-4.2zM103.4 203.0h1.5v1.7h-1.5zM106.1 203.0h5.5v1.7h-5.5zM189.1 203.0h4.2v1.7h-4.2zM198.4 203.0h17.5v1.7h-17.5zM219.8 203.0h4.2v1.7h-4.2zM225.2 203.0h4.2v1.7h-4.2zM233.2 203.0h4.2v1.7h-4.2zM239.9 203.0h1.5v1.7h-1.5zM249.3 203.0h2.8v1.7h-2.8zM254.6 203.0h1.5v1.7h-1.5zM257.3 203.0h1.5v1.7h-1.5zM98.0 204.6h1.5v1.7h-1.5zM103.4 204.6h1.5v1.7h-1.5zM110.1 204.6h4.2v1.7h-4.2zM162.3 204.6h1.5v1.7h-1.5zM182.4 204.6h1.5v1.7h-1.5zM191.7 204.6h1.5v1.7h-1.5zM195.7 204.6h1.5v1.7h-1.5zM198.4 204.6h5.5v1.7h-5.5zM205.1 204.6h4.2v1.7h-4.2zM210.5 204.6h4.2v1.7h-4.2zM227.9 204.6h2.8v1.7h-2.8zM233.2 204.6h4.2v1.7h-4.2zM243.9 204.6h1.5v1.7h-1.5zM98.0 206.1h2.8v1.7h-2.8zM102.1 206.1h2.8v1.7h-2.8zM108.8 206.1h2.8v1.7h-2.8zM162.3 206.1h1.5v1.7h-1.5zM166.3 206.1h1.5v1.7h-1.5zM178.3 206.1h2.8v1.7h-2.8zM185.0 206.1h1.5v1.7h-1.5zM193.1 206.1h1.5v1.7h-1.5zM197.1 206.1h10.9v1.7h-10.9zM210.5 206.1h4.2v1.7h-4.2zM227.9 206.1h1.5v1.7h-1.5zM233.2 206.1h2.8v1.7h-2.8zM243.9 206.1h1.5v1.7h-1.5zM253.3 206.1h1.5v1.7h-1.5zM103.4 207.7h1.5v1.7h-1.5zM108.8 207.7h2.8v1.7h-2.8zM162.3 207.7h5.5v1.7h-5.5zM169.0 207.7h1.5v1.7h-1.5zM174.3 207.7h1.5v1.7h-1.5zM178.3 207.7h2.8v1.7h-2.8zM193.1 207.7h1.5v1.7h-1.5zM198.4 207.7h2.8v1.7h-2.8zM202.4 207.7h2.8v1.7h-2.8zM207.8 207.7h1.5v1.7h-1.5zM210.5 207.7h4.2v1.7h-4.2zM227.9 207.7h1.5v1.7h-1.5zM231.9 207.7h4.2v1.7h-4.2zM243.9 207.7h1.5v1.7h-1.5zM246.6 207.7h1.5v1.7h-1.5zM252.0 207.7h4.2v1.7h-4.2zM108.8 209.2h2.8v1.7h-2.8zM163.6 209.2h4.2v1.7h-4.2zM175.7 209.2h4.2v1.7h-4.2zM201.1 209.2h2.8v1.7h-2.8zM210.5 209.2h2.8v1.7h-2.8zM227.9 209.2h1.5v1.7h-1.5zM230.5 209.2h5.5v1.7h-5.5zM239.9 209.2h1.5v1.7h-1.5zM246.6 209.2h9.5v1.7h-9.5zM154.3 210.8h6.8v1.7h-6.8zM162.3 210.8h9.5v1.7h-9.5zM183.7 210.8h4.2v1.7h-4.2zM210.5 210.8h4.2v1.7h-4.2zM227.9 210.8h4.2v1.7h-4.2zM234.6 210.8h1.5v1.7h-1.5zM246.6 210.8h5.5v1.7h-5.5zM82.0 212.3h1.5v1.7h-1.5zM87.3 212.3h1.5v1.7h-1.5zM96.7 212.3h1.5v1.7h-1.5zM104.7 212.3h1.5v1.7h-1.5zM156.9 212.3h22.9v1.7h-22.9zM182.4 212.3h6.8v1.7h-6.8zM210.5 212.3h4.2v1.7h-4.2zM229.2 212.3h2.8v1.7h-2.8zM234.6 212.3h1.5v1.7h-1.5zM247.9 212.3h1.5v1.7h-1.5zM83.3 213.9h6.8v1.7h-6.8zM95.4 213.9h2.8v1.7h-2.8zM100.7 213.9h1.5v1.7h-1.5zM106.1 213.9h1.5v1.7h-1.5zM155.6 213.9h33.6v1.7h-33.6zM203.8 213.9h2.8v1.7h-2.8zM207.8 213.9h6.8v1.7h-6.8zM217.2 213.9h2.8v1.7h-2.8zM229.2 213.9h2.8v1.7h-2.8zM234.6 213.9h2.8v1.7h-2.8zM239.9 213.9h2.8v1.7h-2.8zM84.7 215.4h4.2v1.7h-4.2zM95.4 215.4h1.5v1.7h-1.5zM106.1 215.4h4.2v1.7h-4.2zM151.6 215.4h1.5v1.7h-1.5zM155.6 215.4h2.8v1.7h-2.8zM159.6 215.4h1.5v1.7h-1.5zM162.3 215.4h12.2v1.7h-12.2zM177.0 215.4h9.5v1.7h-9.5zM189.1 215.4h5.5v1.7h-5.5zM199.8 215.4h1.5v1.7h-1.5zM202.4 215.4h6.8v1.7h-6.8zM211.8 215.4h8.2v1.7h-8.2zM222.5 215.4h1.5v1.7h-1.5zM226.5 215.4h1.5v1.7h-1.5zM229.2 215.4h2.8v1.7h-2.8zM237.2 215.4h1.5v1.7h-1.5zM246.6 215.4h1.5v1.7h-1.5zM87.3 217.0h1.5v1.7h-1.5zM106.1 217.0h1.5v1.7h-1.5zM150.2 217.0h6.8v1.7h-6.8zM162.3 217.0h1.5v1.7h-1.5zM166.3 217.0h1.5v1.7h-1.5zM169.0 217.0h1.5v1.7h-1.5zM175.7 217.0h2.8v1.7h-2.8zM182.4 217.0h2.8v1.7h-2.8zM189.1 217.0h5.5v1.7h-5.5zM198.4 217.0h5.5v1.7h-5.5zM205.1 217.0h2.8v1.7h-2.8zM217.2 217.0h2.8v1.7h-2.8zM221.2 217.0h2.8v1.7h-2.8zM227.9 217.0h8.2v1.7h-8.2zM237.2 217.0h5.5v1.7h-5.5zM87.3 218.5h1.5v1.7h-1.5zM104.7 218.5h4.2v1.7h-4.2zM150.2 218.5h4.2v1.7h-4.2zM155.6 218.5h5.5v1.7h-5.5zM162.3 218.5h1.5v1.7h-1.5zM165.0 218.5h1.5v1.7h-1.5zM169.0 218.5h2.8v1.7h-2.8zM175.7 218.5h5.5v1.7h-5.5zM189.1 218.5h9.5v1.7h-9.5zM206.5 218.5h1.5v1.7h-1.5zM217.2 218.5h1.5v1.7h-1.5zM221.2 218.5h2.8v1.7h-2.8zM229.2 218.5h6.8v1.7h-6.8zM237.2 218.5h2.8v1.7h-2.8zM241.2 218.5h1.5v1.7h-1.5zM99.4 220.0h5.5v1.7h-5.5zM106.1 220.0h5.5v1.7h-5.5zM148.9 220.0h8.2v1.7h-8.2zM159.6 220.0h5.5v1.7h-5.5zM170.3 220.0h1.5v1.7h-1.5zM175.7 220.0h5.5v1.7h-5.5zM187.7 220.0h10.9v1.7h-10.9zM215.8 220.0h2.8v1.7h-2.8zM219.8 220.0h1.5v1.7h-1.5zM229.2 220.0h6.8v1.7h-6.8zM90.0 221.6h5.5v1.7h-5.5zM96.7 221.6h5.5v1.7h-5.5zM108.8 221.6h8.2v1.7h-8.2zM150.2 221.6h1.5v1.7h-1.5zM152.9 221.6h4.2v1.7h-4.2zM158.3 221.6h16.2v1.7h-16.2zM178.3 221.6h2.8v1.7h-2.8zM185.0 221.6h1.5v1.7h-1.5zM187.7 221.6h1.5v1.7h-1.5zM190.4 221.6h1.5v1.7h-1.5zM194.4 221.6h4.2v1.7h-4.2zM215.8 221.6h1.5v1.7h-1.5zM233.2 221.6h2.8v1.7h-2.8zM241.2 221.6h1.5v1.7h-1.5zM92.7 223.1h8.2v1.7h-8.2zM108.8 223.1h1.5v1.7h-1.5zM148.9 223.1h16.2v1.7h-16.2zM166.3 223.1h1.5v1.7h-1.5zM169.0 223.1h8.2v1.7h-8.2zM178.3 223.1h5.5v1.7h-5.5zM191.7 223.1h6.8v1.7h-6.8zM215.8 223.1h1.5v1.7h-1.5zM225.2 223.1h1.5v1.7h-1.5zM241.2 223.1h2.8v1.7h-2.8zM95.4 224.7h1.5v1.7h-1.5zM148.9 224.7h1.5v1.7h-1.5zM173.0 224.7h5.5v1.7h-5.5zM182.4 224.7h1.5v1.7h-1.5zM185.0 224.7h1.5v1.7h-1.5zM189.1 224.7h1.5v1.7h-1.5zM191.7 224.7h4.2v1.7h-4.2zM210.5 224.7h5.5v1.7h-5.5zM233.2 224.7h1.5v1.7h-1.5zM241.2 224.7h1.5v1.7h-1.5zM104.7 226.2h1.5v1.7h-1.5zM175.7 226.2h2.8v1.7h-2.8zM186.4 226.2h1.5v1.7h-1.5zM189.1 226.2h4.2v1.7h-4.2zM210.5 226.2h2.8v1.7h-2.8zM233.2 226.2h1.5v1.7h-1.5zM241.2 226.2h2.8v1.7h-2.8zM103.4 227.8h2.8v1.7h-2.8zM110.1 227.8h4.2v1.7h-4.2zM178.3 227.8h4.2v1.7h-4.2zM187.7 227.8h2.8v1.7h-2.8zM194.4 227.8h1.5v1.7h-1.5zM211.8 227.8h1.5v1.7h-1.5zM233.2 227.8h1.5v1.7h-1.5zM239.9 227.8h1.5v1.7h-1.5zM242.6 227.8h1.5v1.7h-1.5zM103.4 229.3h6.8v1.7h-6.8zM163.6 229.3h1.5v1.7h-1.5zM179.7 229.3h2.8v1.7h-2.8zM187.7 229.3h2.8v1.7h-2.8zM194.4 229.3h1.5v1.7h-1.5zM226.5 229.3h1.5v1.7h-1.5zM230.5 229.3h2.8v1.7h-2.8zM238.6 229.3h2.8v1.7h-2.8zM106.1 230.9h2.8v1.7h-2.8zM111.4 230.9h1.5v1.7h-1.5zM114.1 230.9h1.5v1.7h-1.5zM120.8 230.9h2.8v1.7h-2.8zM152.9 230.9h1.5v1.7h-1.5zM159.6 230.9h5.5v1.7h-5.5zM167.6 230.9h6.8v1.7h-6.8zM179.7 230.9h2.8v1.7h-2.8zM190.4 230.9h1.5v1.7h-1.5zM193.1 230.9h1.5v1.7h-1.5zM226.5 230.9h2.8v1.7h-2.8zM245.3 230.9h1.5v1.7h-1.5zM110.1 232.4h1.5v1.7h-1.5zM114.1 232.4h1.5v1.7h-1.5zM118.1 232.4h2.8v1.7h-2.8zM123.5 232.4h4.2v1.7h-4.2zM158.3 232.4h1.5v1.7h-1.5zM163.6 232.4h1.5v1.7h-1.5zM167.6 232.4h6.8v1.7h-6.8zM179.7 232.4h2.8v1.7h-2.8zM190.4 232.4h4.2v1.7h-4.2zM223.9 232.4h2.8v1.7h-2.8zM227.9 232.4h2.8v1.7h-2.8zM238.6 232.4h2.8v1.7h-2.8zM110.1 233.9h1.5v1.7h-1.5zM115.4 233.9h2.8v1.7h-2.8zM123.5 233.9h1.5v1.7h-1.5zM169.0 233.9h5.5v1.7h-5.5zM178.3 233.9h1.5v1.7h-1.5zM181.0 233.9h1.5v1.7h-1.5zM189.1 233.9h4.2v1.7h-4.2zM225.2 233.9h5.5v1.7h-5.5zM234.6 233.9h1.5v1.7h-1.5zM238.6 233.9h1.5v1.7h-1.5zM114.1 235.5h4.2v1.7h-4.2zM123.5 235.5h1.5v1.7h-1.5zM169.0 235.5h5.5v1.7h-5.5zM181.0 235.5h1.5v1.7h-1.5zM189.1 235.5h2.8v1.7h-2.8zM230.5 235.5h1.5v1.7h-1.5zM233.2 235.5h1.5v1.7h-1.5zM238.6 235.5h1.5v1.7h-1.5zM246.6 235.5h1.5v1.7h-1.5zM99.4 237.0h1.5v1.7h-1.5zM115.4 237.0h1.5v1.7h-1.5zM123.5 237.0h1.5v1.7h-1.5zM126.2 237.0h1.5v1.7h-1.5zM166.3 237.0h1.5v1.7h-1.5zM173.0 237.0h1.5v1.7h-1.5zM181.0 237.0h1.5v1.7h-1.5zM186.4 237.0h4.2v1.7h-4.2zM227.9 237.0h1.5v1.7h-1.5zM238.6 237.0h1.5v1.7h-1.5zM249.3 237.0h1.5v1.7h-1.5zM252.0 237.0h1.5v1.7h-1.5zM107.4 238.6h1.5v1.7h-1.5zM112.8 238.6h4.2v1.7h-4.2zM123.5 238.6h1.5v1.7h-1.5zM181.0 238.6h6.8v1.7h-6.8zM227.9 238.6h4.2v1.7h-4.2zM239.9 238.6h1.5v1.7h-1.5zM245.3 238.6h1.5v1.7h-1.5zM253.3 238.6h4.2v1.7h-4.2zM112.8 240.1h4.2v1.7h-4.2zM123.5 240.1h1.5v1.7h-1.5zM178.3 240.1h5.5v1.7h-5.5zM185.0 240.1h2.8v1.7h-2.8zM230.5 240.1h1.5v1.7h-1.5zM239.9 240.1h4.2v1.7h-4.2zM253.3 240.1h8.2v1.7h-8.2zM112.8 241.7h5.5v1.7h-5.5zM124.8 241.7h1.5v1.7h-1.5zM178.3 241.7h2.8v1.7h-2.8zM185.0 241.7h2.8v1.7h-2.8zM231.9 241.7h2.8v1.7h-2.8zM247.9 241.7h1.5v1.7h-1.5zM253.3 241.7h2.8v1.7h-2.8zM258.6 241.7h2.8v1.7h-2.8zM112.8 243.2h5.5v1.7h-5.5zM124.8 243.2h5.5v1.7h-5.5zM173.0 243.2h2.8v1.7h-2.8zM178.3 243.2h2.8v1.7h-2.8zM185.0 243.2h2.8v1.7h-2.8zM241.2 243.2h1.5v1.7h-1.5zM243.9 243.2h2.8v1.7h-2.8zM253.3 243.2h8.2v1.7h-8.2zM114.1 244.8h5.5v1.7h-5.5zM122.1 244.8h1.5v1.7h-1.5zM124.8 244.8h4.2v1.7h-4.2zM171.7 244.8h4.2v1.7h-4.2zM185.0 244.8h5.5v1.7h-5.5zM242.6 244.8h1.5v1.7h-1.5zM247.9 244.8h2.8v1.7h-2.8zM256.0 244.8h1.5v1.7h-1.5zM260.0 244.8h1.5v1.7h-1.5zM116.8 246.3h2.8v1.7h-2.8zM124.8 246.3h4.2v1.7h-4.2zM132.8 246.3h2.8v1.7h-2.8zM171.7 246.3h4.2v1.7h-4.2zM179.7 246.3h1.5v1.7h-1.5zM185.0 246.3h1.5v1.7h-1.5zM187.7 246.3h1.5v1.7h-1.5zM247.9 246.3h2.8v1.7h-2.8zM254.6 246.3h1.5v1.7h-1.5zM110.1 247.9h1.5v1.7h-1.5zM115.4 247.9h4.2v1.7h-4.2zM126.2 247.9h2.8v1.7h-2.8zM173.0 247.9h8.2v1.7h-8.2zM246.6 247.9h1.5v1.7h-1.5zM249.3 247.9h1.5v1.7h-1.5zM254.6 247.9h1.5v1.7h-1.5zM257.3 247.9h1.5v1.7h-1.5zM272.0 247.9h1.5v1.7h-1.5zM111.4 249.4h1.5v1.7h-1.5zM114.1 249.4h2.8v1.7h-2.8zM118.1 249.4h1.5v1.7h-1.5zM127.5 249.4h2.8v1.7h-2.8zM175.7 249.4h5.5v1.7h-5.5zM186.4 249.4h1.5v1.7h-1.5zM245.3 249.4h1.5v1.7h-1.5zM249.3 249.4h2.8v1.7h-2.8zM278.7 249.4h2.8v1.7h-2.8zM112.8 250.9h2.8v1.7h-2.8zM120.8 250.9h1.5v1.7h-1.5zM177.0 250.9h5.5v1.7h-5.5zM191.7 250.9h2.8v1.7h-2.8zM243.9 250.9h4.2v1.7h-4.2zM253.3 250.9h1.5v1.7h-1.5zM114.1 252.5h1.5v1.7h-1.5zM175.7 252.5h5.5v1.7h-5.5zM191.7 252.5h2.8v1.7h-2.8zM197.1 252.5h2.8v1.7h-2.8zM242.6 252.5h2.8v1.7h-2.8zM254.6 252.5h1.5v1.7h-1.5zM270.7 252.5h1.5v1.7h-1.5zM114.1 254.0h1.5v1.7h-1.5zM118.1 254.0h1.5v1.7h-1.5zM130.2 254.0h2.8v1.7h-2.8zM173.0 254.0h2.8v1.7h-2.8zM183.7 254.0h1.5v1.7h-1.5zM258.6 254.0h1.5v1.7h-1.5zM272.0 254.0h1.5v1.7h-1.5zM114.1 255.6h1.5v1.7h-1.5zM118.1 255.6h2.8v1.7h-2.8zM124.8 255.6h1.5v1.7h-1.5zM170.3 255.6h1.5v1.7h-1.5zM191.7 255.6h1.5v1.7h-1.5zM258.6 255.6h1.5v1.7h-1.5zM112.8 257.1h2.8v1.7h-2.8zM119.5 257.1h1.5v1.7h-1.5zM170.3 257.1h1.5v1.7h-1.5zM179.7 257.1h1.5v1.7h-1.5zM237.2 257.1h2.8v1.7h-2.8zM112.8 258.7h2.8v1.7h-2.8zM119.5 258.7h1.5v1.7h-1.5zM173.0 258.7h2.8v1.7h-2.8zM238.6 258.7h1.5v1.7h-1.5zM241.2 258.7h1.5v1.7h-1.5zM112.8 260.2h2.8v1.7h-2.8zM119.5 260.2h1.5v1.7h-1.5zM171.7 260.2h1.5v1.7h-1.5zM174.3 260.2h2.8v1.7h-2.8zM181.0 260.2h1.5v1.7h-1.5zM112.8 261.8h1.5v1.7h-1.5zM119.5 261.8h1.5v1.7h-1.5zM179.7 261.8h1.5v1.7h-1.5zM253.3 261.8h1.5v1.7h-1.5zM111.4 263.3h1.5v1.7h-1.5zM119.5 263.3h2.8v1.7h-2.8zM175.7 263.3h1.5v1.7h-1.5zM250.6 263.3h2.8v1.7h-2.8zM276.0 263.3h1.5v1.7h-1.5zM111.4 264.9h1.5v1.7h-1.5zM119.5 264.9h2.8v1.7h-2.8zM278.7 264.9h1.5v1.7h-1.5zM111.4 266.4h1.5v1.7h-1.5zM119.5 266.4h2.8v1.7h-2.8zM278.7 266.4h1.5v1.7h-1.5zM111.4 267.9h1.5v1.7h-1.5zM260.0 267.9h1.5v1.7h-1.5zM278.7 267.9h1.5v1.7h-1.5zM41.8 269.5h1.5v1.7h-1.5zM111.4 269.5h1.5v1.7h-1.5zM118.1 269.5h1.5v1.7h-1.5zM258.6 269.5h1.5v1.7h-1.5zM112.8 271.0h1.5v1.7h-1.5zM116.8 271.0h1.5v1.7h-1.5zM110.1 272.6h2.8v1.7h-2.8zM110.1 274.1h4.2v1.7h-4.2zM115.4 274.1h1.5v1.7h-1.5zM206.5 274.1h2.8v1.7h-2.8zM110.1 275.7h1.5v1.7h-1.5zM119.5 275.7h2.8v1.7h-2.8zM120.8 277.2h1.5v1.7h-1.5zM115.4 278.8h2.8v1.7h-2.8z"/>
<path fill="#edf1f5" d="M218.5 178.3h2.8v1.7h-2.8zM222.5 178.3h2.8v1.7h-2.8zM233.2 178.3h4.2v1.7h-4.2zM207.8 179.9h1.5v1.7h-1.5zM217.2 179.9h8.2v1.7h-8.2zM233.2 179.9h2.8v1.7h-2.8zM242.6 179.9h4.2v1.7h-4.2zM52.5 181.4h5.5v1.7h-5.5zM60.6 181.4h1.5v1.7h-1.5zM207.8 181.4h6.8v1.7h-6.8zM221.2 181.4h5.5v1.7h-5.5zM242.6 181.4h5.5v1.7h-5.5zM253.3 181.4h2.8v1.7h-2.8zM49.9 183.0h5.5v1.7h-5.5zM61.9 183.0h1.5v1.7h-1.5zM65.9 183.0h2.8v1.7h-2.8zM71.3 183.0h6.8v1.7h-6.8zM82.0 183.0h5.5v1.7h-5.5zM92.7 183.0h6.8v1.7h-6.8zM102.1 183.0h5.5v1.7h-5.5zM123.5 183.0h1.5v1.7h-1.5zM173.0 183.0h2.8v1.7h-2.8zM183.7 183.0h4.2v1.7h-4.2zM205.1 183.0h8.2v1.7h-8.2zM219.8 183.0h5.5v1.7h-5.5zM233.2 183.0h1.5v1.7h-1.5zM242.6 183.0h5.5v1.7h-5.5zM253.3 183.0h2.8v1.7h-2.8zM261.3 183.0h2.8v1.7h-2.8zM43.2 184.5h4.2v1.7h-4.2zM48.5 184.5h2.8v1.7h-2.8zM52.5 184.5h2.8v1.7h-2.8zM57.9 184.5h1.5v1.7h-1.5zM60.6 184.5h2.8v1.7h-2.8zM65.9 184.5h1.5v1.7h-1.5zM68.6 184.5h1.5v1.7h-1.5zM71.3 184.5h6.8v1.7h-6.8zM83.3 184.5h1.5v1.7h-1.5zM92.7 184.5h6.8v1.7h-6.8zM102.1 184.5h5.5v1.7h-5.5zM183.7 184.5h2.8v1.7h-2.8zM218.5 184.5h8.2v1.7h-8.2zM233.2 184.5h2.8v1.7h-2.8zM241.2 184.5h2.8v1.7h-2.8zM246.6 184.5h1.5v1.7h-1.5zM253.3 184.5h2.8v1.7h-2.8zM260.0 184.5h5.5v1.7h-5.5zM43.2 186.0h4.2v1.7h-4.2zM48.5 186.0h8.2v1.7h-8.2zM61.9 186.0h18.9v1.7h-18.9zM98.0 186.0h9.5v1.7h-9.5zM118.1 186.0h1.5v1.7h-1.5zM150.2 186.0h2.8v1.7h-2.8zM179.7 186.0h1.5v1.7h-1.5zM218.5 186.0h4.2v1.7h-4.2zM226.5 186.0h4.2v1.7h-4.2zM243.9 186.0h2.8v1.7h-2.8zM253.3 186.0h4.2v1.7h-4.2zM260.0 186.0h6.8v1.7h-6.8zM268.0 186.0h2.8v1.7h-2.8zM278.7 186.0h2.8v1.7h-2.8zM45.9 187.6h2.8v1.7h-2.8zM49.9 187.6h5.5v1.7h-5.5zM72.6 187.6h2.8v1.7h-2.8zM76.6 187.6h1.5v1.7h-1.5zM98.0 187.6h1.5v1.7h-1.5zM104.7 187.6h4.2v1.7h-4.2zM111.4 187.6h2.8v1.7h-2.8zM115.4 187.6h2.8v1.7h-2.8zM148.9 187.6h1.5v1.7h-1.5zM155.6 187.6h1.5v1.7h-1.5zM171.7 187.6h1.5v1.7h-1.5zM209.1 187.6h1.5v1.7h-1.5zM218.5 187.6h4.2v1.7h-4.2zM225.2 187.6h1.5v1.7h-1.5zM254.6 187.6h2.8v1.7h-2.8zM260.0 187.6h6.8v1.7h-6.8zM268.0 187.6h2.8v1.7h-2.8zM280.1 187.6h1.5v1.7h-1.5zM51.2 189.1h4.2v1.7h-4.2zM59.2 189.1h4.2v1.7h-4.2zM65.9 189.1h1.5v1.7h-1.5zM76.6 189.1h1.5v1.7h-1.5zM98.0 189.1h1.5v1.7h-1.5zM110.1 189.1h4.2v1.7h-4.2zM116.8 189.1h1.5v1.7h-1.5zM155.6 189.1h1.5v1.7h-1.5zM166.3 189.1h2.8v1.7h-2.8zM218.5 189.1h2.8v1.7h-2.8zM242.6 189.1h1.5v1.7h-1.5zM253.3 189.1h1.5v1.7h-1.5zM260.0 189.1h6.8v1.7h-6.8zM269.4 189.1h2.8v1.7h-2.8zM52.5 190.7h4.2v1.7h-4.2zM57.9 190.7h1.5v1.7h-1.5zM74.0 190.7h4.2v1.7h-4.2zM114.1 190.7h2.8v1.7h-2.8zM155.6 190.7h1.5v1.7h-1.5zM166.3 190.7h2.8v1.7h-2.8zM213.1 190.7h1.5v1.7h-1.5zM219.8 190.7h1.5v1.7h-1.5zM231.9 190.7h5.5v1.7h-5.5zM242.6 190.7h10.9v1.7h-10.9zM260.0 190.7h13.5v1.7h-13.5zM52.5 192.2h6.8v1.7h-6.8zM72.6 192.2h1.5v1.7h-1.5zM96.7 192.2h2.8v1.7h-2.8zM155.6 192.2h4.2v1.7h-4.2zM167.6 192.2h1.5v1.7h-1.5zM218.5 192.2h4.2v1.7h-4.2zM231.9 192.2h4.2v1.7h-4.2zM243.9 192.2h2.8v1.7h-2.8zM249.3 192.2h5.5v1.7h-5.5zM266.7 192.2h4.2v1.7h-4.2zM52.5 193.8h1.5v1.7h-1.5zM86.0 193.8h1.5v1.7h-1.5zM95.4 193.8h1.5v1.7h-1.5zM154.3 193.8h2.8v1.7h-2.8zM215.8 193.8h6.8v1.7h-6.8zM223.9 193.8h1.5v1.7h-1.5zM233.2 193.8h1.5v1.7h-1.5zM243.9 193.8h1.5v1.7h-1.5zM266.7 193.8h2.8v1.7h-2.8zM44.5 195.3h1.5v1.7h-1.5zM47.2 195.3h2.8v1.7h-2.8zM102.1 195.3h2.8v1.7h-2.8zM112.8 195.3h1.5v1.7h-1.5zM154.3 195.3h1.5v1.7h-1.5zM199.8 195.3h2.8v1.7h-2.8zM207.8 195.3h1.5v1.7h-1.5zM242.6 195.3h2.8v1.7h-2.8zM265.3 195.3h4.2v1.7h-4.2zM102.1 196.9h2.8v1.7h-2.8zM154.3 196.9h1.5v1.7h-1.5zM193.1 196.9h1.5v1.7h-1.5zM203.8 196.9h1.5v1.7h-1.5zM207.8 196.9h1.5v1.7h-1.5zM242.6 196.9h4.2v1.7h-4.2zM256.0 196.9h1.5v1.7h-1.5zM265.3 196.9h1.5v1.7h-1.5zM86.0 198.4h2.8v1.7h-2.8zM94.0 198.4h2.8v1.7h-2.8zM102.1 198.4h1.5v1.7h-1.5zM183.7 198.4h2.8v1.7h-2.8zM197.1 198.4h4.2v1.7h-4.2zM203.8 198.4h4.2v1.7h-4.2zM242.6 198.4h2.8v1.7h-2.8zM254.6 198.4h2.8v1.7h-2.8zM84.7 200.0h1.5v1.7h-1.5zM94.0 200.0h2.8v1.7h-2.8zM116.8 200.0h1.5v1.7h-1.5zM195.7 200.0h4.2v1.7h-4.2zM203.8 200.0h4.2v1.7h-4.2zM242.6 200.0h2.8v1.7h-2.8zM256.0 200.0h1.5v1.7h-1.5zM94.0 201.5h2.8v1.7h-2.8zM189.1 201.5h1.5v1.7h-1.5zM205.1 201.5h2.8v1.7h-2.8zM241.2 201.5h6.8v1.7h-6.8zM256.0 201.5h1.5v1.7h-1.5zM94.0 203.0h4.2v1.7h-4.2zM116.8 203.0h1.5v1.7h-1.5zM194.4 203.0h4.2v1.7h-4.2zM215.8 203.0h4.2v1.7h-4.2zM223.9 203.0h1.5v1.7h-1.5zM241.2 203.0h8.2v1.7h-8.2zM256.0 203.0h1.5v1.7h-1.5zM96.7 204.6h1.5v1.7h-1.5zM193.1 204.6h1.5v1.7h-1.5zM197.1 204.6h1.5v1.7h-1.5zM203.8 204.6h1.5v1.7h-1.5zM209.1 204.6h1.5v1.7h-1.5zM214.5 204.6h13.5v1.7h-13.5zM230.5 204.6h2.8v1.7h-2.8zM245.3 204.6h2.8v1.7h-2.8zM254.6 204.6h2.8v1.7h-2.8zM96.7 206.1h1.5v1.7h-1.5zM207.8 206.1h2.8v1.7h-2.8zM214.5 206.1h13.5v1.7h-13.5zM229.2 206.1h4.2v1.7h-4.2zM245.3 206.1h2.8v1.7h-2.8zM254.6 206.1h1.5v1.7h-1.5zM94.0 207.7h1.5v1.7h-1.5zM96.7 207.7h1.5v1.7h-1.5zM167.6 207.7h1.5v1.7h-1.5zM209.1 207.7h1.5v1.7h-1.5zM214.5 207.7h1.5v1.7h-1.5zM225.2 207.7h2.8v1.7h-2.8zM229.2 207.7h2.8v1.7h-2.8zM245.3 207.7h1.5v1.7h-1.5zM92.7 209.2h2.8v1.7h-2.8zM96.7 209.2h1.5v1.7h-1.5zM103.4 209.2h1.5v1.7h-1.5zM167.6 209.2h1.5v1.7h-1.5zM209.1 209.2h1.5v1.7h-1.5zM213.1 209.2h1.5v1.7h-1.5zM226.5 209.2h1.5v1.7h-1.5zM229.2 209.2h1.5v1.7h-1.5zM245.3 209.2h1.5v1.7h-1.5zM92.7 210.8h5.5v1.7h-5.5zM174.3 210.8h2.8v1.7h-2.8zM209.1 210.8h1.5v1.7h-1.5zM214.5 210.8h4.2v1.7h-4.2zM226.5 210.8h1.5v1.7h-1.5zM241.2 210.8h1.5v1.7h-1.5zM245.3 210.8h1.5v1.7h-1.5zM94.0 212.3h2.8v1.7h-2.8zM154.3 212.3h2.8v1.7h-2.8zM179.7 212.3h2.8v1.7h-2.8zM209.1 212.3h1.5v1.7h-1.5zM214.5 212.3h5.5v1.7h-5.5zM226.5 212.3h2.8v1.7h-2.8zM241.2 212.3h1.5v1.7h-1.5zM104.7 213.9h1.5v1.7h-1.5zM148.9 213.9h1.5v1.7h-1.5zM152.9 213.9h2.8v1.7h-2.8zM201.1 213.9h2.8v1.7h-2.8zM214.5 213.9h2.8v1.7h-2.8zM219.8 213.9h1.5v1.7h-1.5zM227.9 213.9h1.5v1.7h-1.5zM104.7 215.4h1.5v1.7h-1.5zM152.9 215.4h2.8v1.7h-2.8zM174.3 215.4h2.8v1.7h-2.8zM186.4 215.4h2.8v1.7h-2.8zM201.1 215.4h1.5v1.7h-1.5zM219.8 215.4h2.8v1.7h-2.8zM227.9 215.4h1.5v1.7h-1.5zM84.7 217.0h2.8v1.7h-2.8zM163.6 217.0h2.8v1.7h-2.8zM170.3 217.0h5.5v1.7h-5.5zM178.3 217.0h4.2v1.7h-4.2zM185.0 217.0h4.2v1.7h-4.2zM203.8 217.0h1.5v1.7h-1.5zM219.8 217.0h1.5v1.7h-1.5zM86.0 218.5h1.5v1.7h-1.5zM92.7 218.5h1.5v1.7h-1.5zM148.9 218.5h1.5v1.7h-1.5zM163.6 218.5h1.5v1.7h-1.5zM171.7 218.5h4.2v1.7h-4.2zM181.0 218.5h8.2v1.7h-8.2zM198.4 218.5h2.8v1.7h-2.8zM218.5 218.5h2.8v1.7h-2.8zM235.9 218.5h1.5v1.7h-1.5zM55.2 220.0h1.5v1.7h-1.5zM92.7 220.0h2.8v1.7h-2.8zM156.9 220.0h2.8v1.7h-2.8zM171.7 220.0h4.2v1.7h-4.2zM181.0 220.0h6.8v1.7h-6.8zM198.4 220.0h2.8v1.7h-2.8zM218.5 220.0h1.5v1.7h-1.5zM56.6 221.6h1.5v1.7h-1.5zM102.1 221.6h1.5v1.7h-1.5zM148.9 221.6h1.5v1.7h-1.5zM156.9 221.6h1.5v1.7h-1.5zM174.3 221.6h4.2v1.7h-4.2zM181.0 221.6h4.2v1.7h-4.2zM189.1 221.6h1.5v1.7h-1.5zM191.7 221.6h2.8v1.7h-2.8zM198.4 221.6h1.5v1.7h-1.5zM217.2 221.6h1.5v1.7h-1.5zM167.6 223.1h1.5v1.7h-1.5zM177.0 223.1h1.5v1.7h-1.5zM183.7 223.1h1.5v1.7h-1.5zM189.1 223.1h2.8v1.7h-2.8zM223.9 223.1h1.5v1.7h-1.5zM98.0 224.7h4.2v1.7h-4.2zM104.7 224.7h1.5v1.7h-1.5zM144.9 224.7h1.5v1.7h-1.5zM150.2 224.7h1.5v1.7h-1.5zM156.9 224.7h1.5v1.7h-1.5zM171.7 224.7h1.5v1.7h-1.5zM183.7 224.7h1.5v1.7h-1.5zM190.4 224.7h1.5v1.7h-1.5zM223.9 224.7h1.5v1.7h-1.5zM100.7 226.2h1.5v1.7h-1.5zM112.8 226.2h1.5v1.7h-1.5zM183.7 226.2h2.8v1.7h-2.8zM195.7 226.2h2.8v1.7h-2.8zM213.1 226.2h1.5v1.7h-1.5zM222.5 226.2h1.5v1.7h-1.5zM243.9 226.2h1.5v1.7h-1.5zM177.0 227.8h1.5v1.7h-1.5zM190.4 227.8h4.2v1.7h-4.2zM213.1 227.8h1.5v1.7h-1.5zM222.5 227.8h1.5v1.7h-1.5zM243.9 227.8h1.5v1.7h-1.5zM165.0 229.3h14.9v1.7h-14.9zM190.4 229.3h4.2v1.7h-4.2zM211.8 229.3h4.2v1.7h-4.2zM242.6 229.3h4.2v1.7h-4.2zM112.8 230.9h1.5v1.7h-1.5zM165.0 230.9h2.8v1.7h-2.8zM174.3 230.9h5.5v1.7h-5.5zM191.7 230.9h1.5v1.7h-1.5zM214.5 230.9h1.5v1.7h-1.5zM238.6 230.9h1.5v1.7h-1.5zM242.6 230.9h2.8v1.7h-2.8zM111.4 232.4h2.8v1.7h-2.8zM120.8 232.4h2.8v1.7h-2.8zM154.3 232.4h4.2v1.7h-4.2zM159.6 232.4h2.8v1.7h-2.8zM165.0 232.4h2.8v1.7h-2.8zM174.3 232.4h5.5v1.7h-5.5zM237.2 232.4h1.5v1.7h-1.5zM243.9 232.4h1.5v1.7h-1.5zM111.4 233.9h1.5v1.7h-1.5zM118.1 233.9h5.5v1.7h-5.5zM124.8 233.9h2.8v1.7h-2.8zM166.3 233.9h2.8v1.7h-2.8zM174.3 233.9h4.2v1.7h-4.2zM235.9 233.9h2.8v1.7h-2.8zM118.1 235.5h2.8v1.7h-2.8zM122.1 235.5h1.5v1.7h-1.5zM124.8 235.5h2.8v1.7h-2.8zM166.3 235.5h2.8v1.7h-2.8zM174.3 235.5h4.2v1.7h-4.2zM226.5 235.5h4.2v1.7h-4.2zM234.6 235.5h4.2v1.7h-4.2zM241.2 235.5h5.5v1.7h-5.5zM106.1 237.0h1.5v1.7h-1.5zM116.8 237.0h4.2v1.7h-4.2zM122.1 237.0h1.5v1.7h-1.5zM124.8 237.0h1.5v1.7h-1.5zM167.6 237.0h5.5v1.7h-5.5zM174.3 237.0h4.2v1.7h-4.2zM229.2 237.0h2.8v1.7h-2.8zM233.2 237.0h5.5v1.7h-5.5zM239.9 237.0h4.2v1.7h-4.2zM247.9 237.0h1.5v1.7h-1.5zM106.1 238.6h1.5v1.7h-1.5zM116.8 238.6h4.2v1.7h-4.2zM122.1 238.6h1.5v1.7h-1.5zM167.6 238.6h10.9v1.7h-10.9zM187.7 238.6h1.5v1.7h-1.5zM234.6 238.6h5.5v1.7h-5.5zM241.2 238.6h2.8v1.7h-2.8zM246.6 238.6h6.8v1.7h-6.8zM261.3 238.6h1.5v1.7h-1.5zM106.1 240.1h1.5v1.7h-1.5zM110.1 240.1h2.8v1.7h-2.8zM116.8 240.1h2.8v1.7h-2.8zM122.1 240.1h1.5v1.7h-1.5zM167.6 240.1h10.9v1.7h-10.9zM183.7 240.1h1.5v1.7h-1.5zM229.2 240.1h1.5v1.7h-1.5zM250.6 240.1h2.8v1.7h-2.8zM261.3 240.1h4.2v1.7h-4.2zM110.1 241.7h2.8v1.7h-2.8zM118.1 241.7h1.5v1.7h-1.5zM169.0 241.7h9.5v1.7h-9.5zM230.5 241.7h1.5v1.7h-1.5zM234.6 241.7h2.8v1.7h-2.8zM250.6 241.7h1.5v1.7h-1.5zM256.0 241.7h2.8v1.7h-2.8zM261.3 241.7h1.5v1.7h-1.5zM264.0 241.7h2.8v1.7h-2.8zM110.1 243.2h2.8v1.7h-2.8zM118.1 243.2h4.2v1.7h-4.2zM169.0 243.2h4.2v1.7h-4.2zM175.7 243.2h2.8v1.7h-2.8zM234.6 243.2h6.8v1.7h-6.8zM242.6 243.2h1.5v1.7h-1.5zM265.3 243.2h4.2v1.7h-4.2zM110.1 244.8h4.2v1.7h-4.2zM119.5 244.8h2.8v1.7h-2.8zM169.0 244.8h2.8v1.7h-2.8zM175.7 244.8h5.5v1.7h-5.5zM261.3 244.8h1.5v1.7h-1.5zM110.1 246.3h6.8v1.7h-6.8zM169.0 246.3h1.5v1.7h-1.5zM175.7 246.3h4.2v1.7h-4.2zM193.1 246.3h1.5v1.7h-1.5zM111.4 247.9h4.2v1.7h-4.2zM119.5 247.9h1.5v1.7h-1.5zM124.8 247.9h1.5v1.7h-1.5zM187.7 247.9h1.5v1.7h-1.5zM190.4 247.9h5.5v1.7h-5.5zM112.8 249.4h1.5v1.7h-1.5zM119.5 249.4h1.5v1.7h-1.5zM126.2 249.4h1.5v1.7h-1.5zM173.0 249.4h2.8v1.7h-2.8zM190.4 249.4h4.2v1.7h-4.2zM246.6 249.4h1.5v1.7h-1.5zM254.6 249.4h1.5v1.7h-1.5zM272.0 249.4h1.5v1.7h-1.5zM119.5 250.9h1.5v1.7h-1.5zM122.1 250.9h1.5v1.7h-1.5zM127.5 250.9h2.8v1.7h-2.8zM171.7 250.9h1.5v1.7h-1.5zM174.3 250.9h2.8v1.7h-2.8zM190.4 250.9h1.5v1.7h-1.5zM254.6 250.9h1.5v1.7h-1.5zM112.8 252.5h1.5v1.7h-1.5zM119.5 252.5h1.5v1.7h-1.5zM122.1 252.5h8.2v1.7h-8.2zM169.0 252.5h4.2v1.7h-4.2zM174.3 252.5h1.5v1.7h-1.5zM181.0 252.5h1.5v1.7h-1.5zM189.1 252.5h2.8v1.7h-2.8zM112.8 254.0h1.5v1.7h-1.5zM119.5 254.0h1.5v1.7h-1.5zM123.5 254.0h6.8v1.7h-6.8zM170.3 254.0h2.8v1.7h-2.8zM181.0 254.0h2.8v1.7h-2.8zM189.1 254.0h4.2v1.7h-4.2zM254.6 254.0h1.5v1.7h-1.5zM112.8 255.6h1.5v1.7h-1.5zM126.2 255.6h1.5v1.7h-1.5zM128.8 255.6h1.5v1.7h-1.5zM181.0 255.6h4.2v1.7h-4.2zM190.4 255.6h1.5v1.7h-1.5zM181.0 257.1h2.8v1.7h-2.8zM239.9 257.1h2.8v1.7h-2.8zM258.6 257.1h1.5v1.7h-1.5zM127.5 258.7h1.5v1.7h-1.5zM181.0 258.7h1.5v1.7h-1.5zM239.9 258.7h1.5v1.7h-1.5zM173.0 260.2h1.5v1.7h-1.5zM120.8 261.8h4.2v1.7h-4.2zM173.0 261.8h2.8v1.7h-2.8zM122.1 263.3h2.8v1.7h-2.8zM173.0 263.3h2.8v1.7h-2.8zM253.3 263.3h1.5v1.7h-1.5zM258.6 263.3h1.5v1.7h-1.5zM122.1 264.9h1.5v1.7h-1.5zM260.0 264.9h1.5v1.7h-1.5zM277.4 264.9h1.5v1.7h-1.5zM254.6 266.4h1.5v1.7h-1.5zM276.0 266.4h2.8v1.7h-2.8zM257.3 267.9h2.8v1.7h-2.8zM274.7 267.9h4.2v1.7h-4.2zM110.1 269.5h1.5v1.7h-1.5zM257.3 269.5h1.5v1.7h-1.5zM273.4 269.5h4.2v1.7h-4.2zM110.1 271.0h2.8v1.7h-2.8zM272.0 271.0h4.2v1.7h-4.2zM112.8 272.6h4.2v1.7h-4.2zM272.0 272.6h2.8v1.7h-2.8zM114.1 274.1h1.5v1.7h-1.5zM135.5 278.8h1.5v1.7h-1.5z"/>
<path fill="#e0eaf3" d="M61.9 181.4h1.5v1.7h-1.5zM55.2 183.0h2.8v1.7h-2.8zM60.6 183.0h1.5v1.7h-1.5zM55.2 184.5h2.8v1.7h-2.8zM67.3 184.5h1.5v1.7h-1.5zM56.6 186.0h5.5v1.7h-5.5zM222.5 186.0h1.5v1.7h-1.5zM55.2 187.6h2.8v1.7h-2.8zM59.2 187.6h6.8v1.7h-6.8zM55.2 189.1h4.2v1.7h-4.2zM63.3 189.1h2.8v1.7h-2.8zM56.6 190.7h1.5v1.7h-1.5zM94.0 204.6h2.8v1.7h-2.8zM94.0 206.1h2.8v1.7h-2.8zM223.9 207.7h1.5v1.7h-1.5zM95.4 209.2h1.5v1.7h-1.5zM225.2 209.2h1.5v1.7h-1.5zM218.5 210.8h1.5v1.7h-1.5zM223.9 210.8h2.8v1.7h-2.8zM219.8 212.3h1.5v1.7h-1.5zM226.5 213.9h1.5v1.7h-1.5zM94.0 217.0h1.5v1.7h-1.5zM95.4 221.6h1.5v1.7h-1.5zM151.6 224.7h5.5v1.7h-5.5zM158.3 224.7h13.5v1.7h-13.5zM103.4 226.2h1.5v1.7h-1.5zM120.8 235.5h1.5v1.7h-1.5zM120.8 237.0h1.5v1.7h-1.5zM119.5 240.1h1.5v1.7h-1.5zM119.5 241.7h2.8v1.7h-2.8zM123.5 241.7h1.5v1.7h-1.5zM123.5 244.8h1.5v1.7h-1.5zM119.5 246.3h1.5v1.7h-1.5zM123.5 246.3h1.5v1.7h-1.5zM123.5 247.9h1.5v1.7h-1.5zM169.0 247.9h1.5v1.7h-1.5zM171.7 247.9h1.5v1.7h-1.5zM124.8 249.4h1.5v1.7h-1.5zM167.6 249.4h1.5v1.7h-1.5zM256.0 249.4h1.5v1.7h-1.5zM123.5 250.9h4.2v1.7h-4.2zM173.0 250.9h1.5v1.7h-1.5zM120.8 252.5h1.5v1.7h-1.5zM173.0 252.5h1.5v1.7h-1.5zM261.3 254.0h1.5v1.7h-1.5zM123.5 255.6h1.5v1.7h-1.5zM120.8 257.1h1.5v1.7h-1.5zM124.8 257.1h1.5v1.7h-1.5zM122.1 258.7h2.8v1.7h-2.8zM120.8 260.2h4.2v1.7h-4.2zM126.2 260.2h1.5v1.7h-1.5zM260.0 263.3h1.5v1.7h-1.5z"/>
<path fill="#d0e2ef" d="M57.9 187.6h1.5v1.7h-1.5zM222.5 187.6h2.8v1.7h-2.8zM95.4 207.7h1.5v1.7h-1.5zM215.8 207.7h1.5v1.7h-1.5zM222.5 207.7h1.5v1.7h-1.5zM214.5 209.2h2.8v1.7h-2.8zM222.5 210.8h1.5v1.7h-1.5zM223.9 212.3h1.5v1.7h-1.5zM225.2 213.9h1.5v1.7h-1.5zM95.4 217.0h1.5v1.7h-1.5zM100.7 223.1h1.5v1.7h-1.5zM165.0 226.2h1.5v1.7h-1.5zM175.7 227.8h1.5v1.7h-1.5zM120.8 238.6h1.5v1.7h-1.5zM123.5 243.2h1.5v1.7h-1.5zM170.3 246.3h1.5v1.7h-1.5zM123.5 249.4h1.5v1.7h-1.5zM169.0 249.4h1.5v1.7h-1.5zM257.3 249.4h1.5v1.7h-1.5zM169.0 250.9h2.8v1.7h-2.8zM258.6 250.9h1.5v1.7h-1.5zM127.5 255.6h1.5v1.7h-1.5zM254.6 255.6h1.5v1.7h-1.5zM260.0 255.6h1.5v1.7h-1.5zM262.7 255.6h1.5v1.7h-1.5zM122.1 257.1h2.8v1.7h-2.8zM127.5 257.1h1.5v1.7h-1.5zM260.0 257.1h1.5v1.7h-1.5zM120.8 258.7h1.5v1.7h-1.5zM124.8 258.7h2.8v1.7h-2.8zM124.8 261.8h1.5v1.7h-1.5zM254.6 264.9h1.5v1.7h-1.5zM258.6 264.9h1.5v1.7h-1.5zM256.0 266.4h4.2v1.7h-4.2z"/>
<path fill="#bad7ea" d="M225.2 186.0h1.5v1.7h-1.5zM217.2 207.7h1.5v1.7h-1.5zM217.2 209.2h1.5v1.7h-1.5zM223.9 209.2h1.5v1.7h-1.5zM219.8 210.8h1.5v1.7h-1.5zM225.2 212.3h1.5v1.7h-1.5zM221.2 213.9h1.5v1.7h-1.5zM95.4 220.0h1.5v1.7h-1.5zM102.1 226.2h1.5v1.7h-1.5zM174.3 226.2h1.5v1.7h-1.5zM150.2 227.8h1.5v1.7h-1.5zM120.8 240.1h1.5v1.7h-1.5zM171.7 249.4h1.5v1.7h-1.5zM258.6 252.5h1.5v1.7h-1.5zM260.0 254.0h1.5v1.7h-1.5zM124.8 260.2h1.5v1.7h-1.5z"/>
<path fill="#a3cce4" d="M223.9 186.0h1.5v1.7h-1.5zM218.5 207.7h1.5v1.7h-1.5zM221.2 210.8h1.5v1.7h-1.5zM221.2 212.3h1.5v1.7h-1.5zM223.9 213.9h1.5v1.7h-1.5zM148.9 226.2h1.5v1.7h-1.5zM169.0 226.2h1.5v1.7h-1.5zM174.3 227.8h1.5v1.7h-1.5zM122.1 246.3h1.5v1.7h-1.5zM170.3 247.9h1.5v1.7h-1.5zM122.1 249.4h1.5v1.7h-1.5zM170.3 249.4h1.5v1.7h-1.5zM256.0 250.9h1.5v1.7h-1.5zM260.0 252.5h1.5v1.7h-1.5zM122.1 254.0h1.5v1.7h-1.5zM120.8 255.6h1.5v1.7h-1.5zM261.3 255.6h1.5v1.7h-1.5zM257.3 264.9h1.5v1.7h-1.5z"/>
<path fill="#88bedd" d="M221.2 207.7h1.5v1.7h-1.5zM222.5 212.3h1.5v1.7h-1.5zM95.4 218.5h1.5v1.7h-1.5zM151.6 227.8h1.5v1.7h-1.5zM165.0 227.8h1.5v1.7h-1.5zM120.8 254.0h1.5v1.7h-1.5zM122.1 255.6h1.5v1.7h-1.5zM126.2 257.1h1.5v1.7h-1.5zM256.0 264.9h1.5v1.7h-1.5z"/>
<path fill="#6dafd6" d="M219.8 207.7h1.5v1.7h-1.5zM222.5 209.2h1.5v1.7h-1.5zM94.0 218.5h1.5v1.7h-1.5zM103.4 224.7h1.5v1.7h-1.5zM156.9 226.2h1.5v1.7h-1.5zM173.0 227.8h1.5v1.7h-1.5zM120.8 249.4h1.5v1.7h-1.5zM254.6 257.1h1.5v1.7h-1.5zM261.3 257.1h2.8v1.7h-2.8zM262.7 258.7h1.5v1.7h-1.5zM254.6 263.3h1.5v1.7h-1.5z"/>
<path fill="#559fcd" d="M150.2 226.2h1.5v1.7h-1.5zM156.9 227.8h1.5v1.7h-1.5zM122.1 241.7h1.5v1.7h-1.5zM122.1 243.2h1.5v1.7h-1.5zM120.8 246.3h1.5v1.7h-1.5zM257.3 250.9h1.5v1.7h-1.5zM257.3 254.0h1.5v1.7h-1.5z"/>
<path fill="#3f8fc4" d="M222.5 213.9h1.5v1.7h-1.5zM166.3 226.2h2.8v1.7h-2.8zM152.9 227.8h1.5v1.7h-1.5zM257.3 257.1h1.5v1.7h-1.5z"/>
<path fill="#3281bd" d="M221.2 209.2h1.5v1.7h-1.5zM171.7 226.2h2.8v1.7h-2.8zM158.3 227.8h1.5v1.7h-1.5zM122.1 247.9h1.5v1.7h-1.5zM262.7 260.2h1.5v1.7h-1.5zM254.6 261.8h1.5v1.7h-1.5zM261.3 263.3h1.5v1.7h-1.5z"/>
<path fill="#2673b6" d="M170.3 226.2h1.5v1.7h-1.5zM166.3 227.8h4.2v1.7h-4.2zM257.3 252.5h1.5v1.7h-1.5zM256.0 254.0h1.5v1.7h-1.5zM254.6 258.7h1.5v1.7h-1.5z"/>
<path fill="#1e65ab" d="M218.5 209.2h1.5v1.7h-1.5zM154.3 226.2h1.5v1.7h-1.5zM158.3 226.2h1.5v1.7h-1.5zM120.8 247.9h1.5v1.7h-1.5zM256.0 252.5h1.5v1.7h-1.5zM254.6 260.2h1.5v1.7h-1.5zM257.3 263.3h1.5v1.7h-1.5z"/>
<path fill="#1858a0" d="M102.1 224.7h1.5v1.7h-1.5zM155.6 226.2h1.5v1.7h-1.5zM154.3 227.8h1.5v1.7h-1.5zM257.3 255.6h1.5v1.7h-1.5z"/>
<path fill="#124b92" d="M219.8 209.2h1.5v1.7h-1.5zM171.7 227.8h1.5v1.7h-1.5zM260.0 258.7h1.5v1.7h-1.5z"/>
<path fill="#0d3d7f" d="M151.6 226.2h2.8v1.7h-2.8zM163.6 226.2h1.5v1.7h-1.5zM163.6 227.8h1.5v1.7h-1.5zM257.3 258.7h1.5v1.7h-1.5zM261.3 258.7h1.5v1.7h-1.5zM256.0 263.3h1.5v1.7h-1.5z"/>
<path fill="#08306b" d="M159.6 226.2h4.2v1.7h-4.2zM155.6 227.8h1.5v1.7h-1.5zM159.6 227.8h4.2v1.7h-4.2zM170.3 227.8h1.5v1.7h-1.5zM256.0 255.6h1.5v1.7h-1.5zM256.0 257.1h1.5v1.7h-1.5zM256.0 258.7h1.5v1.7h-1.5zM258.6 258.7h1.5v1.7h-1.5zM256.0 260.2h6.8v1.7h-6.8zM256.0 261.8h6.8v1.7h-6.8z"/>
</g>
<path d="M48.5 186.4L49.9 184.1L52.5 183.0L56.2 181.9L60.6 182.6L66.6 183.2L70.6 183.7L75.3 183.0L77.3 183.3L80.7 183.3L84.0 184.5L88.7 184.5L92.0 184.5L95.4 184.1L97.4 183.7L98.0 181.4L100.1 183.3L102.1 184.1L104.1 183.3L106.1 183.3L106.7 184.5L104.1 186.0L102.7 186.8L100.7 187.6L98.7 189.1L97.7 191.5L99.1 193.0L102.1 193.4L104.1 194.3L105.9 194.5L106.1 196.5L107.4 197.5L108.1 196.9L108.1 194.9L109.4 193.8L108.8 191.8L109.1 190.3L108.8 188.9L111.4 188.9L114.1 189.9L114.4 191.5L116.8 191.8L117.8 190.4L119.5 192.2L120.8 194.2L122.8 195.7L123.7 196.9L122.1 197.6L120.8 198.3L117.5 198.3L116.1 199.2L114.1 200.7L115.4 199.6L117.5 199.6L117.8 200.7L120.1 201.5L118.8 202.5L116.8 203.4L116.8 202.3L116.1 202.3L114.1 203.3L113.6 204.6L114.1 204.8L112.1 205.4L111.4 205.7L110.8 207.3L110.1 208.5L110.4 209.8L109.1 210.8L107.4 212.1L106.5 213.5L107.3 216.2L107.2 217.5L106.4 217.3L105.6 215.4L104.7 213.9L103.4 213.6L101.4 213.7L101.1 214.5L99.7 214.2L98.0 214.2L96.0 215.4L95.7 217.3L95.5 219.7L96.7 222.4L97.7 223.0L99.4 222.7L100.3 222.0L100.5 220.8L102.7 220.4L102.4 222.4L101.9 223.5L101.5 224.8L103.4 224.8L105.1 225.2L105.1 227.4L104.9 228.7L105.7 229.9L106.7 230.2L107.8 229.7L109.1 230.5L110.1 229.9L110.8 228.7L112.4 227.9L113.1 227.5L113.1 228.7L114.1 227.9L115.2 228.8L116.8 228.8L118.1 228.9L119.5 228.8L120.1 229.7L120.8 230.5L122.1 231.8L124.1 232.4L126.2 233.2L126.8 233.9L127.5 235.9L127.5 237.0L128.8 237.6L130.8 238.2L131.5 239.1L133.5 239.3L135.2 240.0L137.3 241.1L137.6 242.8L137.2 244.4L136.2 245.9L135.0 247.5L134.9 249.8L134.4 251.7L133.5 254.0L132.2 254.8L130.5 255.4L128.8 256.7L128.4 258.3L127.8 259.7L126.8 261.0L125.8 262.5L124.8 263.9L123.1 264.0L121.9 263.3L122.8 265.1L122.3 266.6L119.5 267.2L119.3 268.6L117.5 268.7L118.3 270.0L117.3 271.8L115.8 272.6L116.9 274.0L115.4 275.7L114.8 277.2L115.2 277.6L117.3 279.4L115.4 279.9L113.4 279.2L111.8 278.0L110.8 276.1L110.4 273.4L111.8 271.0L111.6 269.1L111.8 266.4L112.4 264.1L113.1 261.0L113.2 258.3L113.9 255.2L114.0 251.3L112.8 250.2L110.4 248.2L109.4 246.3L108.2 243.6L107.4 241.7L106.5 240.5L107.4 239.4L106.9 237.8L107.4 236.7L108.2 235.9L109.1 234.1L109.1 231.8L108.6 230.7L107.4 231.4L106.4 231.1L105.4 230.6L104.1 229.5L103.5 228.5L102.4 227.0L100.7 226.4L99.3 225.8L97.7 224.5L96.0 224.8L94.0 223.9L91.7 222.9L90.4 221.4L90.5 220.2L89.7 218.9L88.0 217.1L87.0 215.8L85.7 214.2L85.2 212.9L84.1 212.5L84.3 213.9L85.7 215.8L86.7 217.7L87.7 219.1L87.1 219.3L86.0 217.9L84.5 215.8L83.5 213.9L82.6 211.9L81.7 210.8L80.3 210.4L79.4 208.8L79.0 207.8L78.1 206.1L77.8 204.6L78.0 201.5L77.5 199.6L78.6 199.2L77.3 198.0L75.4 197.2L73.8 194.9L72.6 193.4L70.6 191.8L68.6 191.1L66.6 190.7L64.6 190.5L62.6 189.9L60.6 189.9L59.2 191.1L57.9 191.8L55.6 193.0L53.2 194.2L50.9 194.8L52.5 193.8L54.9 192.2L53.2 191.6L52.5 190.7L50.5 190.1L49.9 189.1L50.9 188.2L53.2 187.6L51.5 187.2L49.5 187.0L48.5 186.4ZM112.1 176.6L115.4 175.2L119.5 173.7L127.5 173.3L137.5 172.5L144.2 173.3L148.9 174.5L148.2 176.8L146.9 179.1L146.2 181.0L144.2 182.6L146.2 183.0L142.9 184.3L138.9 185.3L136.2 186.3L134.2 186.8L132.8 188.7L131.8 190.7L130.5 190.7L128.5 189.9L127.2 188.0L125.8 186.4L124.9 184.9L126.5 183.3L124.5 182.6L124.1 181.0L122.1 178.7L118.8 178.2L115.4 178.3L113.4 177.4L112.1 176.6ZM154.9 208.5L154.6 207.1L155.1 205.4L154.7 203.8L155.6 203.3L158.3 203.5L159.7 203.5L160.1 201.9L159.3 200.5L157.8 199.7L159.9 199.4L159.7 198.6L161.1 198.8L162.0 197.8L163.3 197.3L164.1 196.1L165.6 195.6L166.8 195.3L166.5 194.2L166.4 193.0L168.0 192.5L167.8 193.8L167.5 194.5L168.3 195.3L169.3 195.0L170.5 195.4L172.0 194.9L173.3 194.8L174.2 195.0L175.0 194.3L175.0 193.0L176.0 192.5L177.2 192.8L176.7 191.3L178.3 191.1L179.7 191.0L181.0 190.7L179.7 190.3L177.7 190.5L176.0 190.7L175.2 189.9L175.2 188.4L177.3 187.0L177.9 186.4L176.0 186.2L175.3 187.2L173.0 188.7L172.5 189.9L173.5 190.7L172.1 191.7L172.0 193.4L170.7 193.8L169.6 194.2L169.5 193.4L168.4 191.5L168.0 191.1L166.3 192.1L164.8 191.8L164.3 190.3L164.3 189.1L165.6 188.4L167.6 187.6L169.0 186.4L169.6 185.3L171.3 184.1L173.0 183.3L175.0 182.8L178.1 182.1L180.0 182.3L181.7 183.0L181.0 183.3L183.0 183.5L185.0 183.7L187.7 184.7L188.4 185.4L186.4 185.9L183.4 185.5L184.0 186.8L185.7 187.6L187.5 187.0L188.1 186.0L190.1 185.8L190.4 184.5L191.7 184.3L193.4 184.7L196.4 184.1L199.8 183.9L201.4 183.1L203.8 183.5L205.8 184.0L206.8 183.0L205.8 181.8L207.1 180.6L209.1 180.8L209.5 182.2L210.1 184.1L209.5 185.5L211.1 184.9L211.1 181.8L213.1 181.4L215.2 181.3L215.2 180.2L218.8 179.9L219.2 179.1L222.5 178.5L227.2 178.1L230.7 177.0L232.6 177.7L235.9 178.1L236.9 179.9L234.6 179.9L236.6 180.2L239.9 180.4L243.9 180.1L245.9 181.0L247.6 182.2L249.9 181.8L253.3 181.8L254.6 181.0L258.6 181.2L261.3 181.8L263.3 182.2L267.3 182.3L268.4 183.3L271.4 183.3L274.7 183.2L275.4 183.0L278.7 183.2L281.4 183.7L281.4 186.7L280.4 187.2L281.1 188.7L277.7 189.3L275.0 190.7L272.0 190.8L270.2 192.2L269.7 193.8L269.2 194.8L268.0 195.9L266.9 196.6L265.8 197.6L265.3 196.1L265.1 193.8L266.0 192.4L268.0 190.3L270.4 188.7L268.0 189.4L265.8 189.5L264.3 191.0L262.0 191.5L258.6 191.2L256.3 191.5L253.6 193.0L251.6 194.8L253.0 195.5L255.3 196.1L255.0 197.6L254.8 199.6L253.6 201.1L252.0 202.8L249.9 204.0L248.6 204.2L247.7 205.0L246.6 206.3L247.5 208.5L247.5 209.6L246.3 210.2L245.5 210.2L245.6 208.5L244.6 207.9L244.6 206.5L242.6 206.9L242.1 205.5L240.6 206.8L239.9 207.5L241.6 207.9L242.9 208.5L241.6 209.2L240.8 210.0L241.7 211.9L242.5 213.1L242.3 214.2L242.3 215.4L241.1 217.1L239.9 218.3L238.6 219.4L236.9 219.8L235.2 220.6L234.6 221.4L234.4 220.4L233.2 220.4L232.2 221.6L231.7 222.5L232.8 224.3L233.9 225.8L234.1 227.8L232.8 228.9L232.2 229.7L231.2 230.3L231.1 229.1L229.9 228.5L229.4 227.6L228.5 227.1L228.0 226.6L227.7 227.8L227.4 229.3L228.1 230.9L228.5 231.9L229.4 232.2L230.1 233.6L230.2 234.9L230.7 236.0L230.1 236.0L228.9 235.0L228.2 233.6L228.1 232.4L227.2 231.1L226.7 230.5L226.9 228.5L227.0 226.6L226.3 225.1L226.0 224.1L224.9 224.8L224.1 224.7L224.1 222.7L223.5 221.7L222.5 220.4L222.2 219.6L221.5 219.9L220.5 220.2L219.2 220.6L219.0 221.4L217.8 222.0L216.0 224.1L214.7 225.1L214.5 226.8L214.3 229.1L213.8 229.9L213.1 230.6L212.8 230.9L212.1 230.1L211.7 228.2L211.0 227.0L210.7 225.4L210.0 223.9L209.7 222.1L209.6 220.8L208.1 221.0L207.1 219.8L206.0 218.1L205.3 217.4L202.4 217.6L200.4 217.5L199.2 217.1L198.8 216.2L197.4 216.5L196.1 215.8L194.9 214.6L194.4 213.7L193.6 213.6L193.1 214.2L193.6 215.4L194.5 216.6L194.7 217.5L195.4 217.1L195.5 218.2L197.1 218.5L198.4 217.2L198.8 218.1L200.2 218.9L201.0 219.7L200.1 221.2L199.6 222.4L198.4 223.3L195.9 224.4L193.7 225.8L191.1 227.1L190.1 227.2L189.6 225.6L189.5 224.3L188.4 222.4L187.0 220.4L186.7 218.7L185.7 217.3L184.4 215.4L184.2 214.2L183.9 215.4L183.4 215.3L182.8 213.9L183.4 215.8L184.7 218.5L185.7 220.4L186.0 222.5L186.7 223.1L187.5 225.3L188.5 225.8L189.9 227.4L189.9 228.2L190.7 228.9L192.4 228.4L195.2 227.8L194.9 229.7L193.7 232.4L192.7 233.9L190.4 236.3L189.1 237.8L188.1 239.2L187.2 240.7L187.0 242.1L187.5 243.2L188.1 245.2L188.1 248.2L187.0 250.2L185.4 251.7L184.2 252.5L184.7 254.4L184.7 255.6L183.0 256.7L182.9 258.3L182.0 259.8L181.0 261.4L179.4 262.9L177.7 263.3L175.7 263.5L174.3 263.9L173.3 263.5L173.0 262.2L172.3 260.2L171.3 257.9L170.7 254.8L169.6 252.5L168.8 250.6L169.0 248.6L170.0 246.7L170.0 244.8L169.3 242.1L169.0 240.9L167.6 239.0L167.0 237.7L167.3 236.3L167.4 234.7L166.8 233.6L165.6 233.6L164.6 233.0L163.8 232.2L162.6 232.2L161.6 232.5L159.9 233.2L158.9 233.1L157.6 233.1L155.9 233.6L154.9 233.2L153.6 231.9L152.4 230.9L151.9 229.5L150.9 228.5L149.8 227.4L149.7 226.6L149.2 225.7L149.9 224.3L150.1 222.4L149.6 220.8L150.2 218.9L151.0 217.3L152.3 215.6L153.6 214.8L154.4 214.0L154.5 212.7L155.3 211.3L156.4 210.8L157.0 209.4L157.4 209.3L158.9 209.8L159.6 209.9L160.9 209.4L163.0 208.6L165.0 208.5L166.6 208.5L167.6 208.2L168.3 208.5L168.0 209.6L167.6 210.6L168.3 211.2L169.6 211.6L171.2 212.1L172.7 213.1L174.0 213.5L174.3 212.3L175.7 211.7L177.7 212.5L179.4 212.9L180.7 213.2L181.7 212.7L182.6 212.9L183.8 212.9L184.2 211.9L184.8 210.4L185.0 209.2L185.0 208.6L183.7 209.0L182.4 209.1L181.4 208.8L180.4 208.8L179.2 208.5L178.7 207.3L178.9 206.5L178.5 206.0L178.3 205.5L177.0 205.4L176.5 205.9L176.2 205.7L176.3 206.7L177.0 207.5L176.3 208.1L176.2 208.8L175.5 208.6L175.1 207.4L174.3 206.4L173.9 205.1L173.7 204.4L172.3 203.7L171.2 202.7L170.2 201.8L169.2 202.0L169.2 202.9L170.1 203.4L170.7 204.4L171.7 204.7L173.3 206.0L173.2 206.3L172.3 205.7L172.0 206.4L172.4 206.9L171.8 207.7L171.4 207.7L171.7 206.9L171.2 206.1L170.3 205.5L169.3 205.0L168.3 204.2L167.8 203.4L167.0 202.8L166.0 203.2L165.0 203.7L163.6 203.4L163.0 203.8L163.1 204.7L161.5 205.4L160.7 206.5L160.9 207.1L160.5 207.8L159.6 208.6L157.9 208.7L157.3 209.1L156.7 208.6L156.1 208.3L154.9 208.5ZM40.5 183.7L42.5 184.3L45.2 185.3L47.2 186.0L45.5 187.3L43.2 186.4L41.2 186.2L40.5 186.7ZM119.8 185.7L117.5 188.4L115.4 188.9L112.8 187.7L109.4 187.4L108.8 186.4L111.4 186.0L112.1 184.5L108.8 183.0L104.1 183.0L101.4 182.2L101.1 180.2L104.1 180.1L107.4 180.9L110.1 181.0L113.4 182.2L115.8 183.7L118.1 184.9ZM82.7 183.7L84.7 184.5L88.7 184.0L91.4 184.0L93.0 183.2L90.7 181.4L88.0 180.6L84.7 180.6L81.7 181.8ZM77.3 181.4L79.0 181.9L81.7 180.6L81.3 179.7L78.0 179.6ZM100.7 177.9L107.4 178.1L108.8 177.2L111.4 176.0L115.4 174.5L119.5 173.3L114.1 172.9L107.4 172.9L100.7 173.7L99.4 174.5L103.4 176.0ZM97.4 179.1L102.1 179.4L107.4 179.2L107.4 178.5L100.7 177.9ZM83.3 179.1L87.3 179.2L90.0 178.9L90.0 178.1L86.0 177.9L82.7 178.3ZM92.7 181.4L96.0 181.8L98.7 181.4L98.0 179.9L94.0 180.1ZM96.7 176.8L100.7 176.6L102.7 175.2L98.7 174.5L96.7 175.6ZM91.4 178.7L95.4 179.1L96.0 177.9L92.7 177.5L91.4 178.1ZM94.7 183.7L96.7 184.1L97.0 183.3L95.4 183.0ZM102.7 188.0L105.4 188.7L107.1 188.0L105.4 186.4L103.4 186.4ZM121.3 200.2L123.5 200.9L125.5 201.0L125.7 200.2L124.9 198.8L123.5 198.4L123.7 197.2L122.6 198.0L121.8 199.2ZM75.3 198.0L77.3 199.4L78.3 199.6L77.3 198.3ZM72.0 195.3L73.0 196.1L73.3 196.9L72.3 195.9ZM57.6 192.6L58.9 192.8L59.0 192.2L58.2 192.2ZM47.9 196.1L49.5 195.6L49.5 195.3L48.2 195.7ZM43.8 196.9L45.9 196.6L45.9 196.4L43.8 196.6ZM104.1 220.0L106.1 219.1L108.1 219.7L110.1 220.8L111.3 221.4L109.0 221.7L108.4 220.8L106.1 219.8L104.4 220.3ZM111.1 222.8L112.2 221.7L114.1 221.7L115.2 222.7L113.8 223.0L113.0 223.4ZM108.6 222.8L109.9 222.9L109.8 223.2L108.8 223.3ZM116.0 222.7L117.0 222.8L116.9 223.1L116.0 223.1ZM119.6 228.8L120.1 228.7L120.1 229.2L119.6 229.2ZM144.6 186.4L146.2 185.7L148.9 185.9L151.2 186.0L151.9 186.8L150.9 187.4L148.6 188.1L145.9 187.7L144.9 187.0ZM157.3 198.3L158.6 198.2L160.3 197.9L161.8 197.5L161.5 197.2L162.1 196.3L161.2 196.1L160.8 195.3L159.9 194.5L159.6 193.8L159.3 192.6L158.6 191.8L157.6 191.8L156.9 192.6L157.3 193.8L157.7 194.5L158.7 194.7L158.9 195.7L157.9 195.9L158.1 196.7L157.5 197.0L158.6 197.2L157.9 197.6ZM154.3 196.9L154.6 197.2L156.7 196.7L156.9 195.7L157.3 194.9L156.6 194.4L155.5 194.4L154.3 195.2L154.6 195.9ZM168.3 175.6L170.3 177.2L172.3 177.8L173.7 176.4L175.7 176.5L177.7 175.2L174.3 174.8L170.3 175.2ZM175.0 176.0L178.3 176.2L179.0 175.2L175.7 175.2ZM195.4 181.8L196.4 182.4L199.1 182.5L198.4 180.6L201.1 179.1L205.1 177.9L207.1 177.5L204.4 178.3L199.8 179.5L197.1 180.6ZM224.5 176.0L227.9 176.8L231.2 176.4L229.9 175.2L225.9 174.5ZM252.6 179.1L256.6 180.2L261.3 179.1L258.0 178.3L253.3 178.3ZM194.4 174.8L201.1 174.8L202.4 174.1L195.7 174.1ZM280.4 182.2L281.4 182.3L281.4 181.8L280.4 181.8ZM256.0 201.5L257.0 200.9L256.6 199.2L257.6 199.0L256.8 196.9L256.6 195.3L256.0 195.7L256.0 198.4ZM254.6 205.0L255.4 205.1L256.8 204.6L258.3 203.6L258.0 202.8L256.0 201.9L255.6 203.4L254.8 203.8ZM247.9 212.9L248.6 212.9L249.3 211.5L249.9 211.4L251.0 210.9L251.8 211.2L252.6 210.3L254.0 210.2L254.6 209.8L255.2 209.2L255.3 207.7L256.0 206.5L255.6 205.1L254.6 205.5L254.5 206.9L253.6 208.2L252.6 208.5L252.0 209.5L249.9 209.6L248.6 210.4L247.9 211.2L247.6 211.7ZM241.4 219.3L241.8 220.0L242.3 218.9L242.5 217.7L241.9 217.7ZM233.7 222.2L234.2 223.0L234.9 222.5L235.2 221.8L234.6 221.5ZM214.3 230.9L214.5 232.2L215.2 232.4L215.8 231.4L215.2 230.2L214.5 229.5ZM241.5 224.7L241.6 222.8L242.6 222.7L242.8 224.3L242.4 226.1L243.9 227.0L243.9 227.4L242.9 226.6L241.9 226.5L241.5 225.7ZM242.6 231.6L243.6 231.2L243.9 230.5L244.9 229.5L245.6 230.5L245.5 232.0L244.9 232.6L244.1 232.2ZM242.6 228.9L243.3 228.2L244.3 228.3L244.9 227.5L245.1 228.5L244.6 229.3L243.6 229.9L242.9 229.5ZM239.4 230.5L240.9 228.9L241.0 228.4L240.2 229.3ZM233.9 235.9L234.2 237.0L234.6 238.2L234.9 239.4L236.6 239.6L237.6 240.1L238.6 240.0L238.9 238.6L239.6 236.7L239.9 235.3L239.7 233.8L240.6 233.0L239.2 231.6L238.6 232.2L237.6 233.3L236.6 234.6L235.4 235.1L235.2 235.9ZM224.7 232.7L226.2 233.0L227.2 234.2L228.2 235.3L229.2 236.3L230.2 237.0L230.9 238.4L231.9 239.4L231.9 241.5L231.0 241.5L229.9 240.7L228.9 239.4L228.1 237.8L227.2 236.7L226.9 235.5L225.9 234.5ZM231.4 242.3L232.2 241.7L233.6 242.1L235.1 242.1L236.4 242.4L237.6 243.1L237.6 243.7L236.2 243.5L234.6 243.2L233.2 243.0L232.2 242.8ZM238.6 243.5L239.6 243.5L240.6 243.6L241.9 243.6L243.3 243.5L243.3 243.8L241.2 244.1L239.2 244.0L238.6 243.9ZM243.6 245.0L244.6 243.8L245.9 243.5L245.6 244.0L244.3 244.9ZM240.9 241.3L240.9 239.7L240.6 237.8L241.2 236.4L242.6 236.3L244.6 235.8L244.3 236.7L242.3 236.7L241.4 237.0L241.9 237.8L243.5 237.7L242.5 238.5L242.9 239.7L243.3 240.5L242.8 240.9L242.3 240.6L241.9 239.2L241.6 239.4L241.5 241.4ZM246.3 236.3L246.6 235.5L247.1 236.3L246.6 237.7L246.4 237.0ZM246.6 239.5L248.5 239.4L248.3 239.8L246.8 239.7ZM248.6 237.7L249.6 237.3L250.6 237.7L250.8 239.0L251.6 239.6L253.0 238.3L254.3 238.7L255.6 239.1L257.6 240.0L258.6 241.1L259.7 241.7L259.5 242.4L260.7 244.0L261.7 245.2L260.0 244.9L259.0 243.8L257.6 243.0L257.0 243.8L255.6 244.1L254.3 243.2L253.3 243.5L253.3 242.4L253.8 242.1L253.0 241.1L251.3 240.4L249.9 240.1L249.8 239.5L248.9 239.1L250.3 238.9L249.3 238.6ZM260.3 241.4L261.7 241.3L262.7 240.3L262.9 240.9L261.9 241.8L260.7 241.8ZM261.9 239.1L263.0 240.0L263.3 240.6L262.9 240.1ZM265.3 242.4L266.7 243.2L268.4 244.4L268.0 244.6L266.3 243.5ZM272.4 248.6L272.9 249.0L273.2 249.8L272.7 249.4ZM270.7 252.6L271.7 253.3L272.7 254.3L272.2 254.3L271.0 253.3ZM279.6 250.6L280.5 250.6L280.4 251.1L279.6 251.0ZM236.9 254.4L237.1 257.5L237.9 260.2L238.4 261.8L237.9 263.5L239.9 264.1L241.2 263.3L243.6 263.2L245.3 262.0L247.3 261.5L248.7 261.4L250.6 262.3L251.6 263.9L252.0 263.3L253.0 262.5L253.2 264.5L254.3 264.8L255.0 266.4L257.0 267.0L258.8 267.2L260.0 266.2L261.3 265.9L261.7 264.1L262.3 262.5L263.3 260.6L263.7 258.7L263.3 256.7L262.0 255.4L261.0 254.2L260.2 252.5L258.8 251.7L258.6 250.6L258.2 248.6L257.2 248.1L256.8 246.3L256.3 245.4L255.8 247.1L255.6 249.0L255.2 250.6L254.3 250.6L253.0 249.4L251.6 248.6L252.4 246.5L251.3 246.5L249.6 245.9L248.6 246.5L247.7 248.5L246.8 248.5L245.9 247.9L244.9 248.2L243.9 249.6L242.8 250.3L242.7 251.3L241.6 252.3L239.9 252.8L238.6 253.3L237.4 253.9ZM257.8 268.5L259.0 268.8L260.2 268.6L260.0 270.3L259.0 270.7L258.2 269.9ZM276.5 263.7L277.6 264.9L278.4 265.4L278.7 266.1L280.3 266.2L279.9 267.3L279.3 268.2L278.3 269.2L277.9 268.9L278.1 267.9L277.3 267.4L277.9 266.4L277.7 265.5L276.7 264.2ZM276.5 268.4L277.6 269.1L276.7 270.5L275.6 271.3L275.2 272.5L274.0 273.0L273.0 272.7L272.4 272.4L273.6 271.0L275.0 270.1L276.0 268.7ZM193.9 246.3L194.7 249.0L194.1 250.6L193.4 253.3L192.4 256.4L191.3 256.7L190.2 255.2L189.9 253.7L190.7 252.3L190.4 250.6L191.1 249.4L192.4 248.6L193.1 247.5ZM120.1 276.8L122.1 276.8L121.8 277.4L120.5 277.4ZM135.5 278.8L136.9 279.0L136.9 279.4L135.9 279.1ZM207.0 274.9L208.0 274.9L208.0 275.4L207.1 275.4ZM56.6 221.4L57.2 221.7L56.9 222.4L56.6 222.0ZM55.1 220.4L55.4 220.6L55.2 220.7ZM99.7 237.3L100.2 237.4L100.1 237.8L99.7 237.7ZM169.3 207.7L171.4 207.5L171.1 208.7L169.3 208.0ZM166.4 206.9L167.4 206.8L167.4 205.4L166.5 205.5ZM166.8 205.0L167.3 204.6L167.2 203.8L166.8 204.2ZM176.7 209.6L178.5 209.8L178.3 210.0L176.7 209.8ZM182.6 210.0L184.0 209.5L183.4 210.2ZM196.6 227.3L197.4 227.4L197.1 227.5ZM168.3 194.0L169.4 193.8L169.2 194.5L168.4 194.4ZM173.1 193.0L173.7 192.3L173.5 192.8ZM258.6 202.7L260.3 201.9L260.0 201.7L258.6 202.3ZM261.3 201.5L262.7 200.6L262.5 200.4L261.3 201.2ZM189.9 245.9L190.1 246.1L189.9 246.3ZM198.0 253.3L198.3 253.3L198.1 253.6ZM199.4 252.5L199.6 252.6L199.4 252.9ZM149.7 215.1L150.1 215.0L149.9 215.4ZM145.1 225.3L145.3 225.4L145.2 225.5ZM166.6 234.2L166.9 234.3L166.8 234.6ZM223.0 226.6L223.2 227.8L223.0 228.2L222.8 227.4ZM113.8 277.8L115.1 277.8L117.1 279.2L116.1 279.7L114.1 279.4L113.1 278.8ZM111.3 269.5L111.8 269.5L111.7 270.6L111.2 270.4ZM111.4 205.7L112.8 205.4L112.8 205.5ZM118.1 200.9L119.5 201.2L119.1 201.5L118.1 201.3ZM117.8 198.5L119.6 199.0L119.1 199.1ZM108.4 216.4L109.1 216.6L109.3 217.0L108.8 216.6ZM108.8 218.0L109.0 218.5L108.8 218.7ZM78.6 178.3L81.3 178.5L83.3 177.5L81.3 177.2L79.3 177.5ZM90.7 176.8L94.0 176.9L94.7 176.2L92.0 175.8ZM95.4 176.9L97.0 176.9L97.0 176.2L95.7 176.2ZM96.4 179.2L98.4 179.3L98.4 178.7L96.7 178.6ZM106.7 180.6L109.4 180.8L109.8 180.2L107.4 180.0ZM109.1 185.0L110.4 185.0L110.4 184.3L109.2 184.3ZM105.1 188.7L106.4 188.9L107.4 188.5L105.7 188.3ZM107.1 189.4L107.9 189.4L107.8 188.8L107.2 188.8ZM106.1 196.1L107.1 196.2L107.1 195.9L106.2 195.9ZM92.7 181.3L95.4 181.8L96.4 180.8L94.7 179.9L92.7 180.5ZM84.7 177.3L87.3 177.3L87.3 176.8L84.7 176.8ZM89.7 180.5L91.0 180.6L91.0 180.0L90.0 180.0ZM107.4 193.8L108.1 193.9L108.1 193.3L107.4 193.3ZM193.3 183.7L194.3 184.0L194.4 183.5L193.6 183.3ZM200.1 183.0L201.4 183.2L201.1 182.6L200.3 182.6ZM227.9 176.6L230.9 176.9L231.2 176.2L228.5 175.8ZM253.0 178.9L255.3 179.2L255.3 178.3L253.3 178.3ZM254.6 180.4L256.6 180.5L256.6 180.0L255.0 180.0ZM270.2 191.8L271.0 191.5L270.7 191.2L270.2 191.5ZM46.0 188.1L47.9 188.4L48.0 188.1L46.2 187.7ZM49.0 190.7L50.1 190.8L50.1 190.4L49.2 190.4ZM124.1 183.3L126.2 183.5L126.2 182.7L124.5 182.7ZM155.9 189.3L156.6 189.3L156.6 188.9L156.1 188.9ZM159.9 190.7L160.3 190.7L160.3 190.1L159.9 190.2ZM155.9 193.0L156.7 192.6L156.8 191.9L156.1 192.1ZM162.6 206.6L163.2 206.6L163.2 206.2L162.6 206.3ZM245.4 211.3L245.9 211.3L245.9 211.1L245.4 211.2ZM246.3 216.9L246.8 216.4L246.6 216.3ZM241.5 226.7L242.3 226.8L242.1 227.5L241.7 227.4ZM244.1 227.4L244.9 227.4L245.1 228.4L244.5 228.3ZM242.9 229.3L243.5 228.6L243.5 229.9L243.0 229.9ZM241.1 243.5L243.1 243.3L243.1 243.8L241.1 243.8ZM240.6 244.3L241.8 244.5L241.6 244.9L240.7 244.6ZM245.3 239.4L246.1 239.5L245.9 240.0L245.3 239.9ZM250.8 241.3L251.2 241.4L251.1 242.3L250.8 242.1ZM248.6 242.7L249.1 242.6L249.0 243.2L248.7 243.1ZM264.4 241.3L265.3 241.9L265.1 242.3L264.5 241.7ZM252.4 264.6L253.3 264.6L253.3 264.9L252.4 264.9ZM248.1 245.8L248.9 245.8L248.9 246.2L248.2 246.2ZM252.2 247.7L252.6 247.7L252.6 248.1L252.2 248.1ZM187.2 241.5L187.4 241.5L187.4 242.0L187.2 242.0ZM273.0 273.2L273.5 273.2L273.4 273.5L273.1 273.5ZM42.6 270.9L43.0 270.9L43.0 271.1ZM127.0 237.2L128.5 237.3L128.4 238.1L127.2 238.2ZM110.6 274.7L111.1 274.7L111.1 275.5L110.6 275.4ZM179.7 205.0L180.2 203.0L180.8 202.1L181.4 201.3L182.4 201.1L183.0 201.5L183.4 202.7L184.4 202.5L185.4 202.0L184.6 201.3L186.0 200.7L187.0 200.6L186.6 201.3L186.0 202.5L187.4 203.2L188.7 204.0L188.7 205.0L187.4 205.3L185.7 205.2L184.5 204.6L183.4 204.6L181.7 205.2L180.4 205.2ZM192.4 201.9L193.7 201.1L195.4 200.9L196.4 201.3L196.4 202.3L195.1 202.7L194.7 203.8L196.1 205.0L197.0 205.5L196.4 206.9L197.1 208.1L195.7 208.7L194.4 208.2L193.7 207.3L194.1 205.9L193.1 204.6L192.6 203.4ZM99.4 201.0L101.4 200.0L103.4 200.0L104.3 201.0L102.7 201.1L100.7 201.0ZM102.2 204.6L103.2 204.6L103.4 202.7L104.2 201.7L103.1 201.8L102.3 203.0ZM104.4 201.6L106.4 201.7L107.4 202.5L106.3 203.6L105.7 203.8L105.1 203.0ZM105.2 204.8L108.1 204.0L107.8 203.8L105.7 204.4ZM107.6 203.6L109.9 203.4L109.8 203.0L107.9 203.2ZM94.7 198.0L96.4 198.0L95.7 195.5L94.7 196.1ZM82.7 189.9L85.3 189.9L88.0 188.6L86.7 188.4L84.3 189.1ZM78.6 186.8L80.7 186.8L82.0 185.7L80.3 185.3L78.0 186.0ZM86.3 191.7L90.0 191.2L89.7 191.0L86.7 191.3ZM182.4 237.3L183.7 236.9L183.8 239.0L182.4 239.1L182.2 238.2ZM180.5 239.7L181.6 243.7L181.2 243.7L180.4 240.9ZM183.7 244.5L184.4 246.3L184.4 248.1L184.0 247.9L183.9 245.9ZM230.5 197.2L231.9 196.9L234.2 194.5L234.4 193.9L233.6 194.5L231.5 196.3ZM200.1 203.0L201.4 203.2L202.1 201.9L201.1 201.0L200.2 201.7ZM210.1 201.9L211.8 201.1L213.8 200.9L213.5 201.3L211.1 202.3ZM181.4 190.7L182.9 190.4L182.7 189.5L181.4 189.7ZM184.0 189.9L185.0 189.9L184.7 188.7L184.0 188.9ZM169.3 191.8L170.3 191.7L170.2 191.2L169.5 191.3ZM170.0 227.2L170.8 227.2L170.8 226.5L170.1 226.5ZM114.1 248.9L114.8 249.2L114.8 249.7L114.1 249.4ZM103.4 228.4L104.1 228.3L104.1 227.8L103.5 227.8ZM184.9 235.1L185.4 235.1L185.3 233.6L185.0 233.6ZM212.0 204.4L213.3 204.4L213.3 204.0L212.1 204.0ZM92.0 193.4L93.0 193.4L93.0 192.2L92.2 192.2ZM112.8 186.0L114.4 186.0L114.1 185.3L112.8 185.4Z" fill="none" stroke="#000" stroke-width="0.85" stroke-linejoin="round"/>
<path d="M168.9 184.3h1v1h-1zM171.6 184.3h1v1h-1zM174.3 184.3h1v1h-1zM177.0 184.3h1v1h-1zM179.7 184.3h1v1h-1zM185.1 184.3h1v1h-1zM187.8 184.3h1v1h-1zM190.5 184.3h1v1h-1zM193.2 184.3h1v1h-1zM195.9 184.3h1v1h-1zM201.3 184.3h1v1h-1zM204.0 184.3h1v1h-1zM206.7 184.3h1v1h-1zM212.1 184.3h1v1h-1zM214.8 184.3h1v1h-1zM220.2 184.3h1v1h-1zM225.6 184.3h1v1h-1zM231.0 184.3h1v1h-1zM233.7 184.3h1v1h-1zM236.4 184.3h1v1h-1zM239.1 184.3h1v1h-1zM241.8 184.3h1v1h-1zM244.5 184.3h1v1h-1zM247.2 184.3h1v1h-1zM177.0 186.9h1v1h-1zM179.7 186.9h1v1h-1zM187.8 186.9h1v1h-1zM190.5 186.9h1v1h-1zM193.2 186.9h1v1h-1zM195.9 186.9h1v1h-1zM198.6 186.9h1v1h-1zM204.0 186.9h1v1h-1zM212.1 186.9h1v1h-1zM217.5 186.9h1v1h-1zM220.2 186.9h1v1h-1zM225.6 186.9h1v1h-1zM231.0 186.9h1v1h-1zM236.4 186.9h1v1h-1zM239.1 186.9h1v1h-1zM241.8 186.9h1v1h-1zM244.5 186.9h1v1h-1zM247.2 186.9h1v1h-1zM77.1 189.4h1v1h-1zM79.8 189.4h1v1h-1zM82.5 189.4h1v1h-1zM85.2 189.4h1v1h-1zM87.9 189.4h1v1h-1zM90.6 189.4h1v1h-1zM93.3 189.4h1v1h-1zM96.0 189.4h1v1h-1zM98.7 189.4h1v1h-1zM155.4 189.4h1v1h-1zM163.5 189.4h1v1h-1zM166.2 189.4h1v1h-1zM168.9 189.4h1v1h-1zM177.0 189.4h1v1h-1zM179.7 189.4h1v1h-1zM182.4 189.4h1v1h-1zM185.1 189.4h1v1h-1zM187.8 189.4h1v1h-1zM190.5 189.4h1v1h-1zM193.2 189.4h1v1h-1zM198.6 189.4h1v1h-1zM201.3 189.4h1v1h-1zM217.5 189.4h1v1h-1zM222.9 189.4h1v1h-1zM228.3 189.4h1v1h-1zM231.0 189.4h1v1h-1zM233.7 189.4h1v1h-1zM239.1 189.4h1v1h-1zM241.8 189.4h1v1h-1zM77.1 192.0h1v1h-1zM79.8 192.0h1v1h-1zM82.5 192.0h1v1h-1zM85.2 192.0h1v1h-1zM87.9 192.0h1v1h-1zM90.6 192.0h1v1h-1zM93.3 192.0h1v1h-1zM96.0 192.0h1v1h-1zM98.7 192.0h1v1h-1zM155.4 192.0h1v1h-1zM166.2 192.0h1v1h-1zM168.9 192.0h1v1h-1zM174.3 192.0h1v1h-1zM177.0 192.0h1v1h-1zM179.7 192.0h1v1h-1zM182.4 192.0h1v1h-1zM185.1 192.0h1v1h-1zM187.8 192.0h1v1h-1zM190.5 192.0h1v1h-1zM193.2 192.0h1v1h-1zM195.9 192.0h1v1h-1zM201.3 192.0h1v1h-1zM206.7 192.0h1v1h-1zM209.4 192.0h1v1h-1zM214.8 192.0h1v1h-1zM225.6 192.0h1v1h-1zM231.0 192.0h1v1h-1zM233.7 192.0h1v1h-1zM244.5 192.0h1v1h-1zM247.2 192.0h1v1h-1zM77.1 194.5h1v1h-1zM79.8 194.5h1v1h-1zM82.5 194.5h1v1h-1zM85.2 194.5h1v1h-1zM87.9 194.5h1v1h-1zM90.6 194.5h1v1h-1zM98.7 194.5h1v1h-1zM155.4 194.5h1v1h-1zM158.1 194.5h1v1h-1zM166.2 194.5h1v1h-1zM171.6 194.5h1v1h-1zM174.3 194.5h1v1h-1zM177.0 194.5h1v1h-1zM179.7 194.5h1v1h-1zM185.1 194.5h1v1h-1zM187.8 194.5h1v1h-1zM190.5 194.5h1v1h-1zM193.2 194.5h1v1h-1zM195.9 194.5h1v1h-1zM77.1 197.1h1v1h-1zM79.8 197.1h1v1h-1zM85.2 197.1h1v1h-1zM87.9 197.1h1v1h-1zM90.6 197.1h1v1h-1zM93.3 197.1h1v1h-1zM96.0 197.1h1v1h-1zM98.7 197.1h1v1h-1zM179.7 197.1h1v1h-1zM187.8 197.1h1v1h-1zM190.5 197.1h1v1h-1zM217.5 197.1h1v1h-1zM77.1 199.6h1v1h-1zM79.8 199.6h1v1h-1zM82.5 199.6h1v1h-1zM85.2 199.6h1v1h-1zM87.9 199.6h1v1h-1zM90.6 199.6h1v1h-1zM93.3 199.6h1v1h-1zM96.0 199.6h1v1h-1zM98.7 199.6h1v1h-1zM168.9 199.6h1v1h-1zM174.3 199.6h1v1h-1zM206.7 199.6h1v1h-1zM209.4 199.6h1v1h-1zM212.1 199.6h1v1h-1zM217.5 199.6h1v1h-1zM222.9 199.6h1v1h-1zM225.6 199.6h1v1h-1zM228.3 199.6h1v1h-1zM231.0 199.6h1v1h-1zM233.7 199.6h1v1h-1zM236.4 199.6h1v1h-1zM239.1 199.6h1v1h-1zM82.5 202.2h1v1h-1zM85.2 202.2h1v1h-1zM87.9 202.2h1v1h-1zM93.3 202.2h1v1h-1zM96.0 202.2h1v1h-1zM101.4 202.2h1v1h-1zM163.5 202.2h1v1h-1zM166.2 202.2h1v1h-1zM168.9 202.2h1v1h-1zM171.6 202.2h1v1h-1zM174.3 202.2h1v1h-1zM201.3 202.2h1v1h-1zM222.9 202.2h1v1h-1zM225.6 202.2h1v1h-1zM228.3 202.2h1v1h-1zM231.0 202.2h1v1h-1zM233.7 202.2h1v1h-1zM236.4 202.2h1v1h-1zM79.8 204.7h1v1h-1zM82.5 204.7h1v1h-1zM85.2 204.7h1v1h-1zM87.9 204.7h1v1h-1zM90.6 204.7h1v1h-1zM93.3 204.7h1v1h-1zM96.0 204.7h1v1h-1zM98.7 204.7h1v1h-1zM101.4 204.7h1v1h-1zM155.4 204.7h1v1h-1zM158.1 204.7h1v1h-1zM174.3 204.7h1v1h-1zM177.0 204.7h1v1h-1zM179.7 204.7h1v1h-1zM187.8 204.7h1v1h-1zM212.1 204.7h1v1h-1zM214.8 204.7h1v1h-1zM231.0 204.7h1v1h-1zM239.1 204.7h1v1h-1zM79.8 207.3h1v1h-1zM82.5 207.3h1v1h-1zM85.2 207.3h1v1h-1zM90.6 207.3h1v1h-1zM93.3 207.3h1v1h-1zM96.0 207.3h1v1h-1zM101.4 207.3h1v1h-1zM155.4 207.3h1v1h-1zM158.1 207.3h1v1h-1zM182.4 207.3h1v1h-1zM187.8 207.3h1v1h-1zM190.5 207.3h1v1h-1zM204.0 207.3h1v1h-1zM209.4 207.3h1v1h-1zM220.2 207.3h1v1h-1zM239.1 207.3h1v1h-1zM79.8 209.8h1v1h-1zM82.5 209.8h1v1h-1zM85.2 209.8h1v1h-1zM90.6 209.8h1v1h-1zM96.0 209.8h1v1h-1zM98.7 209.8h1v1h-1zM101.4 209.8h1v1h-1zM106.8 209.8h1v1h-1zM187.8 209.8h1v1h-1zM190.5 209.8h1v1h-1zM195.9 209.8h1v1h-1zM204.0 209.8h1v1h-1zM206.7 209.8h1v1h-1zM220.2 209.8h1v1h-1zM222.9 209.8h1v1h-1zM225.6 209.8h1v1h-1zM228.3 209.8h1v1h-1zM231.0 209.8h1v1h-1zM233.7 209.8h1v1h-1zM239.1 209.8h1v1h-1zM87.9 212.4h1v1h-1zM90.6 212.4h1v1h-1zM93.3 212.4h1v1h-1zM96.0 212.4h1v1h-1zM98.7 212.4h1v1h-1zM101.4 212.4h1v1h-1zM155.4 212.4h1v1h-1zM160.8 212.4h1v1h-1zM168.9 212.4h1v1h-1zM174.3 212.4h1v1h-1zM177.0 212.4h1v1h-1zM195.9 212.4h1v1h-1zM198.6 212.4h1v1h-1zM201.3 212.4h1v1h-1zM204.0 212.4h1v1h-1zM206.7 212.4h1v1h-1zM214.8 212.4h1v1h-1zM222.9 212.4h1v1h-1zM225.6 212.4h1v1h-1zM228.3 212.4h1v1h-1zM90.6 214.9h1v1h-1zM93.3 214.9h1v1h-1zM155.4 214.9h1v1h-1zM158.1 214.9h1v1h-1zM168.9 214.9h1v1h-1zM174.3 214.9h1v1h-1zM195.9 214.9h1v1h-1zM198.6 214.9h1v1h-1zM204.0 214.9h1v1h-1zM214.8 214.9h1v1h-1zM217.5 214.9h1v1h-1zM222.9 214.9h1v1h-1zM233.7 214.9h1v1h-1zM239.1 214.9h1v1h-1zM158.1 217.5h1v1h-1zM160.8 217.5h1v1h-1zM163.5 217.5h1v1h-1zM166.2 217.5h1v1h-1zM168.9 217.5h1v1h-1zM171.6 217.5h1v1h-1zM174.3 217.5h1v1h-1zM177.0 217.5h1v1h-1zM179.7 217.5h1v1h-1zM212.1 217.5h1v1h-1zM225.6 217.5h1v1h-1zM155.4 220.0h1v1h-1zM158.1 220.0h1v1h-1zM166.2 220.0h1v1h-1zM168.9 220.0h1v1h-1zM171.6 220.0h1v1h-1zM174.3 220.0h1v1h-1zM177.0 220.0h1v1h-1zM179.7 220.0h1v1h-1zM182.4 220.0h1v1h-1zM209.4 220.0h1v1h-1zM212.1 220.0h1v1h-1zM214.8 220.0h1v1h-1zM225.6 220.0h1v1h-1zM160.8 222.6h1v1h-1zM166.2 222.6h1v1h-1zM171.6 222.6h1v1h-1zM177.0 222.6h1v1h-1zM179.7 222.6h1v1h-1zM182.4 222.6h1v1h-1zM209.4 222.6h1v1h-1zM212.1 222.6h1v1h-1zM214.8 222.6h1v1h-1zM225.6 222.6h1v1h-1zM104.1 225.1h1v1h-1zM166.2 225.1h1v1h-1zM168.9 225.1h1v1h-1zM179.7 225.1h1v1h-1zM228.3 225.1h1v1h-1zM152.7 227.7h1v1h-1zM155.4 227.7h1v1h-1zM158.1 227.7h1v1h-1zM160.8 227.7h1v1h-1zM163.5 227.7h1v1h-1zM166.2 227.7h1v1h-1zM168.9 227.7h1v1h-1zM171.6 227.7h1v1h-1zM174.3 227.7h1v1h-1zM185.1 227.7h1v1h-1zM117.6 230.2h1v1h-1zM155.4 230.2h1v1h-1zM171.6 230.2h1v1h-1zM177.0 230.2h1v1h-1zM185.1 230.2h1v1h-1zM174.3 232.8h1v1h-1zM177.0 232.8h1v1h-1zM179.7 232.8h1v1h-1zM182.4 232.8h1v1h-1zM185.1 232.8h1v1h-1zM187.8 232.8h1v1h-1zM174.3 235.3h1v1h-1zM182.4 235.3h1v1h-1zM120.3 237.9h1v1h-1zM123.0 237.9h1v1h-1zM125.7 237.9h1v1h-1zM128.4 237.9h1v1h-1zM171.6 237.9h1v1h-1zM174.3 237.9h1v1h-1zM179.7 237.9h1v1h-1zM123.0 240.4h1v1h-1zM125.7 240.4h1v1h-1zM128.4 240.4h1v1h-1zM131.1 240.4h1v1h-1zM174.3 240.4h1v1h-1zM179.7 240.4h1v1h-1zM182.4 240.4h1v1h-1zM117.6 243.0h1v1h-1zM123.0 243.0h1v1h-1zM125.7 243.0h1v1h-1zM128.4 243.0h1v1h-1zM131.1 243.0h1v1h-1zM133.8 243.0h1v1h-1zM168.9 243.0h1v1h-1zM171.6 243.0h1v1h-1zM174.3 243.0h1v1h-1zM177.0 243.0h1v1h-1zM179.7 243.0h1v1h-1zM182.4 243.0h1v1h-1zM117.6 245.5h1v1h-1zM120.3 245.5h1v1h-1zM123.0 245.5h1v1h-1zM125.7 245.5h1v1h-1zM131.1 245.5h1v1h-1zM133.8 245.5h1v1h-1zM171.6 245.5h1v1h-1zM177.0 245.5h1v1h-1zM182.4 245.5h1v1h-1zM117.6 248.1h1v1h-1zM120.3 248.1h1v1h-1zM125.7 248.1h1v1h-1zM182.4 248.1h1v1h-1zM252.6 248.1h1v1h-1zM117.6 250.6h1v1h-1zM123.0 250.6h1v1h-1zM125.7 250.6h1v1h-1zM128.4 250.6h1v1h-1zM131.1 250.6h1v1h-1zM174.3 250.6h1v1h-1zM177.0 250.6h1v1h-1zM179.7 250.6h1v1h-1zM252.6 250.6h1v1h-1zM258.0 250.6h1v1h-1zM117.6 253.2h1v1h-1zM120.3 253.2h1v1h-1zM125.7 253.2h1v1h-1zM179.7 253.2h1v1h-1zM239.1 253.2h1v1h-1zM241.8 253.2h1v1h-1zM244.5 253.2h1v1h-1zM247.2 253.2h1v1h-1zM249.9 253.2h1v1h-1zM252.6 253.2h1v1h-1zM258.0 253.2h1v1h-1zM117.6 255.7h1v1h-1zM120.3 255.7h1v1h-1zM171.6 255.7h1v1h-1zM177.0 255.7h1v1h-1zM179.7 255.7h1v1h-1zM182.4 255.7h1v1h-1zM236.4 255.7h1v1h-1zM239.1 255.7h1v1h-1zM241.8 255.7h1v1h-1zM244.5 255.7h1v1h-1zM247.2 255.7h1v1h-1zM249.9 255.7h1v1h-1zM252.6 255.7h1v1h-1zM258.0 255.7h1v1h-1zM117.6 258.3h1v1h-1zM177.0 258.3h1v1h-1zM239.1 258.3h1v1h-1zM241.8 258.3h1v1h-1zM247.2 258.3h1v1h-1zM249.9 258.3h1v1h-1zM252.6 258.3h1v1h-1zM255.3 258.3h1v1h-1zM258.0 258.3h1v1h-1zM260.7 258.3h1v1h-1zM263.4 258.3h1v1h-1zM117.6 260.8h1v1h-1zM239.1 260.8h1v1h-1zM241.8 260.8h1v1h-1zM247.2 260.8h1v1h-1zM249.9 260.8h1v1h-1zM252.6 260.8h1v1h-1zM255.3 260.8h1v1h-1zM258.0 260.8h1v1h-1zM260.7 260.8h1v1h-1zM263.4 260.8h1v1h-1zM114.9 263.4h1v1h-1zM255.3 263.4h1v1h-1zM258.0 263.4h1v1h-1zM114.9 265.9h1v1h-1zM117.6 265.9h1v1h-1zM258.0 265.9h1v1h-1zM114.9 268.5h1v1h-1zM117.6 268.5h1v1h-1z" fill="#1a1a1a"/>
<path d="M40.5 167.5V283.4H281.4V167.5" fill="none" stroke="#2a2a2a" stroke-width="0.9"/>
<path d="M40.0 167.5H281.9" fill="none" stroke="#505050" stroke-width="1.4"/>
<g>
<path fill="#5a3306" d="M562.6 223.4h1.5v1.7h-1.5zM562.6 225.0h2.8v1.7h-2.8zM502.6 231.1h2.8v1.7h-2.8zM502.6 232.7h2.8v1.7h-2.8z"/>
<path fill="#673c08" d="M562.6 218.8h1.5v1.7h-1.5zM579.9 228.1h1.5v1.7h-1.5z"/>
<path fill="#75440a" d="M567.9 223.4h1.5v1.7h-1.5z"/>
<path fill="#824e0c" d="M561.2 218.8h1.5v1.7h-1.5zM567.9 221.9h1.5v1.7h-1.5zM561.2 225.0h1.5v1.7h-1.5zM502.6 229.6h2.8v1.7h-2.8z"/>
<path fill="#8e570e" d="M559.9 218.8h1.5v1.7h-1.5zM561.2 223.4h1.5v1.7h-1.5zM563.9 223.4h1.5v1.7h-1.5z"/>
<path fill="#9a6011" d="M563.9 218.8h1.5v1.7h-1.5zM569.2 223.4h1.5v1.7h-1.5zM499.9 231.1h2.8v1.7h-2.8zM505.2 232.7h1.5v1.7h-1.5z"/>
<path fill="#a76d18" d="M567.9 226.5h1.5v1.7h-1.5zM579.9 226.5h1.5v1.7h-1.5zM567.9 228.1h1.5v1.7h-1.5zM501.2 229.6h1.5v1.7h-1.5zM503.9 234.2h1.5v1.7h-1.5zM518.6 234.2h1.5v1.7h-1.5zM522.6 240.4h1.5v1.7h-1.5z"/>
<path fill="#b47a1f" d="M562.6 220.4h1.5v1.7h-1.5zM563.9 226.5h1.5v1.7h-1.5zM579.9 229.6h1.5v1.7h-1.5zM501.2 232.7h1.5v1.7h-1.5zM521.2 237.3h1.5v1.7h-1.5zM519.9 238.8h1.5v1.7h-1.5z"/>
<path fill="#c0882d" d="M561.2 217.3h1.5v1.7h-1.5zM567.9 225.0h1.5v1.7h-1.5zM569.2 228.1h1.5v1.7h-1.5zM569.2 229.6h1.5v1.7h-1.5zM505.2 234.2h1.5v1.7h-1.5zM519.9 235.7h1.5v1.7h-1.5zM522.6 238.8h1.5v1.7h-1.5zM521.2 240.4h1.5v1.7h-1.5zM521.2 241.9h1.5v1.7h-1.5z"/>
<path fill="#cc983d" d="M507.9 188.1h1.5v1.7h-1.5zM559.9 217.3h1.5v1.7h-1.5zM567.9 220.4h1.5v1.7h-1.5zM518.6 235.7h1.5v1.7h-1.5zM522.6 237.3h1.5v1.7h-1.5zM519.9 240.4h1.5v1.7h-1.5zM594.6 240.4h1.5v1.7h-1.5zM594.6 241.9h1.5v1.7h-1.5zM519.9 243.4h2.8v1.7h-2.8z"/>
<path fill="#d6aa54" d="M509.2 188.1h1.5v1.7h-1.5zM438.5 211.1h2.8v1.7h-2.8zM562.6 217.3h1.5v1.7h-1.5zM559.9 220.4h2.8v1.7h-2.8zM562.6 221.9h1.5v1.7h-1.5zM565.2 225.0h1.5v1.7h-1.5zM569.2 225.0h1.5v1.7h-1.5zM566.6 226.5h1.5v1.7h-1.5zM569.2 226.5h1.5v1.7h-1.5zM567.9 229.6h1.5v1.7h-1.5zM505.2 231.1h1.5v1.7h-1.5zM519.9 234.2h1.5v1.7h-1.5zM505.2 235.7h1.5v1.7h-1.5zM521.2 238.8h1.5v1.7h-1.5zM446.5 240.4h1.5v1.7h-1.5zM523.9 240.4h1.5v1.7h-1.5zM519.9 241.9h1.5v1.7h-1.5zM522.6 241.9h1.5v1.7h-1.5zM593.3 241.9h1.5v1.7h-1.5z"/>
<path fill="#e1bd6f" d="M506.6 188.1h1.5v1.7h-1.5zM506.6 189.6h4.2v1.7h-4.2zM439.9 209.6h1.5v1.7h-1.5zM438.5 212.7h2.8v1.7h-2.8zM569.2 220.4h1.5v1.7h-1.5zM566.6 223.4h1.5v1.7h-1.5zM566.6 225.0h1.5v1.7h-1.5zM581.3 228.1h1.5v1.7h-1.5zM499.9 229.6h1.5v1.7h-1.5zM506.6 234.2h1.5v1.7h-1.5zM517.2 234.2h1.5v1.7h-1.5zM521.2 235.7h1.5v1.7h-1.5zM523.9 237.3h1.5v1.7h-1.5zM445.2 238.8h2.8v1.7h-2.8zM523.9 238.8h1.5v1.7h-1.5zM593.3 240.4h1.5v1.7h-1.5zM445.2 243.4h1.5v1.7h-1.5z"/>
<path fill="#eacd8b" d="M510.6 188.1h1.5v1.7h-1.5zM539.9 188.1h2.8v1.7h-2.8zM541.2 189.6h2.8v1.7h-2.8zM506.6 191.2h1.5v1.7h-1.5zM417.2 192.7h1.5v1.7h-1.5zM509.2 192.7h2.8v1.7h-2.8zM498.6 200.4h1.5v1.7h-1.5zM563.9 217.3h1.5v1.7h-1.5zM558.6 218.8h1.5v1.7h-1.5zM561.2 221.9h1.5v1.7h-1.5zM570.6 221.9h1.5v1.7h-1.5zM565.2 223.4h1.5v1.7h-1.5zM579.9 223.4h1.5v1.7h-1.5zM578.6 225.0h1.5v1.7h-1.5zM565.2 226.5h1.5v1.7h-1.5zM578.6 226.5h1.5v1.7h-1.5zM581.3 226.5h1.5v1.7h-1.5zM498.6 231.1h1.5v1.7h-1.5zM506.6 231.1h1.5v1.7h-1.5zM506.6 232.7h1.5v1.7h-1.5zM503.9 235.7h1.5v1.7h-1.5zM506.6 235.7h1.5v1.7h-1.5zM517.2 235.7h1.5v1.7h-1.5zM522.6 235.7h1.5v1.7h-1.5zM445.2 240.4h1.5v1.7h-1.5zM518.6 240.4h1.5v1.7h-1.5zM595.9 240.4h1.5v1.7h-1.5zM446.5 241.9h1.5v1.7h-1.5zM523.9 241.9h1.5v1.7h-1.5zM521.2 245.0h1.5v1.7h-1.5z"/>
<path fill="#f2dca8" d="M427.9 186.5h1.5v1.7h-1.5zM437.2 186.5h2.8v1.7h-2.8zM505.2 186.5h1.5v1.7h-1.5zM507.9 186.5h1.5v1.7h-1.5zM513.2 186.5h1.5v1.7h-1.5zM427.9 188.1h2.8v1.7h-2.8zM437.2 188.1h1.5v1.7h-1.5zM439.9 188.1h1.5v1.7h-1.5zM502.6 188.1h1.5v1.7h-1.5zM505.2 188.1h1.5v1.7h-1.5zM513.2 188.1h1.5v1.7h-1.5zM537.2 188.1h2.8v1.7h-2.8zM542.6 188.1h1.5v1.7h-1.5zM546.6 188.1h2.8v1.7h-2.8zM505.2 189.6h1.5v1.7h-1.5zM533.2 189.6h2.8v1.7h-2.8zM537.2 189.6h1.5v1.7h-1.5zM539.9 189.6h1.5v1.7h-1.5zM505.2 191.2h1.5v1.7h-1.5zM509.2 191.2h1.5v1.7h-1.5zM513.2 191.2h1.5v1.7h-1.5zM542.6 191.2h1.5v1.7h-1.5zM418.5 192.7h1.5v1.7h-1.5zM521.2 192.7h1.5v1.7h-1.5zM509.2 194.2h1.5v1.7h-1.5zM521.2 194.2h1.5v1.7h-1.5zM414.5 195.8h1.5v1.7h-1.5zM521.2 195.8h1.5v1.7h-1.5zM413.2 197.3h2.8v1.7h-2.8zM498.6 198.8h1.5v1.7h-1.5zM497.2 201.9h5.5v1.7h-5.5zM438.5 209.6h1.5v1.7h-1.5zM567.9 218.8h1.5v1.7h-1.5zM566.6 221.9h1.5v1.7h-1.5zM578.6 223.4h1.5v1.7h-1.5zM570.6 225.0h1.5v1.7h-1.5zM502.6 228.1h2.8v1.7h-2.8zM563.9 228.1h1.5v1.7h-1.5zM566.6 228.1h1.5v1.7h-1.5zM507.9 229.6h1.5v1.7h-1.5zM507.9 231.1h1.5v1.7h-1.5zM498.6 232.7h1.5v1.7h-1.5zM518.6 232.7h2.8v1.7h-2.8zM577.2 232.7h1.5v1.7h-1.5zM523.9 235.7h1.5v1.7h-1.5zM518.6 237.3h1.5v1.7h-1.5zM518.6 238.8h1.5v1.7h-1.5zM597.3 240.4h1.5v1.7h-1.5zM518.6 241.9h1.5v1.7h-1.5zM595.9 241.9h1.5v1.7h-1.5zM446.5 243.4h1.5v1.7h-1.5zM522.6 243.4h1.5v1.7h-1.5zM519.9 245.0h1.5v1.7h-1.5zM522.6 245.0h1.5v1.7h-1.5z"/>
<path fill="#f7e8c6" d="M438.5 185.0h1.5v1.7h-1.5zM506.6 185.0h1.5v1.7h-1.5zM511.9 185.0h2.8v1.7h-2.8zM426.5 186.5h1.5v1.7h-1.5zM429.2 186.5h1.5v1.7h-1.5zM434.5 186.5h2.8v1.7h-2.8zM439.9 186.5h1.5v1.7h-1.5zM506.6 186.5h1.5v1.7h-1.5zM509.2 186.5h1.5v1.7h-1.5zM511.9 186.5h1.5v1.7h-1.5zM514.6 186.5h1.5v1.7h-1.5zM535.9 186.5h8.2v1.7h-8.2zM550.6 186.5h1.5v1.7h-1.5zM501.2 188.1h1.5v1.7h-1.5zM503.9 188.1h1.5v1.7h-1.5zM511.9 188.1h1.5v1.7h-1.5zM514.6 188.1h1.5v1.7h-1.5zM533.2 188.1h4.2v1.7h-4.2zM543.9 188.1h1.5v1.7h-1.5zM549.2 188.1h1.5v1.7h-1.5zM429.2 189.6h2.8v1.7h-2.8zM502.6 189.6h1.5v1.7h-1.5zM513.2 189.6h2.8v1.7h-2.8zM523.9 189.6h2.8v1.7h-2.8zM530.6 189.6h2.8v1.7h-2.8zM535.9 189.6h1.5v1.7h-1.5zM538.6 189.6h1.5v1.7h-1.5zM543.9 189.6h1.5v1.7h-1.5zM547.9 189.6h10.8v1.7h-10.8zM417.2 191.2h2.8v1.7h-2.8zM507.9 191.2h1.5v1.7h-1.5zM514.6 191.2h1.5v1.7h-1.5zM521.2 191.2h5.5v1.7h-5.5zM530.6 191.2h8.2v1.7h-8.2zM543.9 191.2h1.5v1.7h-1.5zM550.6 191.2h9.5v1.7h-9.5zM415.8 192.7h1.5v1.7h-1.5zM505.2 192.7h1.5v1.7h-1.5zM513.2 192.7h1.5v1.7h-1.5zM522.6 192.7h1.5v1.7h-1.5zM546.6 192.7h1.5v1.7h-1.5zM415.8 194.2h4.2v1.7h-4.2zM510.6 194.2h1.5v1.7h-1.5zM413.2 195.8h1.5v1.7h-1.5zM415.8 195.8h1.5v1.7h-1.5zM413.2 198.8h2.8v1.7h-2.8zM497.2 200.4h1.5v1.7h-1.5zM501.2 200.4h1.5v1.7h-1.5zM439.9 208.1h1.5v1.7h-1.5zM438.5 214.2h1.5v1.7h-1.5zM558.6 217.3h1.5v1.7h-1.5zM578.6 217.3h1.5v1.7h-1.5zM569.2 218.8h1.5v1.7h-1.5zM563.9 220.4h1.5v1.7h-1.5zM559.9 221.9h1.5v1.7h-1.5zM559.9 226.5h1.5v1.7h-1.5zM501.2 228.1h1.5v1.7h-1.5zM507.9 228.1h1.5v1.7h-1.5zM505.2 229.6h1.5v1.7h-1.5zM575.9 232.7h1.5v1.7h-1.5zM507.9 234.2h1.5v1.7h-1.5zM521.2 234.2h2.8v1.7h-2.8zM445.2 237.3h2.8v1.7h-2.8zM525.2 238.8h1.5v1.7h-1.5zM443.9 240.4h1.5v1.7h-1.5zM447.9 240.4h1.5v1.7h-1.5zM445.2 241.9h1.5v1.7h-1.5zM447.9 241.9h1.5v1.7h-1.5zM518.6 243.4h1.5v1.7h-1.5zM523.9 243.4h1.5v1.7h-1.5zM594.6 243.4h2.8v1.7h-2.8zM518.6 245.0h1.5v1.7h-1.5zM523.9 245.0h1.5v1.7h-1.5zM522.6 246.5h1.5v1.7h-1.5z"/>
<path fill="#faf1e1" d="M507.9 183.5h1.5v1.7h-1.5zM511.9 183.5h2.8v1.7h-2.8zM425.2 185.0h5.5v1.7h-5.5zM433.2 185.0h2.8v1.7h-2.8zM437.2 185.0h1.5v1.7h-1.5zM439.9 185.0h1.5v1.7h-1.5zM507.9 185.0h1.5v1.7h-1.5zM514.6 185.0h1.5v1.7h-1.5zM541.2 185.0h1.5v1.7h-1.5zM550.6 185.0h1.5v1.7h-1.5zM413.2 186.5h2.8v1.7h-2.8zM422.5 186.5h4.2v1.7h-4.2zM431.9 186.5h2.8v1.7h-2.8zM510.6 186.5h1.5v1.7h-1.5zM526.6 186.5h4.2v1.7h-4.2zM533.2 186.5h2.8v1.7h-2.8zM543.9 186.5h6.8v1.7h-6.8zM551.9 186.5h5.5v1.7h-5.5zM413.2 188.1h2.8v1.7h-2.8zM419.9 188.1h4.2v1.7h-4.2zM425.2 188.1h2.8v1.7h-2.8zM430.5 188.1h1.5v1.7h-1.5zM435.9 188.1h1.5v1.7h-1.5zM441.2 188.1h1.5v1.7h-1.5zM525.2 188.1h8.2v1.7h-8.2zM545.2 188.1h1.5v1.7h-1.5zM550.6 188.1h1.5v1.7h-1.5zM554.6 188.1h8.2v1.7h-8.2zM413.2 189.6h2.8v1.7h-2.8zM418.5 189.6h6.8v1.7h-6.8zM427.9 189.6h1.5v1.7h-1.5zM431.9 189.6h1.5v1.7h-1.5zM435.9 189.6h1.5v1.7h-1.5zM501.2 189.6h1.5v1.7h-1.5zM503.9 189.6h1.5v1.7h-1.5zM511.9 189.6h1.5v1.7h-1.5zM517.2 189.6h1.5v1.7h-1.5zM521.2 189.6h2.8v1.7h-2.8zM526.6 189.6h1.5v1.7h-1.5zM545.2 189.6h2.8v1.7h-2.8zM558.6 189.6h5.5v1.7h-5.5zM410.5 191.2h6.8v1.7h-6.8zM419.9 191.2h5.5v1.7h-5.5zM501.2 191.2h4.2v1.7h-4.2zM517.2 191.2h4.2v1.7h-4.2zM538.6 191.2h4.2v1.7h-4.2zM545.2 191.2h5.5v1.7h-5.5zM559.9 191.2h4.2v1.7h-4.2zM410.5 192.7h1.5v1.7h-1.5zM419.9 192.7h2.8v1.7h-2.8zM503.9 192.7h1.5v1.7h-1.5zM506.6 192.7h1.5v1.7h-1.5zM511.9 192.7h1.5v1.7h-1.5zM514.6 192.7h1.5v1.7h-1.5zM518.6 192.7h2.8v1.7h-2.8zM525.2 192.7h14.8v1.7h-14.8zM542.6 192.7h4.2v1.7h-4.2zM547.9 192.7h1.5v1.7h-1.5zM553.2 192.7h6.8v1.7h-6.8zM561.2 192.7h1.5v1.7h-1.5zM414.5 194.2h1.5v1.7h-1.5zM419.9 194.2h2.8v1.7h-2.8zM447.9 194.2h2.8v1.7h-2.8zM505.2 194.2h1.5v1.7h-1.5zM507.9 194.2h1.5v1.7h-1.5zM517.2 194.2h4.2v1.7h-4.2zM526.6 194.2h4.2v1.7h-4.2zM533.2 194.2h1.5v1.7h-1.5zM538.6 194.2h2.8v1.7h-2.8zM410.5 195.8h2.8v1.7h-2.8zM417.2 195.8h2.8v1.7h-2.8zM507.9 195.8h2.8v1.7h-2.8zM517.2 195.8h4.2v1.7h-4.2zM415.8 197.3h2.8v1.7h-2.8zM450.5 197.3h2.8v1.7h-2.8zM498.6 197.3h1.5v1.7h-1.5zM521.2 197.3h1.5v1.7h-1.5zM421.2 198.8h2.8v1.7h-2.8zM450.5 198.8h1.5v1.7h-1.5zM497.2 198.8h1.5v1.7h-1.5zM499.9 198.8h4.2v1.7h-4.2zM421.2 200.4h2.8v1.7h-2.8zM499.9 200.4h1.5v1.7h-1.5zM422.5 201.9h1.5v1.7h-1.5zM502.6 201.9h1.5v1.7h-1.5zM497.2 203.5h6.8v1.7h-6.8zM439.9 206.5h1.5v1.7h-1.5zM438.5 208.1h1.5v1.7h-1.5zM441.2 208.1h1.5v1.7h-1.5zM437.2 209.6h1.5v1.7h-1.5zM441.2 209.6h1.5v1.7h-1.5zM565.2 217.3h1.5v1.7h-1.5zM570.6 220.4h1.5v1.7h-1.5zM571.9 221.9h1.5v1.7h-1.5zM578.6 221.9h1.5v1.7h-1.5zM502.6 226.5h2.8v1.7h-2.8zM506.6 226.5h2.8v1.7h-2.8zM505.2 228.1h2.8v1.7h-2.8zM559.9 228.1h1.5v1.7h-1.5zM506.6 229.6h1.5v1.7h-1.5zM579.9 231.1h1.5v1.7h-1.5zM507.9 232.7h1.5v1.7h-1.5zM517.2 232.7h1.5v1.7h-1.5zM521.2 232.7h1.5v1.7h-1.5zM523.9 234.2h1.5v1.7h-1.5zM507.9 235.7h1.5v1.7h-1.5zM505.2 237.3h1.5v1.7h-1.5zM517.2 237.3h1.5v1.7h-1.5zM525.2 237.3h1.5v1.7h-1.5zM443.9 238.8h1.5v1.7h-1.5zM447.9 238.8h1.5v1.7h-1.5zM517.2 240.4h1.5v1.7h-1.5zM517.2 241.9h1.5v1.7h-1.5zM597.3 241.9h1.5v1.7h-1.5zM447.9 243.4h1.5v1.7h-1.5zM593.3 243.4h1.5v1.7h-1.5zM446.5 245.0h1.5v1.7h-1.5zM525.2 245.0h1.5v1.7h-1.5zM518.6 246.5h4.2v1.7h-4.2zM523.9 246.5h1.5v1.7h-1.5zM522.6 248.0h1.5v1.7h-1.5zM451.9 268.0h1.5v1.7h-1.5zM451.9 269.6h1.5v1.7h-1.5zM451.9 272.6h1.5v1.7h-1.5zM450.5 274.2h2.8v1.7h-2.8z"/>
<path fill="#f8f6f1" d="M591.9 178.9h5.5v1.7h-5.5zM566.6 180.4h1.5v1.7h-1.5zM569.2 180.4h1.5v1.7h-1.5zM593.3 180.4h2.8v1.7h-2.8zM398.5 181.9h2.8v1.7h-2.8zM511.9 181.9h6.8v1.7h-6.8zM566.6 181.9h5.5v1.7h-5.5zM617.3 181.9h1.5v1.7h-1.5zM399.8 183.5h2.8v1.7h-2.8zM403.8 183.5h2.8v1.7h-2.8zM411.8 183.5h2.8v1.7h-2.8zM419.9 183.5h16.2v1.7h-16.2zM437.2 183.5h5.5v1.7h-5.5zM443.9 183.5h1.5v1.7h-1.5zM510.6 183.5h1.5v1.7h-1.5zM514.6 183.5h8.2v1.7h-8.2zM530.6 183.5h9.5v1.7h-9.5zM541.2 183.5h4.2v1.7h-4.2zM553.2 183.5h6.8v1.7h-6.8zM569.2 183.5h4.2v1.7h-4.2zM607.9 183.5h5.5v1.7h-5.5zM386.5 185.0h1.5v1.7h-1.5zM394.5 185.0h1.5v1.7h-1.5zM399.8 185.0h1.5v1.7h-1.5zM403.8 185.0h2.8v1.7h-2.8zM411.8 185.0h5.5v1.7h-5.5zM418.5 185.0h6.8v1.7h-6.8zM430.5 185.0h2.8v1.7h-2.8zM435.9 185.0h1.5v1.7h-1.5zM441.2 185.0h4.2v1.7h-4.2zM510.6 185.0h1.5v1.7h-1.5zM515.9 185.0h8.2v1.7h-8.2zM525.2 185.0h16.2v1.7h-16.2zM542.6 185.0h8.2v1.7h-8.2zM551.9 185.0h9.5v1.7h-9.5zM566.6 185.0h1.5v1.7h-1.5zM569.2 185.0h4.2v1.7h-4.2zM598.6 185.0h1.5v1.7h-1.5zM609.3 185.0h5.5v1.7h-5.5zM386.5 186.5h1.5v1.7h-1.5zM403.8 186.5h2.8v1.7h-2.8zM411.8 186.5h1.5v1.7h-1.5zM415.8 186.5h6.8v1.7h-6.8zM430.5 186.5h1.5v1.7h-1.5zM441.2 186.5h4.2v1.7h-4.2zM515.9 186.5h4.2v1.7h-4.2zM521.2 186.5h1.5v1.7h-1.5zM525.2 186.5h1.5v1.7h-1.5zM530.6 186.5h2.8v1.7h-2.8zM557.2 186.5h14.8v1.7h-14.8zM597.3 186.5h2.8v1.7h-2.8zM609.3 186.5h5.5v1.7h-5.5zM403.8 188.1h2.8v1.7h-2.8zM411.8 188.1h1.5v1.7h-1.5zM417.2 188.1h2.8v1.7h-2.8zM423.9 188.1h1.5v1.7h-1.5zM442.5 188.1h5.5v1.7h-5.5zM493.2 188.1h1.5v1.7h-1.5zM515.9 188.1h2.8v1.7h-2.8zM521.2 188.1h4.2v1.7h-4.2zM551.9 188.1h2.8v1.7h-2.8zM562.6 188.1h1.5v1.7h-1.5zM565.2 188.1h8.2v1.7h-8.2zM598.6 188.1h1.5v1.7h-1.5zM609.3 188.1h6.8v1.7h-6.8zM409.2 189.6h4.2v1.7h-4.2zM415.8 189.6h2.8v1.7h-2.8zM425.2 189.6h2.8v1.7h-2.8zM433.2 189.6h2.8v1.7h-2.8zM443.9 189.6h4.2v1.7h-4.2zM493.2 189.6h1.5v1.7h-1.5zM497.2 189.6h1.5v1.7h-1.5zM515.9 189.6h1.5v1.7h-1.5zM518.6 189.6h2.8v1.7h-2.8zM527.9 189.6h2.8v1.7h-2.8zM563.9 189.6h1.5v1.7h-1.5zM567.9 189.6h6.8v1.7h-6.8zM578.6 189.6h1.5v1.7h-1.5zM598.6 189.6h1.5v1.7h-1.5zM610.6 189.6h5.5v1.7h-5.5zM407.8 191.2h2.8v1.7h-2.8zM425.2 191.2h8.2v1.7h-8.2zM434.5 191.2h1.5v1.7h-1.5zM446.5 191.2h1.5v1.7h-1.5zM453.2 191.2h1.5v1.7h-1.5zM494.5 191.2h2.8v1.7h-2.8zM515.9 191.2h1.5v1.7h-1.5zM526.6 191.2h4.2v1.7h-4.2zM563.9 191.2h17.5v1.7h-17.5zM409.2 192.7h1.5v1.7h-1.5zM422.5 192.7h5.5v1.7h-5.5zM434.5 192.7h6.8v1.7h-6.8zM446.5 192.7h4.2v1.7h-4.2zM451.9 192.7h5.5v1.7h-5.5zM494.5 192.7h2.8v1.7h-2.8zM507.9 192.7h1.5v1.7h-1.5zM515.9 192.7h2.8v1.7h-2.8zM523.9 192.7h1.5v1.7h-1.5zM539.9 192.7h2.8v1.7h-2.8zM549.2 192.7h4.2v1.7h-4.2zM559.9 192.7h1.5v1.7h-1.5zM562.6 192.7h9.5v1.7h-9.5zM573.2 192.7h5.5v1.7h-5.5zM579.9 192.7h1.5v1.7h-1.5zM410.5 194.2h4.2v1.7h-4.2zM422.5 194.2h4.2v1.7h-4.2zM439.9 194.2h4.2v1.7h-4.2zM446.5 194.2h1.5v1.7h-1.5zM450.5 194.2h6.8v1.7h-6.8zM491.9 194.2h5.5v1.7h-5.5zM503.9 194.2h1.5v1.7h-1.5zM506.6 194.2h1.5v1.7h-1.5zM511.9 194.2h2.8v1.7h-2.8zM515.9 194.2h1.5v1.7h-1.5zM522.6 194.2h1.5v1.7h-1.5zM525.2 194.2h1.5v1.7h-1.5zM530.6 194.2h2.8v1.7h-2.8zM534.6 194.2h4.2v1.7h-4.2zM541.2 194.2h9.5v1.7h-9.5zM553.2 194.2h17.5v1.7h-17.5zM574.6 194.2h2.8v1.7h-2.8zM409.2 195.8h1.5v1.7h-1.5zM419.9 195.8h5.5v1.7h-5.5zM439.9 195.8h5.5v1.7h-5.5zM446.5 195.8h4.2v1.7h-4.2zM451.9 195.8h5.5v1.7h-5.5zM491.9 195.8h4.2v1.7h-4.2zM497.2 195.8h1.5v1.7h-1.5zM501.2 195.8h2.8v1.7h-2.8zM505.2 195.8h2.8v1.7h-2.8zM510.6 195.8h4.2v1.7h-4.2zM522.6 195.8h13.5v1.7h-13.5zM537.2 195.8h8.2v1.7h-8.2zM547.9 195.8h2.8v1.7h-2.8zM557.2 195.8h1.5v1.7h-1.5zM567.9 195.8h1.5v1.7h-1.5zM574.6 195.8h2.8v1.7h-2.8zM590.6 195.8h2.8v1.7h-2.8zM418.5 197.3h1.5v1.7h-1.5zM421.2 197.3h4.2v1.7h-4.2zM438.5 197.3h6.8v1.7h-6.8zM446.5 197.3h4.2v1.7h-4.2zM453.2 197.3h2.8v1.7h-2.8zM491.9 197.3h1.5v1.7h-1.5zM494.5 197.3h4.2v1.7h-4.2zM499.9 197.3h16.2v1.7h-16.2zM517.2 197.3h4.2v1.7h-4.2zM522.6 197.3h12.2v1.7h-12.2zM538.6 197.3h6.8v1.7h-6.8zM567.9 197.3h8.2v1.7h-8.2zM589.3 197.3h5.5v1.7h-5.5zM415.8 198.8h5.5v1.7h-5.5zM423.9 198.8h1.5v1.7h-1.5zM438.5 198.8h12.2v1.7h-12.2zM451.9 198.8h2.8v1.7h-2.8zM503.9 198.8h12.2v1.7h-12.2zM519.9 198.8h4.2v1.7h-4.2zM531.9 198.8h1.5v1.7h-1.5zM549.2 198.8h2.8v1.7h-2.8zM570.6 198.8h4.2v1.7h-4.2zM589.3 198.8h6.8v1.7h-6.8zM414.5 200.4h6.8v1.7h-6.8zM423.9 200.4h2.8v1.7h-2.8zM502.6 200.4h2.8v1.7h-2.8zM519.9 200.4h1.5v1.7h-1.5zM529.2 200.4h4.2v1.7h-4.2zM546.6 200.4h4.2v1.7h-4.2zM570.6 200.4h2.8v1.7h-2.8zM593.3 200.4h1.5v1.7h-1.5zM419.9 201.9h2.8v1.7h-2.8zM423.9 201.9h4.2v1.7h-4.2zM506.6 201.9h1.5v1.7h-1.5zM517.2 201.9h1.5v1.7h-1.5zM519.9 201.9h1.5v1.7h-1.5zM529.2 201.9h1.5v1.7h-1.5zM531.9 201.9h1.5v1.7h-1.5zM591.9 201.9h4.2v1.7h-4.2zM419.9 203.5h8.2v1.7h-8.2zM493.2 203.5h4.2v1.7h-4.2zM503.9 203.5h1.5v1.7h-1.5zM507.9 203.5h1.5v1.7h-1.5zM517.2 203.5h1.5v1.7h-1.5zM558.6 203.5h1.5v1.7h-1.5zM418.5 205.0h9.5v1.7h-9.5zM438.5 205.0h2.8v1.7h-2.8zM491.9 205.0h4.2v1.7h-4.2zM503.9 205.0h1.5v1.7h-1.5zM517.2 205.0h4.2v1.7h-4.2zM557.2 205.0h6.8v1.7h-6.8zM419.9 206.5h8.2v1.7h-8.2zM431.9 206.5h1.5v1.7h-1.5zM437.2 206.5h2.8v1.7h-2.8zM441.2 206.5h1.5v1.7h-1.5zM513.2 206.5h1.5v1.7h-1.5zM515.9 206.5h2.8v1.7h-2.8zM557.2 206.5h5.5v1.7h-5.5zM581.3 206.5h1.5v1.7h-1.5zM425.2 208.1h1.5v1.7h-1.5zM437.2 208.1h1.5v1.7h-1.5zM494.5 208.1h1.5v1.7h-1.5zM513.2 208.1h1.5v1.7h-1.5zM515.9 208.1h2.8v1.7h-2.8zM557.2 208.1h2.8v1.7h-2.8zM581.3 208.1h1.5v1.7h-1.5zM442.5 209.6h1.5v1.7h-1.5zM494.5 209.6h1.5v1.7h-1.5zM437.2 211.1h1.5v1.7h-1.5zM441.2 211.1h1.5v1.7h-1.5zM497.2 211.1h1.5v1.7h-1.5zM505.2 211.1h1.5v1.7h-1.5zM525.2 211.1h2.8v1.7h-2.8zM535.9 211.1h4.2v1.7h-4.2zM553.2 211.1h4.2v1.7h-4.2zM437.2 212.7h1.5v1.7h-1.5zM441.2 212.7h1.5v1.7h-1.5zM518.6 212.7h4.2v1.7h-4.2zM523.9 212.7h4.2v1.7h-4.2zM535.9 212.7h5.5v1.7h-5.5zM551.9 212.7h2.8v1.7h-2.8zM437.2 214.2h1.5v1.7h-1.5zM490.5 214.2h1.5v1.7h-1.5zM537.2 214.2h4.2v1.7h-4.2zM490.5 215.8h1.5v1.7h-1.5zM537.2 215.8h4.2v1.7h-4.2zM561.2 215.8h2.8v1.7h-2.8zM490.5 217.3h1.5v1.7h-1.5zM545.2 217.3h1.5v1.7h-1.5zM551.9 217.3h2.8v1.7h-2.8zM557.2 217.3h1.5v1.7h-1.5zM566.6 217.3h1.5v1.7h-1.5zM490.5 218.8h2.8v1.7h-2.8zM515.9 218.8h1.5v1.7h-1.5zM553.2 218.8h1.5v1.7h-1.5zM557.2 218.8h1.5v1.7h-1.5zM565.2 218.8h2.8v1.7h-2.8zM515.9 220.4h1.5v1.7h-1.5zM529.2 220.4h2.8v1.7h-2.8zM553.2 220.4h5.5v1.7h-5.5zM453.2 221.9h1.5v1.7h-1.5zM529.2 221.9h2.8v1.7h-2.8zM553.2 221.9h2.8v1.7h-2.8zM495.9 223.4h1.5v1.7h-1.5zM501.2 223.4h2.8v1.7h-2.8zM553.2 223.4h1.5v1.7h-1.5zM497.2 225.0h9.5v1.7h-9.5zM513.2 225.0h4.2v1.7h-4.2zM501.2 226.5h1.5v1.7h-1.5zM505.2 226.5h1.5v1.7h-1.5zM509.2 226.5h1.5v1.7h-1.5zM513.2 226.5h2.8v1.7h-2.8zM570.6 226.5h1.5v1.7h-1.5zM499.9 228.1h1.5v1.7h-1.5zM509.2 228.1h2.8v1.7h-2.8zM570.6 228.1h1.5v1.7h-1.5zM577.2 228.1h1.5v1.7h-1.5zM509.2 229.6h2.8v1.7h-2.8zM527.9 229.6h1.5v1.7h-1.5zM577.2 229.6h1.5v1.7h-1.5zM519.9 231.1h1.5v1.7h-1.5zM525.2 231.1h4.2v1.7h-4.2zM575.9 231.1h1.5v1.7h-1.5zM497.2 232.7h1.5v1.7h-1.5zM522.6 232.7h6.8v1.7h-6.8zM509.2 234.2h1.5v1.7h-1.5zM525.2 235.7h1.5v1.7h-1.5zM443.9 237.3h1.5v1.7h-1.5zM503.9 237.3h1.5v1.7h-1.5zM506.6 237.3h1.5v1.7h-1.5zM517.2 238.8h1.5v1.7h-1.5zM598.6 238.8h1.5v1.7h-1.5zM598.6 240.4h1.5v1.7h-1.5zM449.2 241.9h1.5v1.7h-1.5zM591.9 241.9h1.5v1.7h-1.5zM517.2 243.4h1.5v1.7h-1.5zM590.6 243.4h2.8v1.7h-2.8zM597.3 243.4h1.5v1.7h-1.5zM447.9 245.0h1.5v1.7h-1.5zM517.2 245.0h1.5v1.7h-1.5zM526.6 245.0h1.5v1.7h-1.5zM446.5 246.5h1.5v1.7h-1.5zM517.2 246.5h1.5v1.7h-1.5zM525.2 246.5h1.5v1.7h-1.5zM451.9 248.0h1.5v1.7h-1.5zM517.2 248.0h5.5v1.7h-5.5zM523.9 248.0h2.8v1.7h-2.8zM451.9 249.6h1.5v1.7h-1.5zM585.3 249.6h1.5v1.7h-1.5zM450.5 251.1h2.8v1.7h-2.8zM583.9 251.1h5.5v1.7h-5.5zM591.9 251.1h1.5v1.7h-1.5zM450.5 252.7h1.5v1.7h-1.5zM466.5 252.7h2.8v1.7h-2.8zM574.6 252.7h1.5v1.7h-1.5zM585.3 252.7h8.2v1.7h-8.2zM607.9 252.7h1.5v1.7h-1.5zM587.9 254.2h4.2v1.7h-4.2zM609.3 254.2h1.5v1.7h-1.5zM587.9 255.7h4.2v1.7h-4.2zM515.9 257.3h1.5v1.7h-1.5zM578.6 257.3h5.5v1.7h-5.5zM589.3 257.3h1.5v1.7h-1.5zM515.9 258.8h1.5v1.7h-1.5zM578.6 258.8h4.2v1.7h-4.2zM510.6 260.3h2.8v1.7h-2.8zM515.9 260.3h2.8v1.7h-2.8zM510.6 261.9h1.5v1.7h-1.5zM515.9 261.9h2.8v1.7h-2.8zM591.9 261.9h2.8v1.7h-2.8zM449.2 263.4h2.8v1.7h-2.8zM457.2 263.4h1.5v1.7h-1.5zM593.3 263.4h1.5v1.7h-1.5zM450.5 265.0h2.8v1.7h-2.8zM455.9 265.0h4.2v1.7h-4.2zM450.5 266.5h4.2v1.7h-4.2zM455.9 266.5h4.2v1.7h-4.2zM594.6 266.5h1.5v1.7h-1.5zM449.2 268.0h2.8v1.7h-2.8zM453.2 268.0h1.5v1.7h-1.5zM597.3 268.0h1.5v1.7h-1.5zM449.2 269.6h2.8v1.7h-2.8zM453.2 269.6h1.5v1.7h-1.5zM450.5 271.1h4.2v1.7h-4.2zM449.2 272.6h2.8v1.7h-2.8zM453.2 272.6h1.5v1.7h-1.5zM449.2 274.2h1.5v1.7h-1.5zM453.2 274.2h1.5v1.7h-1.5zM450.5 275.7h2.8v1.7h-2.8zM450.5 277.3h4.2v1.7h-4.2zM450.5 278.8h4.2v1.7h-4.2z"/>
<path fill="#edf1f5" d="M555.9 178.9h18.8v1.7h-18.8zM589.3 178.9h2.8v1.7h-2.8zM597.3 178.9h1.5v1.7h-1.5zM545.2 180.4h1.5v1.7h-1.5zM551.9 180.4h14.8v1.7h-14.8zM567.9 180.4h1.5v1.7h-1.5zM570.6 180.4h13.5v1.7h-13.5zM590.6 180.4h2.8v1.7h-2.8zM595.9 180.4h1.5v1.7h-1.5zM390.5 181.9h8.2v1.7h-8.2zM545.2 181.9h21.5v1.7h-21.5zM571.9 181.9h33.5v1.7h-33.5zM378.5 183.5h2.8v1.7h-2.8zM387.8 183.5h12.2v1.7h-12.2zM402.5 183.5h1.5v1.7h-1.5zM406.5 183.5h5.5v1.7h-5.5zM414.5 183.5h5.5v1.7h-5.5zM435.9 183.5h1.5v1.7h-1.5zM442.5 183.5h1.5v1.7h-1.5zM446.5 183.5h8.2v1.7h-8.2zM461.2 183.5h1.5v1.7h-1.5zM509.2 183.5h1.5v1.7h-1.5zM522.6 183.5h2.8v1.7h-2.8zM527.9 183.5h1.5v1.7h-1.5zM539.9 183.5h1.5v1.7h-1.5zM545.2 183.5h8.2v1.7h-8.2zM559.9 183.5h9.5v1.7h-9.5zM573.2 183.5h18.8v1.7h-18.8zM593.3 183.5h14.8v1.7h-14.8zM613.3 183.5h5.5v1.7h-5.5zM378.5 185.0h6.8v1.7h-6.8zM387.8 185.0h6.8v1.7h-6.8zM395.8 185.0h4.2v1.7h-4.2zM401.2 185.0h2.8v1.7h-2.8zM406.5 185.0h5.5v1.7h-5.5zM417.2 185.0h1.5v1.7h-1.5zM446.5 185.0h12.2v1.7h-12.2zM483.9 185.0h4.2v1.7h-4.2zM509.2 185.0h1.5v1.7h-1.5zM523.9 185.0h1.5v1.7h-1.5zM561.2 185.0h5.5v1.7h-5.5zM567.9 185.0h1.5v1.7h-1.5zM573.2 185.0h8.2v1.7h-8.2zM583.9 185.0h4.2v1.7h-4.2zM594.6 185.0h4.2v1.7h-4.2zM599.9 185.0h9.5v1.7h-9.5zM614.6 185.0h4.2v1.7h-4.2zM378.5 186.5h6.8v1.7h-6.8zM387.8 186.5h16.2v1.7h-16.2zM406.5 186.5h5.5v1.7h-5.5zM446.5 186.5h10.8v1.7h-10.8zM481.2 186.5h9.5v1.7h-9.5zM519.9 186.5h1.5v1.7h-1.5zM523.9 186.5h1.5v1.7h-1.5zM571.9 186.5h8.2v1.7h-8.2zM583.9 186.5h4.2v1.7h-4.2zM594.6 186.5h2.8v1.7h-2.8zM599.9 186.5h9.5v1.7h-9.5zM614.6 186.5h4.2v1.7h-4.2zM383.8 188.1h2.8v1.7h-2.8zM387.8 188.1h16.2v1.7h-16.2zM406.5 188.1h5.5v1.7h-5.5zM415.8 188.1h1.5v1.7h-1.5zM431.9 188.1h4.2v1.7h-4.2zM447.9 188.1h8.2v1.7h-8.2zM483.9 188.1h4.2v1.7h-4.2zM518.6 188.1h2.8v1.7h-2.8zM563.9 188.1h1.5v1.7h-1.5zM573.2 188.1h6.8v1.7h-6.8zM583.9 188.1h4.2v1.7h-4.2zM593.3 188.1h5.5v1.7h-5.5zM599.9 188.1h9.5v1.7h-9.5zM615.9 188.1h2.8v1.7h-2.8zM386.5 189.6h22.8v1.7h-22.8zM447.9 189.6h4.2v1.7h-4.2zM454.5 189.6h1.5v1.7h-1.5zM565.2 189.6h2.8v1.7h-2.8zM574.6 189.6h4.2v1.7h-4.2zM579.9 189.6h1.5v1.7h-1.5zM583.9 189.6h14.8v1.7h-14.8zM599.9 189.6h10.8v1.7h-10.8zM390.5 191.2h6.8v1.7h-6.8zM405.2 191.2h2.8v1.7h-2.8zM433.2 191.2h1.5v1.7h-1.5zM447.9 191.2h5.5v1.7h-5.5zM454.5 191.2h2.8v1.7h-2.8zM493.2 191.2h1.5v1.7h-1.5zM581.3 191.2h29.5v1.7h-29.5zM390.5 192.7h6.8v1.7h-6.8zM411.8 192.7h4.2v1.7h-4.2zM427.9 192.7h6.8v1.7h-6.8zM445.2 192.7h1.5v1.7h-1.5zM450.5 192.7h1.5v1.7h-1.5zM457.2 192.7h1.5v1.7h-1.5zM493.2 192.7h1.5v1.7h-1.5zM571.9 192.7h1.5v1.7h-1.5zM578.6 192.7h1.5v1.7h-1.5zM581.3 192.7h2.8v1.7h-2.8zM589.3 192.7h2.8v1.7h-2.8zM602.6 192.7h5.5v1.7h-5.5zM387.8 194.2h4.2v1.7h-4.2zM426.5 194.2h13.5v1.7h-13.5zM445.2 194.2h1.5v1.7h-1.5zM457.2 194.2h2.8v1.7h-2.8zM497.2 194.2h1.5v1.7h-1.5zM514.6 194.2h1.5v1.7h-1.5zM523.9 194.2h1.5v1.7h-1.5zM550.6 194.2h2.8v1.7h-2.8zM570.6 194.2h4.2v1.7h-4.2zM577.2 194.2h5.5v1.7h-5.5zM589.3 194.2h1.5v1.7h-1.5zM601.3 194.2h5.5v1.7h-5.5zM381.2 195.8h2.8v1.7h-2.8zM385.2 195.8h2.8v1.7h-2.8zM425.2 195.8h14.8v1.7h-14.8zM445.2 195.8h1.5v1.7h-1.5zM450.5 195.8h1.5v1.7h-1.5zM457.2 195.8h4.2v1.7h-4.2zM495.9 195.8h1.5v1.7h-1.5zM498.6 195.8h1.5v1.7h-1.5zM503.9 195.8h1.5v1.7h-1.5zM514.6 195.8h2.8v1.7h-2.8zM535.9 195.8h1.5v1.7h-1.5zM545.2 195.8h2.8v1.7h-2.8zM550.6 195.8h6.8v1.7h-6.8zM558.6 195.8h9.5v1.7h-9.5zM569.2 195.8h5.5v1.7h-5.5zM577.2 195.8h2.8v1.7h-2.8zM589.3 195.8h1.5v1.7h-1.5zM593.3 195.8h1.5v1.7h-1.5zM602.6 195.8h4.2v1.7h-4.2zM419.9 197.3h1.5v1.7h-1.5zM425.2 197.3h13.5v1.7h-13.5zM445.2 197.3h1.5v1.7h-1.5zM455.9 197.3h6.8v1.7h-6.8zM515.9 197.3h1.5v1.7h-1.5zM534.6 197.3h4.2v1.7h-4.2zM545.2 197.3h22.8v1.7h-22.8zM575.9 197.3h6.8v1.7h-6.8zM585.3 197.3h1.5v1.7h-1.5zM602.6 197.3h1.5v1.7h-1.5zM425.2 198.8h13.5v1.7h-13.5zM454.5 198.8h9.5v1.7h-9.5zM494.5 198.8h2.8v1.7h-2.8zM515.9 198.8h4.2v1.7h-4.2zM523.9 198.8h8.2v1.7h-8.2zM533.2 198.8h16.2v1.7h-16.2zM551.9 198.8h18.8v1.7h-18.8zM574.6 198.8h6.8v1.7h-6.8zM587.9 198.8h1.5v1.7h-1.5zM426.5 200.4h20.2v1.7h-20.2zM450.5 200.4h6.8v1.7h-6.8zM458.5 200.4h5.5v1.7h-5.5zM495.9 200.4h1.5v1.7h-1.5zM505.2 200.4h14.8v1.7h-14.8zM521.2 200.4h8.2v1.7h-8.2zM533.2 200.4h13.5v1.7h-13.5zM550.6 200.4h20.2v1.7h-20.2zM573.2 200.4h8.2v1.7h-8.2zM587.9 200.4h4.2v1.7h-4.2zM598.6 200.4h1.5v1.7h-1.5zM415.8 201.9h4.2v1.7h-4.2zM427.9 201.9h17.5v1.7h-17.5zM450.5 201.9h8.2v1.7h-8.2zM503.9 201.9h2.8v1.7h-2.8zM507.9 201.9h9.5v1.7h-9.5zM521.2 201.9h8.2v1.7h-8.2zM533.2 201.9h49.5v1.7h-49.5zM587.9 201.9h2.8v1.7h-2.8zM595.9 201.9h2.8v1.7h-2.8zM414.5 203.5h5.5v1.7h-5.5zM427.9 203.5h17.5v1.7h-17.5zM450.5 203.5h1.5v1.7h-1.5zM454.5 203.5h1.5v1.7h-1.5zM491.9 203.5h1.5v1.7h-1.5zM505.2 203.5h2.8v1.7h-2.8zM509.2 203.5h8.2v1.7h-8.2zM525.2 203.5h5.5v1.7h-5.5zM531.9 203.5h26.8v1.7h-26.8zM559.9 203.5h24.2v1.7h-24.2zM587.9 203.5h1.5v1.7h-1.5zM591.9 203.5h4.2v1.7h-4.2zM415.8 205.0h2.8v1.7h-2.8zM427.9 205.0h10.8v1.7h-10.8zM441.2 205.0h2.8v1.7h-2.8zM449.2 205.0h2.8v1.7h-2.8zM495.9 205.0h5.5v1.7h-5.5zM506.6 205.0h10.8v1.7h-10.8zM521.2 205.0h10.8v1.7h-10.8zM533.2 205.0h24.2v1.7h-24.2zM563.9 205.0h21.5v1.7h-21.5zM591.9 205.0h2.8v1.7h-2.8zM415.8 206.5h4.2v1.7h-4.2zM427.9 206.5h4.2v1.7h-4.2zM433.2 206.5h4.2v1.7h-4.2zM442.5 206.5h1.5v1.7h-1.5zM445.2 206.5h4.2v1.7h-4.2zM491.9 206.5h6.8v1.7h-6.8zM499.9 206.5h1.5v1.7h-1.5zM503.9 206.5h1.5v1.7h-1.5zM507.9 206.5h2.8v1.7h-2.8zM511.9 206.5h1.5v1.7h-1.5zM518.6 206.5h13.5v1.7h-13.5zM533.2 206.5h24.2v1.7h-24.2zM562.6 206.5h16.2v1.7h-16.2zM579.9 206.5h1.5v1.7h-1.5zM582.6 206.5h2.8v1.7h-2.8zM591.9 206.5h1.5v1.7h-1.5zM415.8 208.1h9.5v1.7h-9.5zM426.5 208.1h10.8v1.7h-10.8zM442.5 208.1h6.8v1.7h-6.8zM491.9 208.1h2.8v1.7h-2.8zM495.9 208.1h13.5v1.7h-13.5zM511.9 208.1h1.5v1.7h-1.5zM518.6 208.1h38.8v1.7h-38.8zM559.9 208.1h21.5v1.7h-21.5zM582.6 208.1h2.8v1.7h-2.8zM417.2 209.6h20.2v1.7h-20.2zM443.9 209.6h5.5v1.7h-5.5zM493.2 209.6h1.5v1.7h-1.5zM495.9 209.6h10.8v1.7h-10.8zM513.2 209.6h4.2v1.7h-4.2zM519.9 209.6h58.8v1.7h-58.8zM582.6 209.6h5.5v1.7h-5.5zM419.9 211.1h17.5v1.7h-17.5zM442.5 211.1h4.2v1.7h-4.2zM491.9 211.1h5.5v1.7h-5.5zM498.6 211.1h6.8v1.7h-6.8zM506.6 211.1h2.8v1.7h-2.8zM511.9 211.1h2.8v1.7h-2.8zM521.2 211.1h4.2v1.7h-4.2zM527.9 211.1h8.2v1.7h-8.2zM539.9 211.1h13.5v1.7h-13.5zM557.2 211.1h9.5v1.7h-9.5zM578.6 211.1h1.5v1.7h-1.5zM582.6 211.1h6.8v1.7h-6.8zM419.9 212.7h17.5v1.7h-17.5zM442.5 212.7h2.8v1.7h-2.8zM491.9 212.7h26.8v1.7h-26.8zM522.6 212.7h1.5v1.7h-1.5zM527.9 212.7h8.2v1.7h-8.2zM541.2 212.7h10.8v1.7h-10.8zM554.6 212.7h9.5v1.7h-9.5zM570.6 212.7h2.8v1.7h-2.8zM585.3 212.7h1.5v1.7h-1.5zM421.2 214.2h16.2v1.7h-16.2zM442.5 214.2h2.8v1.7h-2.8zM486.5 214.2h1.5v1.7h-1.5zM491.9 214.2h45.5v1.7h-45.5zM541.2 214.2h6.8v1.7h-6.8zM553.2 214.2h1.5v1.7h-1.5zM559.9 214.2h1.5v1.7h-1.5zM422.5 215.8h12.2v1.7h-12.2zM442.5 215.8h5.5v1.7h-5.5zM489.2 215.8h1.5v1.7h-1.5zM491.9 215.8h40.2v1.7h-40.2zM533.2 215.8h4.2v1.7h-4.2zM541.2 215.8h5.5v1.7h-5.5zM559.9 215.8h1.5v1.7h-1.5zM563.9 215.8h2.8v1.7h-2.8zM583.9 215.8h1.5v1.7h-1.5zM422.5 217.3h12.2v1.7h-12.2zM443.9 217.3h1.5v1.7h-1.5zM487.9 217.3h2.8v1.7h-2.8zM491.9 217.3h53.5v1.7h-53.5zM546.6 217.3h5.5v1.7h-5.5zM554.6 217.3h2.8v1.7h-2.8zM567.9 217.3h1.5v1.7h-1.5zM423.9 218.8h10.8v1.7h-10.8zM442.5 218.8h4.2v1.7h-4.2zM486.5 218.8h4.2v1.7h-4.2zM493.2 218.8h22.8v1.7h-22.8zM517.2 218.8h21.5v1.7h-21.5zM543.9 218.8h4.2v1.7h-4.2zM549.2 218.8h4.2v1.7h-4.2zM554.6 218.8h2.8v1.7h-2.8zM570.6 218.8h1.5v1.7h-1.5zM575.9 218.8h1.5v1.7h-1.5zM578.6 218.8h1.5v1.7h-1.5zM393.2 220.4h1.5v1.7h-1.5zM427.9 220.4h6.8v1.7h-6.8zM437.2 220.4h5.5v1.7h-5.5zM443.9 220.4h5.5v1.7h-5.5zM486.5 220.4h29.5v1.7h-29.5zM517.2 220.4h12.2v1.7h-12.2zM531.9 220.4h6.8v1.7h-6.8zM545.2 220.4h2.8v1.7h-2.8zM549.2 220.4h4.2v1.7h-4.2zM565.2 220.4h2.8v1.7h-2.8zM571.9 220.4h1.5v1.7h-1.5zM394.5 221.9h1.5v1.7h-1.5zM427.9 221.9h8.2v1.7h-8.2zM439.9 221.9h1.5v1.7h-1.5zM446.5 221.9h6.8v1.7h-6.8zM486.5 221.9h37.5v1.7h-37.5zM525.2 221.9h4.2v1.7h-4.2zM531.9 221.9h5.5v1.7h-5.5zM546.6 221.9h1.5v1.7h-1.5zM549.2 221.9h4.2v1.7h-4.2zM563.9 221.9h2.8v1.7h-2.8zM430.5 223.4h1.5v1.7h-1.5zM446.5 223.4h1.5v1.7h-1.5zM486.5 223.4h9.5v1.7h-9.5zM497.2 223.4h4.2v1.7h-4.2zM503.9 223.4h21.5v1.7h-21.5zM526.6 223.4h9.5v1.7h-9.5zM549.2 223.4h4.2v1.7h-4.2zM482.5 225.0h1.5v1.7h-1.5zM486.5 225.0h10.8v1.7h-10.8zM506.6 225.0h6.8v1.7h-6.8zM517.2 225.0h16.2v1.7h-16.2zM550.6 225.0h2.8v1.7h-2.8zM441.2 226.5h2.8v1.7h-2.8zM450.5 226.5h1.5v1.7h-1.5zM497.2 226.5h4.2v1.7h-4.2zM510.6 226.5h2.8v1.7h-2.8zM515.9 226.5h14.8v1.7h-14.8zM533.2 226.5h2.8v1.7h-2.8zM550.6 226.5h1.5v1.7h-1.5zM441.2 228.1h1.5v1.7h-1.5zM450.5 228.1h8.2v1.7h-8.2zM497.2 228.1h2.8v1.7h-2.8zM511.9 228.1h10.8v1.7h-10.8zM523.9 228.1h9.5v1.7h-9.5zM550.6 228.1h1.5v1.7h-1.5zM451.9 229.6h6.8v1.7h-6.8zM498.6 229.6h1.5v1.7h-1.5zM511.9 229.6h1.5v1.7h-1.5zM517.2 229.6h4.2v1.7h-4.2zM525.2 229.6h2.8v1.7h-2.8zM529.2 229.6h4.2v1.7h-4.2zM549.2 229.6h4.2v1.7h-4.2zM563.9 229.6h1.5v1.7h-1.5zM575.9 229.6h1.5v1.7h-1.5zM451.9 231.1h2.8v1.7h-2.8zM455.9 231.1h1.5v1.7h-1.5zM497.2 231.1h1.5v1.7h-1.5zM509.2 231.1h1.5v1.7h-1.5zM517.2 231.1h2.8v1.7h-2.8zM521.2 231.1h1.5v1.7h-1.5zM523.9 231.1h1.5v1.7h-1.5zM529.2 231.1h2.8v1.7h-2.8zM551.9 231.1h1.5v1.7h-1.5zM451.9 232.7h1.5v1.7h-1.5zM509.2 232.7h1.5v1.7h-1.5zM529.2 232.7h2.8v1.7h-2.8zM581.3 232.7h1.5v1.7h-1.5zM515.9 234.2h1.5v1.7h-1.5zM525.2 234.2h5.5v1.7h-5.5zM457.2 235.7h1.5v1.7h-1.5zM515.9 235.7h1.5v1.7h-1.5zM526.6 235.7h2.8v1.7h-2.8zM582.6 235.7h2.8v1.7h-2.8zM437.2 237.3h1.5v1.7h-1.5zM447.9 237.3h1.5v1.7h-1.5zM454.5 237.3h1.5v1.7h-1.5zM457.2 237.3h1.5v1.7h-1.5zM507.9 237.3h1.5v1.7h-1.5zM526.6 237.3h1.5v1.7h-1.5zM585.3 237.3h2.8v1.7h-2.8zM449.2 238.8h4.2v1.7h-4.2zM471.9 238.8h1.5v1.7h-1.5zM505.2 238.8h4.2v1.7h-4.2zM582.6 238.8h2.8v1.7h-2.8zM593.3 238.8h1.5v1.7h-1.5zM449.2 240.4h4.2v1.7h-4.2zM470.5 240.4h5.5v1.7h-5.5zM505.2 240.4h5.5v1.7h-5.5zM591.9 240.4h1.5v1.7h-1.5zM599.9 240.4h2.8v1.7h-2.8zM506.6 241.9h1.5v1.7h-1.5zM590.6 241.9h1.5v1.7h-1.5zM598.6 241.9h1.5v1.7h-1.5zM601.3 241.9h2.8v1.7h-2.8zM449.2 243.4h2.8v1.7h-2.8zM474.5 243.4h1.5v1.7h-1.5zM506.6 243.4h1.5v1.7h-1.5zM575.9 243.4h8.2v1.7h-8.2zM602.6 243.4h4.2v1.7h-4.2zM449.2 245.0h4.2v1.7h-4.2zM470.5 245.0h1.5v1.7h-1.5zM506.6 245.0h1.5v1.7h-1.5zM510.6 245.0h1.5v1.7h-1.5zM515.9 245.0h1.5v1.7h-1.5zM579.9 245.0h1.5v1.7h-1.5zM593.3 245.0h1.5v1.7h-1.5zM597.3 245.0h2.8v1.7h-2.8zM447.9 246.5h5.5v1.7h-5.5zM506.6 246.5h6.8v1.7h-6.8zM515.9 246.5h1.5v1.7h-1.5zM530.6 246.5h1.5v1.7h-1.5zM447.9 248.0h4.2v1.7h-4.2zM453.2 248.0h1.5v1.7h-1.5zM506.6 248.0h6.8v1.7h-6.8zM514.6 248.0h2.8v1.7h-2.8zM527.9 248.0h5.5v1.7h-5.5zM609.3 248.0h1.5v1.7h-1.5zM449.2 249.6h2.8v1.7h-2.8zM453.2 249.6h1.5v1.7h-1.5zM505.2 249.6h5.5v1.7h-5.5zM511.9 249.6h13.5v1.7h-13.5zM527.9 249.6h4.2v1.7h-4.2zM579.9 249.6h5.5v1.7h-5.5zM586.6 249.6h8.2v1.7h-8.2zM609.3 249.6h1.5v1.7h-1.5zM615.9 249.6h2.8v1.7h-2.8zM453.2 251.1h1.5v1.7h-1.5zM506.6 251.1h17.5v1.7h-17.5zM527.9 251.1h4.2v1.7h-4.2zM578.6 251.1h5.5v1.7h-5.5zM589.3 251.1h2.8v1.7h-2.8zM593.3 251.1h1.5v1.7h-1.5zM451.9 252.7h4.2v1.7h-4.2zM506.6 252.7h16.2v1.7h-16.2zM526.6 252.7h5.5v1.7h-5.5zM534.6 252.7h2.8v1.7h-2.8zM575.9 252.7h9.5v1.7h-9.5zM593.3 252.7h1.5v1.7h-1.5zM450.5 254.2h8.2v1.7h-8.2zM459.9 254.2h1.5v1.7h-1.5zM466.5 254.2h2.8v1.7h-2.8zM507.9 254.2h14.8v1.7h-14.8zM526.6 254.2h4.2v1.7h-4.2zM573.2 254.2h14.8v1.7h-14.8zM591.9 254.2h2.8v1.7h-2.8zM450.5 255.7h10.8v1.7h-10.8zM507.9 255.7h14.8v1.7h-14.8zM527.9 255.7h2.8v1.7h-2.8zM573.2 255.7h14.8v1.7h-14.8zM591.9 255.7h2.8v1.7h-2.8zM450.5 257.3h10.8v1.7h-10.8zM507.9 257.3h8.2v1.7h-8.2zM517.2 257.3h4.2v1.7h-4.2zM574.6 257.3h4.2v1.7h-4.2zM583.9 257.3h5.5v1.7h-5.5zM590.6 257.3h5.5v1.7h-5.5zM450.5 258.8h10.8v1.7h-10.8zM509.2 258.8h6.8v1.7h-6.8zM517.2 258.8h2.8v1.7h-2.8zM574.6 258.8h4.2v1.7h-4.2zM582.6 258.8h13.5v1.7h-13.5zM450.5 260.3h12.2v1.7h-12.2zM509.2 260.3h1.5v1.7h-1.5zM513.2 260.3h2.8v1.7h-2.8zM518.6 260.3h1.5v1.7h-1.5zM574.6 260.3h21.5v1.7h-21.5zM450.5 261.9h12.2v1.7h-12.2zM511.9 261.9h4.2v1.7h-4.2zM574.6 261.9h8.2v1.7h-8.2zM586.6 261.9h5.5v1.7h-5.5zM594.6 261.9h1.5v1.7h-1.5zM451.9 263.4h5.5v1.7h-5.5zM458.5 263.4h4.2v1.7h-4.2zM510.6 263.4h4.2v1.7h-4.2zM574.6 263.4h4.2v1.7h-4.2zM587.9 263.4h5.5v1.7h-5.5zM594.6 263.4h1.5v1.7h-1.5zM613.3 263.4h1.5v1.7h-1.5zM449.2 265.0h1.5v1.7h-1.5zM453.2 265.0h2.8v1.7h-2.8zM459.9 265.0h1.5v1.7h-1.5zM591.9 265.0h5.5v1.7h-5.5zM614.6 265.0h2.8v1.7h-2.8zM449.2 266.5h1.5v1.7h-1.5zM454.5 266.5h1.5v1.7h-1.5zM591.9 266.5h2.8v1.7h-2.8zM595.9 266.5h1.5v1.7h-1.5zM613.3 266.5h4.2v1.7h-4.2zM454.5 268.0h2.8v1.7h-2.8zM594.6 268.0h2.8v1.7h-2.8zM611.9 268.0h5.5v1.7h-5.5zM379.8 269.6h1.5v1.7h-1.5zM447.9 269.6h1.5v1.7h-1.5zM454.5 269.6h2.8v1.7h-2.8zM594.6 269.6h2.8v1.7h-2.8zM610.6 269.6h4.2v1.7h-4.2zM447.9 271.1h2.8v1.7h-2.8zM454.5 271.1h1.5v1.7h-1.5zM609.3 271.1h4.2v1.7h-4.2zM447.9 272.6h1.5v1.7h-1.5zM609.3 272.6h2.8v1.7h-2.8zM447.9 274.2h1.5v1.7h-1.5zM543.9 274.2h2.8v1.7h-2.8zM447.9 275.7h2.8v1.7h-2.8zM457.2 275.7h2.8v1.7h-2.8zM449.2 277.3h1.5v1.7h-1.5zM458.5 277.3h1.5v1.7h-1.5zM454.5 278.8h1.5v1.7h-1.5zM473.2 278.8h1.5v1.7h-1.5z"/>
<path fill="#e0eaf3" d="M591.9 183.5h1.5v1.7h-1.5zM581.3 185.0h2.8v1.7h-2.8zM587.9 185.0h6.8v1.7h-6.8zM579.9 186.5h1.5v1.7h-1.5zM582.6 186.5h1.5v1.7h-1.5zM587.9 186.5h1.5v1.7h-1.5zM591.9 186.5h2.8v1.7h-2.8zM579.9 188.1h1.5v1.7h-1.5zM582.6 188.1h1.5v1.7h-1.5zM587.9 188.1h5.5v1.7h-5.5zM581.3 189.6h2.8v1.7h-2.8zM583.9 192.7h5.5v1.7h-5.5zM582.6 194.2h1.5v1.7h-1.5zM587.9 194.2h1.5v1.7h-1.5zM579.9 195.8h2.8v1.7h-2.8zM585.3 195.8h4.2v1.7h-4.2zM582.6 197.3h1.5v1.7h-1.5zM586.6 197.3h2.8v1.7h-2.8zM581.3 198.8h1.5v1.7h-1.5zM446.5 200.4h1.5v1.7h-1.5zM449.2 200.4h1.5v1.7h-1.5zM581.3 200.4h1.5v1.7h-1.5zM582.6 201.9h1.5v1.7h-1.5zM586.6 201.9h1.5v1.7h-1.5zM583.9 203.5h4.2v1.7h-4.2zM443.9 205.0h1.5v1.7h-1.5zM443.9 206.5h1.5v1.7h-1.5zM591.9 208.1h1.5v1.7h-1.5zM587.9 209.6h1.5v1.7h-1.5zM566.6 211.1h12.2v1.7h-12.2zM563.9 212.7h2.8v1.7h-2.8zM569.2 212.7h1.5v1.7h-1.5zM573.2 212.7h1.5v1.7h-1.5zM578.6 212.7h1.5v1.7h-1.5zM547.9 214.2h1.5v1.7h-1.5zM561.2 214.2h5.5v1.7h-5.5zM546.6 215.8h1.5v1.7h-1.5zM578.6 215.8h1.5v1.7h-1.5zM577.2 217.3h1.5v1.7h-1.5zM547.9 218.8h1.5v1.7h-1.5zM435.9 221.9h1.5v1.7h-1.5zM438.5 221.9h1.5v1.7h-1.5zM547.9 221.9h1.5v1.7h-1.5zM546.6 223.4h2.8v1.7h-2.8zM439.9 225.0h4.2v1.7h-4.2zM549.2 225.0h1.5v1.7h-1.5zM438.5 226.5h2.8v1.7h-2.8zM486.5 226.5h1.5v1.7h-1.5zM491.9 226.5h2.8v1.7h-2.8zM495.9 226.5h1.5v1.7h-1.5zM549.2 226.5h1.5v1.7h-1.5zM522.6 228.1h1.5v1.7h-1.5zM549.2 228.1h1.5v1.7h-1.5zM450.5 229.6h1.5v1.7h-1.5zM497.2 229.6h1.5v1.7h-1.5zM513.2 229.6h4.2v1.7h-4.2zM521.2 229.6h1.5v1.7h-1.5zM523.9 229.6h1.5v1.7h-1.5zM450.5 231.1h1.5v1.7h-1.5zM454.5 231.1h1.5v1.7h-1.5zM457.2 231.1h4.2v1.7h-4.2zM450.5 232.7h1.5v1.7h-1.5zM453.2 232.7h1.5v1.7h-1.5zM455.9 232.7h1.5v1.7h-1.5zM463.9 232.7h1.5v1.7h-1.5zM495.9 232.7h1.5v1.7h-1.5zM515.9 232.7h1.5v1.7h-1.5zM450.5 234.2h2.8v1.7h-2.8zM461.2 234.2h1.5v1.7h-1.5zM450.5 235.7h2.8v1.7h-2.8zM455.9 235.7h1.5v1.7h-1.5zM509.2 235.7h1.5v1.7h-1.5zM449.2 237.3h2.8v1.7h-2.8zM453.2 237.3h1.5v1.7h-1.5zM455.9 237.3h1.5v1.7h-1.5zM511.9 237.3h1.5v1.7h-1.5zM453.2 238.8h1.5v1.7h-1.5zM469.2 238.8h2.8v1.7h-2.8zM585.3 238.8h4.2v1.7h-4.2zM453.2 240.4h1.5v1.7h-1.5zM450.5 241.9h4.2v1.7h-4.2zM470.5 241.9h5.5v1.7h-5.5zM507.9 241.9h2.8v1.7h-2.8zM585.3 241.9h1.5v1.7h-1.5zM587.9 241.9h1.5v1.7h-1.5zM451.9 243.4h2.8v1.7h-2.8zM473.2 243.4h1.5v1.7h-1.5zM507.9 243.4h1.5v1.7h-1.5zM515.9 243.4h1.5v1.7h-1.5zM574.6 243.4h1.5v1.7h-1.5zM453.2 245.0h2.8v1.7h-2.8zM471.9 245.0h2.8v1.7h-2.8zM511.9 245.0h1.5v1.7h-1.5zM585.3 245.0h2.8v1.7h-2.8zM453.2 246.5h1.5v1.7h-1.5zM470.5 246.5h2.8v1.7h-2.8zM514.6 246.5h1.5v1.7h-1.5zM587.9 246.5h2.8v1.7h-2.8zM591.9 246.5h2.8v1.7h-2.8zM455.9 248.0h1.5v1.7h-1.5zM513.2 248.0h1.5v1.7h-1.5zM581.3 248.0h9.5v1.7h-9.5zM591.9 248.0h2.8v1.7h-2.8zM454.5 249.6h1.5v1.7h-1.5zM510.6 249.6h1.5v1.7h-1.5zM454.5 251.1h1.5v1.7h-1.5zM455.9 252.7h2.8v1.7h-2.8zM459.9 252.7h1.5v1.7h-1.5zM458.5 254.2h1.5v1.7h-1.5zM461.2 254.2h1.5v1.7h-1.5zM461.2 255.7h1.5v1.7h-1.5zM594.6 255.7h1.5v1.7h-1.5zM461.2 257.3h1.5v1.7h-1.5zM595.9 257.3h1.5v1.7h-1.5zM461.2 258.8h1.5v1.7h-1.5zM595.9 258.8h1.5v1.7h-1.5zM462.5 260.3h1.5v1.7h-1.5zM599.9 260.3h1.5v1.7h-1.5zM462.5 261.9h1.5v1.7h-1.5zM595.9 261.9h1.5v1.7h-1.5zM595.9 263.4h1.5v1.7h-1.5zM597.3 265.0h1.5v1.7h-1.5z"/>
<path fill="#d0e2ef" d="M581.3 186.5h1.5v1.7h-1.5zM589.3 186.5h2.8v1.7h-2.8zM581.3 188.1h1.5v1.7h-1.5zM586.6 194.2h1.5v1.7h-1.5zM582.6 195.8h1.5v1.7h-1.5zM583.9 197.3h1.5v1.7h-1.5zM582.6 198.8h1.5v1.7h-1.5zM447.9 200.4h1.5v1.7h-1.5zM582.6 200.4h1.5v1.7h-1.5zM586.6 200.4h1.5v1.7h-1.5zM445.2 201.9h1.5v1.7h-1.5zM583.9 201.9h2.8v1.7h-2.8zM445.2 205.0h4.2v1.7h-4.2zM591.9 209.6h1.5v1.7h-1.5zM566.6 212.7h2.8v1.7h-2.8zM574.6 212.7h1.5v1.7h-1.5zM551.9 214.2h1.5v1.7h-1.5zM566.6 215.8h1.5v1.7h-1.5zM571.9 218.8h1.5v1.7h-1.5zM574.6 218.8h1.5v1.7h-1.5zM547.9 220.4h1.5v1.7h-1.5zM437.2 221.9h1.5v1.7h-1.5zM431.9 223.4h4.2v1.7h-4.2zM438.5 225.0h1.5v1.7h-1.5zM547.9 225.0h1.5v1.7h-1.5zM487.9 226.5h4.2v1.7h-4.2zM494.5 226.5h1.5v1.7h-1.5zM547.9 226.5h1.5v1.7h-1.5zM442.5 228.1h1.5v1.7h-1.5zM449.2 228.1h1.5v1.7h-1.5zM449.2 229.6h1.5v1.7h-1.5zM510.6 231.1h1.5v1.7h-1.5zM515.9 231.1h1.5v1.7h-1.5zM522.6 231.1h1.5v1.7h-1.5zM454.5 232.7h1.5v1.7h-1.5zM461.2 232.7h2.8v1.7h-2.8zM453.2 234.2h1.5v1.7h-1.5zM462.5 234.2h2.8v1.7h-2.8zM514.6 234.2h1.5v1.7h-1.5zM445.2 235.7h1.5v1.7h-1.5zM453.2 235.7h2.8v1.7h-2.8zM461.2 235.7h2.8v1.7h-2.8zM581.3 235.7h1.5v1.7h-1.5zM451.9 237.3h1.5v1.7h-1.5zM458.5 237.3h1.5v1.7h-1.5zM509.2 237.3h1.5v1.7h-1.5zM457.2 238.8h1.5v1.7h-1.5zM509.2 238.8h1.5v1.7h-1.5zM591.9 238.8h1.5v1.7h-1.5zM463.9 241.9h1.5v1.7h-1.5zM510.6 241.9h1.5v1.7h-1.5zM515.9 241.9h1.5v1.7h-1.5zM454.5 243.4h1.5v1.7h-1.5zM470.5 243.4h2.8v1.7h-2.8zM510.6 243.4h1.5v1.7h-1.5zM573.2 243.4h1.5v1.7h-1.5zM507.9 245.0h2.8v1.7h-2.8zM513.2 245.0h2.8v1.7h-2.8zM454.5 246.5h1.5v1.7h-1.5zM513.2 246.5h1.5v1.7h-1.5zM585.3 246.5h2.8v1.7h-2.8zM454.5 248.0h1.5v1.7h-1.5zM457.2 248.0h1.5v1.7h-1.5zM594.6 248.0h1.5v1.7h-1.5zM594.6 249.6h1.5v1.7h-1.5zM458.5 252.7h1.5v1.7h-1.5zM461.2 252.7h1.5v1.7h-1.5zM594.6 252.7h1.5v1.7h-1.5zM469.2 254.2h1.5v1.7h-1.5zM594.6 254.2h1.5v1.7h-1.5zM462.5 258.8h1.5v1.7h-1.5zM597.3 258.8h1.5v1.7h-1.5zM599.9 258.8h1.5v1.7h-1.5zM463.9 260.3h1.5v1.7h-1.5zM595.9 260.3h1.5v1.7h-1.5z"/>
<path fill="#bad7ea" d="M583.9 194.2h2.8v1.7h-2.8zM583.9 195.8h1.5v1.7h-1.5zM586.6 198.8h1.5v1.7h-1.5zM445.2 203.5h1.5v1.7h-1.5zM449.2 203.5h1.5v1.7h-1.5zM590.6 206.5h1.5v1.7h-1.5zM590.6 208.1h1.5v1.7h-1.5zM589.3 209.6h1.5v1.7h-1.5zM575.9 212.7h2.8v1.7h-2.8zM566.6 214.2h1.5v1.7h-1.5zM578.6 214.2h1.5v1.7h-1.5zM547.9 215.8h1.5v1.7h-1.5zM551.9 215.8h2.8v1.7h-2.8zM558.6 215.8h1.5v1.7h-1.5zM573.2 218.8h1.5v1.7h-1.5zM495.9 228.1h1.5v1.7h-1.5zM522.6 229.6h1.5v1.7h-1.5zM582.6 229.6h1.5v1.7h-1.5zM495.9 231.1h1.5v1.7h-1.5zM511.9 231.1h4.2v1.7h-4.2zM582.6 231.1h1.5v1.7h-1.5zM449.2 232.7h1.5v1.7h-1.5zM459.9 232.7h1.5v1.7h-1.5zM514.6 232.7h1.5v1.7h-1.5zM455.9 234.2h1.5v1.7h-1.5zM513.2 234.2h1.5v1.7h-1.5zM449.2 235.7h1.5v1.7h-1.5zM458.5 235.7h1.5v1.7h-1.5zM510.6 235.7h5.5v1.7h-5.5zM467.9 237.3h1.5v1.7h-1.5zM510.6 237.3h1.5v1.7h-1.5zM589.3 237.3h1.5v1.7h-1.5zM454.5 238.8h1.5v1.7h-1.5zM467.9 238.8h1.5v1.7h-1.5zM469.2 240.4h1.5v1.7h-1.5zM510.6 240.4h1.5v1.7h-1.5zM515.9 240.4h1.5v1.7h-1.5zM579.9 240.4h1.5v1.7h-1.5zM587.9 240.4h4.2v1.7h-4.2zM454.5 241.9h1.5v1.7h-1.5zM469.2 241.9h1.5v1.7h-1.5zM509.2 243.4h1.5v1.7h-1.5zM511.9 243.4h4.2v1.7h-4.2zM455.9 246.5h2.8v1.7h-2.8zM471.9 248.0h1.5v1.7h-1.5zM455.9 249.6h2.8v1.7h-2.8zM455.9 251.1h5.5v1.7h-5.5zM471.9 251.1h1.5v1.7h-1.5zM594.6 251.1h1.5v1.7h-1.5zM595.9 252.7h2.8v1.7h-2.8zM470.5 254.2h1.5v1.7h-1.5zM595.9 254.2h1.5v1.7h-1.5zM595.9 255.7h1.5v1.7h-1.5zM462.5 257.3h1.5v1.7h-1.5zM597.3 257.3h1.5v1.7h-1.5zM599.9 257.3h1.5v1.7h-1.5zM598.6 258.8h1.5v1.7h-1.5zM597.3 263.4h2.8v1.7h-2.8z"/>
<path fill="#a3cce4" d="M583.9 200.4h2.8v1.7h-2.8zM589.3 208.1h1.5v1.7h-1.5zM590.6 209.6h1.5v1.7h-1.5zM549.2 214.2h1.5v1.7h-1.5zM554.6 214.2h1.5v1.7h-1.5zM558.6 214.2h1.5v1.7h-1.5zM567.9 214.2h1.5v1.7h-1.5zM549.2 215.8h1.5v1.7h-1.5zM567.9 215.8h1.5v1.7h-1.5zM577.2 215.8h1.5v1.7h-1.5zM575.9 217.3h1.5v1.7h-1.5zM495.9 229.6h1.5v1.7h-1.5zM449.2 231.1h1.5v1.7h-1.5zM457.2 232.7h1.5v1.7h-1.5zM449.2 234.2h1.5v1.7h-1.5zM454.5 234.2h1.5v1.7h-1.5zM457.2 234.2h1.5v1.7h-1.5zM459.9 234.2h1.5v1.7h-1.5zM510.6 234.2h1.5v1.7h-1.5zM446.5 235.7h1.5v1.7h-1.5zM463.9 235.7h1.5v1.7h-1.5zM515.9 237.3h1.5v1.7h-1.5zM458.5 238.8h1.5v1.7h-1.5zM510.6 238.8h1.5v1.7h-1.5zM515.9 238.8h1.5v1.7h-1.5zM454.5 240.4h1.5v1.7h-1.5zM457.2 240.4h1.5v1.7h-1.5zM459.9 240.4h1.5v1.7h-1.5zM455.9 241.9h1.5v1.7h-1.5zM462.5 241.9h1.5v1.7h-1.5zM514.6 241.9h1.5v1.7h-1.5zM455.9 243.4h1.5v1.7h-1.5zM455.9 245.0h1.5v1.7h-1.5zM459.9 245.0h1.5v1.7h-1.5zM458.5 246.5h1.5v1.7h-1.5zM469.2 246.5h1.5v1.7h-1.5zM458.5 249.6h2.8v1.7h-2.8zM471.9 249.6h1.5v1.7h-1.5zM595.9 251.1h1.5v1.7h-1.5zM465.2 252.7h1.5v1.7h-1.5zM469.2 252.7h1.5v1.7h-1.5zM599.9 255.7h1.5v1.7h-1.5zM463.9 258.8h2.8v1.7h-2.8zM597.3 261.9h2.8v1.7h-2.8z"/>
<path fill="#88bedd" d="M583.9 198.8h2.8v1.7h-2.8zM449.2 201.9h1.5v1.7h-1.5zM446.5 203.5h2.8v1.7h-2.8zM550.6 214.2h1.5v1.7h-1.5zM571.9 214.2h1.5v1.7h-1.5zM575.9 214.2h2.8v1.7h-2.8zM550.6 215.8h1.5v1.7h-1.5zM569.2 217.3h1.5v1.7h-1.5zM573.2 217.3h1.5v1.7h-1.5zM438.5 223.4h1.5v1.7h-1.5zM437.2 225.0h1.5v1.7h-1.5zM447.9 228.1h1.5v1.7h-1.5zM494.5 228.1h1.5v1.7h-1.5zM441.2 229.6h1.5v1.7h-1.5zM494.5 232.7h1.5v1.7h-1.5zM513.2 232.7h1.5v1.7h-1.5zM561.2 232.7h1.5v1.7h-1.5zM459.9 235.7h1.5v1.7h-1.5zM461.2 237.3h1.5v1.7h-1.5zM466.5 237.3h1.5v1.7h-1.5zM455.9 238.8h1.5v1.7h-1.5zM466.5 238.8h1.5v1.7h-1.5zM511.9 238.8h1.5v1.7h-1.5zM589.3 238.8h1.5v1.7h-1.5zM461.2 240.4h1.5v1.7h-1.5zM466.5 240.4h2.8v1.7h-2.8zM461.2 241.9h1.5v1.7h-1.5zM466.5 241.9h1.5v1.7h-1.5zM459.9 243.4h1.5v1.7h-1.5zM469.2 243.4h1.5v1.7h-1.5zM571.9 243.4h1.5v1.7h-1.5zM461.2 245.0h1.5v1.7h-1.5zM469.2 245.0h1.5v1.7h-1.5zM458.5 248.0h1.5v1.7h-1.5zM470.5 248.0h1.5v1.7h-1.5zM461.2 251.1h1.5v1.7h-1.5zM470.5 252.7h1.5v1.7h-1.5zM462.5 254.2h1.5v1.7h-1.5zM465.2 254.2h1.5v1.7h-1.5zM466.5 255.7h1.5v1.7h-1.5zM598.6 257.3h1.5v1.7h-1.5zM597.3 260.3h2.8v1.7h-2.8z"/>
<path fill="#6dafd6" d="M446.5 201.9h1.5v1.7h-1.5zM574.6 214.2h1.5v1.7h-1.5zM435.9 223.4h1.5v1.7h-1.5zM433.2 225.0h1.5v1.7h-1.5zM581.3 229.6h1.5v1.7h-1.5zM490.5 231.1h1.5v1.7h-1.5zM458.5 232.7h1.5v1.7h-1.5zM510.6 232.7h1.5v1.7h-1.5zM511.9 234.2h1.5v1.7h-1.5zM447.9 235.7h1.5v1.7h-1.5zM459.9 237.3h1.5v1.7h-1.5zM462.5 237.3h1.5v1.7h-1.5zM513.2 237.3h2.8v1.7h-2.8zM590.6 238.8h1.5v1.7h-1.5zM455.9 240.4h1.5v1.7h-1.5zM458.5 240.4h1.5v1.7h-1.5zM514.6 240.4h1.5v1.7h-1.5zM459.9 241.9h1.5v1.7h-1.5zM465.2 241.9h1.5v1.7h-1.5zM511.9 241.9h1.5v1.7h-1.5zM567.9 241.9h1.5v1.7h-1.5zM463.9 243.4h2.8v1.7h-2.8zM469.2 248.0h1.5v1.7h-1.5zM461.2 249.6h1.5v1.7h-1.5zM470.5 249.6h1.5v1.7h-1.5zM470.5 251.1h1.5v1.7h-1.5zM462.5 252.7h1.5v1.7h-1.5zM462.5 255.7h1.5v1.7h-1.5zM463.9 257.3h1.5v1.7h-1.5z"/>
<path fill="#559fcd" d="M569.2 214.2h2.8v1.7h-2.8zM554.6 215.8h1.5v1.7h-1.5zM575.9 215.8h1.5v1.7h-1.5zM574.6 217.3h1.5v1.7h-1.5zM487.9 228.1h1.5v1.7h-1.5zM447.9 229.6h1.5v1.7h-1.5zM581.3 231.1h1.5v1.7h-1.5zM447.9 232.7h1.5v1.7h-1.5zM491.9 232.7h1.5v1.7h-1.5zM574.6 232.7h1.5v1.7h-1.5zM458.5 234.2h1.5v1.7h-1.5zM575.9 234.2h1.5v1.7h-1.5zM579.9 235.7h1.5v1.7h-1.5zM463.9 237.3h2.8v1.7h-2.8zM459.9 238.8h2.8v1.7h-2.8zM465.2 238.8h1.5v1.7h-1.5zM514.6 238.8h1.5v1.7h-1.5zM579.9 238.8h1.5v1.7h-1.5zM577.2 240.4h1.5v1.7h-1.5zM467.9 241.9h1.5v1.7h-1.5zM513.2 241.9h1.5v1.7h-1.5zM461.2 243.4h1.5v1.7h-1.5zM459.9 246.5h1.5v1.7h-1.5zM459.9 248.0h1.5v1.7h-1.5zM469.2 249.6h1.5v1.7h-1.5zM597.3 254.2h1.5v1.7h-1.5zM598.6 255.7h1.5v1.7h-1.5zM465.2 257.3h1.5v1.7h-1.5z"/>
<path fill="#3f8fc4" d="M557.2 214.2h1.5v1.7h-1.5zM573.2 214.2h1.5v1.7h-1.5zM571.9 217.3h1.5v1.7h-1.5zM437.2 223.4h1.5v1.7h-1.5zM435.9 225.0h1.5v1.7h-1.5zM493.2 228.1h1.5v1.7h-1.5zM443.9 229.6h1.5v1.7h-1.5zM494.5 229.6h1.5v1.7h-1.5zM443.9 231.1h1.5v1.7h-1.5zM493.2 232.7h1.5v1.7h-1.5zM566.6 232.7h1.5v1.7h-1.5zM562.6 234.2h1.5v1.7h-1.5zM578.6 235.7h1.5v1.7h-1.5zM465.2 240.4h1.5v1.7h-1.5zM511.9 240.4h1.5v1.7h-1.5zM566.6 240.4h2.8v1.7h-2.8zM578.6 240.4h1.5v1.7h-1.5zM457.2 241.9h1.5v1.7h-1.5zM457.2 245.0h2.8v1.7h-2.8zM462.5 249.6h1.5v1.7h-1.5zM462.5 251.1h1.5v1.7h-1.5zM467.9 251.1h2.8v1.7h-2.8zM463.9 252.7h1.5v1.7h-1.5zM463.9 254.2h1.5v1.7h-1.5zM598.6 254.2h1.5v1.7h-1.5zM597.3 255.7h1.5v1.7h-1.5z"/>
<path fill="#3281bd" d="M447.9 201.9h1.5v1.7h-1.5zM555.9 214.2h1.5v1.7h-1.5zM557.2 215.8h1.5v1.7h-1.5zM573.2 215.8h2.8v1.7h-2.8zM570.6 217.3h1.5v1.7h-1.5zM489.2 228.1h1.5v1.7h-1.5zM511.9 232.7h1.5v1.7h-1.5zM565.2 237.3h1.5v1.7h-1.5zM577.2 237.3h1.5v1.7h-1.5zM462.5 238.8h1.5v1.7h-1.5zM513.2 238.8h1.5v1.7h-1.5zM463.9 240.4h1.5v1.7h-1.5zM462.5 243.4h1.5v1.7h-1.5zM466.5 243.4h2.8v1.7h-2.8zM462.5 245.0h4.2v1.7h-4.2zM461.2 248.0h1.5v1.7h-1.5zM466.5 251.1h1.5v1.7h-1.5zM465.2 255.7h1.5v1.7h-1.5z"/>
<path fill="#2673b6" d="M490.5 228.1h2.8v1.7h-2.8zM447.9 231.1h1.5v1.7h-1.5zM494.5 231.1h1.5v1.7h-1.5zM563.9 231.1h1.5v1.7h-1.5zM562.6 232.7h1.5v1.7h-1.5zM447.9 234.2h1.5v1.7h-1.5zM566.6 238.8h2.8v1.7h-2.8zM573.2 238.8h1.5v1.7h-1.5zM578.6 238.8h1.5v1.7h-1.5zM462.5 240.4h1.5v1.7h-1.5zM513.2 240.4h1.5v1.7h-1.5zM569.2 241.9h1.5v1.7h-1.5zM573.2 241.9h1.5v1.7h-1.5zM457.2 243.4h1.5v1.7h-1.5zM467.9 245.0h1.5v1.7h-1.5zM461.2 246.5h2.8v1.7h-2.8zM462.5 248.0h1.5v1.7h-1.5zM463.9 251.1h1.5v1.7h-1.5z"/>
<path fill="#1e65ab" d="M442.5 229.6h1.5v1.7h-1.5zM489.2 229.6h1.5v1.7h-1.5zM491.9 231.1h1.5v1.7h-1.5zM575.9 235.7h1.5v1.7h-1.5zM573.2 237.3h1.5v1.7h-1.5zM463.9 238.8h1.5v1.7h-1.5zM463.9 246.5h1.5v1.7h-1.5zM467.9 246.5h1.5v1.7h-1.5zM467.9 248.0h1.5v1.7h-1.5zM463.9 249.6h1.5v1.7h-1.5zM465.2 251.1h1.5v1.7h-1.5zM463.9 255.7h1.5v1.7h-1.5z"/>
<path fill="#1858a0" d="M555.9 215.8h1.5v1.7h-1.5zM569.2 215.8h1.5v1.7h-1.5zM571.9 215.8h1.5v1.7h-1.5zM445.2 229.6h1.5v1.7h-1.5zM493.2 231.1h1.5v1.7h-1.5zM574.6 234.2h1.5v1.7h-1.5zM566.6 237.3h1.5v1.7h-1.5zM579.9 237.3h1.5v1.7h-1.5zM565.2 238.8h1.5v1.7h-1.5zM571.9 238.8h1.5v1.7h-1.5zM577.2 238.8h1.5v1.7h-1.5zM465.2 246.5h1.5v1.7h-1.5zM463.9 248.0h1.5v1.7h-1.5z"/>
<path fill="#124b92" d="M565.2 231.1h1.5v1.7h-1.5zM574.6 235.7h1.5v1.7h-1.5zM578.6 237.3h1.5v1.7h-1.5zM458.5 241.9h1.5v1.7h-1.5zM458.5 243.4h1.5v1.7h-1.5zM466.5 245.0h1.5v1.7h-1.5zM466.5 246.5h1.5v1.7h-1.5zM467.9 249.6h1.5v1.7h-1.5z"/>
<path fill="#0d3d7f" d="M490.5 229.6h1.5v1.7h-1.5zM571.9 241.9h1.5v1.7h-1.5z"/>
<path fill="#08306b" d="M570.6 215.8h1.5v1.7h-1.5zM446.5 229.6h1.5v1.7h-1.5zM491.9 229.6h2.8v1.7h-2.8zM445.2 231.1h2.8v1.7h-2.8zM446.5 232.7h1.5v1.7h-1.5zM565.2 232.7h1.5v1.7h-1.5zM446.5 234.2h1.5v1.7h-1.5zM563.9 234.2h4.2v1.7h-4.2zM571.9 234.2h2.8v1.7h-2.8zM563.9 235.7h5.5v1.7h-5.5zM570.6 235.7h4.2v1.7h-4.2zM567.9 237.3h1.5v1.7h-1.5zM570.6 237.3h2.8v1.7h-2.8zM574.6 237.3h2.8v1.7h-2.8zM574.6 238.8h2.8v1.7h-2.8zM570.6 241.9h1.5v1.7h-1.5zM465.2 248.0h2.8v1.7h-2.8zM465.2 249.6h2.8v1.7h-2.8z"/>
</g>
<rect x="609.8" y="251.1" width="1.4" height="1.5" fill="#faf2e3"/>
<rect x="610.5" y="253.4" width="1.4" height="1.5" fill="#f6e4bc"/>
<rect x="616.6" y="250.0" width="1.4" height="1.5" fill="#fbefda"/>
<rect x="614.7" y="230.3" width="1.4" height="1.5" fill="#faedd4"/>
<rect x="615.2" y="252.9" width="1.4" height="1.5" fill="#f7e8c6"/>
<rect x="599.2" y="242.2" width="1.4" height="1.5" fill="#fbf1de"/>
<rect x="609.2" y="253.1" width="1.4" height="1.5" fill="#f6e4bc"/>
<rect x="608.4" y="230.2" width="1.4" height="1.5" fill="#fbefd9"/>
<rect x="609.7" y="244.1" width="1.4" height="1.5" fill="#f5e4ba"/>
<rect x="606.6" y="238.9" width="1.4" height="1.5" fill="#e0eaf3"/>
<rect x="607.9" y="252.0" width="1.4" height="1.5" fill="#d8e6f1"/>
<rect x="599.9" y="245.7" width="1.4" height="1.5" fill="#d4e4f0"/>
<rect x="408.2" y="242.8" width="1.4" height="1.5" fill="#faf2e2"/>
<rect x="384.4" y="244.7" width="1.4" height="1.5" fill="#f9eacd"/>
<rect x="404.1" y="256.2" width="1.4" height="1.5" fill="#f6e5bf"/>
<rect x="395.3" y="253.9" width="1.4" height="1.5" fill="#f8e9ca"/>
<rect x="389.3" y="256.4" width="1.4" height="1.5" fill="#f6e6bf"/>
<rect x="383.4" y="248.3" width="1.4" height="1.5" fill="#f7e6c2"/>
<rect x="588.6" y="221.3" width="1.4" height="1.5" fill="#edd295"/>
<rect x="589.7" y="231.1" width="1.4" height="1.5" fill="#f5e2b7"/>
<rect x="588.7" y="232.3" width="1.4" height="1.5" fill="#fbf0dc"/>
<rect x="597.1" y="230.5" width="1.4" height="1.5" fill="#f8eacb"/>
<rect x="594.6" y="227.7" width="1.4" height="1.5" fill="#faedd4"/>
<rect x="535.8" y="249.6" width="1.4" height="1.5" fill="#edf1f5"/>
<rect x="552.0" y="262.3" width="1.4" height="1.5" fill="#e6eef5"/>
<rect x="555.5" y="262.1" width="1.4" height="1.5" fill="#e5edf5"/>
<rect x="474.5" y="280.3" width="1.4" height="1.5" fill="#e7eef5"/>
<rect x="460.9" y="273.1" width="1.4" height="1.5" fill="#e3ecf4"/>
<path d="M386.5 186.9L387.8 184.6L390.5 183.5L394.2 182.5L398.5 183.1L404.5 183.7L408.5 184.2L413.2 183.5L415.2 183.9L418.5 183.9L421.9 185.0L426.5 185.0L429.9 185.0L433.2 184.6L435.2 184.2L435.9 181.9L437.9 183.9L439.9 184.6L441.9 183.9L443.9 183.9L444.5 185.0L441.9 186.5L440.5 187.3L438.5 188.1L436.5 189.6L435.5 191.9L436.9 193.5L439.9 193.9L441.9 194.8L443.7 195.0L443.9 196.9L445.2 197.9L445.9 197.3L445.9 195.4L447.2 194.2L446.5 192.3L446.9 190.8L446.5 189.4L449.2 189.4L451.9 190.4L452.2 191.9L454.5 192.3L455.5 190.9L457.2 192.7L458.5 194.6L460.5 196.2L461.4 197.3L459.9 198.1L458.5 198.7L455.2 198.7L453.9 199.6L451.9 201.2L453.2 200.0L455.2 200.0L455.5 201.2L457.9 201.9L456.5 202.9L454.5 203.8L454.5 202.7L453.9 202.7L451.9 203.7L451.4 205.0L451.9 205.2L449.9 205.8L449.2 206.1L448.5 207.7L447.9 208.8L448.2 210.1L446.9 211.1L445.2 212.5L444.3 213.8L445.1 216.5L445.0 217.8L444.2 217.7L443.4 215.8L442.5 214.2L441.2 214.0L439.2 214.1L438.9 214.8L437.5 214.6L435.9 214.6L433.9 215.8L433.5 217.7L433.3 220.0L434.5 222.7L435.5 223.3L437.2 223.0L438.1 222.3L438.3 221.1L440.5 220.8L440.2 222.7L439.7 223.8L439.3 225.1L441.2 225.1L442.9 225.5L442.9 227.7L442.7 229.0L443.5 230.1L444.5 230.5L445.5 230.0L446.9 230.7L447.9 230.1L448.5 229.0L450.2 228.2L450.9 227.7L450.9 229.0L451.9 228.2L453.0 229.1L454.5 229.1L455.9 229.2L457.2 229.1L457.9 230.0L458.5 230.7L459.9 232.1L461.9 232.7L463.9 233.4L464.5 234.2L465.2 236.1L465.2 237.3L466.5 237.8L468.5 238.4L469.2 239.4L471.2 239.5L472.9 240.2L475.0 241.4L475.3 243.0L474.9 244.6L473.9 246.1L472.7 247.7L472.5 250.0L472.1 251.9L471.2 254.2L469.9 255.0L468.2 255.6L466.5 256.9L466.1 258.4L465.5 259.8L464.5 261.1L463.5 262.6L462.5 264.0L460.9 264.1L459.7 263.4L460.5 265.2L460.1 266.6L457.2 267.3L457.0 268.6L455.2 268.8L456.0 270.1L455.0 271.9L453.5 272.6L454.7 274.0L453.2 275.7L452.5 277.3L452.9 277.6L455.1 279.4L453.2 279.9L451.2 279.2L449.5 278.0L448.5 276.1L448.2 273.4L449.5 271.1L449.3 269.2L449.5 266.5L450.2 264.2L450.9 261.1L451.0 258.4L451.7 255.3L451.7 251.5L450.5 250.3L448.2 248.4L447.2 246.5L446.0 243.8L445.2 241.9L444.3 240.7L445.2 239.6L444.7 238.0L445.2 236.9L446.0 236.1L446.9 234.4L446.9 232.1L446.3 231.0L445.2 231.7L444.2 231.4L443.2 230.9L441.9 229.7L441.3 228.8L440.2 227.3L438.5 226.7L437.1 226.1L435.5 224.8L433.9 225.1L431.9 224.2L429.5 223.2L428.2 221.7L428.3 220.5L427.5 219.2L425.9 217.4L424.9 216.1L423.5 214.6L423.1 213.3L422.0 212.9L422.2 214.2L423.5 216.1L424.5 218.1L425.5 219.4L425.0 219.6L423.9 218.2L422.4 216.1L421.3 214.2L420.5 212.3L419.5 211.1L418.2 210.8L417.3 209.2L416.8 208.2L416.0 206.5L415.6 205.0L415.8 201.9L415.4 200.1L416.5 199.6L415.2 198.5L413.3 197.7L411.6 195.4L410.5 193.9L408.5 192.3L406.5 191.5L404.5 191.2L402.5 191.0L400.5 190.4L398.5 190.4L397.2 191.5L395.8 192.3L393.5 193.5L391.2 194.6L388.8 195.2L390.5 194.2L392.8 192.7L391.2 192.1L390.5 191.2L388.5 190.5L387.8 189.6L388.8 188.7L391.2 188.1L389.5 187.7L387.5 187.5L386.5 186.9ZM449.9 177.2L453.2 175.8L457.2 174.2L465.2 173.9L475.2 173.1L481.9 173.9L486.5 175.0L485.9 177.3L484.5 179.6L483.9 181.6L481.9 183.1L483.9 183.5L480.5 184.8L476.5 185.8L473.9 186.8L471.9 187.3L470.5 189.2L469.5 191.2L468.2 191.2L466.2 190.4L464.9 188.5L463.5 186.9L462.7 185.4L464.2 183.9L462.2 183.1L461.9 181.6L459.9 179.2L456.5 178.7L453.2 178.9L451.2 177.9L449.9 177.2ZM492.5 208.8L492.2 207.5L492.7 205.8L492.3 204.2L493.2 203.7L495.9 203.9L497.3 203.9L497.7 202.3L496.9 200.9L495.4 200.2L497.5 199.8L497.3 199.1L498.7 199.2L499.6 198.2L500.9 197.8L501.7 196.5L503.2 196.1L504.4 195.8L504.1 194.6L504.0 193.5L505.6 192.9L505.4 194.2L505.1 195.0L505.9 195.8L506.9 195.5L508.0 195.8L509.6 195.4L510.9 195.2L511.8 195.5L512.6 194.8L512.6 193.5L513.6 192.9L514.8 193.3L514.2 191.8L515.9 191.5L517.2 191.5L518.6 191.2L517.2 190.8L515.2 191.0L513.6 191.2L512.8 190.4L512.8 188.9L514.9 187.5L515.4 186.9L513.6 186.7L512.9 187.7L510.6 189.2L510.1 190.4L511.1 191.2L509.7 192.2L509.6 193.9L508.2 194.2L507.2 194.7L507.1 193.9L506.0 191.9L505.6 191.5L503.9 192.6L502.4 192.2L501.9 190.8L501.9 189.6L503.2 188.9L505.2 188.1L506.6 186.9L507.2 185.8L508.9 184.6L510.6 183.9L512.6 183.3L515.7 182.6L517.6 182.9L519.2 183.5L518.6 183.9L520.6 184.0L522.6 184.2L525.2 185.2L525.9 185.9L523.9 186.4L520.9 186.0L521.6 187.3L523.2 188.1L525.0 187.5L525.6 186.5L527.6 186.3L527.9 185.0L529.2 184.9L530.9 185.2L533.9 184.6L537.2 184.4L538.9 183.6L541.2 184.0L543.2 184.5L544.2 183.5L543.2 182.3L544.6 181.2L546.6 181.3L546.9 182.7L547.6 184.6L546.9 186.0L548.6 185.4L548.6 182.3L550.6 181.9L552.6 181.8L552.6 180.7L556.2 180.4L556.6 179.6L559.9 179.0L564.6 178.6L568.1 177.6L569.9 178.2L573.2 178.6L574.2 180.4L571.9 180.5L573.9 180.7L577.2 180.9L581.3 180.6L583.3 181.6L584.9 182.7L587.3 182.3L590.6 182.3L591.9 181.6L595.9 181.7L598.6 182.3L600.6 182.7L604.6 182.9L605.6 183.8L608.6 183.9L611.9 183.7L612.6 183.5L615.9 183.7L618.6 184.2L618.6 187.2L617.6 187.7L618.3 189.2L614.9 189.8L612.3 191.2L609.3 191.3L607.5 192.7L606.9 194.2L606.5 195.2L605.3 196.4L604.1 197.1L603.1 198.1L602.6 196.5L602.4 194.2L603.3 192.9L605.3 190.8L607.6 189.2L605.3 189.9L603.1 190.0L601.6 191.5L599.3 191.9L595.9 191.7L593.6 191.9L590.9 193.5L588.9 195.2L590.3 195.9L592.6 196.5L592.3 198.1L592.1 200.0L590.9 201.5L589.3 203.2L587.3 204.5L585.9 204.6L585.1 205.4L583.9 206.7L584.8 208.8L584.8 210.0L583.6 210.6L582.8 210.6L582.9 208.8L581.9 208.3L581.9 206.9L579.9 207.3L579.5 205.9L577.9 207.1L577.2 207.9L578.9 208.3L580.3 208.8L578.9 209.6L578.1 210.4L579.1 212.3L579.8 213.5L579.6 214.6L579.6 215.8L578.4 217.4L577.2 218.6L575.9 219.8L574.2 220.1L572.6 220.9L571.9 221.7L571.7 220.8L570.6 220.8L569.6 221.9L569.1 222.8L570.1 224.6L571.2 226.1L571.4 228.1L570.1 229.2L569.6 230.0L568.6 230.6L568.4 229.4L567.2 228.8L566.8 227.9L565.8 227.4L565.4 226.9L565.1 228.1L564.8 229.6L565.4 231.1L565.9 232.1L566.8 232.5L567.5 233.8L567.6 235.1L568.0 236.2L567.4 236.2L566.2 235.2L565.6 233.8L565.4 232.7L564.6 231.4L564.1 230.7L564.3 228.8L564.4 226.9L563.7 225.4L563.4 224.4L562.2 225.1L561.4 225.0L561.4 223.1L560.9 222.1L559.9 220.8L559.6 219.9L558.9 220.2L557.9 220.5L556.6 220.9L556.4 221.8L555.2 222.3L553.4 224.4L552.1 225.4L551.9 227.1L551.8 229.4L551.2 230.1L550.6 230.9L550.2 231.1L549.6 230.4L549.1 228.4L548.4 227.3L548.1 225.8L547.4 224.2L547.1 222.4L547.0 221.1L545.6 221.3L544.6 220.1L543.4 218.4L542.8 217.8L539.9 217.9L537.9 217.8L536.7 217.4L536.3 216.5L534.9 216.8L533.6 216.1L532.4 215.0L531.9 214.1L531.1 214.0L530.6 214.6L531.1 215.8L532.0 216.9L532.2 217.8L532.9 217.4L533.0 218.5L534.6 218.8L535.9 217.5L536.2 218.4L537.7 219.2L538.4 220.0L537.6 221.5L537.0 222.7L535.9 223.6L533.4 224.8L531.2 226.1L528.6 227.4L527.6 227.5L527.1 225.9L527.0 224.6L525.9 222.7L524.6 220.8L524.2 219.0L523.2 217.7L521.9 215.8L521.7 214.6L521.4 215.8L520.9 215.6L520.3 214.3L520.9 216.1L522.2 218.8L523.2 220.8L523.5 222.8L524.2 223.4L525.0 225.6L526.0 226.1L527.4 227.7L527.4 228.4L528.2 229.2L529.9 228.7L532.7 228.1L532.4 230.0L531.2 232.7L530.2 234.2L527.9 236.5L526.6 238.0L525.6 239.4L524.8 240.9L524.6 242.3L525.0 243.4L525.6 245.4L525.6 248.4L524.6 250.3L522.9 251.9L521.8 252.7L522.2 254.6L522.2 255.7L520.6 256.9L520.4 258.4L519.6 260.0L518.6 261.5L516.9 263.0L515.2 263.4L513.2 263.6L511.9 264.0L510.8 263.6L510.6 262.3L509.9 260.3L508.9 258.0L508.2 255.0L507.2 252.7L506.4 250.7L506.6 248.8L507.6 246.9L507.6 245.0L506.9 242.3L506.6 241.1L505.2 239.2L504.6 237.9L504.9 236.5L505.0 235.0L504.4 233.8L503.2 233.9L502.2 233.3L501.4 232.4L500.2 232.4L499.2 232.7L497.5 233.4L496.5 233.4L495.2 233.4L493.5 233.9L492.5 233.4L491.2 232.1L490.0 231.1L489.5 229.7L488.5 228.8L487.4 227.7L487.3 226.9L486.9 226.0L487.5 224.6L487.7 222.7L487.2 221.1L487.9 219.2L488.7 217.7L489.9 216.0L491.2 215.1L492.0 214.4L492.1 213.1L492.9 211.7L494.0 211.1L494.6 209.8L495.0 209.7L496.5 210.1L497.2 210.3L498.6 209.8L500.6 209.0L502.6 208.9L504.2 208.9L505.2 208.6L505.9 208.8L505.6 210.0L505.2 211.0L505.9 211.5L507.2 212.0L508.8 212.5L510.2 213.5L511.6 213.8L511.9 212.7L513.2 212.1L515.2 212.8L516.9 213.3L518.2 213.5L519.2 213.1L520.1 213.3L521.4 213.2L521.8 212.3L522.3 210.8L522.5 209.6L522.6 209.0L521.2 209.4L519.9 209.5L518.9 209.2L517.9 209.1L516.8 208.8L516.2 207.7L516.4 206.9L516.0 206.4L515.9 205.9L514.6 205.8L514.1 206.3L513.8 206.1L513.9 207.1L514.6 207.9L513.9 208.5L513.8 209.2L513.0 209.0L512.7 207.8L511.9 206.8L511.5 205.5L511.2 204.8L509.9 204.1L508.8 203.1L507.8 202.2L506.8 202.5L506.8 203.3L507.7 203.8L508.2 204.8L509.2 205.1L510.9 206.4L510.8 206.7L509.9 206.1L509.6 206.8L510.0 207.3L509.4 208.1L509.0 208.1L509.2 207.3L508.8 206.5L507.9 205.9L506.9 205.4L505.9 204.6L505.4 203.8L504.6 203.2L503.6 203.6L502.6 204.2L501.2 203.8L500.6 204.2L500.7 205.1L499.1 205.8L498.3 206.9L498.6 207.5L498.1 208.2L497.2 209.0L495.5 209.1L494.9 209.5L494.3 209.0L493.7 208.7L492.5 208.8ZM378.5 184.2L380.5 184.8L383.2 185.8L385.2 186.5L383.5 187.8L381.2 186.9L379.2 186.7L378.5 187.2ZM457.5 186.2L455.2 188.9L453.2 189.4L450.5 188.2L447.2 187.9L446.5 186.9L449.2 186.5L449.9 185.0L446.5 183.5L441.9 183.5L439.2 182.7L438.9 180.8L441.9 180.6L445.2 181.4L447.9 181.6L451.2 182.7L453.5 184.2L455.9 185.4ZM420.5 184.2L422.5 185.0L426.5 184.5L429.2 184.5L430.9 183.7L428.5 181.9L425.9 181.2L422.5 181.2L419.5 182.3ZM415.2 181.9L416.8 182.5L419.5 181.2L419.2 180.2L415.8 180.2ZM438.5 178.5L445.2 178.6L446.5 177.7L449.2 176.6L453.2 175.0L457.2 173.9L451.9 173.5L445.2 173.5L438.5 174.2L437.2 175.0L441.2 176.6ZM435.2 179.6L439.9 179.9L445.2 179.8L445.2 179.0L438.5 178.5ZM421.2 179.6L425.2 179.8L427.9 179.5L427.9 178.6L423.9 178.5L420.5 178.9ZM430.5 181.9L433.9 182.3L436.5 181.9L435.9 180.4L431.9 180.6ZM434.5 177.3L438.5 177.2L440.5 175.8L436.5 175.0L434.5 176.2ZM429.2 179.2L433.2 179.6L433.9 178.5L430.5 178.1L429.2 178.6ZM432.5 184.2L434.5 184.6L434.9 183.9L433.2 183.5ZM440.5 188.5L443.2 189.2L444.9 188.5L443.2 186.9L441.2 186.9ZM459.0 200.6L461.2 201.3L463.2 201.4L463.4 200.6L462.7 199.2L461.2 198.8L461.5 197.7L460.3 198.5L459.5 199.6ZM413.2 198.5L415.2 199.8L416.2 200.1L415.2 198.7ZM409.8 195.8L410.8 196.5L411.2 197.3L410.2 196.4ZM395.5 193.1L396.8 193.2L397.0 192.7L396.2 192.7ZM385.8 196.5L387.5 196.1L387.5 195.8L386.2 196.2ZM381.8 197.3L383.8 197.1L383.8 196.8L381.8 197.1ZM441.9 220.4L443.9 219.4L445.9 220.0L447.9 221.1L449.1 221.8L446.7 222.1L446.2 221.1L443.9 220.1L442.2 220.6ZM448.9 223.1L450.0 222.0L451.9 222.1L452.9 223.0L451.5 223.3L450.7 223.7ZM446.3 223.1L447.7 223.2L447.5 223.5L446.5 223.6ZM453.7 223.1L454.7 223.1L454.7 223.4L453.7 223.4ZM457.3 229.1L457.9 229.0L457.9 229.5L457.3 229.5ZM482.2 186.9L483.9 186.2L486.5 186.4L488.9 186.5L489.5 187.3L488.5 187.9L486.2 188.5L483.5 188.2L482.5 187.5ZM494.9 198.8L496.2 198.6L497.9 198.3L499.4 197.9L499.1 197.7L499.7 196.8L498.8 196.5L498.4 195.8L497.5 195.0L497.2 194.2L496.9 193.1L496.2 192.2L495.2 192.2L494.5 193.1L494.9 194.2L495.3 195.0L496.3 195.2L496.5 196.2L495.5 196.4L495.7 197.2L495.1 197.5L496.2 197.7L495.5 198.1ZM491.9 197.3L492.2 197.7L494.3 197.2L494.5 196.2L494.9 195.4L494.2 194.8L493.1 194.8L491.9 195.6L492.2 196.4ZM505.9 176.2L507.9 177.7L509.9 178.3L511.2 176.9L513.2 177.1L515.2 175.8L511.9 175.4L507.9 175.8ZM512.6 176.6L515.9 176.7L516.6 175.8L513.2 175.8ZM532.9 182.3L533.9 182.9L536.6 183.0L535.9 181.2L538.6 179.6L542.6 178.5L544.6 178.1L541.9 178.9L537.2 180.0L534.6 181.2ZM561.9 176.6L565.2 177.3L568.6 176.9L567.2 175.8L563.2 175.0ZM589.9 179.6L593.9 180.8L598.6 179.6L595.3 178.9L590.6 178.9ZM531.9 175.4L538.6 175.4L539.9 174.6L533.2 174.6ZM617.6 182.7L618.6 182.9L618.6 182.3L617.6 182.3ZM593.3 201.9L594.3 201.3L593.9 199.6L594.9 199.5L594.1 197.3L593.9 195.8L593.3 196.2L593.3 198.8ZM591.9 205.4L592.7 205.5L594.1 205.0L595.6 204.0L595.3 203.2L593.3 202.3L592.9 203.8L592.1 204.2ZM585.3 213.3L585.9 213.2L586.6 211.9L587.3 211.8L588.3 211.3L589.1 211.5L589.9 210.7L591.3 210.6L591.9 210.2L592.5 209.6L592.6 208.1L593.3 206.9L592.9 205.5L591.9 205.9L591.8 207.3L590.9 208.6L589.9 208.8L589.3 209.8L587.3 210.0L585.9 210.8L585.3 211.5L584.9 212.1ZM578.7 219.6L579.1 220.4L579.6 219.2L579.8 218.1L579.3 218.1ZM571.0 222.5L571.6 223.3L572.2 222.8L572.6 222.1L571.9 221.8ZM551.8 231.1L551.9 232.5L552.6 232.7L553.2 231.7L552.6 230.5L551.9 229.8ZM578.8 225.0L578.9 223.1L579.9 223.1L580.1 224.6L579.7 226.4L581.3 227.3L581.3 227.7L580.3 226.9L579.3 226.7L578.8 226.0ZM579.9 231.9L580.9 231.5L581.3 230.7L582.3 229.8L582.9 230.7L582.8 232.3L582.3 232.9L581.4 232.5ZM579.9 229.2L580.6 228.4L581.6 228.6L582.3 227.7L582.4 228.8L581.9 229.6L580.9 230.1L580.3 229.8ZM576.8 230.7L578.2 229.2L578.4 228.7L577.6 229.6ZM571.2 236.1L571.6 237.3L571.9 238.4L572.2 239.6L573.9 239.8L574.9 240.4L575.9 240.2L576.2 238.8L576.9 236.9L577.2 235.6L577.0 234.1L577.9 233.3L576.6 231.9L575.9 232.4L574.9 233.6L573.9 234.8L572.8 235.4L572.6 236.1ZM562.1 233.0L563.6 233.3L564.6 234.4L565.6 235.6L566.6 236.5L567.6 237.3L568.2 238.7L569.2 239.6L569.2 241.7L568.4 241.7L567.2 241.0L566.2 239.6L565.4 238.0L564.6 236.9L564.2 235.7L563.2 234.7ZM568.8 242.5L569.6 241.9L570.9 242.4L572.4 242.3L573.7 242.7L574.9 243.3L574.9 243.9L573.6 243.7L571.9 243.4L570.6 243.2L569.6 243.0ZM575.9 243.7L576.9 243.7L577.9 243.8L579.3 243.8L580.6 243.7L580.6 244.0L578.6 244.4L576.6 244.2L575.9 244.1ZM580.9 245.2L581.9 244.0L583.3 243.7L582.9 244.2L581.6 245.1ZM578.2 241.5L578.2 240.0L577.9 238.0L578.6 236.7L579.9 236.5L581.9 236.1L581.6 237.0L579.6 236.9L578.7 237.3L579.3 238.0L580.8 238.0L579.8 238.7L580.3 240.0L580.6 240.7L580.1 241.1L579.6 240.8L579.3 239.4L578.9 239.6L578.9 241.6ZM583.6 236.5L583.9 235.7L584.4 236.5L583.9 237.9L583.7 237.3ZM583.9 239.7L585.8 239.6L585.6 240.0L584.1 240.0ZM585.9 237.9L586.9 237.6L587.9 237.9L588.1 239.2L588.9 239.8L590.3 238.5L591.6 239.0L592.9 239.4L594.9 240.2L595.9 241.4L596.9 241.9L596.8 242.7L597.9 244.2L598.9 245.4L597.3 245.1L596.3 244.0L594.9 243.2L594.3 244.0L592.9 244.4L591.6 243.4L590.6 243.7L590.6 242.7L591.1 242.3L590.3 241.3L588.6 240.7L587.3 240.4L587.1 239.7L586.3 239.4L587.6 239.1L586.6 238.8ZM597.6 241.7L598.9 241.5L599.9 240.5L600.1 241.1L599.1 242.0L597.9 242.0ZM599.1 239.4L600.3 240.2L600.6 240.8L600.1 240.3ZM602.6 242.7L603.9 243.4L605.6 244.6L605.3 244.8L603.6 243.7ZM609.6 248.8L610.1 249.2L610.5 250.0L609.9 249.6ZM607.9 252.8L608.9 253.4L609.9 254.4L609.4 254.4L608.3 253.4ZM616.8 250.7L617.7 250.8L617.6 251.3L616.8 251.2ZM574.2 254.6L574.4 257.6L575.2 260.3L575.7 261.9L575.2 263.6L577.2 264.2L578.6 263.4L580.9 263.3L582.6 262.1L584.6 261.6L586.1 261.5L587.9 262.4L588.9 264.0L589.3 263.4L590.3 262.6L590.5 264.6L591.6 264.9L592.3 266.5L594.3 267.1L596.1 267.3L597.3 266.3L598.6 266.0L598.9 264.2L599.6 262.6L600.6 260.7L600.9 258.8L600.6 256.9L599.3 255.6L598.3 254.3L597.5 252.7L596.1 251.9L595.9 250.7L595.5 248.8L594.5 248.3L594.1 246.5L593.6 245.6L593.1 247.3L592.9 249.2L592.5 250.7L591.6 250.7L590.3 249.6L588.9 248.8L589.7 246.7L588.6 246.7L586.9 246.1L585.9 246.7L585.1 248.7L584.1 248.7L583.3 248.0L582.3 248.4L581.3 249.8L580.1 250.5L580.1 251.5L578.9 252.5L577.2 253.0L575.9 253.4L574.8 254.0ZM595.1 268.6L596.3 268.9L597.5 268.7L597.3 270.3L596.3 270.8L595.5 269.9ZM613.7 263.8L614.8 265.0L615.6 265.5L615.9 266.2L617.5 266.3L617.1 267.4L616.5 268.3L615.5 269.3L615.1 268.9L615.3 268.0L614.5 267.5L615.1 266.5L614.9 265.6L613.9 264.3ZM613.7 268.5L614.8 269.2L613.9 270.6L612.8 271.3L612.4 272.6L611.3 273.1L610.3 272.8L609.6 272.4L610.8 271.1L612.3 270.2L613.3 268.8ZM531.4 246.5L532.2 249.2L531.6 250.7L530.9 253.4L529.9 256.5L528.8 256.9L527.7 255.3L527.4 253.8L528.2 252.5L527.9 250.7L528.6 249.6L529.9 248.8L530.6 247.7ZM457.9 276.9L459.9 276.8L459.5 277.4L458.2 277.4ZM473.2 278.8L474.5 279.0L474.5 279.4L473.5 279.1ZM544.4 274.9L545.4 274.9L545.4 275.5L544.6 275.4ZM394.5 221.8L395.2 222.1L394.8 222.7L394.5 222.3ZM393.0 220.7L393.4 220.9L393.2 221.0ZM437.5 237.5L438.0 237.7L437.9 238.0L437.5 238.0ZM506.9 208.1L509.0 207.9L508.6 209.1L506.9 208.4ZM504.0 207.3L505.0 207.1L505.0 205.8L504.1 205.9ZM504.4 205.4L504.9 205.0L504.8 204.2L504.4 204.6ZM514.3 210.0L516.0 210.1L515.9 210.4L514.3 210.2ZM520.1 210.4L521.6 209.9L520.9 210.6ZM534.1 227.6L534.9 227.7L534.6 227.8ZM505.9 194.5L507.0 194.2L506.8 195.0L506.0 194.8ZM510.7 193.5L511.2 192.8L511.1 193.3ZM595.9 203.1L597.6 202.3L597.3 202.1L595.9 202.7ZM598.6 201.9L599.9 201.0L599.7 200.8L598.6 201.6ZM527.4 246.1L527.6 246.3L527.4 246.5ZM535.4 253.4L535.8 253.5L535.6 253.7ZM536.8 252.7L537.1 252.8L536.9 253.0ZM487.3 215.4L487.7 215.4L487.5 215.8ZM482.7 225.6L482.9 225.8L482.8 225.8ZM504.2 234.4L504.5 234.5L504.4 234.8ZM560.4 226.9L560.6 228.1L560.4 228.4L560.2 227.7ZM451.5 277.9L452.9 277.8L454.9 279.2L453.9 279.7L451.9 279.4L450.9 278.8ZM449.1 269.6L449.5 269.6L449.5 270.6L449.0 270.5ZM449.2 206.1L450.5 205.8L450.5 205.9ZM455.9 201.3L457.2 201.6L456.9 201.9L455.9 201.7ZM455.5 198.9L457.3 199.5L456.9 199.5ZM446.2 216.8L446.9 216.9L447.1 217.3L446.5 217.0ZM446.5 218.3L446.7 218.8L446.5 219.0ZM416.5 178.9L419.2 179.0L421.2 178.1L419.2 177.7L417.2 178.1ZM428.5 177.3L431.9 177.5L432.5 176.7L429.9 176.3ZM433.2 177.5L434.9 177.5L434.9 176.8L433.5 176.8ZM434.2 179.8L436.2 179.9L436.2 179.2L434.5 179.2ZM444.5 181.2L447.2 181.3L447.5 180.8L445.2 180.6ZM446.9 185.5L448.2 185.5L448.2 184.9L447.0 184.9ZM442.9 189.2L444.2 189.4L445.2 189.0L443.5 188.8ZM444.9 189.9L445.7 189.9L445.5 189.3L445.0 189.3ZM443.9 196.5L444.9 196.7L444.9 196.4L444.0 196.3ZM430.5 181.8L433.2 182.3L434.2 181.3L432.5 180.5L430.5 181.0ZM422.5 177.9L425.2 177.9L425.2 177.3L422.5 177.3ZM427.5 181.0L428.9 181.2L428.9 180.6L427.9 180.6ZM445.2 194.2L445.9 194.4L445.9 193.8L445.2 193.8ZM530.8 184.2L531.8 184.5L531.9 184.0L531.1 183.9ZM537.6 183.5L538.9 183.7L538.6 183.1L537.8 183.2ZM565.2 177.2L568.2 177.5L568.6 176.7L565.9 176.4ZM590.3 179.4L592.6 179.8L592.6 178.9L590.6 178.9ZM591.9 180.9L593.9 181.0L593.9 180.6L592.3 180.6ZM607.5 192.3L608.3 191.9L607.9 191.7L607.5 191.9ZM384.0 188.6L385.8 188.9L386.0 188.5L384.2 188.2ZM387.0 191.2L388.0 191.3L388.0 190.9L387.2 190.9ZM461.9 183.9L463.9 184.0L463.9 183.2L462.2 183.2ZM493.5 189.8L494.2 189.8L494.2 189.4L493.7 189.4ZM497.5 191.2L497.9 191.2L497.9 190.5L497.5 190.7ZM493.5 193.5L494.3 193.1L494.4 192.4L493.7 192.5ZM500.2 207.0L500.8 207.0L500.8 206.6L500.2 206.7ZM582.7 211.7L583.2 211.7L583.2 211.5L582.7 211.5ZM583.7 217.2L584.1 216.8L583.9 216.6ZM578.9 227.0L579.6 227.1L579.5 227.8L579.1 227.7ZM581.5 227.7L582.3 227.7L582.4 228.7L581.8 228.6ZM580.2 229.6L580.8 228.9L580.8 230.2L580.3 230.1ZM578.4 243.7L580.5 243.5L580.5 244.0L578.4 244.0ZM577.9 244.5L579.1 244.7L578.9 245.1L578.0 244.8ZM582.6 239.7L583.4 239.7L583.3 240.2L582.7 240.1ZM588.1 241.5L588.5 241.6L588.4 242.5L588.1 242.4ZM585.9 242.9L586.4 242.8L586.3 243.4L586.0 243.4ZM601.7 241.5L602.5 242.1L602.4 242.5L601.8 241.9ZM589.7 264.7L590.6 264.7L590.6 265.0L589.7 265.0ZM585.5 246.0L586.3 246.0L586.3 246.4L585.5 246.4ZM589.5 247.9L589.9 247.9L589.9 248.3L589.5 248.3ZM524.7 241.7L524.9 241.7L524.9 242.2L524.7 242.2ZM610.3 273.3L610.7 273.3L610.7 273.6L610.3 273.6ZM380.6 270.9L381.0 270.9L381.0 271.2ZM464.7 237.4L466.2 237.5L466.1 238.4L464.9 238.4ZM448.3 274.8L448.9 274.7L448.9 275.6L448.3 275.5ZM517.2 205.4L517.7 203.5L518.4 202.5L518.9 201.8L519.9 201.5L520.6 201.9L520.9 203.1L521.9 202.9L522.9 202.5L522.1 201.7L523.6 201.2L524.6 201.0L524.1 201.8L523.6 202.9L524.9 203.6L526.2 204.5L526.2 205.4L524.9 205.7L523.2 205.6L522.0 205.0L520.9 205.0L519.2 205.6L517.9 205.6ZM529.9 202.3L531.2 201.5L532.9 201.3L533.9 201.7L533.9 202.7L532.6 203.1L532.2 204.2L533.6 205.4L534.4 205.9L533.9 207.3L534.6 208.5L533.2 209.1L531.9 208.6L531.2 207.7L531.6 206.3L530.6 205.0L530.1 203.8ZM437.2 201.4L439.2 200.4L441.2 200.4L442.1 201.4L440.5 201.5L438.5 201.4ZM440.0 205.0L441.0 205.0L441.2 203.1L442.0 202.1L440.9 202.2L440.1 203.5ZM442.2 202.0L444.2 202.1L445.2 202.9L444.1 204.0L443.5 204.2L442.9 203.5ZM443.0 205.2L445.9 204.5L445.5 204.2L443.5 204.8ZM445.4 204.0L447.7 203.8L447.5 203.4L445.7 203.6ZM432.5 198.5L434.2 198.5L433.5 195.9L432.5 196.5ZM420.5 190.4L423.2 190.4L425.9 189.1L424.5 188.9L422.2 189.6ZM416.5 187.3L418.5 187.3L419.9 186.2L418.2 185.8L415.8 186.5ZM424.2 192.2L427.9 191.7L427.5 191.5L424.5 191.8ZM519.9 237.5L521.2 237.1L521.4 239.2L519.9 239.4L519.7 238.4ZM518.0 240.0L519.1 243.9L518.8 243.9L517.9 241.1ZM521.2 244.7L521.9 246.5L521.9 248.3L521.6 248.0L521.4 246.1ZM567.9 197.7L569.2 197.3L571.6 195.0L571.8 194.4L570.9 195.0L568.9 196.8ZM537.6 203.5L538.9 203.6L539.6 202.3L538.6 201.4L537.7 202.2ZM547.6 202.3L549.2 201.5L551.2 201.3L550.9 201.8L548.6 202.7ZM518.9 191.2L520.4 190.9L520.2 190.0L518.9 190.2ZM521.6 190.4L522.6 190.4L522.2 189.2L521.6 189.4ZM506.9 192.3L507.9 192.2L507.8 191.7L507.1 191.8ZM507.6 227.5L508.4 227.5L508.4 226.7L507.7 226.7ZM451.9 249.0L452.5 249.3L452.5 249.9L451.9 249.6ZM441.2 228.7L441.9 228.6L441.9 228.1L441.3 228.1ZM522.4 235.4L523.0 235.4L522.8 233.8L522.5 233.8ZM549.4 204.8L550.8 204.8L550.8 204.4L549.6 204.5ZM429.9 193.9L430.9 193.9L430.9 192.7L430.0 192.7ZM450.5 186.5L452.2 186.5L451.9 185.8L450.5 185.9Z" fill="none" stroke="#000" stroke-width="0.85" stroke-linejoin="round"/>
<path d="M585.2 184.9h1v1h-1zM428.6 187.5h1v1h-1zM431.3 187.5h1v1h-1zM525.8 187.5h1v1h-1zM528.5 187.5h1v1h-1zM533.9 187.5h1v1h-1zM536.6 187.5h1v1h-1zM547.4 187.5h1v1h-1zM550.1 187.5h1v1h-1zM555.5 187.5h1v1h-1zM558.2 187.5h1v1h-1zM560.9 187.5h1v1h-1zM563.6 187.5h1v1h-1zM569.0 187.5h1v1h-1zM571.7 187.5h1v1h-1zM577.1 187.5h1v1h-1zM579.8 187.5h1v1h-1zM585.2 187.5h1v1h-1zM434.0 190.0h1v1h-1zM501.5 190.0h1v1h-1zM506.9 190.0h1v1h-1zM512.3 190.0h1v1h-1zM515.0 190.0h1v1h-1zM520.4 190.0h1v1h-1zM531.2 190.0h1v1h-1zM542.0 190.0h1v1h-1zM544.7 190.0h1v1h-1zM547.4 190.0h1v1h-1zM550.1 190.0h1v1h-1zM555.5 190.0h1v1h-1zM560.9 190.0h1v1h-1zM563.6 190.0h1v1h-1zM569.0 190.0h1v1h-1zM574.4 190.0h1v1h-1zM577.1 190.0h1v1h-1zM585.2 190.0h1v1h-1zM587.9 190.0h1v1h-1zM496.1 192.6h1v1h-1zM504.2 192.6h1v1h-1zM506.9 192.6h1v1h-1zM509.6 192.6h1v1h-1zM512.3 192.6h1v1h-1zM515.0 192.6h1v1h-1zM517.7 192.6h1v1h-1zM528.5 192.6h1v1h-1zM531.2 192.6h1v1h-1zM536.6 192.6h1v1h-1zM544.7 192.6h1v1h-1zM547.4 192.6h1v1h-1zM550.1 192.6h1v1h-1zM563.6 192.6h1v1h-1zM496.1 195.1h1v1h-1zM504.2 195.1h1v1h-1zM506.9 195.1h1v1h-1zM509.6 195.1h1v1h-1zM515.0 195.1h1v1h-1zM498.8 197.7h1v1h-1zM504.2 197.7h1v1h-1zM506.9 197.7h1v1h-1zM512.3 197.7h1v1h-1zM515.0 197.7h1v1h-1zM517.7 197.7h1v1h-1zM520.4 197.7h1v1h-1zM585.2 200.2h1v1h-1zM447.5 202.8h1v1h-1zM590.6 210.4h1v1h-1zM439.4 213.0h1v1h-1zM550.1 215.5h1v1h-1zM555.5 215.5h1v1h-1zM569.0 215.5h1v1h-1zM571.7 215.5h1v1h-1zM574.4 215.5h1v1h-1zM560.9 218.1h1v1h-1zM569.0 218.1h1v1h-1zM571.7 218.1h1v1h-1zM574.4 218.1h1v1h-1zM560.9 220.6h1v1h-1zM569.0 220.6h1v1h-1zM436.7 223.2h1v1h-1zM560.9 223.2h1v1h-1zM563.6 223.2h1v1h-1zM569.0 223.2h1v1h-1zM434.0 225.7h1v1h-1zM436.7 225.7h1v1h-1zM560.9 225.7h1v1h-1zM563.6 225.7h1v1h-1zM566.3 225.7h1v1h-1zM569.0 225.7h1v1h-1zM447.5 228.3h1v1h-1zM488.0 228.3h1v1h-1zM490.7 228.3h1v1h-1zM493.4 228.3h1v1h-1zM496.1 228.3h1v1h-1zM569.0 228.3h1v1h-1zM579.8 228.3h1v1h-1zM444.8 230.8h1v1h-1zM447.5 230.8h1v1h-1zM490.7 230.8h1v1h-1zM493.4 230.8h1v1h-1zM496.1 230.8h1v1h-1zM501.5 230.8h1v1h-1zM504.2 230.8h1v1h-1zM563.6 230.8h1v1h-1zM447.5 233.4h1v1h-1zM458.3 233.4h1v1h-1zM493.4 233.4h1v1h-1zM501.5 233.4h1v1h-1zM504.2 233.4h1v1h-1zM512.3 233.4h1v1h-1zM515.0 233.4h1v1h-1zM560.9 233.4h1v1h-1zM566.3 233.4h1v1h-1zM574.4 233.4h1v1h-1zM447.5 235.9h1v1h-1zM512.3 235.9h1v1h-1zM520.4 235.9h1v1h-1zM563.6 235.9h1v1h-1zM566.3 235.9h1v1h-1zM571.7 235.9h1v1h-1zM574.4 235.9h1v1h-1zM579.8 235.9h1v1h-1zM444.8 238.5h1v1h-1zM455.6 238.5h1v1h-1zM461.0 238.5h1v1h-1zM463.7 238.5h1v1h-1zM466.4 238.5h1v1h-1zM509.6 238.5h1v1h-1zM512.3 238.5h1v1h-1zM515.0 238.5h1v1h-1zM520.4 238.5h1v1h-1zM523.1 238.5h1v1h-1zM566.3 238.5h1v1h-1zM571.7 238.5h1v1h-1zM574.4 238.5h1v1h-1zM577.1 238.5h1v1h-1zM579.8 238.5h1v1h-1zM590.6 238.5h1v1h-1zM455.6 241.0h1v1h-1zM458.3 241.0h1v1h-1zM461.0 241.0h1v1h-1zM463.7 241.0h1v1h-1zM466.4 241.0h1v1h-1zM506.9 241.0h1v1h-1zM512.3 241.0h1v1h-1zM515.0 241.0h1v1h-1zM517.7 241.0h1v1h-1zM520.4 241.0h1v1h-1zM523.1 241.0h1v1h-1zM566.3 241.0h1v1h-1zM577.1 241.0h1v1h-1zM593.3 241.0h1v1h-1zM444.8 243.6h1v1h-1zM455.6 243.6h1v1h-1zM458.3 243.6h1v1h-1zM461.0 243.6h1v1h-1zM463.7 243.6h1v1h-1zM466.4 243.6h1v1h-1zM469.1 243.6h1v1h-1zM520.4 243.6h1v1h-1zM571.7 243.6h1v1h-1zM461.0 246.1h1v1h-1zM463.7 246.1h1v1h-1zM466.4 246.1h1v1h-1zM469.1 246.1h1v1h-1zM458.3 248.7h1v1h-1zM461.0 248.7h1v1h-1zM463.7 248.7h1v1h-1zM466.4 248.7h1v1h-1zM469.1 248.7h1v1h-1zM461.0 251.2h1v1h-1zM463.7 251.2h1v1h-1zM466.4 251.2h1v1h-1zM469.1 251.2h1v1h-1zM463.7 253.8h1v1h-1zM598.7 253.8h1v1h-1zM463.7 256.3h1v1h-1zM466.4 256.3h1v1h-1zM598.7 256.3h1v1h-1zM598.7 261.4h1v1h-1z" fill="#1a1a1a"/>
<path d="M378.5 168.1V283.4H618.6V168.1" fill="none" stroke="#2a2a2a" stroke-width="0.9"/>
<path d="M378.0 168.1H619.1" fill="none" stroke="#505050" stroke-width="1.4"/>
<text x="18.0" y="13.3" font-size="17.8" font-weight="bold" fill="#000">a</text>
<text x="355.0" y="12.6" font-size="17.8" font-weight="bold" fill="#000">b</text>
<text x="18.0" y="161.8" font-size="17.8" font-weight="bold" fill="#000">c</text>
<text x="355.0" y="161.5" font-size="17.8" font-weight="bold" fill="#000">d</text>
<text x="18.5" y="310.0" font-size="17.8" font-weight="bold" fill="#000">e</text>
<text x="356.0" y="309.8" font-size="17.8" font-weight="bold" fill="#000">f</text>
<text x="161.7" y="13.8" font-size="11.5" text-anchor="middle" fill="#111" letter-spacing="0.7">ΔET</text>
<text x="498.6" y="13.8" font-size="11.5" text-anchor="middle" fill="#111" letter-spacing="0.7">ΔP</text>
<text x="161.7" y="162.9" font-size="11.5" text-anchor="middle" fill="#111" letter-spacing="0.7">ΔSM</text>
<text x="498.6" y="162.9" font-size="11.5" text-anchor="middle" fill="#111" letter-spacing="0.7">ΔR</text>
<g shape-rendering="crispEdges">
<rect x="290.4" y="19.60" width="12.4" height="2.39" fill="#093370"/>
<rect x="290.4" y="21.39" width="12.4" height="2.39" fill="#0c3a7a"/>
<rect x="290.4" y="23.19" width="12.4" height="2.39" fill="#0e4183"/>
<rect x="290.4" y="24.98" width="12.4" height="2.39" fill="#11478d"/>
<rect x="290.4" y="26.78" width="12.4" height="2.39" fill="#134e97"/>
<rect x="290.4" y="28.57" width="12.4" height="2.39" fill="#16559e"/>
<rect x="290.4" y="30.36" width="12.4" height="2.39" fill="#195ba3"/>
<rect x="290.4" y="32.16" width="12.4" height="2.39" fill="#1c62a9"/>
<rect x="290.4" y="33.95" width="12.4" height="2.39" fill="#2069ae"/>
<rect x="290.4" y="35.74" width="12.4" height="2.39" fill="#236fb3"/>
<rect x="290.4" y="37.54" width="12.4" height="2.39" fill="#2976b7"/>
<rect x="290.4" y="39.33" width="12.4" height="2.39" fill="#2f7dbb"/>
<rect x="290.4" y="41.12" width="12.4" height="2.39" fill="#3685bf"/>
<rect x="290.4" y="42.92" width="12.4" height="2.39" fill="#3c8cc3"/>
<rect x="290.4" y="44.71" width="12.4" height="2.39" fill="#4393c6"/>
<rect x="290.4" y="46.51" width="12.4" height="2.39" fill="#4f9bcb"/>
<rect x="290.4" y="48.30" width="12.4" height="2.39" fill="#5ba3cf"/>
<rect x="290.4" y="50.09" width="12.4" height="2.39" fill="#67abd3"/>
<rect x="290.4" y="51.89" width="12.4" height="2.39" fill="#73b3d8"/>
<rect x="290.4" y="53.68" width="12.4" height="2.39" fill="#81badb"/>
<rect x="290.4" y="55.48" width="12.4" height="2.39" fill="#8fc1df"/>
<rect x="290.4" y="57.27" width="12.4" height="2.39" fill="#9dc8e2"/>
<rect x="290.4" y="59.06" width="12.4" height="2.39" fill="#aad0e5"/>
<rect x="290.4" y="60.86" width="12.4" height="2.39" fill="#b5d5e8"/>
<rect x="290.4" y="62.65" width="12.4" height="2.39" fill="#c0daeb"/>
<rect x="290.4" y="64.44" width="12.4" height="2.39" fill="#cbdfee"/>
<rect x="290.4" y="66.24" width="12.4" height="2.39" fill="#d5e4f0"/>
<rect x="290.4" y="68.03" width="12.4" height="2.39" fill="#dce8f2"/>
<rect x="290.4" y="69.83" width="12.4" height="2.39" fill="#e3ecf4"/>
<rect x="290.4" y="71.62" width="12.4" height="2.39" fill="#eaf0f6"/>
<rect x="290.4" y="73.41" width="12.4" height="2.39" fill="#f0f2f4"/>
<rect x="290.4" y="75.21" width="12.4" height="2.39" fill="#f5f5f2"/>
<rect x="290.4" y="77.00" width="12.4" height="2.39" fill="#f9f5ed"/>
<rect x="290.4" y="78.79" width="12.4" height="2.39" fill="#faf2e5"/>
<rect x="290.4" y="80.59" width="12.4" height="2.39" fill="#fbf0dc"/>
<rect x="290.4" y="82.38" width="12.4" height="2.39" fill="#f9ebce"/>
<rect x="290.4" y="84.18" width="12.4" height="2.39" fill="#f6e5be"/>
<rect x="290.4" y="85.97" width="12.4" height="2.39" fill="#f4dfaf"/>
<rect x="290.4" y="87.76" width="12.4" height="2.39" fill="#f0d8a0"/>
<rect x="290.4" y="89.56" width="12.4" height="2.39" fill="#ecd192"/>
<rect x="290.4" y="91.35" width="12.4" height="2.39" fill="#e8c984"/>
<rect x="290.4" y="93.14" width="12.4" height="2.39" fill="#e3c275"/>
<rect x="290.4" y="94.94" width="12.4" height="2.39" fill="#deb868"/>
<rect x="290.4" y="96.73" width="12.4" height="2.39" fill="#d9af5b"/>
<rect x="290.4" y="98.53" width="12.4" height="2.39" fill="#d4a54d"/>
<rect x="290.4" y="100.32" width="12.4" height="2.39" fill="#cf9c41"/>
<rect x="290.4" y="102.11" width="12.4" height="2.39" fill="#c99439"/>
<rect x="290.4" y="103.91" width="12.4" height="2.39" fill="#c38c31"/>
<rect x="290.4" y="105.70" width="12.4" height="2.39" fill="#bd8429"/>
<rect x="290.4" y="107.49" width="12.4" height="2.39" fill="#b77d21"/>
<rect x="290.4" y="109.29" width="12.4" height="2.39" fill="#b0761d"/>
<rect x="290.4" y="111.08" width="12.4" height="2.39" fill="#aa701a"/>
<rect x="290.4" y="112.88" width="12.4" height="2.39" fill="#a46a16"/>
<rect x="290.4" y="114.67" width="12.4" height="2.39" fill="#9e6413"/>
<rect x="290.4" y="116.46" width="12.4" height="2.39" fill="#975e10"/>
<rect x="290.4" y="118.26" width="12.4" height="2.39" fill="#91590f"/>
<rect x="290.4" y="120.05" width="12.4" height="2.39" fill="#8b540e"/>
<rect x="290.4" y="121.84" width="12.4" height="2.39" fill="#85500d"/>
<rect x="290.4" y="123.64" width="12.4" height="2.39" fill="#7e4b0c"/>
<rect x="290.4" y="125.43" width="12.4" height="2.39" fill="#78470b"/>
<rect x="290.4" y="127.22" width="12.4" height="2.39" fill="#71420a"/>
<rect x="290.4" y="129.02" width="12.4" height="2.39" fill="#6b3e09"/>
<rect x="290.4" y="130.81" width="12.4" height="2.39" fill="#643a08"/>
<rect x="290.4" y="132.61" width="12.4" height="2.39" fill="#5d3507"/>
</g>
<rect x="290.4" y="19.6" width="12.4" height="114.8" fill="none" stroke="#555" stroke-width="0.6"/>
<line x1="301.3" x2="302.8" y1="20.1" y2="20.1" stroke="#444" stroke-width="0.5"/>
<text x="306.0" y="24.0" font-size="11" fill="#262626">0.6</text>
<line x1="301.3" x2="302.8" y1="48.7" y2="48.7" stroke="#444" stroke-width="0.5"/>
<text x="306.0" y="52.6" font-size="11" fill="#262626">0.3</text>
<line x1="301.3" x2="302.8" y1="77.2" y2="77.2" stroke="#444" stroke-width="0.5"/>
<text x="306.0" y="81.2" font-size="11" fill="#262626">0</text>
<line x1="301.3" x2="302.8" y1="105.8" y2="105.8" stroke="#444" stroke-width="0.5"/>
<text x="306.0" y="109.7" font-size="11" fill="#262626">-0.3</text>
<line x1="301.3" x2="302.8" y1="134.4" y2="134.4" stroke="#444" stroke-width="0.5"/>
<text x="306.0" y="138.3" font-size="11" fill="#262626">-0.6</text>
<text transform="translate(338.2 77.0) rotate(-90)" font-size="10.5" fill="#262626" text-anchor="middle">mm day<tspan dy="-3.6" font-size="6.3">-1</tspan></text>
<g shape-rendering="crispEdges">
<rect x="628.1" y="19.70" width="12.1" height="2.39" fill="#093370"/>
<rect x="628.1" y="21.49" width="12.1" height="2.39" fill="#0c3a7a"/>
<rect x="628.1" y="23.29" width="12.1" height="2.39" fill="#0e4183"/>
<rect x="628.1" y="25.08" width="12.1" height="2.39" fill="#11478d"/>
<rect x="628.1" y="26.88" width="12.1" height="2.39" fill="#134e97"/>
<rect x="628.1" y="28.67" width="12.1" height="2.39" fill="#16559e"/>
<rect x="628.1" y="30.46" width="12.1" height="2.39" fill="#195ba3"/>
<rect x="628.1" y="32.26" width="12.1" height="2.39" fill="#1c62a9"/>
<rect x="628.1" y="34.05" width="12.1" height="2.39" fill="#2069ae"/>
<rect x="628.1" y="35.84" width="12.1" height="2.39" fill="#236fb3"/>
<rect x="628.1" y="37.64" width="12.1" height="2.39" fill="#2976b7"/>
<rect x="628.1" y="39.43" width="12.1" height="2.39" fill="#2f7dbb"/>
<rect x="628.1" y="41.22" width="12.1" height="2.39" fill="#3685bf"/>
<rect x="628.1" y="43.02" width="12.1" height="2.39" fill="#3c8cc3"/>
<rect x="628.1" y="44.81" width="12.1" height="2.39" fill="#4393c6"/>
<rect x="628.1" y="46.61" width="12.1" height="2.39" fill="#4f9bcb"/>
<rect x="628.1" y="48.40" width="12.1" height="2.39" fill="#5ba3cf"/>
<rect x="628.1" y="50.19" width="12.1" height="2.39" fill="#67abd3"/>
<rect x="628.1" y="51.99" width="12.1" height="2.39" fill="#73b3d8"/>
<rect x="628.1" y="53.78" width="12.1" height="2.39" fill="#81badb"/>
<rect x="628.1" y="55.58" width="12.1" height="2.39" fill="#8fc1df"/>
<rect x="628.1" y="57.37" width="12.1" height="2.39" fill="#9dc8e2"/>
<rect x="628.1" y="59.16" width="12.1" height="2.39" fill="#aad0e5"/>
<rect x="628.1" y="60.96" width="12.1" height="2.39" fill="#b5d5e8"/>
<rect x="628.1" y="62.75" width="12.1" height="2.39" fill="#c0daeb"/>
<rect x="628.1" y="64.54" width="12.1" height="2.39" fill="#cbdfee"/>
<rect x="628.1" y="66.34" width="12.1" height="2.39" fill="#d5e4f0"/>
<rect x="628.1" y="68.13" width="12.1" height="2.39" fill="#dce8f2"/>
<rect x="628.1" y="69.92" width="12.1" height="2.39" fill="#e3ecf4"/>
<rect x="628.1" y="71.72" width="12.1" height="2.39" fill="#eaf0f6"/>
<rect x="628.1" y="73.51" width="12.1" height="2.39" fill="#f0f2f4"/>
<rect x="628.1" y="75.31" width="12.1" height="2.39" fill="#f5f5f2"/>
<rect x="628.1" y="77.10" width="12.1" height="2.39" fill="#f9f5ed"/>
<rect x="628.1" y="78.89" width="12.1" height="2.39" fill="#faf2e5"/>
<rect x="628.1" y="80.69" width="12.1" height="2.39" fill="#fbf0dc"/>
<rect x="628.1" y="82.48" width="12.1" height="2.39" fill="#f9ebce"/>
<rect x="628.1" y="84.28" width="12.1" height="2.39" fill="#f6e5be"/>
<rect x="628.1" y="86.07" width="12.1" height="2.39" fill="#f4dfaf"/>
<rect x="628.1" y="87.86" width="12.1" height="2.39" fill="#f0d8a0"/>
<rect x="628.1" y="89.66" width="12.1" height="2.39" fill="#ecd192"/>
<rect x="628.1" y="91.45" width="12.1" height="2.39" fill="#e8c984"/>
<rect x="628.1" y="93.24" width="12.1" height="2.39" fill="#e3c275"/>
<rect x="628.1" y="95.04" width="12.1" height="2.39" fill="#deb868"/>
<rect x="628.1" y="96.83" width="12.1" height="2.39" fill="#d9af5b"/>
<rect x="628.1" y="98.62" width="12.1" height="2.39" fill="#d4a54d"/>
<rect x="628.1" y="100.42" width="12.1" height="2.39" fill="#cf9c41"/>
<rect x="628.1" y="102.21" width="12.1" height="2.39" fill="#c99439"/>
<rect x="628.1" y="104.01" width="12.1" height="2.39" fill="#c38c31"/>
<rect x="628.1" y="105.80" width="12.1" height="2.39" fill="#bd8429"/>
<rect x="628.1" y="107.59" width="12.1" height="2.39" fill="#b77d21"/>
<rect x="628.1" y="109.39" width="12.1" height="2.39" fill="#b0761d"/>
<rect x="628.1" y="111.18" width="12.1" height="2.39" fill="#aa701a"/>
<rect x="628.1" y="112.97" width="12.1" height="2.39" fill="#a46a16"/>
<rect x="628.1" y="114.77" width="12.1" height="2.39" fill="#9e6413"/>
<rect x="628.1" y="116.56" width="12.1" height="2.39" fill="#975e10"/>
<rect x="628.1" y="118.36" width="12.1" height="2.39" fill="#91590f"/>
<rect x="628.1" y="120.15" width="12.1" height="2.39" fill="#8b540e"/>
<rect x="628.1" y="121.94" width="12.1" height="2.39" fill="#85500d"/>
<rect x="628.1" y="123.74" width="12.1" height="2.39" fill="#7e4b0c"/>
<rect x="628.1" y="125.53" width="12.1" height="2.39" fill="#78470b"/>
<rect x="628.1" y="127.33" width="12.1" height="2.39" fill="#71420a"/>
<rect x="628.1" y="129.12" width="12.1" height="2.39" fill="#6b3e09"/>
<rect x="628.1" y="130.91" width="12.1" height="2.39" fill="#643a08"/>
<rect x="628.1" y="132.71" width="12.1" height="2.39" fill="#5d3507"/>
</g>
<rect x="628.1" y="19.7" width="12.1" height="114.8" fill="none" stroke="#555" stroke-width="0.6"/>
<line x1="638.7" x2="640.2" y1="20.2" y2="20.2" stroke="#444" stroke-width="0.5"/>
<text x="643.4" y="24.1" font-size="11" fill="#262626">1</text>
<line x1="638.7" x2="640.2" y1="48.8" y2="48.8" stroke="#444" stroke-width="0.5"/>
<text x="643.4" y="52.7" font-size="11" fill="#262626">0.5</text>
<line x1="638.7" x2="640.2" y1="77.3" y2="77.3" stroke="#444" stroke-width="0.5"/>
<text x="643.4" y="81.2" font-size="11" fill="#262626">0</text>
<line x1="638.7" x2="640.2" y1="105.9" y2="105.9" stroke="#444" stroke-width="0.5"/>
<text x="643.4" y="109.8" font-size="11" fill="#262626">-0.5</text>
<line x1="638.7" x2="640.2" y1="134.5" y2="134.5" stroke="#444" stroke-width="0.5"/>
<text x="643.4" y="138.4" font-size="11" fill="#262626">-1</text>
<text transform="translate(676.0 77.1) rotate(-90)" font-size="10.5" fill="#262626" text-anchor="middle">mm day<tspan dy="-3.6" font-size="6.3">-1</tspan></text>
<g shape-rendering="crispEdges">
<rect x="290.4" y="168.30" width="12.4" height="2.39" fill="#093370"/>
<rect x="290.4" y="170.09" width="12.4" height="2.39" fill="#0c3a7a"/>
<rect x="290.4" y="171.88" width="12.4" height="2.39" fill="#0e4183"/>
<rect x="290.4" y="173.67" width="12.4" height="2.39" fill="#11478d"/>
<rect x="290.4" y="175.46" width="12.4" height="2.39" fill="#134e97"/>
<rect x="290.4" y="177.25" width="12.4" height="2.39" fill="#16559e"/>
<rect x="290.4" y="179.04" width="12.4" height="2.39" fill="#195ba3"/>
<rect x="290.4" y="180.83" width="12.4" height="2.39" fill="#1c62a9"/>
<rect x="290.4" y="182.62" width="12.4" height="2.39" fill="#2069ae"/>
<rect x="290.4" y="184.42" width="12.4" height="2.39" fill="#236fb3"/>
<rect x="290.4" y="186.21" width="12.4" height="2.39" fill="#2976b7"/>
<rect x="290.4" y="188.00" width="12.4" height="2.39" fill="#2f7dbb"/>
<rect x="290.4" y="189.79" width="12.4" height="2.39" fill="#3685bf"/>
<rect x="290.4" y="191.58" width="12.4" height="2.39" fill="#3c8cc3"/>
<rect x="290.4" y="193.37" width="12.4" height="2.39" fill="#4393c6"/>
<rect x="290.4" y="195.16" width="12.4" height="2.39" fill="#4f9bcb"/>
<rect x="290.4" y="196.95" width="12.4" height="2.39" fill="#5ba3cf"/>
<rect x="290.4" y="198.74" width="12.4" height="2.39" fill="#67abd3"/>
<rect x="290.4" y="200.53" width="12.4" height="2.39" fill="#73b3d8"/>
<rect x="290.4" y="202.32" width="12.4" height="2.39" fill="#81badb"/>
<rect x="290.4" y="204.11" width="12.4" height="2.39" fill="#8fc1df"/>
<rect x="290.4" y="205.90" width="12.4" height="2.39" fill="#9dc8e2"/>
<rect x="290.4" y="207.69" width="12.4" height="2.39" fill="#aad0e5"/>
<rect x="290.4" y="209.48" width="12.4" height="2.39" fill="#b5d5e8"/>
<rect x="290.4" y="211.28" width="12.4" height="2.39" fill="#c0daeb"/>
<rect x="290.4" y="213.07" width="12.4" height="2.39" fill="#cbdfee"/>
<rect x="290.4" y="214.86" width="12.4" height="2.39" fill="#d5e4f0"/>
<rect x="290.4" y="216.65" width="12.4" height="2.39" fill="#dce8f2"/>
<rect x="290.4" y="218.44" width="12.4" height="2.39" fill="#e3ecf4"/>
<rect x="290.4" y="220.23" width="12.4" height="2.39" fill="#eaf0f6"/>
<rect x="290.4" y="222.02" width="12.4" height="2.39" fill="#f0f2f4"/>
<rect x="290.4" y="223.81" width="12.4" height="2.39" fill="#f5f5f2"/>
<rect x="290.4" y="225.60" width="12.4" height="2.39" fill="#f9f5ed"/>
<rect x="290.4" y="227.39" width="12.4" height="2.39" fill="#faf2e5"/>
<rect x="290.4" y="229.18" width="12.4" height="2.39" fill="#fbf0dc"/>
<rect x="290.4" y="230.97" width="12.4" height="2.39" fill="#f9ebce"/>
<rect x="290.4" y="232.76" width="12.4" height="2.39" fill="#f6e5be"/>
<rect x="290.4" y="234.55" width="12.4" height="2.39" fill="#f4dfaf"/>
<rect x="290.4" y="236.34" width="12.4" height="2.39" fill="#f0d8a0"/>
<rect x="290.4" y="238.13" width="12.4" height="2.39" fill="#ecd192"/>
<rect x="290.4" y="239.93" width="12.4" height="2.39" fill="#e8c984"/>
<rect x="290.4" y="241.72" width="12.4" height="2.39" fill="#e3c275"/>
<rect x="290.4" y="243.51" width="12.4" height="2.39" fill="#deb868"/>
<rect x="290.4" y="245.30" width="12.4" height="2.39" fill="#d9af5b"/>
<rect x="290.4" y="247.09" width="12.4" height="2.39" fill="#d4a54d"/>
<rect x="290.4" y="248.88" width="12.4" height="2.39" fill="#cf9c41"/>
<rect x="290.4" y="250.67" width="12.4" height="2.39" fill="#c99439"/>
<rect x="290.4" y="252.46" width="12.4" height="2.39" fill="#c38c31"/>
<rect x="290.4" y="254.25" width="12.4" height="2.39" fill="#bd8429"/>
<rect x="290.4" y="256.04" width="12.4" height="2.39" fill="#b77d21"/>
<rect x="290.4" y="257.83" width="12.4" height="2.39" fill="#b0761d"/>
<rect x="290.4" y="259.62" width="12.4" height="2.39" fill="#aa701a"/>
<rect x="290.4" y="261.41" width="12.4" height="2.39" fill="#a46a16"/>
<rect x="290.4" y="263.20" width="12.4" height="2.39" fill="#9e6413"/>
<rect x="290.4" y="264.99" width="12.4" height="2.39" fill="#975e10"/>
<rect x="290.4" y="266.78" width="12.4" height="2.39" fill="#91590f"/>
<rect x="290.4" y="268.57" width="12.4" height="2.39" fill="#8b540e"/>
<rect x="290.4" y="270.37" width="12.4" height="2.39" fill="#85500d"/>
<rect x="290.4" y="272.16" width="12.4" height="2.39" fill="#7e4b0c"/>
<rect x="290.4" y="273.95" width="12.4" height="2.39" fill="#78470b"/>
<rect x="290.4" y="275.74" width="12.4" height="2.39" fill="#71420a"/>
<rect x="290.4" y="277.53" width="12.4" height="2.39" fill="#6b3e09"/>
<rect x="290.4" y="279.32" width="12.4" height="2.39" fill="#643a08"/>
<rect x="290.4" y="281.11" width="12.4" height="2.39" fill="#5d3507"/>
</g>
<rect x="290.4" y="168.3" width="12.4" height="114.6" fill="none" stroke="#555" stroke-width="0.6"/>
<line x1="301.3" x2="302.8" y1="168.8" y2="168.8" stroke="#444" stroke-width="0.5"/>
<text x="306.0" y="172.7" font-size="11" fill="#262626">80</text>
<line x1="301.3" x2="302.8" y1="197.3" y2="197.3" stroke="#444" stroke-width="0.5"/>
<text x="306.0" y="201.2" font-size="11" fill="#262626">40</text>
<line x1="301.3" x2="302.8" y1="225.9" y2="225.9" stroke="#444" stroke-width="0.5"/>
<text x="306.0" y="229.8" font-size="11" fill="#262626">0</text>
<line x1="301.3" x2="302.8" y1="254.4" y2="254.4" stroke="#444" stroke-width="0.5"/>
<text x="306.0" y="258.3" font-size="11" fill="#262626">-40</text>
<line x1="301.3" x2="302.8" y1="282.9" y2="282.9" stroke="#444" stroke-width="0.5"/>
<text x="306.0" y="286.8" font-size="11" fill="#262626">-80</text>
<text transform="translate(334.8 225.6) rotate(-90)" font-size="10.5" fill="#262626" text-anchor="middle">mm</text>
<g shape-rendering="crispEdges">
<rect x="628.1" y="168.30" width="12.1" height="2.39" fill="#093370"/>
<rect x="628.1" y="170.09" width="12.1" height="2.39" fill="#0c3a7a"/>
<rect x="628.1" y="171.88" width="12.1" height="2.39" fill="#0e4183"/>
<rect x="628.1" y="173.67" width="12.1" height="2.39" fill="#11478d"/>
<rect x="628.1" y="175.46" width="12.1" height="2.39" fill="#134e97"/>
<rect x="628.1" y="177.25" width="12.1" height="2.39" fill="#16559e"/>
<rect x="628.1" y="179.04" width="12.1" height="2.39" fill="#195ba3"/>
<rect x="628.1" y="180.83" width="12.1" height="2.39" fill="#1c62a9"/>
<rect x="628.1" y="182.62" width="12.1" height="2.39" fill="#2069ae"/>
<rect x="628.1" y="184.42" width="12.1" height="2.39" fill="#236fb3"/>
<rect x="628.1" y="186.21" width="12.1" height="2.39" fill="#2976b7"/>
<rect x="628.1" y="188.00" width="12.1" height="2.39" fill="#2f7dbb"/>
<rect x="628.1" y="189.79" width="12.1" height="2.39" fill="#3685bf"/>
<rect x="628.1" y="191.58" width="12.1" height="2.39" fill="#3c8cc3"/>
<rect x="628.1" y="193.37" width="12.1" height="2.39" fill="#4393c6"/>
<rect x="628.1" y="195.16" width="12.1" height="2.39" fill="#4f9bcb"/>
<rect x="628.1" y="196.95" width="12.1" height="2.39" fill="#5ba3cf"/>
<rect x="628.1" y="198.74" width="12.1" height="2.39" fill="#67abd3"/>
<rect x="628.1" y="200.53" width="12.1" height="2.39" fill="#73b3d8"/>
<rect x="628.1" y="202.32" width="12.1" height="2.39" fill="#81badb"/>
<rect x="628.1" y="204.11" width="12.1" height="2.39" fill="#8fc1df"/>
<rect x="628.1" y="205.90" width="12.1" height="2.39" fill="#9dc8e2"/>
<rect x="628.1" y="207.69" width="12.1" height="2.39" fill="#aad0e5"/>
<rect x="628.1" y="209.48" width="12.1" height="2.39" fill="#b5d5e8"/>
<rect x="628.1" y="211.28" width="12.1" height="2.39" fill="#c0daeb"/>
<rect x="628.1" y="213.07" width="12.1" height="2.39" fill="#cbdfee"/>
<rect x="628.1" y="214.86" width="12.1" height="2.39" fill="#d5e4f0"/>
<rect x="628.1" y="216.65" width="12.1" height="2.39" fill="#dce8f2"/>
<rect x="628.1" y="218.44" width="12.1" height="2.39" fill="#e3ecf4"/>
<rect x="628.1" y="220.23" width="12.1" height="2.39" fill="#eaf0f6"/>
<rect x="628.1" y="222.02" width="12.1" height="2.39" fill="#f0f2f4"/>
<rect x="628.1" y="223.81" width="12.1" height="2.39" fill="#f5f5f2"/>
<rect x="628.1" y="225.60" width="12.1" height="2.39" fill="#f9f5ed"/>
<rect x="628.1" y="227.39" width="12.1" height="2.39" fill="#faf2e5"/>
<rect x="628.1" y="229.18" width="12.1" height="2.39" fill="#fbf0dc"/>
<rect x="628.1" y="230.97" width="12.1" height="2.39" fill="#f9ebce"/>
<rect x="628.1" y="232.76" width="12.1" height="2.39" fill="#f6e5be"/>
<rect x="628.1" y="234.55" width="12.1" height="2.39" fill="#f4dfaf"/>
<rect x="628.1" y="236.34" width="12.1" height="2.39" fill="#f0d8a0"/>
<rect x="628.1" y="238.13" width="12.1" height="2.39" fill="#ecd192"/>
<rect x="628.1" y="239.93" width="12.1" height="2.39" fill="#e8c984"/>
<rect x="628.1" y="241.72" width="12.1" height="2.39" fill="#e3c275"/>
<rect x="628.1" y="243.51" width="12.1" height="2.39" fill="#deb868"/>
<rect x="628.1" y="245.30" width="12.1" height="2.39" fill="#d9af5b"/>
<rect x="628.1" y="247.09" width="12.1" height="2.39" fill="#d4a54d"/>
<rect x="628.1" y="248.88" width="12.1" height="2.39" fill="#cf9c41"/>
<rect x="628.1" y="250.67" width="12.1" height="2.39" fill="#c99439"/>
<rect x="628.1" y="252.46" width="12.1" height="2.39" fill="#c38c31"/>
<rect x="628.1" y="254.25" width="12.1" height="2.39" fill="#bd8429"/>
<rect x="628.1" y="256.04" width="12.1" height="2.39" fill="#b77d21"/>
<rect x="628.1" y="257.83" width="12.1" height="2.39" fill="#b0761d"/>
<rect x="628.1" y="259.62" width="12.1" height="2.39" fill="#aa701a"/>
<rect x="628.1" y="261.41" width="12.1" height="2.39" fill="#a46a16"/>
<rect x="628.1" y="263.20" width="12.1" height="2.39" fill="#9e6413"/>
<rect x="628.1" y="264.99" width="12.1" height="2.39" fill="#975e10"/>
<rect x="628.1" y="266.78" width="12.1" height="2.39" fill="#91590f"/>
<rect x="628.1" y="268.57" width="12.1" height="2.39" fill="#8b540e"/>
<rect x="628.1" y="270.37" width="12.1" height="2.39" fill="#85500d"/>
<rect x="628.1" y="272.16" width="12.1" height="2.39" fill="#7e4b0c"/>
<rect x="628.1" y="273.95" width="12.1" height="2.39" fill="#78470b"/>
<rect x="628.1" y="275.74" width="12.1" height="2.39" fill="#71420a"/>
<rect x="628.1" y="277.53" width="12.1" height="2.39" fill="#6b3e09"/>
<rect x="628.1" y="279.32" width="12.1" height="2.39" fill="#643a08"/>
<rect x="628.1" y="281.11" width="12.1" height="2.39" fill="#5d3507"/>
</g>
<rect x="628.1" y="168.3" width="12.1" height="114.6" fill="none" stroke="#555" stroke-width="0.6"/>
<line x1="638.7" x2="640.2" y1="168.8" y2="168.8" stroke="#444" stroke-width="0.5"/>
<text x="643.4" y="172.7" font-size="11" fill="#262626">0.6</text>
<line x1="638.7" x2="640.2" y1="197.3" y2="197.3" stroke="#444" stroke-width="0.5"/>
<text x="643.4" y="201.2" font-size="11" fill="#262626">0.3</text>
<line x1="638.7" x2="640.2" y1="225.9" y2="225.9" stroke="#444" stroke-width="0.5"/>
<text x="643.4" y="229.8" font-size="11" fill="#262626">0</text>
<line x1="638.7" x2="640.2" y1="254.4" y2="254.4" stroke="#444" stroke-width="0.5"/>
<text x="643.4" y="258.3" font-size="11" fill="#262626">-0.3</text>
<line x1="638.7" x2="640.2" y1="282.9" y2="282.9" stroke="#444" stroke-width="0.5"/>
<text x="643.4" y="286.8" font-size="11" fill="#262626">-0.6</text>
<text transform="translate(676.0 225.6) rotate(-90)" font-size="10.5" fill="#262626" text-anchor="middle">mm day<tspan dy="-3.6" font-size="6.3">-1</tspan></text>
<rect x="55.0" y="392.5" width="30.8" height="69.9" fill="#3048f0"/>
<path d="M70.4 392.5V362.6M65.8 362.6H75.0" stroke="#000" stroke-width="1.5" fill="none"/>
<text x="70.4" y="364.5" font-size="13.5" text-anchor="middle" fill="#000">**</text>
<rect x="106.2" y="411.6" width="30.8" height="50.8" fill="#86c8f7"/>
<path d="M121.6 411.6V399.2M117.0 399.2H126.2" stroke="#000" stroke-width="1.5" fill="none"/>
<text x="121.6" y="401.1" font-size="13.5" text-anchor="middle" fill="#000">**</text>
<rect x="157.9" y="443.3" width="30.8" height="19.1" fill="#54b83a"/>
<path d="M173.3 443.3V422.0M168.7 422.0H177.9" stroke="#000" stroke-width="1.5" fill="none"/>
<text x="173.3" y="423.9" font-size="13.5" text-anchor="middle" fill="#000">**</text>
<rect x="235.0" y="405.6" width="30.2" height="56.8" fill="#d6bb1f"/>
<path d="M250.1 405.6V382.6M245.5 382.6H254.7" stroke="#000" stroke-width="1.5" fill="none"/>
<text x="250.1" y="384.5" font-size="13.5" text-anchor="middle" fill="#000">**</text>
<path d="M40.0 462.4V316.3H281.5" stroke="#b8b8b8" stroke-width="1" fill="none"/>
<path d="M40.0 462.4H281.5V316.3" stroke="#c9b23a" stroke-width="1" fill="none"/>
<line x1="40.0" x2="42.4" y1="462.4" y2="462.4" stroke="#b8b8b8" stroke-width="0.8"/>
<text x="36.3" y="466.5" font-size="11" text-anchor="end" fill="#262626">0</text>
<line x1="40.0" x2="42.4" y1="430.6" y2="430.6" stroke="#b8b8b8" stroke-width="0.8"/>
<text x="36.3" y="434.7" font-size="11" text-anchor="end" fill="#262626">0.05</text>
<line x1="40.0" x2="42.4" y1="398.8" y2="398.8" stroke="#b8b8b8" stroke-width="0.8"/>
<text x="36.3" y="402.9" font-size="11" text-anchor="end" fill="#262626">0.1</text>
<line x1="40.0" x2="42.4" y1="367.1" y2="367.1" stroke="#b8b8b8" stroke-width="0.8"/>
<text x="36.3" y="371.2" font-size="11" text-anchor="end" fill="#262626">0.15</text>
<line x1="40.0" x2="42.4" y1="335.3" y2="335.3" stroke="#b8b8b8" stroke-width="0.8"/>
<text x="36.3" y="339.4" font-size="11" text-anchor="end" fill="#262626">0.2</text>
<line x1="281.5" x2="284.1" y1="462.4" y2="462.4" stroke="#c9b23a" stroke-width="0.8"/>
<text x="286.4" y="466.3" font-size="11" fill="#c9b23a">-0</text>
<line x1="281.5" x2="284.1" y1="430.6" y2="430.6" stroke="#c9b23a" stroke-width="0.8"/>
<text x="286.4" y="434.5" font-size="11" fill="#c9b23a">-5</text>
<line x1="281.5" x2="284.1" y1="398.8" y2="398.8" stroke="#c9b23a" stroke-width="0.8"/>
<text x="286.4" y="402.7" font-size="11" fill="#c9b23a">-10</text>
<line x1="281.5" x2="284.1" y1="367.1" y2="367.1" stroke="#c9b23a" stroke-width="0.8"/>
<text x="286.4" y="371.0" font-size="11" fill="#c9b23a">-15</text>
<line x1="281.5" x2="284.1" y1="335.3" y2="335.3" stroke="#c9b23a" stroke-width="0.8"/>
<text x="286.4" y="339.2" font-size="11" fill="#c9b23a">-20</text>
<line x1="70.4" x2="70.4" y1="316.3" y2="318.7" stroke="#b8b8b8" stroke-width="0.8"/>
<text x="70.4" y="477.6" font-size="11" text-anchor="middle" fill="#262626">P</text>
<text x="70.4" y="330.6" font-size="11" text-anchor="middle" fill="#262626">4.2%</text>
<line x1="121.6" x2="121.6" y1="316.3" y2="318.7" stroke="#b8b8b8" stroke-width="0.8"/>
<text x="121.6" y="477.6" font-size="11" text-anchor="middle" fill="#262626">ET</text>
<text x="121.6" y="330.6" font-size="11" text-anchor="middle" fill="#262626">5.3%</text>
<line x1="173.3" x2="173.3" y1="316.3" y2="318.7" stroke="#b8b8b8" stroke-width="0.8"/>
<text x="173.3" y="477.6" font-size="11" text-anchor="middle" fill="#262626">R</text>
<text x="173.3" y="330.6" font-size="11" text-anchor="middle" fill="#262626">2.8%</text>
<line x1="250.1" x2="250.1" y1="316.3" y2="318.7" stroke="#b8b8b8" stroke-width="0.8"/>
<text x="250.1" y="477.6" font-size="11" text-anchor="middle" fill="#262626">SM</text>
<text x="250.1" y="330.6" font-size="11" text-anchor="middle" fill="#262626">-2.7%</text>
<line x1="211.5" x2="211.5" y1="318.1" y2="462.4" stroke="#555" stroke-width="0.8" stroke-dasharray="9 5.1"/>
<text transform="translate(7.8 387.8) rotate(-90)" letter-spacing="0.33" font-size="11" text-anchor="middle" fill="#262626">ΔP, ΔET, ΔR (mm day<tspan dy="-3.4" font-size="6">-1</tspan><tspan dy="3.4">)</tspan></text>
<text transform="translate(319.7 392) rotate(-90)" font-size="10.9" text-anchor="middle" fill="#c9b23a">ΔSM (kg m<tspan dy="-3.4" font-size="6">-2</tspan><tspan dy="3.4">)</tspan></text>
<rect x="438.5" y="315.5" width="180.0" height="147.0" fill="none" stroke="#454545" stroke-width="1"/>
<path d="M448.4 462.5v-2.2M448.4 315.5v2.2" stroke="#666" stroke-width="0.7"/>
<text x="447.7" y="476.6" font-size="10.8" text-anchor="middle" fill="#262626">-10</text>
<path d="M468.4 462.5v-2.2M468.4 315.5v2.2" stroke="#666" stroke-width="0.7"/>
<text x="467.7" y="476.6" font-size="10.8" text-anchor="middle" fill="#262626">-5</text>
<path d="M488.4 462.5v-2.2M488.4 315.5v2.2" stroke="#666" stroke-width="0.7"/>
<text x="488.6" y="476.6" font-size="10.8" text-anchor="middle" fill="#262626">0</text>
<path d="M508.4 462.5v-2.2M508.4 315.5v2.2" stroke="#666" stroke-width="0.7"/>
<text x="508.6" y="476.6" font-size="10.8" text-anchor="middle" fill="#262626">5</text>
<path d="M528.4 462.5v-2.2M528.4 315.5v2.2" stroke="#666" stroke-width="0.7"/>
<text x="528.6" y="476.6" font-size="10.8" text-anchor="middle" fill="#262626">10</text>
<path d="M548.4 462.5v-2.2M548.4 315.5v2.2" stroke="#666" stroke-width="0.7"/>
<text x="548.6" y="476.6" font-size="10.8" text-anchor="middle" fill="#262626">15</text>
<path d="M568.4 462.5v-2.2M568.4 315.5v2.2" stroke="#666" stroke-width="0.7"/>
<text x="568.6" y="476.6" font-size="10.8" text-anchor="middle" fill="#262626">20</text>
<path d="M588.4 462.5v-2.2M588.4 315.5v2.2" stroke="#666" stroke-width="0.7"/>
<text x="588.6" y="476.6" font-size="10.8" text-anchor="middle" fill="#262626">25</text>
<path d="M608.4 462.5v-2.2M608.4 315.5v2.2" stroke="#666" stroke-width="0.7"/>
<text x="608.6" y="476.6" font-size="10.8" text-anchor="middle" fill="#262626">30</text>
<path d="M438.5 453.8h2.2M618.5 453.8h-2.2" stroke="#666" stroke-width="0.7"/>
<text x="433.6" y="457.7" font-size="10.8" text-anchor="end" fill="#262626">0</text>
<path d="M438.5 432.7h2.2M618.5 432.7h-2.2" stroke="#666" stroke-width="0.7"/>
<text x="433.6" y="436.6" font-size="10.8" text-anchor="end" fill="#262626">0.5</text>
<path d="M438.5 411.6h2.2M618.5 411.6h-2.2" stroke="#666" stroke-width="0.7"/>
<text x="433.6" y="415.5" font-size="10.8" text-anchor="end" fill="#262626">1</text>
<path d="M438.5 390.5h2.2M618.5 390.5h-2.2" stroke="#666" stroke-width="0.7"/>
<text x="433.6" y="394.4" font-size="10.8" text-anchor="end" fill="#262626">1.5</text>
<path d="M438.5 369.4h2.2M618.5 369.4h-2.2" stroke="#666" stroke-width="0.7"/>
<text x="433.6" y="373.3" font-size="10.8" text-anchor="end" fill="#262626">2</text>
<path d="M438.5 348.3h2.2M618.5 348.3h-2.2" stroke="#666" stroke-width="0.7"/>
<text x="433.6" y="352.2" font-size="10.8" text-anchor="end" fill="#262626">2.5</text>
<path d="M438.5 327.2h2.2M618.5 327.2h-2.2" stroke="#666" stroke-width="0.7"/>
<text x="433.6" y="331.1" font-size="10.8" text-anchor="end" fill="#262626">3</text>
<polygon points="453.1,444.1 458.1,446.9 458.1,452.5 453.1,455.3 448.1,452.5 448.1,446.9" fill="#c6dcee" stroke="#adadad" stroke-width="1.45" stroke-linejoin="round"/>
<polygon points="463.1,444.1 468.1,446.9 468.1,452.5 463.1,455.3 458.1,452.5 458.1,446.9" fill="#c6dcee" stroke="#adadad" stroke-width="1.45" stroke-linejoin="round"/>
<polygon points="473.1,444.1 478.1,446.9 478.1,452.5 473.1,455.3 468.1,452.5 468.1,446.9" fill="#fbf0de" stroke="#adadad" stroke-width="1.45" stroke-linejoin="round"/>
<polygon points="483.1,444.1 488.1,446.9 488.1,452.5 483.1,455.3 478.1,452.5 478.1,446.9" fill="#e8cf8a" stroke="#adadad" stroke-width="1.45" stroke-linejoin="round"/>
<polygon points="493.1,444.1 498.1,446.9 498.1,452.5 493.1,455.3 488.1,452.5 488.1,446.9" fill="#f6f3ee" stroke="#adadad" stroke-width="1.45" stroke-linejoin="round"/>
<polygon points="503.1,444.1 508.1,446.9 508.1,452.5 503.1,455.3 498.1,452.5 498.1,446.9" fill="#dfb968" stroke="#adadad" stroke-width="1.45" stroke-linejoin="round"/>
<polygon points="513.1,444.1 518.1,446.9 518.1,452.5 513.1,455.3 508.1,452.5 508.1,446.9" fill="#f5e3b6" stroke="#adadad" stroke-width="1.45" stroke-linejoin="round"/>
<polygon points="583.1,444.1 588.1,446.9 588.1,452.5 583.1,455.3 578.1,452.5 578.1,446.9" fill="#123f85" stroke="#adadad" stroke-width="1.45" stroke-linejoin="round"/>
<polygon points="593.1,444.1 598.1,446.9 598.1,452.5 593.1,455.3 588.1,452.5 588.1,446.9" fill="#123f85" stroke="#adadad" stroke-width="1.45" stroke-linejoin="round"/>
<polygon points="458.1,435.6 463.1,438.4 463.1,444.1 458.1,446.9 453.1,444.1 453.1,438.4" fill="#d6e6f3" stroke="#adadad" stroke-width="1.45" stroke-linejoin="round"/>
<polygon points="468.1,435.6 473.1,438.4 473.1,444.1 468.1,446.9 463.1,444.1 463.1,438.4" fill="#e6eff8" stroke="#adadad" stroke-width="1.45" stroke-linejoin="round"/>
<polygon points="478.1,435.6 483.1,438.4 483.1,444.1 478.1,446.9 473.1,444.1 473.1,438.4" fill="#f0f5fa" stroke="#adadad" stroke-width="1.45" stroke-linejoin="round"/>
<polygon points="488.1,435.6 493.1,438.4 493.1,444.1 488.1,446.9 483.1,444.1 483.1,438.4" fill="#f5e3b6" stroke="#adadad" stroke-width="1.45" stroke-linejoin="round"/>
<polygon points="498.1,435.6 503.1,438.4 503.1,444.1 498.1,446.9 493.1,444.1 493.1,438.4" fill="#f5e3b6" stroke="#adadad" stroke-width="1.45" stroke-linejoin="round"/>
<polygon points="508.1,435.6 513.1,438.4 513.1,444.1 508.1,446.9 503.1,444.1 503.1,438.4" fill="#fbf0de" stroke="#adadad" stroke-width="1.45" stroke-linejoin="round"/>
<polygon points="518.1,435.6 523.1,438.4 523.1,444.1 518.1,446.9 513.1,444.1 513.1,438.4" fill="#fbf0de" stroke="#adadad" stroke-width="1.45" stroke-linejoin="round"/>
<polygon points="528.1,435.6 533.1,438.4 533.1,444.1 528.1,446.9 523.1,444.1 523.1,438.4" fill="#f5e3b6" stroke="#adadad" stroke-width="1.45" stroke-linejoin="round"/>
<polygon points="588.1,435.6 593.1,438.4 593.1,444.1 588.1,446.9 583.1,444.1 583.1,438.4" fill="#c6dcee" stroke="#adadad" stroke-width="1.45" stroke-linejoin="round"/>
<polygon points="598.1,435.6 603.1,438.4 603.1,444.1 598.1,446.9 593.1,444.1 593.1,438.4" fill="#123f85" stroke="#adadad" stroke-width="1.45" stroke-linejoin="round"/>
<polygon points="608.1,435.6 613.1,438.4 613.1,444.1 608.1,446.9 603.1,444.1 603.1,438.4" fill="#123f85" stroke="#adadad" stroke-width="1.45" stroke-linejoin="round"/>
<polygon points="453.1,427.2 458.1,430.0 458.1,435.6 453.1,438.4 448.1,435.6 448.1,430.0" fill="#e6eff8" stroke="#adadad" stroke-width="1.45" stroke-linejoin="round"/>
<polygon points="463.1,427.2 468.1,430.0 468.1,435.6 463.1,438.4 458.1,435.6 458.1,430.0" fill="#d6e6f3" stroke="#adadad" stroke-width="1.45" stroke-linejoin="round"/>
<polygon points="473.1,427.2 478.1,430.0 478.1,435.6 473.1,438.4 468.1,435.6 468.1,430.0" fill="#f6f3ee" stroke="#adadad" stroke-width="1.45" stroke-linejoin="round"/>
<polygon points="483.1,427.2 488.1,430.0 488.1,435.6 483.1,438.4 478.1,435.6 478.1,430.0" fill="#f6f3ee" stroke="#adadad" stroke-width="1.45" stroke-linejoin="round"/>
<polygon points="493.1,427.2 498.1,430.0 498.1,435.6 493.1,438.4 488.1,435.6 488.1,430.0" fill="#e8cf8a" stroke="#adadad" stroke-width="1.45" stroke-linejoin="round"/>
<polygon points="503.1,427.2 508.1,430.0 508.1,435.6 503.1,438.4 498.1,435.6 498.1,430.0" fill="#f5e3b6" stroke="#adadad" stroke-width="1.45" stroke-linejoin="round"/>
<polygon points="513.1,427.2 518.1,430.0 518.1,435.6 513.1,438.4 508.1,435.6 508.1,430.0" fill="#c6dcee" stroke="#adadad" stroke-width="1.45" stroke-linejoin="round"/>
<polygon points="523.1,427.2 528.1,430.0 528.1,435.6 523.1,438.4 518.1,435.6 518.1,430.0" fill="#6baed6" stroke="#adadad" stroke-width="1.45" stroke-linejoin="round"/>
<polygon points="533.1,427.2 538.1,430.0 538.1,435.6 533.1,438.4 528.1,435.6 528.1,430.0" fill="#f6f3ee" stroke="#adadad" stroke-width="1.45" stroke-linejoin="round"/>
<polygon points="543.1,427.2 548.1,430.0 548.1,435.6 543.1,438.4 538.1,435.6 538.1,430.0" fill="#c6dcee" stroke="#adadad" stroke-width="1.45" stroke-linejoin="round"/>
<polygon points="553.1,427.2 558.1,430.0 558.1,435.6 553.1,438.4 548.1,435.6 548.1,430.0" fill="#e6eff8" stroke="#adadad" stroke-width="1.45" stroke-linejoin="round"/>
<polygon points="563.1,427.2 568.1,430.0 568.1,435.6 563.1,438.4 558.1,435.6 558.1,430.0" fill="#4a98c9" stroke="#adadad" stroke-width="1.45" stroke-linejoin="round"/>
<polygon points="573.1,427.2 578.1,430.0 578.1,435.6 573.1,438.4 568.1,435.6 568.1,430.0" fill="#1f5aa6" stroke="#adadad" stroke-width="1.45" stroke-linejoin="round"/>
<polygon points="583.1,427.2 588.1,430.0 588.1,435.6 583.1,438.4 578.1,435.6 578.1,430.0" fill="#a6cee3" stroke="#adadad" stroke-width="1.45" stroke-linejoin="round"/>
<polygon points="593.1,427.2 598.1,430.0 598.1,435.6 593.1,438.4 588.1,435.6 588.1,430.0" fill="#a6cee3" stroke="#adadad" stroke-width="1.45" stroke-linejoin="round"/>
<polygon points="603.1,427.2 608.1,430.0 608.1,435.6 603.1,438.4 598.1,435.6 598.1,430.0" fill="#123f85" stroke="#adadad" stroke-width="1.45" stroke-linejoin="round"/>
<polygon points="458.1,418.7 463.1,421.5 463.1,427.2 458.1,430.0 453.1,427.2 453.1,421.5" fill="#e6eff8" stroke="#adadad" stroke-width="1.45" stroke-linejoin="round"/>
<polygon points="468.1,418.7 473.1,421.5 473.1,427.2 468.1,430.0 463.1,427.2 463.1,421.5" fill="#e6eff8" stroke="#adadad" stroke-width="1.45" stroke-linejoin="round"/>
<polygon points="478.1,418.7 483.1,421.5 483.1,427.2 478.1,430.0 473.1,427.2 473.1,421.5" fill="#f6f3ee" stroke="#adadad" stroke-width="1.45" stroke-linejoin="round"/>
<polygon points="488.1,418.7 493.1,421.5 493.1,427.2 488.1,430.0 483.1,427.2 483.1,421.5" fill="#fbf0de" stroke="#adadad" stroke-width="1.45" stroke-linejoin="round"/>
<polygon points="498.1,418.7 503.1,421.5 503.1,427.2 498.1,430.0 493.1,427.2 493.1,421.5" fill="#f5e3b6" stroke="#adadad" stroke-width="1.45" stroke-linejoin="round"/>
<polygon points="508.1,418.7 513.1,421.5 513.1,427.2 508.1,430.0 503.1,427.2 503.1,421.5" fill="#f5e3b6" stroke="#adadad" stroke-width="1.45" stroke-linejoin="round"/>
<polygon points="518.1,418.7 523.1,421.5 523.1,427.2 518.1,430.0 513.1,427.2 513.1,421.5" fill="#fbf0de" stroke="#adadad" stroke-width="1.45" stroke-linejoin="round"/>
<polygon points="528.1,418.7 533.1,421.5 533.1,427.2 528.1,430.0 523.1,427.2 523.1,421.5" fill="#e6eff8" stroke="#adadad" stroke-width="1.45" stroke-linejoin="round"/>
<polygon points="538.1,418.7 543.1,421.5 543.1,427.2 538.1,430.0 533.1,427.2 533.1,421.5" fill="#e6eff8" stroke="#adadad" stroke-width="1.45" stroke-linejoin="round"/>
<polygon points="548.1,418.7 553.1,421.5 553.1,427.2 548.1,430.0 543.1,427.2 543.1,421.5" fill="#d6e6f3" stroke="#adadad" stroke-width="1.45" stroke-linejoin="round"/>
<polygon points="558.1,418.7 563.1,421.5 563.1,427.2 558.1,430.0 553.1,427.2 553.1,421.5" fill="#fbf0de" stroke="#adadad" stroke-width="1.45" stroke-linejoin="round"/>
<polygon points="568.1,418.7 573.1,421.5 573.1,427.2 568.1,430.0 563.1,427.2 563.1,421.5" fill="#f5e3b6" stroke="#adadad" stroke-width="1.45" stroke-linejoin="round"/>
<polygon points="578.1,418.7 583.1,421.5 583.1,427.2 578.1,430.0 573.1,427.2 573.1,421.5" fill="#dfb968" stroke="#adadad" stroke-width="1.45" stroke-linejoin="round"/>
<polygon points="588.1,418.7 593.1,421.5 593.1,427.2 588.1,430.0 583.1,427.2 583.1,421.5" fill="#fbf0de" stroke="#adadad" stroke-width="1.45" stroke-linejoin="round"/>
<polygon points="598.1,418.7 603.1,421.5 603.1,427.2 598.1,430.0 593.1,427.2 593.1,421.5" fill="#4a98c9" stroke="#adadad" stroke-width="1.45" stroke-linejoin="round"/>
<polygon points="608.1,418.7 613.1,421.5 613.1,427.2 608.1,430.0 603.1,427.2 603.1,421.5" fill="#123f85" stroke="#adadad" stroke-width="1.45" stroke-linejoin="round"/>
<polygon points="453.1,410.3 458.1,413.1 458.1,418.7 453.1,421.5 448.1,418.7 448.1,413.1" fill="#f0f5fa" stroke="#adadad" stroke-width="1.45" stroke-linejoin="round"/>
<polygon points="463.1,410.3 468.1,413.1 468.1,418.7 463.1,421.5 458.1,418.7 458.1,413.1" fill="#e6eff8" stroke="#adadad" stroke-width="1.45" stroke-linejoin="round"/>
<polygon points="473.1,410.3 478.1,413.1 478.1,418.7 473.1,421.5 468.1,418.7 468.1,413.1" fill="#f6f3ee" stroke="#adadad" stroke-width="1.45" stroke-linejoin="round"/>
<polygon points="483.1,410.3 488.1,413.1 488.1,418.7 483.1,421.5 478.1,418.7 478.1,413.1" fill="#f5e3b6" stroke="#adadad" stroke-width="1.45" stroke-linejoin="round"/>
<polygon points="493.1,410.3 498.1,413.1 498.1,418.7 493.1,421.5 488.1,418.7 488.1,413.1" fill="#fbf0de" stroke="#adadad" stroke-width="1.45" stroke-linejoin="round"/>
<polygon points="503.1,410.3 508.1,413.1 508.1,418.7 503.1,421.5 498.1,418.7 498.1,413.1" fill="#fbf0de" stroke="#adadad" stroke-width="1.45" stroke-linejoin="round"/>
<polygon points="513.1,410.3 518.1,413.1 518.1,418.7 513.1,421.5 508.1,418.7 508.1,413.1" fill="#fbf0de" stroke="#adadad" stroke-width="1.45" stroke-linejoin="round"/>
<polygon points="523.1,410.3 528.1,413.1 528.1,418.7 523.1,421.5 518.1,418.7 518.1,413.1" fill="#efd9a0" stroke="#adadad" stroke-width="1.45" stroke-linejoin="round"/>
<polygon points="533.1,410.3 538.1,413.1 538.1,418.7 533.1,421.5 528.1,418.7 528.1,413.1" fill="#f5e3b6" stroke="#adadad" stroke-width="1.45" stroke-linejoin="round"/>
<polygon points="543.1,410.3 548.1,413.1 548.1,418.7 543.1,421.5 538.1,418.7 538.1,413.1" fill="#e6eff8" stroke="#adadad" stroke-width="1.45" stroke-linejoin="round"/>
<polygon points="553.1,410.3 558.1,413.1 558.1,418.7 553.1,421.5 548.1,418.7 548.1,413.1" fill="#c6dcee" stroke="#adadad" stroke-width="1.45" stroke-linejoin="round"/>
<polygon points="563.1,410.3 568.1,413.1 568.1,418.7 563.1,421.5 558.1,418.7 558.1,413.1" fill="#b5651d" stroke="#adadad" stroke-width="1.45" stroke-linejoin="round"/>
<polygon points="573.1,410.3 578.1,413.1 578.1,418.7 573.1,421.5 568.1,418.7 568.1,413.1" fill="#f0f5fa" stroke="#adadad" stroke-width="1.45" stroke-linejoin="round"/>
<polygon points="583.1,410.3 588.1,413.1 588.1,418.7 583.1,421.5 578.1,418.7 578.1,413.1" fill="#fbf0de" stroke="#adadad" stroke-width="1.45" stroke-linejoin="round"/>
<polygon points="593.1,410.3 598.1,413.1 598.1,418.7 593.1,421.5 588.1,418.7 588.1,413.1" fill="#123f85" stroke="#adadad" stroke-width="1.45" stroke-linejoin="round"/>
<polygon points="603.1,410.3 608.1,413.1 608.1,418.7 603.1,421.5 598.1,418.7 598.1,413.1" fill="#123f85" stroke="#adadad" stroke-width="1.45" stroke-linejoin="round"/>
<polygon points="458.1,401.8 463.1,404.6 463.1,410.3 458.1,413.1 453.1,410.3 453.1,404.6" fill="#f6f3ee" stroke="#adadad" stroke-width="1.45" stroke-linejoin="round"/>
<polygon points="478.1,401.8 483.1,404.6 483.1,410.3 478.1,413.1 473.1,410.3 473.1,404.6" fill="#e6eff8" stroke="#adadad" stroke-width="1.45" stroke-linejoin="round"/>
<polygon points="488.1,401.8 493.1,404.6 493.1,410.3 488.1,413.1 483.1,410.3 483.1,404.6" fill="#e6eff8" stroke="#adadad" stroke-width="1.45" stroke-linejoin="round"/>
<polygon points="498.1,401.8 503.1,404.6 503.1,410.3 498.1,413.1 493.1,410.3 493.1,404.6" fill="#f6f3ee" stroke="#adadad" stroke-width="1.45" stroke-linejoin="round"/>
<polygon points="508.1,401.8 513.1,404.6 513.1,410.3 508.1,413.1 503.1,410.3 503.1,404.6" fill="#fbf0de" stroke="#adadad" stroke-width="1.45" stroke-linejoin="round"/>
<polygon points="518.1,401.8 523.1,404.6 523.1,410.3 518.1,413.1 513.1,410.3 513.1,404.6" fill="#f5e3b6" stroke="#adadad" stroke-width="1.45" stroke-linejoin="round"/>
<polygon points="528.1,401.8 533.1,404.6 533.1,410.3 528.1,413.1 523.1,410.3 523.1,404.6" fill="#efd9a0" stroke="#adadad" stroke-width="1.45" stroke-linejoin="round"/>
<polygon points="538.1,401.8 543.1,404.6 543.1,410.3 538.1,413.1 533.1,410.3 533.1,404.6" fill="#fbf0de" stroke="#adadad" stroke-width="1.45" stroke-linejoin="round"/>
<polygon points="548.1,401.8 553.1,404.6 553.1,410.3 548.1,413.1 543.1,410.3 543.1,404.6" fill="#f5e3b6" stroke="#adadad" stroke-width="1.45" stroke-linejoin="round"/>
<polygon points="558.1,401.8 563.1,404.6 563.1,410.3 558.1,413.1 553.1,410.3 553.1,404.6" fill="#fbf0de" stroke="#adadad" stroke-width="1.45" stroke-linejoin="round"/>
<polygon points="568.1,401.8 573.1,404.6 573.1,410.3 568.1,413.1 563.1,410.3 563.1,404.6" fill="#e6eff8" stroke="#adadad" stroke-width="1.45" stroke-linejoin="round"/>
<polygon points="578.1,401.8 583.1,404.6 583.1,410.3 578.1,413.1 573.1,410.3 573.1,404.6" fill="#d9a652" stroke="#adadad" stroke-width="1.45" stroke-linejoin="round"/>
<polygon points="588.1,401.8 593.1,404.6 593.1,410.3 588.1,413.1 583.1,410.3 583.1,404.6" fill="#c6dcee" stroke="#adadad" stroke-width="1.45" stroke-linejoin="round"/>
<polygon points="598.1,401.8 603.1,404.6 603.1,410.3 598.1,413.1 593.1,410.3 593.1,404.6" fill="#85bfe0" stroke="#adadad" stroke-width="1.45" stroke-linejoin="round"/>
<polygon points="608.1,401.8 613.1,404.6 613.1,410.3 608.1,413.1 603.1,410.3 603.1,404.6" fill="#123f85" stroke="#adadad" stroke-width="1.45" stroke-linejoin="round"/>
<polygon points="453.1,393.4 458.1,396.2 458.1,401.8 453.1,404.6 448.1,401.8 448.1,396.2" fill="#f0f5fa" stroke="#adadad" stroke-width="1.45" stroke-linejoin="round"/>
<polygon points="503.1,393.4 508.1,396.2 508.1,401.8 503.1,404.6 498.1,401.8 498.1,396.2" fill="#f6f3ee" stroke="#adadad" stroke-width="1.45" stroke-linejoin="round"/>
<polygon points="513.1,393.4 518.1,396.2 518.1,401.8 513.1,404.6 508.1,401.8 508.1,396.2" fill="#f5e3b6" stroke="#adadad" stroke-width="1.45" stroke-linejoin="round"/>
<polygon points="523.1,393.4 528.1,396.2 528.1,401.8 523.1,404.6 518.1,401.8 518.1,396.2" fill="#e8cf8a" stroke="#adadad" stroke-width="1.45" stroke-linejoin="round"/>
<polygon points="533.1,393.4 538.1,396.2 538.1,401.8 533.1,404.6 528.1,401.8 528.1,396.2" fill="#e8cf8a" stroke="#adadad" stroke-width="1.45" stroke-linejoin="round"/>
<polygon points="543.1,393.4 548.1,396.2 548.1,401.8 543.1,404.6 538.1,401.8 538.1,396.2" fill="#efd9a0" stroke="#adadad" stroke-width="1.45" stroke-linejoin="round"/>
<polygon points="553.1,393.4 558.1,396.2 558.1,401.8 553.1,404.6 548.1,401.8 548.1,396.2" fill="#e6eff8" stroke="#adadad" stroke-width="1.45" stroke-linejoin="round"/>
<polygon points="563.1,393.4 568.1,396.2 568.1,401.8 563.1,404.6 558.1,401.8 558.1,396.2" fill="#e6eff8" stroke="#adadad" stroke-width="1.45" stroke-linejoin="round"/>
<polygon points="573.1,393.4 578.1,396.2 578.1,401.8 573.1,404.6 568.1,401.8 568.1,396.2" fill="#e6eff8" stroke="#adadad" stroke-width="1.45" stroke-linejoin="round"/>
<polygon points="583.1,393.4 588.1,396.2 588.1,401.8 583.1,404.6 578.1,401.8 578.1,396.2" fill="#e6eff8" stroke="#adadad" stroke-width="1.45" stroke-linejoin="round"/>
<polygon points="593.1,393.4 598.1,396.2 598.1,401.8 593.1,404.6 588.1,401.8 588.1,396.2" fill="#a6cee3" stroke="#adadad" stroke-width="1.45" stroke-linejoin="round"/>
<polygon points="603.1,393.4 608.1,396.2 608.1,401.8 603.1,404.6 598.1,401.8 598.1,396.2" fill="#123f85" stroke="#adadad" stroke-width="1.45" stroke-linejoin="round"/>
<polygon points="518.1,384.9 523.1,387.7 523.1,393.4 518.1,396.2 513.1,393.4 513.1,387.7" fill="#fbf0de" stroke="#adadad" stroke-width="1.45" stroke-linejoin="round"/>
<polygon points="528.1,384.9 533.1,387.7 533.1,393.4 528.1,396.2 523.1,393.4 523.1,387.7" fill="#fbf0de" stroke="#adadad" stroke-width="1.45" stroke-linejoin="round"/>
<polygon points="538.1,384.9 543.1,387.7 543.1,393.4 538.1,396.2 533.1,393.4 533.1,387.7" fill="#ffffff" stroke="#adadad" stroke-width="1.45" stroke-linejoin="round"/>
<polygon points="548.1,384.9 553.1,387.7 553.1,393.4 548.1,396.2 543.1,393.4 543.1,387.7" fill="#d09238" stroke="#adadad" stroke-width="1.45" stroke-linejoin="round"/>
<polygon points="558.1,384.9 563.1,387.7 563.1,393.4 558.1,396.2 553.1,393.4 553.1,387.7" fill="#e6eff8" stroke="#adadad" stroke-width="1.45" stroke-linejoin="round"/>
<polygon points="568.1,384.9 573.1,387.7 573.1,393.4 568.1,396.2 563.1,393.4 563.1,387.7" fill="#c6dcee" stroke="#adadad" stroke-width="1.45" stroke-linejoin="round"/>
<polygon points="578.1,384.9 583.1,387.7 583.1,393.4 578.1,396.2 573.1,393.4 573.1,387.7" fill="#f0f5fa" stroke="#adadad" stroke-width="1.45" stroke-linejoin="round"/>
<polygon points="588.1,384.9 593.1,387.7 593.1,393.4 588.1,396.2 583.1,393.4 583.1,387.7" fill="#a6cee3" stroke="#adadad" stroke-width="1.45" stroke-linejoin="round"/>
<polygon points="598.1,384.9 603.1,387.7 603.1,393.4 598.1,396.2 593.1,393.4 593.1,387.7" fill="#c6dcee" stroke="#adadad" stroke-width="1.45" stroke-linejoin="round"/>
<polygon points="523.1,376.5 528.1,379.3 528.1,384.9 523.1,387.7 518.1,384.9 518.1,379.3" fill="#f6f3ee" stroke="#adadad" stroke-width="1.45" stroke-linejoin="round"/>
<polygon points="533.1,376.5 538.1,379.3 538.1,384.9 533.1,387.7 528.1,384.9 528.1,379.3" fill="#d9a652" stroke="#adadad" stroke-width="1.45" stroke-linejoin="round"/>
<polygon points="543.1,376.5 548.1,379.3 548.1,384.9 543.1,387.7 538.1,384.9 538.1,379.3" fill="#efd9a0" stroke="#adadad" stroke-width="1.45" stroke-linejoin="round"/>
<polygon points="553.1,376.5 558.1,379.3 558.1,384.9 553.1,387.7 548.1,384.9 548.1,379.3" fill="#e6eff8" stroke="#adadad" stroke-width="1.45" stroke-linejoin="round"/>
<polygon points="563.1,376.5 568.1,379.3 568.1,384.9 563.1,387.7 558.1,384.9 558.1,379.3" fill="#a6cee3" stroke="#adadad" stroke-width="1.45" stroke-linejoin="round"/>
<polygon points="573.1,376.5 578.1,379.3 578.1,384.9 573.1,387.7 568.1,384.9 568.1,379.3" fill="#ffffff" stroke="#adadad" stroke-width="1.45" stroke-linejoin="round"/>
<polygon points="583.1,376.5 588.1,379.3 588.1,384.9 583.1,387.7 578.1,384.9 578.1,379.3" fill="#f0f5fa" stroke="#adadad" stroke-width="1.45" stroke-linejoin="round"/>
<polygon points="593.1,376.5 598.1,379.3 598.1,384.9 593.1,387.7 588.1,384.9 588.1,379.3" fill="#e6eff8" stroke="#adadad" stroke-width="1.45" stroke-linejoin="round"/>
<polygon points="518.1,368.0 523.1,370.8 523.1,376.5 518.1,379.3 513.1,376.5 513.1,370.8" fill="#fbf0de" stroke="#adadad" stroke-width="1.45" stroke-linejoin="round"/>
<polygon points="528.1,368.0 533.1,370.8 533.1,376.5 528.1,379.3 523.1,376.5 523.1,370.8" fill="#fbf0de" stroke="#adadad" stroke-width="1.45" stroke-linejoin="round"/>
<polygon points="538.1,368.0 543.1,370.8 543.1,376.5 538.1,379.3 533.1,376.5 533.1,370.8" fill="#f5e3b6" stroke="#adadad" stroke-width="1.45" stroke-linejoin="round"/>
<polygon points="548.1,368.0 553.1,370.8 553.1,376.5 548.1,379.3 543.1,376.5 543.1,370.8" fill="#f0f5fa" stroke="#adadad" stroke-width="1.45" stroke-linejoin="round"/>
<polygon points="558.1,368.0 563.1,370.8 563.1,376.5 558.1,379.3 553.1,376.5 553.1,370.8" fill="#fbf0de" stroke="#adadad" stroke-width="1.45" stroke-linejoin="round"/>
<polygon points="568.1,368.0 573.1,370.8 573.1,376.5 568.1,379.3 563.1,376.5 563.1,370.8" fill="#f6f3ee" stroke="#adadad" stroke-width="1.45" stroke-linejoin="round"/>
<polygon points="578.1,368.0 583.1,370.8 583.1,376.5 578.1,379.3 573.1,376.5 573.1,370.8" fill="#e6eff8" stroke="#adadad" stroke-width="1.45" stroke-linejoin="round"/>
<polygon points="588.1,368.0 593.1,370.8 593.1,376.5 588.1,379.3 583.1,376.5 583.1,370.8" fill="#d6e6f3" stroke="#adadad" stroke-width="1.45" stroke-linejoin="round"/>
<polygon points="598.1,368.0 603.1,370.8 603.1,376.5 598.1,379.3 593.1,376.5 593.1,370.8" fill="#e6eff8" stroke="#adadad" stroke-width="1.45" stroke-linejoin="round"/>
<polygon points="533.1,359.6 538.1,362.4 538.1,368.0 533.1,370.8 528.1,368.0 528.1,362.4" fill="#f6f3ee" stroke="#adadad" stroke-width="1.45" stroke-linejoin="round"/>
<polygon points="563.1,359.6 568.1,362.4 568.1,368.0 563.1,370.8 558.1,368.0 558.1,362.4" fill="#d6e6f3" stroke="#adadad" stroke-width="1.45" stroke-linejoin="round"/>
<polygon points="573.1,359.6 578.1,362.4 578.1,368.0 573.1,370.8 568.1,368.0 568.1,362.4" fill="#e6eff8" stroke="#adadad" stroke-width="1.45" stroke-linejoin="round"/>
<polygon points="583.1,359.6 588.1,362.4 588.1,368.0 583.1,370.8 578.1,368.0 578.1,362.4" fill="#f0f5fa" stroke="#adadad" stroke-width="1.45" stroke-linejoin="round"/>
<polygon points="593.1,359.6 598.1,362.4 598.1,368.0 593.1,370.8 588.1,368.0 588.1,362.4" fill="#d6e6f3" stroke="#adadad" stroke-width="1.45" stroke-linejoin="round"/>
<polygon points="518.1,351.1 523.1,353.9 523.1,359.6 518.1,362.4 513.1,359.6 513.1,353.9" fill="#f6f3ee" stroke="#adadad" stroke-width="1.45" stroke-linejoin="round"/>
<polygon points="538.1,351.1 543.1,353.9 543.1,359.6 538.1,362.4 533.1,359.6 533.1,353.9" fill="#f6f3ee" stroke="#adadad" stroke-width="1.45" stroke-linejoin="round"/>
<polygon points="578.1,351.1 583.1,353.9 583.1,359.6 578.1,362.4 573.1,359.6 573.1,353.9" fill="#a6cee3" stroke="#adadad" stroke-width="1.45" stroke-linejoin="round"/>
<polygon points="588.1,351.1 593.1,353.9 593.1,359.6 588.1,362.4 583.1,359.6 583.1,353.9" fill="#d6e6f3" stroke="#adadad" stroke-width="1.45" stroke-linejoin="round"/>
<polygon points="598.1,351.1 603.1,353.9 603.1,359.6 598.1,362.4 593.1,359.6 593.1,353.9" fill="#a6cee3" stroke="#adadad" stroke-width="1.45" stroke-linejoin="round"/>
<polygon points="533.1,342.7 538.1,345.5 538.1,351.1 533.1,353.9 528.1,351.1 528.1,345.5" fill="#f6f3ee" stroke="#adadad" stroke-width="1.45" stroke-linejoin="round"/>
<polygon points="583.1,342.7 588.1,345.5 588.1,351.1 583.1,353.9 578.1,351.1 578.1,345.5" fill="#f0f5fa" stroke="#adadad" stroke-width="1.45" stroke-linejoin="round"/>
<polygon points="593.1,342.7 598.1,345.5 598.1,351.1 593.1,353.9 588.1,351.1 588.1,345.5" fill="#e6eff8" stroke="#adadad" stroke-width="1.45" stroke-linejoin="round"/>
<polygon points="578.1,334.2 583.1,337.0 583.1,342.7 578.1,345.5 573.1,342.7 573.1,337.0" fill="#f0f5fa" stroke="#adadad" stroke-width="1.45" stroke-linejoin="round"/>
<polygon points="598.1,334.2 603.1,337.0 603.1,342.7 598.1,345.5 593.1,342.7 593.1,337.0" fill="#f6f3ee" stroke="#adadad" stroke-width="1.45" stroke-linejoin="round"/>
<polygon points="563.1,325.8 568.1,328.6 568.1,334.2 563.1,337.0 558.1,334.2 558.1,328.6" fill="#f0f5fa" stroke="#adadad" stroke-width="1.45" stroke-linejoin="round"/>
<polygon points="593.1,325.8 598.1,328.6 598.1,334.2 593.1,337.0 588.1,334.2 588.1,328.6" fill="#e6eff8" stroke="#adadad" stroke-width="1.45" stroke-linejoin="round"/>
<polygon points="518.1,317.3 523.1,320.1 523.1,325.8 518.1,328.6 513.1,325.8 513.1,320.1" fill="#f6f3ee" stroke="#adadad" stroke-width="1.45" stroke-linejoin="round"/>
<polygon points="538.1,317.3 543.1,320.1 543.1,325.8 538.1,328.6 533.1,325.8 533.1,320.1" fill="#f6f3ee" stroke="#adadad" stroke-width="1.45" stroke-linejoin="round"/>
<polygon points="548.1,317.3 553.1,320.1 553.1,325.8 548.1,328.6 543.1,325.8 543.1,320.1" fill="#f6f3ee" stroke="#adadad" stroke-width="1.45" stroke-linejoin="round"/>
<polygon points="558.1,317.3 563.1,320.1 563.1,325.8 558.1,328.6 553.1,325.8 553.1,320.1" fill="#f6f3ee" stroke="#adadad" stroke-width="1.45" stroke-linejoin="round"/>
<polygon points="568.1,317.3 573.1,320.1 573.1,325.8 568.1,328.6 563.1,325.8 563.1,320.1" fill="#fbf0de" stroke="#adadad" stroke-width="1.45" stroke-linejoin="round"/>
<polygon points="578.1,317.3 583.1,320.1 583.1,325.8 578.1,328.6 573.1,325.8 573.1,320.1" fill="#f6f3ee" stroke="#adadad" stroke-width="1.45" stroke-linejoin="round"/>
<polygon points="588.1,317.3 593.1,320.1 593.1,325.8 588.1,328.6 583.1,325.8 583.1,320.1" fill="#f0f5fa" stroke="#adadad" stroke-width="1.45" stroke-linejoin="round"/>
<polygon points="598.1,317.3 603.1,320.1 603.1,325.8 598.1,328.6 593.1,325.8 593.1,320.1" fill="#e6eff8" stroke="#adadad" stroke-width="1.45" stroke-linejoin="round"/>
<polygon points="608.1,317.3 613.1,320.1 613.1,325.8 608.1,328.6 603.1,325.8 603.1,320.1" fill="#d6e6f3" stroke="#adadad" stroke-width="1.45" stroke-linejoin="round"/>
<text transform="translate(388.8 388) rotate(-90)" font-size="10.3" text-anchor="middle" fill="#262626">PET/P (Dryness index)</text>
<text x="486.2" y="492" font-size="10.9" fill="#262626">Temperature (°C)</text>
<path d="M411.3 367.8V323" stroke="#c98a2f" stroke-width="1.1" fill="none"/><path d="M411.3 316.8l-3.4 7.8l3.4 -1.8l3.4 1.8z" fill="#c98a2f"/>
<text transform="translate(406.3 346) rotate(-90)" font-size="10.3" text-anchor="middle" fill="#c98a2f">Dry</text>
<path d="M411.3 411.3V457" stroke="#2a6fb5" stroke-width="1.1" fill="none"/><path d="M411.3 463.2l-3.4 -7.8l3.4 1.8l3.4 -1.8z" fill="#2a6fb5"/>
<text transform="translate(406.3 435.7) rotate(-90)" font-size="10.3" text-anchor="middle" fill="#2a6fb5">Wet</text>
<path d="M480.6 487.5H444" stroke="#1c1cd0" stroke-width="1.1" fill="none"/><path d="M437.8 487.5l7.8 -3.4l-1.8 3.4l1.8 3.4z" fill="#1c1cd0"/>
<text x="461.5" y="497.4" font-size="9.8" text-anchor="middle" fill="#1c1cd0">Cold</text>
<path d="M573.5 488H611" stroke="#cc1f6a" stroke-width="1.1" fill="none"/><path d="M617 488l-7.8 -3.4l1.8 3.4l-1.8 3.4z" fill="#cc1f6a"/>
<text x="593.2" y="497.8" font-size="9.8" text-anchor="middle" fill="#cc1f6a">Warm</text>
<g shape-rendering="crispEdges">
<rect x="628.8" y="313.90" width="11.6" height="2.90" fill="#093370"/>
<rect x="628.8" y="316.20" width="11.6" height="2.90" fill="#0c3a7a"/>
<rect x="628.8" y="318.51" width="11.6" height="2.90" fill="#0e4183"/>
<rect x="628.8" y="320.81" width="11.6" height="2.90" fill="#11478d"/>
<rect x="628.8" y="323.11" width="11.6" height="2.90" fill="#134e97"/>
<rect x="628.8" y="325.42" width="11.6" height="2.90" fill="#16559e"/>
<rect x="628.8" y="327.72" width="11.6" height="2.90" fill="#195ba3"/>
<rect x="628.8" y="330.02" width="11.6" height="2.90" fill="#1c62a9"/>
<rect x="628.8" y="332.32" width="11.6" height="2.90" fill="#2069ae"/>
<rect x="628.8" y="334.63" width="11.6" height="2.90" fill="#236fb3"/>
<rect x="628.8" y="336.93" width="11.6" height="2.90" fill="#2976b7"/>
<rect x="628.8" y="339.23" width="11.6" height="2.90" fill="#2f7dbb"/>
<rect x="628.8" y="341.54" width="11.6" height="2.90" fill="#3685bf"/>
<rect x="628.8" y="343.84" width="11.6" height="2.90" fill="#3c8cc3"/>
<rect x="628.8" y="346.14" width="11.6" height="2.90" fill="#4393c6"/>
<rect x="628.8" y="348.45" width="11.6" height="2.90" fill="#4f9bcb"/>
<rect x="628.8" y="350.75" width="11.6" height="2.90" fill="#5ba3cf"/>
<rect x="628.8" y="353.05" width="11.6" height="2.90" fill="#67abd3"/>
<rect x="628.8" y="355.36" width="11.6" height="2.90" fill="#73b3d8"/>
<rect x="628.8" y="357.66" width="11.6" height="2.90" fill="#81badb"/>
<rect x="628.8" y="359.96" width="11.6" height="2.90" fill="#8fc1df"/>
<rect x="628.8" y="362.27" width="11.6" height="2.90" fill="#9dc8e2"/>
<rect x="628.8" y="364.57" width="11.6" height="2.90" fill="#aad0e5"/>
<rect x="628.8" y="366.87" width="11.6" height="2.90" fill="#b5d5e8"/>
<rect x="628.8" y="369.17" width="11.6" height="2.90" fill="#c0daeb"/>
<rect x="628.8" y="371.48" width="11.6" height="2.90" fill="#cbdfee"/>
<rect x="628.8" y="373.78" width="11.6" height="2.90" fill="#d5e4f0"/>
<rect x="628.8" y="376.08" width="11.6" height="2.90" fill="#dce8f2"/>
<rect x="628.8" y="378.39" width="11.6" height="2.90" fill="#e3ecf4"/>
<rect x="628.8" y="380.69" width="11.6" height="2.90" fill="#eaf0f6"/>
<rect x="628.8" y="382.99" width="11.6" height="2.90" fill="#f0f2f4"/>
<rect x="628.8" y="385.30" width="11.6" height="2.90" fill="#f5f5f2"/>
<rect x="628.8" y="387.60" width="11.6" height="2.90" fill="#f9f5ed"/>
<rect x="628.8" y="389.90" width="11.6" height="2.90" fill="#faf2e5"/>
<rect x="628.8" y="392.21" width="11.6" height="2.90" fill="#fbf0dc"/>
<rect x="628.8" y="394.51" width="11.6" height="2.90" fill="#f9ebce"/>
<rect x="628.8" y="396.81" width="11.6" height="2.90" fill="#f6e5be"/>
<rect x="628.8" y="399.12" width="11.6" height="2.90" fill="#f4dfaf"/>
<rect x="628.8" y="401.42" width="11.6" height="2.90" fill="#f0d8a0"/>
<rect x="628.8" y="403.72" width="11.6" height="2.90" fill="#ecd192"/>
<rect x="628.8" y="406.02" width="11.6" height="2.90" fill="#e8c984"/>
<rect x="628.8" y="408.33" width="11.6" height="2.90" fill="#e3c275"/>
<rect x="628.8" y="410.63" width="11.6" height="2.90" fill="#deb868"/>
<rect x="628.8" y="412.93" width="11.6" height="2.90" fill="#d9af5b"/>
<rect x="628.8" y="415.24" width="11.6" height="2.90" fill="#d4a54d"/>
<rect x="628.8" y="417.54" width="11.6" height="2.90" fill="#cf9c41"/>
<rect x="628.8" y="419.84" width="11.6" height="2.90" fill="#c99439"/>
<rect x="628.8" y="422.15" width="11.6" height="2.90" fill="#c38c31"/>
<rect x="628.8" y="424.45" width="11.6" height="2.90" fill="#bd8429"/>
<rect x="628.8" y="426.75" width="11.6" height="2.90" fill="#b77d21"/>
<rect x="628.8" y="429.06" width="11.6" height="2.90" fill="#b0761d"/>
<rect x="628.8" y="431.36" width="11.6" height="2.90" fill="#aa701a"/>
<rect x="628.8" y="433.66" width="11.6" height="2.90" fill="#a46a16"/>
<rect x="628.8" y="435.97" width="11.6" height="2.90" fill="#9e6413"/>
<rect x="628.8" y="438.27" width="11.6" height="2.90" fill="#975e10"/>
<rect x="628.8" y="440.57" width="11.6" height="2.90" fill="#91590f"/>
<rect x="628.8" y="442.88" width="11.6" height="2.90" fill="#8b540e"/>
<rect x="628.8" y="445.18" width="11.6" height="2.90" fill="#85500d"/>
<rect x="628.8" y="447.48" width="11.6" height="2.90" fill="#7e4b0c"/>
<rect x="628.8" y="449.78" width="11.6" height="2.90" fill="#78470b"/>
<rect x="628.8" y="452.09" width="11.6" height="2.90" fill="#71420a"/>
<rect x="628.8" y="454.39" width="11.6" height="2.90" fill="#6b3e09"/>
<rect x="628.8" y="456.69" width="11.6" height="2.90" fill="#643a08"/>
<rect x="628.8" y="459.00" width="11.6" height="2.90" fill="#5d3507"/>
</g>
<rect x="628.8" y="313.9" width="11.6" height="147.4" fill="none" stroke="#555" stroke-width="0.6"/>
<line x1="638.9" x2="640.4" y1="314.4" y2="314.4" stroke="#444" stroke-width="0.5"/>
<text x="643.6" y="318.3" font-size="11" fill="#262626">0.16</text>
<line x1="638.9" x2="640.4" y1="351.1" y2="351.1" stroke="#444" stroke-width="0.5"/>
<text x="643.6" y="355.0" font-size="11" fill="#262626">0.08</text>
<line x1="638.9" x2="640.4" y1="387.8" y2="387.8" stroke="#444" stroke-width="0.5"/>
<text x="643.6" y="391.7" font-size="11" fill="#262626">0</text>
<line x1="638.9" x2="640.4" y1="424.6" y2="424.6" stroke="#444" stroke-width="0.5"/>
<text x="643.6" y="428.5" font-size="11" fill="#262626">-0.08</text>
<line x1="638.9" x2="640.4" y1="461.3" y2="461.3" stroke="#444" stroke-width="0.5"/>
<text x="643.6" y="465.2" font-size="11" fill="#262626">-0.16</text>
<text transform="translate(681.2 387.6) rotate(-90)" font-size="10.5" fill="#262626" text-anchor="middle">mm day<tspan dy="-3.6" font-size="6.3">-1</tspan></text>
</svg></body></html>
